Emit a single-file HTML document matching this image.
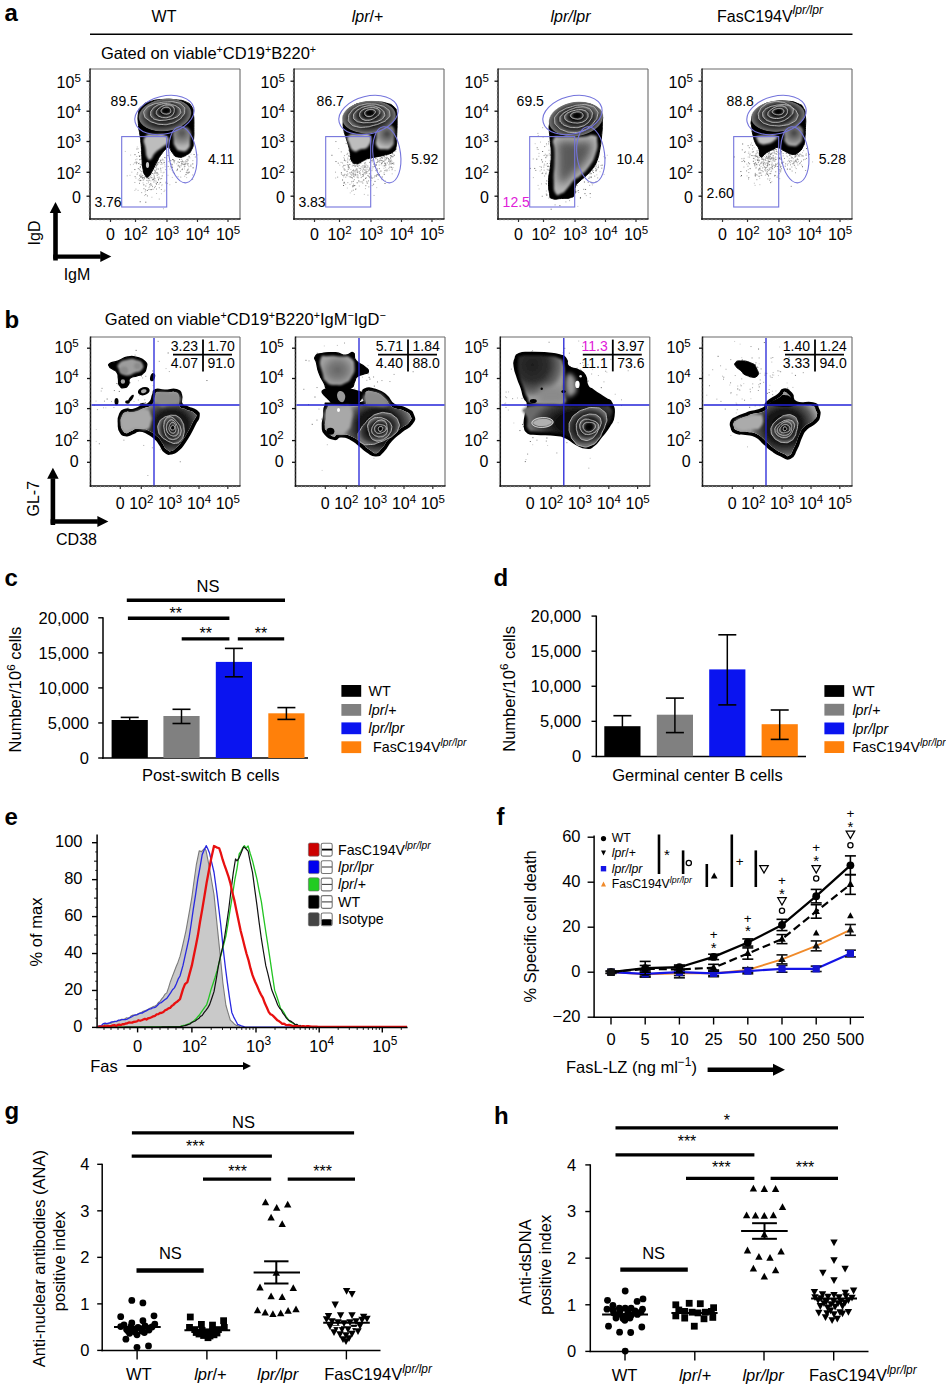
<!DOCTYPE html><html><head><meta charset="utf-8"><style>html,body{margin:0;padding:0;background:#fff;overflow:hidden}svg{display:block}</style></head><body><svg width="946" height="1385" viewBox="0 0 946 1385" font-family='"Liberation Sans", sans-serif'><defs><filter id="bl0" x="-30%" y="-30%" width="160%" height="160%"><feGaussianBlur stdDeviation="0.9"/></filter><radialGradient id="rg1" gradientUnits="userSpaceOnUse" cx="182" cy="133" r="14"><stop offset="0" stop-color="#505050"/><stop offset="0.6" stop-color="#8a8a8a"/><stop offset="1" stop-color="#b8b8b8"/></radialGradient><filter id="bl1" x="-30%" y="-30%" width="160%" height="160%"><feGaussianBlur stdDeviation="0.4"/></filter><radialGradient id="rg2" gradientUnits="userSpaceOnUse" cx="165" cy="115" r="10" gradientTransform="translate(165 115) rotate(-4) scale(2.7 1.65) translate(-165 -115)"><stop offset="0" stop-color="#000"/><stop offset="0.55" stop-color="#101010"/><stop offset="0.82" stop-color="#4a4a4a"/><stop offset="0.95" stop-color="#707070"/><stop offset="1" stop-color="#707070" stop-opacity="0"/></radialGradient><radialGradient id="rg3" gradientUnits="userSpaceOnUse" cx="164.7" cy="112.9" r="10" gradientTransform="translate(164.7 112.9) rotate(-6) scale(1.99 1.26) translate(-164.7 -112.9)"><stop offset="0" stop-color="#000"/><stop offset="0.5" stop-color="#0a0a0a"/><stop offset="0.8" stop-color="#363636"/><stop offset="1" stop-color="#6e6e6e"/></radialGradient><radialGradient id="rg4" gradientUnits="userSpaceOnUse" cx="165.2" cy="112.1" r="10" gradientTransform="translate(165.2 112.1) rotate(-6) scale(1.47 0.92) translate(-165.2 -112.1)"><stop offset="0" stop-color="#000"/><stop offset="0.5" stop-color="#0a0a0a"/><stop offset="0.8" stop-color="#363636"/><stop offset="1" stop-color="#6e6e6e"/></radialGradient><radialGradient id="rg5" gradientUnits="userSpaceOnUse" cx="165.65" cy="111.4" r="10" gradientTransform="translate(165.65 111.4) rotate(-6) scale(1 0.63) translate(-165.65 -111.4)"><stop offset="0" stop-color="#000"/><stop offset="0.5" stop-color="#0a0a0a"/><stop offset="0.8" stop-color="#363636"/><stop offset="1" stop-color="#6e6e6e"/></radialGradient><radialGradient id="rg6" gradientUnits="userSpaceOnUse" cx="166.08" cy="110.72" r="10" gradientTransform="translate(166.08 110.72) rotate(-6) scale(0.55 0.35) translate(-166.08 -110.72)"><stop offset="0" stop-color="#000"/><stop offset="0.5" stop-color="#0a0a0a"/><stop offset="0.8" stop-color="#363636"/><stop offset="1" stop-color="#6e6e6e"/></radialGradient><filter id="bl2" x="-30%" y="-30%" width="160%" height="160%"><feGaussianBlur stdDeviation="1"/></filter><radialGradient id="rg7" gradientUnits="userSpaceOnUse" cx="387" cy="134" r="14"><stop offset="0" stop-color="#404040"/><stop offset="0.6" stop-color="#888"/><stop offset="1" stop-color="#bdbdbd"/></radialGradient><radialGradient id="rg8" gradientUnits="userSpaceOnUse" cx="369" cy="117" r="10" gradientTransform="translate(369 117) rotate(-3) scale(2.75 1.65) translate(-369 -117)"><stop offset="0" stop-color="#000"/><stop offset="0.55" stop-color="#101010"/><stop offset="0.82" stop-color="#4a4a4a"/><stop offset="0.95" stop-color="#707070"/><stop offset="1" stop-color="#707070" stop-opacity="0"/></radialGradient><radialGradient id="rg9" gradientUnits="userSpaceOnUse" cx="368.5" cy="115.5" r="10" gradientTransform="translate(368.5 115.5) rotate(-6) scale(2.05 1.26) translate(-368.5 -115.5)"><stop offset="0" stop-color="#000"/><stop offset="0.5" stop-color="#0a0a0a"/><stop offset="0.8" stop-color="#363636"/><stop offset="1" stop-color="#6e6e6e"/></radialGradient><radialGradient id="rg10" gradientUnits="userSpaceOnUse" cx="369" cy="114.6" r="10" gradientTransform="translate(369 114.6) rotate(-6) scale(1.52 0.95) translate(-369 -114.6)"><stop offset="0" stop-color="#000"/><stop offset="0.5" stop-color="#0a0a0a"/><stop offset="0.8" stop-color="#363636"/><stop offset="1" stop-color="#6e6e6e"/></radialGradient><radialGradient id="rg11" gradientUnits="userSpaceOnUse" cx="369.45" cy="113.76" r="10" gradientTransform="translate(369.45 113.76) rotate(-6) scale(1.05 0.65) translate(-369.45 -113.76)"><stop offset="0" stop-color="#000"/><stop offset="0.5" stop-color="#0a0a0a"/><stop offset="0.8" stop-color="#363636"/><stop offset="1" stop-color="#6e6e6e"/></radialGradient><radialGradient id="rg12" gradientUnits="userSpaceOnUse" cx="369.9" cy="112.92" r="10" gradientTransform="translate(369.9 112.92) rotate(-6) scale(0.58 0.36) translate(-369.9 -112.92)"><stop offset="0" stop-color="#000"/><stop offset="0.5" stop-color="#0a0a0a"/><stop offset="0.8" stop-color="#363636"/><stop offset="1" stop-color="#6e6e6e"/></radialGradient><filter id="bl3" x="-30%" y="-30%" width="160%" height="160%"><feGaussianBlur stdDeviation="0.8"/></filter><filter id="bl4" x="-30%" y="-30%" width="160%" height="160%"><feGaussianBlur stdDeviation="4"/></filter><radialGradient id="rg13" gradientUnits="userSpaceOnUse" cx="576" cy="119" r="10" gradientTransform="translate(576 119) rotate(-5) scale(2.8 1.75) translate(-576 -119)"><stop offset="0" stop-color="#000"/><stop offset="0.55" stop-color="#101010"/><stop offset="0.82" stop-color="#4a4a4a"/><stop offset="0.95" stop-color="#707070"/><stop offset="1" stop-color="#707070" stop-opacity="0"/></radialGradient><radialGradient id="rg14" gradientUnits="userSpaceOnUse" cx="576.3" cy="118.4" r="10" gradientTransform="translate(576.3 118.4) rotate(-6) scale(2.21 1.42) translate(-576.3 -118.4)"><stop offset="0" stop-color="#000"/><stop offset="0.5" stop-color="#0a0a0a"/><stop offset="0.8" stop-color="#363636"/><stop offset="1" stop-color="#6e6e6e"/></radialGradient><radialGradient id="rg15" gradientUnits="userSpaceOnUse" cx="576.55" cy="117.35" r="10" gradientTransform="translate(576.55 117.35) rotate(-6) scale(1.68 1.05) translate(-576.55 -117.35)"><stop offset="0" stop-color="#000"/><stop offset="0.5" stop-color="#0a0a0a"/><stop offset="0.8" stop-color="#363636"/><stop offset="1" stop-color="#6e6e6e"/></radialGradient><radialGradient id="rg16" gradientUnits="userSpaceOnUse" cx="576.8" cy="116.45" r="10" gradientTransform="translate(576.8 116.45) rotate(-6) scale(1.16 0.74) translate(-576.8 -116.45)"><stop offset="0" stop-color="#000"/><stop offset="0.5" stop-color="#0a0a0a"/><stop offset="0.8" stop-color="#363636"/><stop offset="1" stop-color="#6e6e6e"/></radialGradient><radialGradient id="rg17" gradientUnits="userSpaceOnUse" cx="577.05" cy="115.49" r="10" gradientTransform="translate(577.05 115.49) rotate(-6) scale(0.63 0.4) translate(-577.05 -115.49)"><stop offset="0" stop-color="#000"/><stop offset="0.5" stop-color="#0a0a0a"/><stop offset="0.8" stop-color="#363636"/><stop offset="1" stop-color="#6e6e6e"/></radialGradient><radialGradient id="rg18" gradientUnits="userSpaceOnUse" cx="794" cy="133" r="14"><stop offset="0" stop-color="#404040"/><stop offset="0.6" stop-color="#888"/><stop offset="1" stop-color="#bdbdbd"/></radialGradient><radialGradient id="rg19" gradientUnits="userSpaceOnUse" cx="778" cy="116" r="10" gradientTransform="translate(778 116) rotate(-3) scale(2.75 1.6) translate(-778 -116)"><stop offset="0" stop-color="#000"/><stop offset="0.55" stop-color="#101010"/><stop offset="0.82" stop-color="#4a4a4a"/><stop offset="0.95" stop-color="#707070"/><stop offset="1" stop-color="#707070" stop-opacity="0"/></radialGradient><radialGradient id="rg20" gradientUnits="userSpaceOnUse" cx="777.6" cy="114.2" r="10" gradientTransform="translate(777.6 114.2) rotate(-6) scale(2.05 1.26) translate(-777.6 -114.2)"><stop offset="0" stop-color="#000"/><stop offset="0.5" stop-color="#0a0a0a"/><stop offset="0.8" stop-color="#363636"/><stop offset="1" stop-color="#6e6e6e"/></radialGradient><radialGradient id="rg21" gradientUnits="userSpaceOnUse" cx="777.85" cy="113.3" r="10" gradientTransform="translate(777.85 113.3) rotate(-6) scale(1.52 0.95) translate(-777.85 -113.3)"><stop offset="0" stop-color="#000"/><stop offset="0.5" stop-color="#0a0a0a"/><stop offset="0.8" stop-color="#363636"/><stop offset="1" stop-color="#6e6e6e"/></radialGradient><radialGradient id="rg22" gradientUnits="userSpaceOnUse" cx="778.08" cy="112.4" r="10" gradientTransform="translate(778.08 112.4) rotate(-6) scale(1.05 0.63) translate(-778.08 -112.4)"><stop offset="0" stop-color="#000"/><stop offset="0.5" stop-color="#0a0a0a"/><stop offset="0.8" stop-color="#363636"/><stop offset="1" stop-color="#6e6e6e"/></radialGradient><radialGradient id="rg23" gradientUnits="userSpaceOnUse" cx="778.3" cy="111.62" r="10" gradientTransform="translate(778.3 111.62) rotate(-6) scale(0.58 0.36) translate(-778.3 -111.62)"><stop offset="0" stop-color="#000"/><stop offset="0.5" stop-color="#0a0a0a"/><stop offset="0.8" stop-color="#363636"/><stop offset="1" stop-color="#6e6e6e"/></radialGradient><radialGradient id="rg24" gradientUnits="userSpaceOnUse" cx="171.5" cy="427" r="10" gradientTransform="translate(171.5 427) rotate(0) scale(3 2.8) translate(-171.5 -427)"><stop offset="0" stop-color="#000"/><stop offset="0.5" stop-color="#1a1a1a"/><stop offset="0.8" stop-color="#5a5a5a"/><stop offset="1" stop-color="#9a9a9a"/></radialGradient><filter id="er0" x="-10%" y="-10%" width="120%" height="120%"><feMorphology operator="erode" radius="1.6"/></filter><filter id="er1" x="-10%" y="-10%" width="120%" height="120%"><feMorphology operator="erode" radius="2.4"/></filter><filter id="bl5" x="-30%" y="-30%" width="160%" height="160%"><feGaussianBlur stdDeviation="1.3"/></filter><filter id="bl6" x="-30%" y="-30%" width="160%" height="160%"><feGaussianBlur stdDeviation="1.5"/></filter><radialGradient id="rg25" gradientUnits="userSpaceOnUse" cx="171.7" cy="429" r="10" gradientTransform="translate(171.7 429) rotate(-5) scale(1.26 1.57) translate(-171.7 -429)"><stop offset="0" stop-color="#000"/><stop offset="0.5" stop-color="#0a0a0a"/><stop offset="0.8" stop-color="#363636"/><stop offset="1" stop-color="#6e6e6e"/></radialGradient><radialGradient id="rg26" gradientUnits="userSpaceOnUse" cx="172.05" cy="428.6" r="10" gradientTransform="translate(172.05 428.6) rotate(-5) scale(0.89 1.16) translate(-172.05 -428.6)"><stop offset="0" stop-color="#000"/><stop offset="0.5" stop-color="#0a0a0a"/><stop offset="0.8" stop-color="#363636"/><stop offset="1" stop-color="#6e6e6e"/></radialGradient><radialGradient id="rg27" gradientUnits="userSpaceOnUse" cx="172.3" cy="428.28" r="10" gradientTransform="translate(172.3 428.28) rotate(-5) scale(0.63 0.82) translate(-172.3 -428.28)"><stop offset="0" stop-color="#000"/><stop offset="0.5" stop-color="#0a0a0a"/><stop offset="0.8" stop-color="#363636"/><stop offset="1" stop-color="#6e6e6e"/></radialGradient><radialGradient id="rg28" gradientUnits="userSpaceOnUse" cx="172.52" cy="428" r="10" gradientTransform="translate(172.52 428) rotate(-5) scale(0.4 0.53) translate(-172.52 -428)"><stop offset="0" stop-color="#000"/><stop offset="0.5" stop-color="#0a0a0a"/><stop offset="0.8" stop-color="#363636"/><stop offset="1" stop-color="#6e6e6e"/></radialGradient><radialGradient id="rg29" gradientUnits="userSpaceOnUse" cx="172.7" cy="427.76" r="10" gradientTransform="translate(172.7 427.76) rotate(-5) scale(0.21 0.27) translate(-172.7 -427.76)"><stop offset="0" stop-color="#000"/><stop offset="0.5" stop-color="#0a0a0a"/><stop offset="0.8" stop-color="#363636"/><stop offset="1" stop-color="#6e6e6e"/></radialGradient><radialGradient id="rg30" gradientUnits="userSpaceOnUse" cx="337.5" cy="370" r="10" gradientTransform="translate(337.5 370) rotate(0) scale(1.7 1.5) translate(-337.5 -370)"><stop offset="0" stop-color="#666"/><stop offset="0.5" stop-color="#7a7a7a"/><stop offset="1" stop-color="#a0a0a0"/></radialGradient><filter id="bl7" x="-30%" y="-30%" width="160%" height="160%"><feGaussianBlur stdDeviation="0.6"/></filter><radialGradient id="rg31" gradientUnits="userSpaceOnUse" cx="378.5" cy="427" r="10" gradientTransform="translate(378.5 427) rotate(0) scale(3.4 2.8) translate(-378.5 -427)"><stop offset="0" stop-color="#000"/><stop offset="0.55" stop-color="#1a1a1a"/><stop offset="0.82" stop-color="#5a5a5a"/><stop offset="1" stop-color="#9a9a9a"/></radialGradient><radialGradient id="rg32" gradientUnits="userSpaceOnUse" cx="378.7" cy="428.8" r="10" gradientTransform="translate(378.7 428.8) rotate(-20) scale(2.1 1.52) translate(-378.7 -428.8)"><stop offset="0" stop-color="#000"/><stop offset="0.5" stop-color="#0a0a0a"/><stop offset="0.8" stop-color="#363636"/><stop offset="1" stop-color="#6e6e6e"/></radialGradient><radialGradient id="rg33" gradientUnits="userSpaceOnUse" cx="379.4" cy="428.8" r="10" gradientTransform="translate(379.4 428.8) rotate(-20) scale(1.36 1.1) translate(-379.4 -428.8)"><stop offset="0" stop-color="#000"/><stop offset="0.5" stop-color="#0a0a0a"/><stop offset="0.8" stop-color="#363636"/><stop offset="1" stop-color="#6e6e6e"/></radialGradient><radialGradient id="rg34" gradientUnits="userSpaceOnUse" cx="379.82" cy="428.8" r="10" gradientTransform="translate(379.82 428.8) rotate(-20) scale(0.92 0.79) translate(-379.82 -428.8)"><stop offset="0" stop-color="#000"/><stop offset="0.5" stop-color="#0a0a0a"/><stop offset="0.8" stop-color="#363636"/><stop offset="1" stop-color="#6e6e6e"/></radialGradient><radialGradient id="rg35" gradientUnits="userSpaceOnUse" cx="380.15" cy="428.8" r="10" gradientTransform="translate(380.15 428.8) rotate(-20) scale(0.58 0.5) translate(-380.15 -428.8)"><stop offset="0" stop-color="#000"/><stop offset="0.5" stop-color="#0a0a0a"/><stop offset="0.8" stop-color="#363636"/><stop offset="1" stop-color="#6e6e6e"/></radialGradient><radialGradient id="rg36" gradientUnits="userSpaceOnUse" cx="380.45" cy="428.8" r="10" gradientTransform="translate(380.45 428.8) rotate(-20) scale(0.26 0.24) translate(-380.45 -428.8)"><stop offset="0" stop-color="#000"/><stop offset="0.5" stop-color="#0a0a0a"/><stop offset="0.8" stop-color="#363636"/><stop offset="1" stop-color="#6e6e6e"/></radialGradient><radialGradient id="rg37" gradientUnits="userSpaceOnUse" cx="532.3" cy="365" r="10" gradientTransform="translate(532.3 365) rotate(0) scale(3.2 3.2) translate(-532.3 -365)"><stop offset="0" stop-color="#1e1e1e"/><stop offset="0.5" stop-color="#2e2e2e"/><stop offset="0.85" stop-color="#6a6a6a"/><stop offset="1" stop-color="#9a9a9a"/></radialGradient><filter id="bl8" x="-30%" y="-30%" width="160%" height="160%"><feGaussianBlur stdDeviation="3"/></filter><filter id="bl9" x="-30%" y="-30%" width="160%" height="160%"><feGaussianBlur stdDeviation="2"/></filter><radialGradient id="rg38" gradientUnits="userSpaceOnUse" cx="580.3" cy="423" r="10" gradientTransform="translate(580.3 423) rotate(0) scale(5 2.5) translate(-580.3 -423)"><stop offset="0" stop-color="#000"/><stop offset="0.5" stop-color="#111"/><stop offset="0.8" stop-color="#3a3a3a"/><stop offset="1" stop-color="#6a6a6a"/></radialGradient><radialGradient id="rg39" gradientUnits="userSpaceOnUse" cx="587.6" cy="426.3" r="10" gradientTransform="translate(587.6 426.3) rotate(-25) scale(2.15 1.79) translate(-587.6 -426.3)"><stop offset="0" stop-color="#000"/><stop offset="0.5" stop-color="#0a0a0a"/><stop offset="0.8" stop-color="#363636"/><stop offset="1" stop-color="#6e6e6e"/></radialGradient><radialGradient id="rg40" gradientUnits="userSpaceOnUse" cx="588.3" cy="426.57" r="10" gradientTransform="translate(588.3 426.57) rotate(-25) scale(1.42 1.21) translate(-588.3 -426.57)"><stop offset="0" stop-color="#000"/><stop offset="0.5" stop-color="#0a0a0a"/><stop offset="0.8" stop-color="#363636"/><stop offset="1" stop-color="#6e6e6e"/></radialGradient><radialGradient id="rg41" gradientUnits="userSpaceOnUse" cx="588.77" cy="426.75" r="10" gradientTransform="translate(588.77 426.75) rotate(-25) scale(0.92 0.84) translate(-588.77 -426.75)"><stop offset="0" stop-color="#000"/><stop offset="0.5" stop-color="#0a0a0a"/><stop offset="0.8" stop-color="#363636"/><stop offset="1" stop-color="#6e6e6e"/></radialGradient><radialGradient id="rg42" gradientUnits="userSpaceOnUse" cx="589.07" cy="426.89" r="10" gradientTransform="translate(589.07 426.89) rotate(-25) scale(0.61 0.55) translate(-589.07 -426.89)"><stop offset="0" stop-color="#000"/><stop offset="0.5" stop-color="#0a0a0a"/><stop offset="0.8" stop-color="#363636"/><stop offset="1" stop-color="#6e6e6e"/></radialGradient><radialGradient id="rg43" gradientUnits="userSpaceOnUse" cx="542.5" cy="422.5" r="10" gradientTransform="translate(542.5 422.5) rotate(-3) scale(1.08 0.5) translate(-542.5 -422.5)"><stop offset="0" stop-color="#000"/><stop offset="0.5" stop-color="#0d0d0d"/><stop offset="0.8" stop-color="#3a3a3a"/><stop offset="1" stop-color="#b0b0b0"/></radialGradient><filter id="bl10" x="-30%" y="-30%" width="160%" height="160%"><feGaussianBlur stdDeviation="0.5"/></filter><radialGradient id="rg44" gradientUnits="userSpaceOnUse" cx="784.5" cy="427" r="10" gradientTransform="translate(784.5 427) rotate(0) scale(3.2 3) translate(-784.5 -427)"><stop offset="0" stop-color="#000"/><stop offset="0.5" stop-color="#1a1a1a"/><stop offset="0.8" stop-color="#5a5a5a"/><stop offset="1" stop-color="#9a9a9a"/></radialGradient><filter id="bl11" x="-30%" y="-30%" width="160%" height="160%"><feGaussianBlur stdDeviation="1.2"/></filter><radialGradient id="rg45" gradientUnits="userSpaceOnUse" cx="784.9" cy="428.8" r="10" gradientTransform="translate(784.9 428.8) rotate(-10) scale(1.47 1.33) translate(-784.9 -428.8)"><stop offset="0" stop-color="#000"/><stop offset="0.5" stop-color="#0a0a0a"/><stop offset="0.8" stop-color="#363636"/><stop offset="1" stop-color="#6e6e6e"/></radialGradient><radialGradient id="rg46" gradientUnits="userSpaceOnUse" cx="784.9" cy="428.8" r="10" gradientTransform="translate(784.9 428.8) rotate(-10) scale(1.05 0.86) translate(-784.9 -428.8)"><stop offset="0" stop-color="#000"/><stop offset="0.5" stop-color="#0a0a0a"/><stop offset="0.8" stop-color="#363636"/><stop offset="1" stop-color="#6e6e6e"/></radialGradient><radialGradient id="rg47" gradientUnits="userSpaceOnUse" cx="784.9" cy="428.8" r="10" gradientTransform="translate(784.9 428.8) rotate(-10) scale(0.8 0.66) translate(-784.9 -428.8)"><stop offset="0" stop-color="#000"/><stop offset="0.5" stop-color="#0a0a0a"/><stop offset="0.8" stop-color="#363636"/><stop offset="1" stop-color="#6e6e6e"/></radialGradient><radialGradient id="rg48" gradientUnits="userSpaceOnUse" cx="784.9" cy="428.8" r="10" gradientTransform="translate(784.9 428.8) rotate(-10) scale(0.5 0.46) translate(-784.9 -428.8)"><stop offset="0" stop-color="#000"/><stop offset="0.5" stop-color="#0a0a0a"/><stop offset="0.8" stop-color="#363636"/><stop offset="1" stop-color="#6e6e6e"/></radialGradient><radialGradient id="rg49" gradientUnits="userSpaceOnUse" cx="784.9" cy="428.8" r="10" gradientTransform="translate(784.9 428.8) rotate(-10) scale(0.21 0.19) translate(-784.9 -428.8)"><stop offset="0" stop-color="#000"/><stop offset="0.5" stop-color="#0a0a0a"/><stop offset="0.8" stop-color="#363636"/><stop offset="1" stop-color="#6e6e6e"/></radialGradient></defs><rect width="946" height="1385" fill="#fff"/><text x="4.5" y="20.5" font-size="24" font-weight="bold">a</text>
<text x="164" y="22" font-size="16" text-anchor="middle">WT</text>
<text x="367.5" y="22" font-size="16" text-anchor="middle"><tspan font-style="italic">lpr</tspan><tspan>/+</tspan></text>
<text x="570.5" y="22" font-size="16" text-anchor="middle"><tspan font-style="italic">lpr</tspan><tspan font-style="italic">/</tspan><tspan font-style="italic">lpr</tspan></text>
<text x="717" y="22" font-size="16"><tspan>FasC194V</tspan><tspan font-size="12.16" dy="-8.32" font-style="italic">lpr/lpr</tspan></text>
<line x1="90" y1="34.2" x2="852.5" y2="34.2" stroke="#000" stroke-width="1.4"/>
<text x="101" y="58.6" font-size="16.5"><tspan>Gated on viable</tspan><tspan font-size="10.72" dy="-5.94">+</tspan><tspan dy="5.94">CD19</tspan><tspan font-size="10.72" dy="-5.94">+</tspan><tspan dy="5.94">B220</tspan><tspan font-size="10.72" dy="-5.94">+</tspan></text>
<line x1="90" y1="69" x2="240" y2="69" stroke="#6a6a6a" stroke-width="1.1"/>
<line x1="240" y1="69" x2="240" y2="219" stroke="#6a6a6a" stroke-width="1.1"/>
<line x1="90" y1="68.5" x2="90" y2="219.8" stroke="#151515" stroke-width="1.5"/>
<line x1="89.2" y1="219" x2="240.5" y2="219" stroke="#151515" stroke-width="1.5"/>
<line x1="88.5" y1="71" x2="90" y2="71" stroke="#999" stroke-width="0.7"/>
<line x1="88.5" y1="75" x2="90" y2="75" stroke="#999" stroke-width="0.7"/>
<line x1="88.5" y1="79" x2="90" y2="79" stroke="#999" stroke-width="0.7"/>
<line x1="88.5" y1="83" x2="90" y2="83" stroke="#999" stroke-width="0.7"/>
<line x1="88.5" y1="87" x2="90" y2="87" stroke="#999" stroke-width="0.7"/>
<line x1="88.5" y1="91" x2="90" y2="91" stroke="#999" stroke-width="0.7"/>
<line x1="88.5" y1="95" x2="90" y2="95" stroke="#999" stroke-width="0.7"/>
<line x1="88.5" y1="99" x2="90" y2="99" stroke="#999" stroke-width="0.7"/>
<line x1="88.5" y1="103" x2="90" y2="103" stroke="#999" stroke-width="0.7"/>
<line x1="88.5" y1="107" x2="90" y2="107" stroke="#999" stroke-width="0.7"/>
<line x1="88.5" y1="111" x2="90" y2="111" stroke="#999" stroke-width="0.7"/>
<line x1="88.5" y1="115" x2="90" y2="115" stroke="#999" stroke-width="0.7"/>
<line x1="88.5" y1="119" x2="90" y2="119" stroke="#999" stroke-width="0.7"/>
<line x1="88.5" y1="123" x2="90" y2="123" stroke="#999" stroke-width="0.7"/>
<line x1="88.5" y1="127" x2="90" y2="127" stroke="#999" stroke-width="0.7"/>
<line x1="88.5" y1="131" x2="90" y2="131" stroke="#999" stroke-width="0.7"/>
<line x1="88.5" y1="135" x2="90" y2="135" stroke="#999" stroke-width="0.7"/>
<line x1="88.5" y1="139" x2="90" y2="139" stroke="#999" stroke-width="0.7"/>
<line x1="88.5" y1="143" x2="90" y2="143" stroke="#999" stroke-width="0.7"/>
<line x1="88.5" y1="147" x2="90" y2="147" stroke="#999" stroke-width="0.7"/>
<line x1="88.5" y1="151" x2="90" y2="151" stroke="#999" stroke-width="0.7"/>
<line x1="88.5" y1="155" x2="90" y2="155" stroke="#999" stroke-width="0.7"/>
<line x1="88.5" y1="159" x2="90" y2="159" stroke="#999" stroke-width="0.7"/>
<line x1="88.5" y1="163" x2="90" y2="163" stroke="#999" stroke-width="0.7"/>
<line x1="88.5" y1="167" x2="90" y2="167" stroke="#999" stroke-width="0.7"/>
<line x1="88.5" y1="171" x2="90" y2="171" stroke="#999" stroke-width="0.7"/>
<line x1="88.5" y1="175" x2="90" y2="175" stroke="#999" stroke-width="0.7"/>
<line x1="88.5" y1="179" x2="90" y2="179" stroke="#999" stroke-width="0.7"/>
<line x1="88.5" y1="183" x2="90" y2="183" stroke="#999" stroke-width="0.7"/>
<line x1="88.5" y1="187" x2="90" y2="187" stroke="#999" stroke-width="0.7"/>
<line x1="88.5" y1="191" x2="90" y2="191" stroke="#999" stroke-width="0.7"/>
<line x1="88.5" y1="195" x2="90" y2="195" stroke="#999" stroke-width="0.7"/>
<line x1="88.5" y1="199" x2="90" y2="199" stroke="#999" stroke-width="0.7"/>
<line x1="88.5" y1="203" x2="90" y2="203" stroke="#999" stroke-width="0.7"/>
<line x1="88.5" y1="207" x2="90" y2="207" stroke="#999" stroke-width="0.7"/>
<line x1="88.5" y1="211" x2="90" y2="211" stroke="#999" stroke-width="0.7"/>
<line x1="88.5" y1="215" x2="90" y2="215" stroke="#999" stroke-width="0.7"/>
<line x1="92" y1="219" x2="92" y2="220.5" stroke="#999" stroke-width="0.7"/>
<line x1="96" y1="219" x2="96" y2="220.5" stroke="#999" stroke-width="0.7"/>
<line x1="100" y1="219" x2="100" y2="220.5" stroke="#999" stroke-width="0.7"/>
<line x1="104" y1="219" x2="104" y2="220.5" stroke="#999" stroke-width="0.7"/>
<line x1="108" y1="219" x2="108" y2="220.5" stroke="#999" stroke-width="0.7"/>
<line x1="112" y1="219" x2="112" y2="220.5" stroke="#999" stroke-width="0.7"/>
<line x1="116" y1="219" x2="116" y2="220.5" stroke="#999" stroke-width="0.7"/>
<line x1="120" y1="219" x2="120" y2="220.5" stroke="#999" stroke-width="0.7"/>
<line x1="124" y1="219" x2="124" y2="220.5" stroke="#999" stroke-width="0.7"/>
<line x1="128" y1="219" x2="128" y2="220.5" stroke="#999" stroke-width="0.7"/>
<line x1="132" y1="219" x2="132" y2="220.5" stroke="#999" stroke-width="0.7"/>
<line x1="136" y1="219" x2="136" y2="220.5" stroke="#999" stroke-width="0.7"/>
<line x1="140" y1="219" x2="140" y2="220.5" stroke="#999" stroke-width="0.7"/>
<line x1="144" y1="219" x2="144" y2="220.5" stroke="#999" stroke-width="0.7"/>
<line x1="148" y1="219" x2="148" y2="220.5" stroke="#999" stroke-width="0.7"/>
<line x1="152" y1="219" x2="152" y2="220.5" stroke="#999" stroke-width="0.7"/>
<line x1="156" y1="219" x2="156" y2="220.5" stroke="#999" stroke-width="0.7"/>
<line x1="160" y1="219" x2="160" y2="220.5" stroke="#999" stroke-width="0.7"/>
<line x1="164" y1="219" x2="164" y2="220.5" stroke="#999" stroke-width="0.7"/>
<line x1="168" y1="219" x2="168" y2="220.5" stroke="#999" stroke-width="0.7"/>
<line x1="172" y1="219" x2="172" y2="220.5" stroke="#999" stroke-width="0.7"/>
<line x1="176" y1="219" x2="176" y2="220.5" stroke="#999" stroke-width="0.7"/>
<line x1="180" y1="219" x2="180" y2="220.5" stroke="#999" stroke-width="0.7"/>
<line x1="184" y1="219" x2="184" y2="220.5" stroke="#999" stroke-width="0.7"/>
<line x1="188" y1="219" x2="188" y2="220.5" stroke="#999" stroke-width="0.7"/>
<line x1="192" y1="219" x2="192" y2="220.5" stroke="#999" stroke-width="0.7"/>
<line x1="196" y1="219" x2="196" y2="220.5" stroke="#999" stroke-width="0.7"/>
<line x1="200" y1="219" x2="200" y2="220.5" stroke="#999" stroke-width="0.7"/>
<line x1="204" y1="219" x2="204" y2="220.5" stroke="#999" stroke-width="0.7"/>
<line x1="208" y1="219" x2="208" y2="220.5" stroke="#999" stroke-width="0.7"/>
<line x1="212" y1="219" x2="212" y2="220.5" stroke="#999" stroke-width="0.7"/>
<line x1="216" y1="219" x2="216" y2="220.5" stroke="#999" stroke-width="0.7"/>
<line x1="220" y1="219" x2="220" y2="220.5" stroke="#999" stroke-width="0.7"/>
<line x1="224" y1="219" x2="224" y2="220.5" stroke="#999" stroke-width="0.7"/>
<line x1="228" y1="219" x2="228" y2="220.5" stroke="#999" stroke-width="0.7"/>
<line x1="232" y1="219" x2="232" y2="220.5" stroke="#999" stroke-width="0.7"/>
<line x1="236" y1="219" x2="236" y2="220.5" stroke="#999" stroke-width="0.7"/>
<line x1="86.5" y1="81.2" x2="90" y2="81.2" stroke="#111" stroke-width="1.3"/>
<text x="80.8" y="87.92" font-size="16" text-anchor="end"><tspan>10</tspan><tspan font-size="11.52" dy="-6.4">5</tspan></text>
<line x1="86.5" y1="111.2" x2="90" y2="111.2" stroke="#111" stroke-width="1.3"/>
<text x="80.8" y="117.92" font-size="16" text-anchor="end"><tspan>10</tspan><tspan font-size="11.52" dy="-6.4">4</tspan></text>
<line x1="86.5" y1="141.5" x2="90" y2="141.5" stroke="#111" stroke-width="1.3"/>
<text x="80.8" y="148.22" font-size="16" text-anchor="end"><tspan>10</tspan><tspan font-size="11.52" dy="-6.4">3</tspan></text>
<line x1="86.5" y1="172.3" x2="90" y2="172.3" stroke="#111" stroke-width="1.3"/>
<text x="80.8" y="179.02" font-size="16" text-anchor="end"><tspan>10</tspan><tspan font-size="11.52" dy="-6.4">2</tspan></text>
<line x1="86.5" y1="196.2" x2="90" y2="196.2" stroke="#111" stroke-width="1.3"/>
<text x="80.8" y="202.92" font-size="16" text-anchor="end">0</text>
<line x1="110.5" y1="219" x2="110.5" y2="222" stroke="#333" stroke-width="1.2"/>
<text x="110.5" y="240.4" font-size="16" text-anchor="middle">0</text>
<line x1="135.5" y1="219" x2="135.5" y2="222" stroke="#333" stroke-width="1.2"/>
<text x="135.5" y="240.4" font-size="16" text-anchor="middle"><tspan>10</tspan><tspan font-size="11.52" dy="-6.4">2</tspan></text>
<line x1="167" y1="219" x2="167" y2="222" stroke="#333" stroke-width="1.2"/>
<text x="167" y="240.4" font-size="16" text-anchor="middle"><tspan>10</tspan><tspan font-size="11.52" dy="-6.4">3</tspan></text>
<line x1="197.5" y1="219" x2="197.5" y2="222" stroke="#333" stroke-width="1.2"/>
<text x="197.5" y="240.4" font-size="16" text-anchor="middle"><tspan>10</tspan><tspan font-size="11.52" dy="-6.4">4</tspan></text>
<line x1="228" y1="219" x2="228" y2="222" stroke="#333" stroke-width="1.2"/>
<text x="228" y="240.4" font-size="16" text-anchor="middle"><tspan>10</tspan><tspan font-size="11.52" dy="-6.4">5</tspan></text>
<line x1="294" y1="69" x2="444" y2="69" stroke="#6a6a6a" stroke-width="1.1"/>
<line x1="444" y1="69" x2="444" y2="219" stroke="#6a6a6a" stroke-width="1.1"/>
<line x1="294" y1="68.5" x2="294" y2="219.8" stroke="#151515" stroke-width="1.5"/>
<line x1="293.2" y1="219" x2="444.5" y2="219" stroke="#151515" stroke-width="1.5"/>
<line x1="292.5" y1="71" x2="294" y2="71" stroke="#999" stroke-width="0.7"/>
<line x1="292.5" y1="75" x2="294" y2="75" stroke="#999" stroke-width="0.7"/>
<line x1="292.5" y1="79" x2="294" y2="79" stroke="#999" stroke-width="0.7"/>
<line x1="292.5" y1="83" x2="294" y2="83" stroke="#999" stroke-width="0.7"/>
<line x1="292.5" y1="87" x2="294" y2="87" stroke="#999" stroke-width="0.7"/>
<line x1="292.5" y1="91" x2="294" y2="91" stroke="#999" stroke-width="0.7"/>
<line x1="292.5" y1="95" x2="294" y2="95" stroke="#999" stroke-width="0.7"/>
<line x1="292.5" y1="99" x2="294" y2="99" stroke="#999" stroke-width="0.7"/>
<line x1="292.5" y1="103" x2="294" y2="103" stroke="#999" stroke-width="0.7"/>
<line x1="292.5" y1="107" x2="294" y2="107" stroke="#999" stroke-width="0.7"/>
<line x1="292.5" y1="111" x2="294" y2="111" stroke="#999" stroke-width="0.7"/>
<line x1="292.5" y1="115" x2="294" y2="115" stroke="#999" stroke-width="0.7"/>
<line x1="292.5" y1="119" x2="294" y2="119" stroke="#999" stroke-width="0.7"/>
<line x1="292.5" y1="123" x2="294" y2="123" stroke="#999" stroke-width="0.7"/>
<line x1="292.5" y1="127" x2="294" y2="127" stroke="#999" stroke-width="0.7"/>
<line x1="292.5" y1="131" x2="294" y2="131" stroke="#999" stroke-width="0.7"/>
<line x1="292.5" y1="135" x2="294" y2="135" stroke="#999" stroke-width="0.7"/>
<line x1="292.5" y1="139" x2="294" y2="139" stroke="#999" stroke-width="0.7"/>
<line x1="292.5" y1="143" x2="294" y2="143" stroke="#999" stroke-width="0.7"/>
<line x1="292.5" y1="147" x2="294" y2="147" stroke="#999" stroke-width="0.7"/>
<line x1="292.5" y1="151" x2="294" y2="151" stroke="#999" stroke-width="0.7"/>
<line x1="292.5" y1="155" x2="294" y2="155" stroke="#999" stroke-width="0.7"/>
<line x1="292.5" y1="159" x2="294" y2="159" stroke="#999" stroke-width="0.7"/>
<line x1="292.5" y1="163" x2="294" y2="163" stroke="#999" stroke-width="0.7"/>
<line x1="292.5" y1="167" x2="294" y2="167" stroke="#999" stroke-width="0.7"/>
<line x1="292.5" y1="171" x2="294" y2="171" stroke="#999" stroke-width="0.7"/>
<line x1="292.5" y1="175" x2="294" y2="175" stroke="#999" stroke-width="0.7"/>
<line x1="292.5" y1="179" x2="294" y2="179" stroke="#999" stroke-width="0.7"/>
<line x1="292.5" y1="183" x2="294" y2="183" stroke="#999" stroke-width="0.7"/>
<line x1="292.5" y1="187" x2="294" y2="187" stroke="#999" stroke-width="0.7"/>
<line x1="292.5" y1="191" x2="294" y2="191" stroke="#999" stroke-width="0.7"/>
<line x1="292.5" y1="195" x2="294" y2="195" stroke="#999" stroke-width="0.7"/>
<line x1="292.5" y1="199" x2="294" y2="199" stroke="#999" stroke-width="0.7"/>
<line x1="292.5" y1="203" x2="294" y2="203" stroke="#999" stroke-width="0.7"/>
<line x1="292.5" y1="207" x2="294" y2="207" stroke="#999" stroke-width="0.7"/>
<line x1="292.5" y1="211" x2="294" y2="211" stroke="#999" stroke-width="0.7"/>
<line x1="292.5" y1="215" x2="294" y2="215" stroke="#999" stroke-width="0.7"/>
<line x1="296" y1="219" x2="296" y2="220.5" stroke="#999" stroke-width="0.7"/>
<line x1="300" y1="219" x2="300" y2="220.5" stroke="#999" stroke-width="0.7"/>
<line x1="304" y1="219" x2="304" y2="220.5" stroke="#999" stroke-width="0.7"/>
<line x1="308" y1="219" x2="308" y2="220.5" stroke="#999" stroke-width="0.7"/>
<line x1="312" y1="219" x2="312" y2="220.5" stroke="#999" stroke-width="0.7"/>
<line x1="316" y1="219" x2="316" y2="220.5" stroke="#999" stroke-width="0.7"/>
<line x1="320" y1="219" x2="320" y2="220.5" stroke="#999" stroke-width="0.7"/>
<line x1="324" y1="219" x2="324" y2="220.5" stroke="#999" stroke-width="0.7"/>
<line x1="328" y1="219" x2="328" y2="220.5" stroke="#999" stroke-width="0.7"/>
<line x1="332" y1="219" x2="332" y2="220.5" stroke="#999" stroke-width="0.7"/>
<line x1="336" y1="219" x2="336" y2="220.5" stroke="#999" stroke-width="0.7"/>
<line x1="340" y1="219" x2="340" y2="220.5" stroke="#999" stroke-width="0.7"/>
<line x1="344" y1="219" x2="344" y2="220.5" stroke="#999" stroke-width="0.7"/>
<line x1="348" y1="219" x2="348" y2="220.5" stroke="#999" stroke-width="0.7"/>
<line x1="352" y1="219" x2="352" y2="220.5" stroke="#999" stroke-width="0.7"/>
<line x1="356" y1="219" x2="356" y2="220.5" stroke="#999" stroke-width="0.7"/>
<line x1="360" y1="219" x2="360" y2="220.5" stroke="#999" stroke-width="0.7"/>
<line x1="364" y1="219" x2="364" y2="220.5" stroke="#999" stroke-width="0.7"/>
<line x1="368" y1="219" x2="368" y2="220.5" stroke="#999" stroke-width="0.7"/>
<line x1="372" y1="219" x2="372" y2="220.5" stroke="#999" stroke-width="0.7"/>
<line x1="376" y1="219" x2="376" y2="220.5" stroke="#999" stroke-width="0.7"/>
<line x1="380" y1="219" x2="380" y2="220.5" stroke="#999" stroke-width="0.7"/>
<line x1="384" y1="219" x2="384" y2="220.5" stroke="#999" stroke-width="0.7"/>
<line x1="388" y1="219" x2="388" y2="220.5" stroke="#999" stroke-width="0.7"/>
<line x1="392" y1="219" x2="392" y2="220.5" stroke="#999" stroke-width="0.7"/>
<line x1="396" y1="219" x2="396" y2="220.5" stroke="#999" stroke-width="0.7"/>
<line x1="400" y1="219" x2="400" y2="220.5" stroke="#999" stroke-width="0.7"/>
<line x1="404" y1="219" x2="404" y2="220.5" stroke="#999" stroke-width="0.7"/>
<line x1="408" y1="219" x2="408" y2="220.5" stroke="#999" stroke-width="0.7"/>
<line x1="412" y1="219" x2="412" y2="220.5" stroke="#999" stroke-width="0.7"/>
<line x1="416" y1="219" x2="416" y2="220.5" stroke="#999" stroke-width="0.7"/>
<line x1="420" y1="219" x2="420" y2="220.5" stroke="#999" stroke-width="0.7"/>
<line x1="424" y1="219" x2="424" y2="220.5" stroke="#999" stroke-width="0.7"/>
<line x1="428" y1="219" x2="428" y2="220.5" stroke="#999" stroke-width="0.7"/>
<line x1="432" y1="219" x2="432" y2="220.5" stroke="#999" stroke-width="0.7"/>
<line x1="436" y1="219" x2="436" y2="220.5" stroke="#999" stroke-width="0.7"/>
<line x1="440" y1="219" x2="440" y2="220.5" stroke="#999" stroke-width="0.7"/>
<line x1="290.5" y1="81.2" x2="294" y2="81.2" stroke="#111" stroke-width="1.3"/>
<text x="284.8" y="87.92" font-size="16" text-anchor="end"><tspan>10</tspan><tspan font-size="11.52" dy="-6.4">5</tspan></text>
<line x1="290.5" y1="111.2" x2="294" y2="111.2" stroke="#111" stroke-width="1.3"/>
<text x="284.8" y="117.92" font-size="16" text-anchor="end"><tspan>10</tspan><tspan font-size="11.52" dy="-6.4">4</tspan></text>
<line x1="290.5" y1="141.5" x2="294" y2="141.5" stroke="#111" stroke-width="1.3"/>
<text x="284.8" y="148.22" font-size="16" text-anchor="end"><tspan>10</tspan><tspan font-size="11.52" dy="-6.4">3</tspan></text>
<line x1="290.5" y1="172.3" x2="294" y2="172.3" stroke="#111" stroke-width="1.3"/>
<text x="284.8" y="179.02" font-size="16" text-anchor="end"><tspan>10</tspan><tspan font-size="11.52" dy="-6.4">2</tspan></text>
<line x1="290.5" y1="196.2" x2="294" y2="196.2" stroke="#111" stroke-width="1.3"/>
<text x="284.8" y="202.92" font-size="16" text-anchor="end">0</text>
<line x1="314.5" y1="219" x2="314.5" y2="222" stroke="#333" stroke-width="1.2"/>
<text x="314.5" y="240.4" font-size="16" text-anchor="middle">0</text>
<line x1="339.5" y1="219" x2="339.5" y2="222" stroke="#333" stroke-width="1.2"/>
<text x="339.5" y="240.4" font-size="16" text-anchor="middle"><tspan>10</tspan><tspan font-size="11.52" dy="-6.4">2</tspan></text>
<line x1="371" y1="219" x2="371" y2="222" stroke="#333" stroke-width="1.2"/>
<text x="371" y="240.4" font-size="16" text-anchor="middle"><tspan>10</tspan><tspan font-size="11.52" dy="-6.4">3</tspan></text>
<line x1="401.5" y1="219" x2="401.5" y2="222" stroke="#333" stroke-width="1.2"/>
<text x="401.5" y="240.4" font-size="16" text-anchor="middle"><tspan>10</tspan><tspan font-size="11.52" dy="-6.4">4</tspan></text>
<line x1="432" y1="219" x2="432" y2="222" stroke="#333" stroke-width="1.2"/>
<text x="432" y="240.4" font-size="16" text-anchor="middle"><tspan>10</tspan><tspan font-size="11.52" dy="-6.4">5</tspan></text>
<line x1="498" y1="69" x2="648" y2="69" stroke="#6a6a6a" stroke-width="1.1"/>
<line x1="648" y1="69" x2="648" y2="219" stroke="#6a6a6a" stroke-width="1.1"/>
<line x1="498" y1="68.5" x2="498" y2="219.8" stroke="#151515" stroke-width="1.5"/>
<line x1="497.2" y1="219" x2="648.5" y2="219" stroke="#151515" stroke-width="1.5"/>
<line x1="496.5" y1="71" x2="498" y2="71" stroke="#999" stroke-width="0.7"/>
<line x1="496.5" y1="75" x2="498" y2="75" stroke="#999" stroke-width="0.7"/>
<line x1="496.5" y1="79" x2="498" y2="79" stroke="#999" stroke-width="0.7"/>
<line x1="496.5" y1="83" x2="498" y2="83" stroke="#999" stroke-width="0.7"/>
<line x1="496.5" y1="87" x2="498" y2="87" stroke="#999" stroke-width="0.7"/>
<line x1="496.5" y1="91" x2="498" y2="91" stroke="#999" stroke-width="0.7"/>
<line x1="496.5" y1="95" x2="498" y2="95" stroke="#999" stroke-width="0.7"/>
<line x1="496.5" y1="99" x2="498" y2="99" stroke="#999" stroke-width="0.7"/>
<line x1="496.5" y1="103" x2="498" y2="103" stroke="#999" stroke-width="0.7"/>
<line x1="496.5" y1="107" x2="498" y2="107" stroke="#999" stroke-width="0.7"/>
<line x1="496.5" y1="111" x2="498" y2="111" stroke="#999" stroke-width="0.7"/>
<line x1="496.5" y1="115" x2="498" y2="115" stroke="#999" stroke-width="0.7"/>
<line x1="496.5" y1="119" x2="498" y2="119" stroke="#999" stroke-width="0.7"/>
<line x1="496.5" y1="123" x2="498" y2="123" stroke="#999" stroke-width="0.7"/>
<line x1="496.5" y1="127" x2="498" y2="127" stroke="#999" stroke-width="0.7"/>
<line x1="496.5" y1="131" x2="498" y2="131" stroke="#999" stroke-width="0.7"/>
<line x1="496.5" y1="135" x2="498" y2="135" stroke="#999" stroke-width="0.7"/>
<line x1="496.5" y1="139" x2="498" y2="139" stroke="#999" stroke-width="0.7"/>
<line x1="496.5" y1="143" x2="498" y2="143" stroke="#999" stroke-width="0.7"/>
<line x1="496.5" y1="147" x2="498" y2="147" stroke="#999" stroke-width="0.7"/>
<line x1="496.5" y1="151" x2="498" y2="151" stroke="#999" stroke-width="0.7"/>
<line x1="496.5" y1="155" x2="498" y2="155" stroke="#999" stroke-width="0.7"/>
<line x1="496.5" y1="159" x2="498" y2="159" stroke="#999" stroke-width="0.7"/>
<line x1="496.5" y1="163" x2="498" y2="163" stroke="#999" stroke-width="0.7"/>
<line x1="496.5" y1="167" x2="498" y2="167" stroke="#999" stroke-width="0.7"/>
<line x1="496.5" y1="171" x2="498" y2="171" stroke="#999" stroke-width="0.7"/>
<line x1="496.5" y1="175" x2="498" y2="175" stroke="#999" stroke-width="0.7"/>
<line x1="496.5" y1="179" x2="498" y2="179" stroke="#999" stroke-width="0.7"/>
<line x1="496.5" y1="183" x2="498" y2="183" stroke="#999" stroke-width="0.7"/>
<line x1="496.5" y1="187" x2="498" y2="187" stroke="#999" stroke-width="0.7"/>
<line x1="496.5" y1="191" x2="498" y2="191" stroke="#999" stroke-width="0.7"/>
<line x1="496.5" y1="195" x2="498" y2="195" stroke="#999" stroke-width="0.7"/>
<line x1="496.5" y1="199" x2="498" y2="199" stroke="#999" stroke-width="0.7"/>
<line x1="496.5" y1="203" x2="498" y2="203" stroke="#999" stroke-width="0.7"/>
<line x1="496.5" y1="207" x2="498" y2="207" stroke="#999" stroke-width="0.7"/>
<line x1="496.5" y1="211" x2="498" y2="211" stroke="#999" stroke-width="0.7"/>
<line x1="496.5" y1="215" x2="498" y2="215" stroke="#999" stroke-width="0.7"/>
<line x1="500" y1="219" x2="500" y2="220.5" stroke="#999" stroke-width="0.7"/>
<line x1="504" y1="219" x2="504" y2="220.5" stroke="#999" stroke-width="0.7"/>
<line x1="508" y1="219" x2="508" y2="220.5" stroke="#999" stroke-width="0.7"/>
<line x1="512" y1="219" x2="512" y2="220.5" stroke="#999" stroke-width="0.7"/>
<line x1="516" y1="219" x2="516" y2="220.5" stroke="#999" stroke-width="0.7"/>
<line x1="520" y1="219" x2="520" y2="220.5" stroke="#999" stroke-width="0.7"/>
<line x1="524" y1="219" x2="524" y2="220.5" stroke="#999" stroke-width="0.7"/>
<line x1="528" y1="219" x2="528" y2="220.5" stroke="#999" stroke-width="0.7"/>
<line x1="532" y1="219" x2="532" y2="220.5" stroke="#999" stroke-width="0.7"/>
<line x1="536" y1="219" x2="536" y2="220.5" stroke="#999" stroke-width="0.7"/>
<line x1="540" y1="219" x2="540" y2="220.5" stroke="#999" stroke-width="0.7"/>
<line x1="544" y1="219" x2="544" y2="220.5" stroke="#999" stroke-width="0.7"/>
<line x1="548" y1="219" x2="548" y2="220.5" stroke="#999" stroke-width="0.7"/>
<line x1="552" y1="219" x2="552" y2="220.5" stroke="#999" stroke-width="0.7"/>
<line x1="556" y1="219" x2="556" y2="220.5" stroke="#999" stroke-width="0.7"/>
<line x1="560" y1="219" x2="560" y2="220.5" stroke="#999" stroke-width="0.7"/>
<line x1="564" y1="219" x2="564" y2="220.5" stroke="#999" stroke-width="0.7"/>
<line x1="568" y1="219" x2="568" y2="220.5" stroke="#999" stroke-width="0.7"/>
<line x1="572" y1="219" x2="572" y2="220.5" stroke="#999" stroke-width="0.7"/>
<line x1="576" y1="219" x2="576" y2="220.5" stroke="#999" stroke-width="0.7"/>
<line x1="580" y1="219" x2="580" y2="220.5" stroke="#999" stroke-width="0.7"/>
<line x1="584" y1="219" x2="584" y2="220.5" stroke="#999" stroke-width="0.7"/>
<line x1="588" y1="219" x2="588" y2="220.5" stroke="#999" stroke-width="0.7"/>
<line x1="592" y1="219" x2="592" y2="220.5" stroke="#999" stroke-width="0.7"/>
<line x1="596" y1="219" x2="596" y2="220.5" stroke="#999" stroke-width="0.7"/>
<line x1="600" y1="219" x2="600" y2="220.5" stroke="#999" stroke-width="0.7"/>
<line x1="604" y1="219" x2="604" y2="220.5" stroke="#999" stroke-width="0.7"/>
<line x1="608" y1="219" x2="608" y2="220.5" stroke="#999" stroke-width="0.7"/>
<line x1="612" y1="219" x2="612" y2="220.5" stroke="#999" stroke-width="0.7"/>
<line x1="616" y1="219" x2="616" y2="220.5" stroke="#999" stroke-width="0.7"/>
<line x1="620" y1="219" x2="620" y2="220.5" stroke="#999" stroke-width="0.7"/>
<line x1="624" y1="219" x2="624" y2="220.5" stroke="#999" stroke-width="0.7"/>
<line x1="628" y1="219" x2="628" y2="220.5" stroke="#999" stroke-width="0.7"/>
<line x1="632" y1="219" x2="632" y2="220.5" stroke="#999" stroke-width="0.7"/>
<line x1="636" y1="219" x2="636" y2="220.5" stroke="#999" stroke-width="0.7"/>
<line x1="640" y1="219" x2="640" y2="220.5" stroke="#999" stroke-width="0.7"/>
<line x1="644" y1="219" x2="644" y2="220.5" stroke="#999" stroke-width="0.7"/>
<line x1="494.5" y1="81.2" x2="498" y2="81.2" stroke="#111" stroke-width="1.3"/>
<text x="488.8" y="87.92" font-size="16" text-anchor="end"><tspan>10</tspan><tspan font-size="11.52" dy="-6.4">5</tspan></text>
<line x1="494.5" y1="111.2" x2="498" y2="111.2" stroke="#111" stroke-width="1.3"/>
<text x="488.8" y="117.92" font-size="16" text-anchor="end"><tspan>10</tspan><tspan font-size="11.52" dy="-6.4">4</tspan></text>
<line x1="494.5" y1="141.5" x2="498" y2="141.5" stroke="#111" stroke-width="1.3"/>
<text x="488.8" y="148.22" font-size="16" text-anchor="end"><tspan>10</tspan><tspan font-size="11.52" dy="-6.4">3</tspan></text>
<line x1="494.5" y1="172.3" x2="498" y2="172.3" stroke="#111" stroke-width="1.3"/>
<text x="488.8" y="179.02" font-size="16" text-anchor="end"><tspan>10</tspan><tspan font-size="11.52" dy="-6.4">2</tspan></text>
<line x1="494.5" y1="196.2" x2="498" y2="196.2" stroke="#111" stroke-width="1.3"/>
<text x="488.8" y="202.92" font-size="16" text-anchor="end">0</text>
<line x1="518.5" y1="219" x2="518.5" y2="222" stroke="#333" stroke-width="1.2"/>
<text x="518.5" y="240.4" font-size="16" text-anchor="middle">0</text>
<line x1="543.5" y1="219" x2="543.5" y2="222" stroke="#333" stroke-width="1.2"/>
<text x="543.5" y="240.4" font-size="16" text-anchor="middle"><tspan>10</tspan><tspan font-size="11.52" dy="-6.4">2</tspan></text>
<line x1="575" y1="219" x2="575" y2="222" stroke="#333" stroke-width="1.2"/>
<text x="575" y="240.4" font-size="16" text-anchor="middle"><tspan>10</tspan><tspan font-size="11.52" dy="-6.4">3</tspan></text>
<line x1="605.5" y1="219" x2="605.5" y2="222" stroke="#333" stroke-width="1.2"/>
<text x="605.5" y="240.4" font-size="16" text-anchor="middle"><tspan>10</tspan><tspan font-size="11.52" dy="-6.4">4</tspan></text>
<line x1="636" y1="219" x2="636" y2="222" stroke="#333" stroke-width="1.2"/>
<text x="636" y="240.4" font-size="16" text-anchor="middle"><tspan>10</tspan><tspan font-size="11.52" dy="-6.4">5</tspan></text>
<line x1="702" y1="69" x2="852" y2="69" stroke="#6a6a6a" stroke-width="1.1"/>
<line x1="852" y1="69" x2="852" y2="219" stroke="#6a6a6a" stroke-width="1.1"/>
<line x1="702" y1="68.5" x2="702" y2="219.8" stroke="#151515" stroke-width="1.5"/>
<line x1="701.2" y1="219" x2="852.5" y2="219" stroke="#151515" stroke-width="1.5"/>
<line x1="700.5" y1="71" x2="702" y2="71" stroke="#999" stroke-width="0.7"/>
<line x1="700.5" y1="75" x2="702" y2="75" stroke="#999" stroke-width="0.7"/>
<line x1="700.5" y1="79" x2="702" y2="79" stroke="#999" stroke-width="0.7"/>
<line x1="700.5" y1="83" x2="702" y2="83" stroke="#999" stroke-width="0.7"/>
<line x1="700.5" y1="87" x2="702" y2="87" stroke="#999" stroke-width="0.7"/>
<line x1="700.5" y1="91" x2="702" y2="91" stroke="#999" stroke-width="0.7"/>
<line x1="700.5" y1="95" x2="702" y2="95" stroke="#999" stroke-width="0.7"/>
<line x1="700.5" y1="99" x2="702" y2="99" stroke="#999" stroke-width="0.7"/>
<line x1="700.5" y1="103" x2="702" y2="103" stroke="#999" stroke-width="0.7"/>
<line x1="700.5" y1="107" x2="702" y2="107" stroke="#999" stroke-width="0.7"/>
<line x1="700.5" y1="111" x2="702" y2="111" stroke="#999" stroke-width="0.7"/>
<line x1="700.5" y1="115" x2="702" y2="115" stroke="#999" stroke-width="0.7"/>
<line x1="700.5" y1="119" x2="702" y2="119" stroke="#999" stroke-width="0.7"/>
<line x1="700.5" y1="123" x2="702" y2="123" stroke="#999" stroke-width="0.7"/>
<line x1="700.5" y1="127" x2="702" y2="127" stroke="#999" stroke-width="0.7"/>
<line x1="700.5" y1="131" x2="702" y2="131" stroke="#999" stroke-width="0.7"/>
<line x1="700.5" y1="135" x2="702" y2="135" stroke="#999" stroke-width="0.7"/>
<line x1="700.5" y1="139" x2="702" y2="139" stroke="#999" stroke-width="0.7"/>
<line x1="700.5" y1="143" x2="702" y2="143" stroke="#999" stroke-width="0.7"/>
<line x1="700.5" y1="147" x2="702" y2="147" stroke="#999" stroke-width="0.7"/>
<line x1="700.5" y1="151" x2="702" y2="151" stroke="#999" stroke-width="0.7"/>
<line x1="700.5" y1="155" x2="702" y2="155" stroke="#999" stroke-width="0.7"/>
<line x1="700.5" y1="159" x2="702" y2="159" stroke="#999" stroke-width="0.7"/>
<line x1="700.5" y1="163" x2="702" y2="163" stroke="#999" stroke-width="0.7"/>
<line x1="700.5" y1="167" x2="702" y2="167" stroke="#999" stroke-width="0.7"/>
<line x1="700.5" y1="171" x2="702" y2="171" stroke="#999" stroke-width="0.7"/>
<line x1="700.5" y1="175" x2="702" y2="175" stroke="#999" stroke-width="0.7"/>
<line x1="700.5" y1="179" x2="702" y2="179" stroke="#999" stroke-width="0.7"/>
<line x1="700.5" y1="183" x2="702" y2="183" stroke="#999" stroke-width="0.7"/>
<line x1="700.5" y1="187" x2="702" y2="187" stroke="#999" stroke-width="0.7"/>
<line x1="700.5" y1="191" x2="702" y2="191" stroke="#999" stroke-width="0.7"/>
<line x1="700.5" y1="195" x2="702" y2="195" stroke="#999" stroke-width="0.7"/>
<line x1="700.5" y1="199" x2="702" y2="199" stroke="#999" stroke-width="0.7"/>
<line x1="700.5" y1="203" x2="702" y2="203" stroke="#999" stroke-width="0.7"/>
<line x1="700.5" y1="207" x2="702" y2="207" stroke="#999" stroke-width="0.7"/>
<line x1="700.5" y1="211" x2="702" y2="211" stroke="#999" stroke-width="0.7"/>
<line x1="700.5" y1="215" x2="702" y2="215" stroke="#999" stroke-width="0.7"/>
<line x1="704" y1="219" x2="704" y2="220.5" stroke="#999" stroke-width="0.7"/>
<line x1="708" y1="219" x2="708" y2="220.5" stroke="#999" stroke-width="0.7"/>
<line x1="712" y1="219" x2="712" y2="220.5" stroke="#999" stroke-width="0.7"/>
<line x1="716" y1="219" x2="716" y2="220.5" stroke="#999" stroke-width="0.7"/>
<line x1="720" y1="219" x2="720" y2="220.5" stroke="#999" stroke-width="0.7"/>
<line x1="724" y1="219" x2="724" y2="220.5" stroke="#999" stroke-width="0.7"/>
<line x1="728" y1="219" x2="728" y2="220.5" stroke="#999" stroke-width="0.7"/>
<line x1="732" y1="219" x2="732" y2="220.5" stroke="#999" stroke-width="0.7"/>
<line x1="736" y1="219" x2="736" y2="220.5" stroke="#999" stroke-width="0.7"/>
<line x1="740" y1="219" x2="740" y2="220.5" stroke="#999" stroke-width="0.7"/>
<line x1="744" y1="219" x2="744" y2="220.5" stroke="#999" stroke-width="0.7"/>
<line x1="748" y1="219" x2="748" y2="220.5" stroke="#999" stroke-width="0.7"/>
<line x1="752" y1="219" x2="752" y2="220.5" stroke="#999" stroke-width="0.7"/>
<line x1="756" y1="219" x2="756" y2="220.5" stroke="#999" stroke-width="0.7"/>
<line x1="760" y1="219" x2="760" y2="220.5" stroke="#999" stroke-width="0.7"/>
<line x1="764" y1="219" x2="764" y2="220.5" stroke="#999" stroke-width="0.7"/>
<line x1="768" y1="219" x2="768" y2="220.5" stroke="#999" stroke-width="0.7"/>
<line x1="772" y1="219" x2="772" y2="220.5" stroke="#999" stroke-width="0.7"/>
<line x1="776" y1="219" x2="776" y2="220.5" stroke="#999" stroke-width="0.7"/>
<line x1="780" y1="219" x2="780" y2="220.5" stroke="#999" stroke-width="0.7"/>
<line x1="784" y1="219" x2="784" y2="220.5" stroke="#999" stroke-width="0.7"/>
<line x1="788" y1="219" x2="788" y2="220.5" stroke="#999" stroke-width="0.7"/>
<line x1="792" y1="219" x2="792" y2="220.5" stroke="#999" stroke-width="0.7"/>
<line x1="796" y1="219" x2="796" y2="220.5" stroke="#999" stroke-width="0.7"/>
<line x1="800" y1="219" x2="800" y2="220.5" stroke="#999" stroke-width="0.7"/>
<line x1="804" y1="219" x2="804" y2="220.5" stroke="#999" stroke-width="0.7"/>
<line x1="808" y1="219" x2="808" y2="220.5" stroke="#999" stroke-width="0.7"/>
<line x1="812" y1="219" x2="812" y2="220.5" stroke="#999" stroke-width="0.7"/>
<line x1="816" y1="219" x2="816" y2="220.5" stroke="#999" stroke-width="0.7"/>
<line x1="820" y1="219" x2="820" y2="220.5" stroke="#999" stroke-width="0.7"/>
<line x1="824" y1="219" x2="824" y2="220.5" stroke="#999" stroke-width="0.7"/>
<line x1="828" y1="219" x2="828" y2="220.5" stroke="#999" stroke-width="0.7"/>
<line x1="832" y1="219" x2="832" y2="220.5" stroke="#999" stroke-width="0.7"/>
<line x1="836" y1="219" x2="836" y2="220.5" stroke="#999" stroke-width="0.7"/>
<line x1="840" y1="219" x2="840" y2="220.5" stroke="#999" stroke-width="0.7"/>
<line x1="844" y1="219" x2="844" y2="220.5" stroke="#999" stroke-width="0.7"/>
<line x1="848" y1="219" x2="848" y2="220.5" stroke="#999" stroke-width="0.7"/>
<line x1="698.5" y1="81.2" x2="702" y2="81.2" stroke="#111" stroke-width="1.3"/>
<text x="692.8" y="87.92" font-size="16" text-anchor="end"><tspan>10</tspan><tspan font-size="11.52" dy="-6.4">5</tspan></text>
<line x1="698.5" y1="111.2" x2="702" y2="111.2" stroke="#111" stroke-width="1.3"/>
<text x="692.8" y="117.92" font-size="16" text-anchor="end"><tspan>10</tspan><tspan font-size="11.52" dy="-6.4">4</tspan></text>
<line x1="698.5" y1="141.5" x2="702" y2="141.5" stroke="#111" stroke-width="1.3"/>
<text x="692.8" y="148.22" font-size="16" text-anchor="end"><tspan>10</tspan><tspan font-size="11.52" dy="-6.4">3</tspan></text>
<line x1="698.5" y1="172.3" x2="702" y2="172.3" stroke="#111" stroke-width="1.3"/>
<text x="692.8" y="179.02" font-size="16" text-anchor="end"><tspan>10</tspan><tspan font-size="11.52" dy="-6.4">2</tspan></text>
<line x1="698.5" y1="196.2" x2="702" y2="196.2" stroke="#111" stroke-width="1.3"/>
<text x="692.8" y="202.92" font-size="16" text-anchor="end">0</text>
<line x1="722.5" y1="219" x2="722.5" y2="222" stroke="#333" stroke-width="1.2"/>
<text x="722.5" y="240.4" font-size="16" text-anchor="middle">0</text>
<line x1="747.5" y1="219" x2="747.5" y2="222" stroke="#333" stroke-width="1.2"/>
<text x="747.5" y="240.4" font-size="16" text-anchor="middle"><tspan>10</tspan><tspan font-size="11.52" dy="-6.4">2</tspan></text>
<line x1="779" y1="219" x2="779" y2="222" stroke="#333" stroke-width="1.2"/>
<text x="779" y="240.4" font-size="16" text-anchor="middle"><tspan>10</tspan><tspan font-size="11.52" dy="-6.4">3</tspan></text>
<line x1="809.5" y1="219" x2="809.5" y2="222" stroke="#333" stroke-width="1.2"/>
<text x="809.5" y="240.4" font-size="16" text-anchor="middle"><tspan>10</tspan><tspan font-size="11.52" dy="-6.4">4</tspan></text>
<line x1="840" y1="219" x2="840" y2="222" stroke="#333" stroke-width="1.2"/>
<text x="840" y="240.4" font-size="16" text-anchor="middle"><tspan>10</tspan><tspan font-size="11.52" dy="-6.4">5</tspan></text>
<g><rect x="140.48" y="173.41" width="1" height="1" fill="#aaa"/><rect x="134.62" y="176.12" width="1" height="1" fill="#888"/><rect x="155.8" y="182.78" width="1" height="1" fill="#c4c4c4"/><rect x="147.14" y="163.02" width="1" height="1" fill="#aaa"/><rect x="150.21" y="173.85" width="1" height="1" fill="#c4c4c4"/><rect x="143.46" y="155.42" width="1" height="1" fill="#aaa"/><rect x="164.29" y="164.34" width="1" height="1" fill="#bbb"/><rect x="144.11" y="153.8" width="1" height="1" fill="#bbb"/><rect x="153.74" y="169.85" width="1" height="1" fill="#888"/><rect x="138.84" y="155.28" width="1" height="1" fill="#999"/><rect x="135.39" y="177.62" width="1" height="1" fill="#bbb"/><rect x="152.27" y="179.29" width="1" height="1" fill="#666"/><rect x="146.3" y="156.25" width="1" height="1" fill="#999"/><rect x="142.01" y="177.6" width="1" height="1" fill="#666"/><rect x="149.45" y="157.58" width="1" height="1" fill="#888"/><rect x="149.3" y="168.24" width="1" height="1" fill="#bbb"/><rect x="152.43" y="155.42" width="1" height="1" fill="#999"/><rect x="134.36" y="189.92" width="1" height="1" fill="#c4c4c4"/><rect x="157.67" y="168.53" width="1" height="1" fill="#666"/><rect x="126.71" y="175.33" width="1" height="1" fill="#aaa"/><rect x="141.31" y="176.61" width="1" height="1" fill="#888"/><rect x="152.77" y="158.36" width="1" height="1" fill="#666"/><rect x="150.91" y="170.61" width="1" height="1" fill="#aaa"/><rect x="151.73" y="161.99" width="1" height="1" fill="#888"/><rect x="151.14" y="166.64" width="1" height="1" fill="#aaa"/><rect x="153.14" y="160.72" width="1" height="1" fill="#bbb"/><rect x="155.55" y="182.86" width="1" height="1" fill="#c4c4c4"/><rect x="152.65" y="155.05" width="1" height="1" fill="#aaa"/><rect x="158.5" y="177.58" width="1" height="1" fill="#888"/><rect x="169.49" y="168.58" width="1" height="1" fill="#bbb"/><rect x="145.26" y="193.98" width="1" height="1" fill="#888"/><rect x="162.94" y="208.25" width="1" height="1" fill="#bbb"/><rect x="148.9" y="163.85" width="1" height="1" fill="#888"/><rect x="153.09" y="178.28" width="1" height="1" fill="#bbb"/><rect x="147.91" y="178.09" width="1" height="1" fill="#666"/><rect x="157" y="172.5" width="1" height="1" fill="#c4c4c4"/><rect x="152.04" y="186.11" width="1" height="1" fill="#999"/><rect x="148.12" y="163.79" width="1" height="1" fill="#bbb"/><rect x="139.79" y="170.24" width="1" height="1" fill="#aaa"/><rect x="153.63" y="175.36" width="1" height="1" fill="#888"/><rect x="154.32" y="159.53" width="1" height="1" fill="#888"/><rect x="158.39" y="183.86" width="1" height="1" fill="#bbb"/><rect x="158.76" y="198.56" width="1" height="1" fill="#aaa"/><rect x="144.01" y="160.26" width="1" height="1" fill="#666"/><rect x="159.85" y="178.36" width="1" height="1" fill="#999"/><rect x="152.52" y="188.75" width="1" height="1" fill="#999"/><rect x="134.35" y="181.96" width="1" height="1" fill="#aaa"/><rect x="149.99" y="176.28" width="1" height="1" fill="#c4c4c4"/><rect x="156.13" y="167.53" width="1" height="1" fill="#aaa"/><rect x="135.11" y="159.23" width="1" height="1" fill="#bbb"/><rect x="157.06" y="172.54" width="1" height="1" fill="#888"/><rect x="151.48" y="163.58" width="1" height="1" fill="#aaa"/><rect x="148.5" y="170.04" width="1" height="1" fill="#888"/><rect x="149.29" y="184.18" width="1" height="1" fill="#888"/><rect x="155.61" y="172.38" width="1" height="1" fill="#aaa"/><rect x="164.57" y="166.18" width="1" height="1" fill="#c4c4c4"/><rect x="129.9" y="164.17" width="1" height="1" fill="#bbb"/><rect x="153.17" y="169.04" width="1" height="1" fill="#999"/><rect x="144.5" y="136.72" width="1" height="1" fill="#666"/><rect x="148.61" y="165.53" width="1" height="1" fill="#666"/><rect x="150.54" y="157.19" width="1" height="1" fill="#666"/><rect x="161.57" y="175.94" width="1" height="1" fill="#c4c4c4"/><rect x="171.8" y="176.91" width="1" height="1" fill="#c4c4c4"/><rect x="146.92" y="146.39" width="1" height="1" fill="#999"/><rect x="143.33" y="184.35" width="1" height="1" fill="#666"/><rect x="157.95" y="158.72" width="1" height="1" fill="#666"/><rect x="159.18" y="155.67" width="1" height="1" fill="#bbb"/><rect x="146.9" y="157.69" width="1" height="1" fill="#666"/><rect x="148.65" y="165.14" width="1" height="1" fill="#c4c4c4"/><rect x="156.69" y="175.16" width="1" height="1" fill="#aaa"/><rect x="150.28" y="155.73" width="1" height="1" fill="#c4c4c4"/><rect x="148.08" y="154.99" width="1" height="1" fill="#aaa"/><rect x="153.48" y="163.88" width="1" height="1" fill="#bbb"/><rect x="163.49" y="171.78" width="1" height="1" fill="#aaa"/><rect x="173.89" y="173.06" width="1" height="1" fill="#666"/><rect x="139.08" y="168.81" width="1" height="1" fill="#aaa"/><rect x="151.45" y="170.46" width="1" height="1" fill="#999"/><rect x="159.2" y="182.51" width="1" height="1" fill="#bbb"/><rect x="160.97" y="193.22" width="1" height="1" fill="#c4c4c4"/><rect x="161.07" y="162.02" width="1" height="1" fill="#888"/><rect x="145.3" y="185.54" width="1" height="1" fill="#888"/><rect x="140.7" y="150.98" width="1" height="1" fill="#888"/><rect x="157.97" y="159.75" width="1" height="1" fill="#bbb"/><rect x="156.93" y="164.24" width="1" height="1" fill="#888"/><rect x="134.36" y="169.05" width="1" height="1" fill="#666"/><rect x="146.18" y="137.62" width="1" height="1" fill="#999"/><rect x="153.42" y="162.78" width="1" height="1" fill="#aaa"/><rect x="150.52" y="177.41" width="1" height="1" fill="#aaa"/><rect x="143.43" y="179.1" width="1" height="1" fill="#c4c4c4"/><rect x="144.63" y="191.28" width="1" height="1" fill="#bbb"/><rect x="148.11" y="170.01" width="1" height="1" fill="#666"/><rect x="149.34" y="186" width="1" height="1" fill="#c4c4c4"/><rect x="148.49" y="152.16" width="1" height="1" fill="#999"/><rect x="144.64" y="154.99" width="1" height="1" fill="#c4c4c4"/><rect x="158.01" y="179.29" width="1" height="1" fill="#666"/><rect x="152.35" y="158.34" width="1" height="1" fill="#888"/><rect x="159.01" y="132.72" width="1" height="1" fill="#666"/><rect x="139.52" y="174.55" width="1" height="1" fill="#c4c4c4"/><rect x="145.99" y="158.9" width="1" height="1" fill="#666"/><rect x="149.1" y="160.56" width="1" height="1" fill="#aaa"/><rect x="150.96" y="189.06" width="1" height="1" fill="#aaa"/><rect x="149.12" y="167.73" width="1" height="1" fill="#888"/><rect x="150.34" y="180.36" width="1" height="1" fill="#c4c4c4"/><rect x="161.52" y="163.48" width="1" height="1" fill="#888"/><rect x="138.99" y="182.79" width="1" height="1" fill="#888"/><rect x="169.34" y="184.23" width="1" height="1" fill="#c4c4c4"/><rect x="143.99" y="177.71" width="1" height="1" fill="#888"/><rect x="137.58" y="148.26" width="1" height="1" fill="#aaa"/><rect x="139.05" y="162.66" width="1" height="1" fill="#bbb"/><rect x="157.76" y="138.6" width="1" height="1" fill="#aaa"/><rect x="139.68" y="201.25" width="1" height="1" fill="#666"/><rect x="148.58" y="144.86" width="1" height="1" fill="#c4c4c4"/><rect x="155.61" y="165.44" width="1" height="1" fill="#888"/><rect x="171.93" y="147.06" width="1" height="1" fill="#999"/><rect x="136.01" y="163.21" width="1" height="1" fill="#999"/><rect x="150.43" y="189.13" width="1" height="1" fill="#666"/><rect x="149.33" y="172.9" width="1" height="1" fill="#aaa"/><rect x="146.35" y="179.89" width="1" height="1" fill="#999"/><rect x="149.35" y="168.75" width="1" height="1" fill="#666"/><rect x="149.33" y="170" width="1" height="1" fill="#bbb"/><rect x="143.43" y="188.21" width="1" height="1" fill="#888"/><rect x="160.32" y="159.31" width="1" height="1" fill="#c4c4c4"/><rect x="143.42" y="139.37" width="1" height="1" fill="#aaa"/><rect x="139.4" y="159.04" width="1" height="1" fill="#888"/><rect x="140.81" y="174.68" width="1" height="1" fill="#c4c4c4"/><rect x="146.5" y="165.56" width="1" height="1" fill="#bbb"/><rect x="157.9" y="154.64" width="1" height="1" fill="#999"/><rect x="140.87" y="140.02" width="1" height="1" fill="#bbb"/><rect x="156.05" y="192.99" width="1" height="1" fill="#bbb"/><rect x="139.89" y="165.93" width="1" height="1" fill="#888"/><rect x="147.74" y="171.89" width="1" height="1" fill="#666"/><rect x="149.81" y="166.61" width="1" height="1" fill="#666"/><rect x="142.44" y="167.18" width="1" height="1" fill="#bbb"/><rect x="154.37" y="172.49" width="1" height="1" fill="#888"/><rect x="161.75" y="175.01" width="1" height="1" fill="#aaa"/><rect x="165.7" y="157.36" width="1" height="1" fill="#aaa"/><rect x="150.27" y="183.11" width="1" height="1" fill="#888"/><rect x="141.16" y="192.13" width="1" height="1" fill="#aaa"/><rect x="147.24" y="167.53" width="1" height="1" fill="#aaa"/><rect x="136.37" y="148.52" width="1" height="1" fill="#888"/><rect x="144.16" y="134.34" width="1" height="1" fill="#666"/><rect x="153.72" y="177.27" width="1" height="1" fill="#c4c4c4"/><rect x="148.43" y="188.87" width="1" height="1" fill="#888"/><rect x="148.41" y="164.32" width="1" height="1" fill="#c4c4c4"/><rect x="136.21" y="155.95" width="1" height="1" fill="#bbb"/><rect x="151.48" y="177.13" width="1" height="1" fill="#bbb"/><rect x="152.91" y="166.55" width="1" height="1" fill="#c4c4c4"/><rect x="142.05" y="176.76" width="1" height="1" fill="#888"/><rect x="134.04" y="162.33" width="1" height="1" fill="#bbb"/><rect x="144.37" y="156.3" width="1" height="1" fill="#bbb"/><rect x="137.95" y="151.95" width="1" height="1" fill="#888"/><rect x="162.39" y="159.18" width="1" height="1" fill="#999"/><rect x="157.92" y="162" width="1" height="1" fill="#999"/><rect x="156.08" y="163.07" width="1" height="1" fill="#888"/><rect x="155.17" y="163.97" width="1" height="1" fill="#888"/><rect x="154.1" y="172.63" width="1" height="1" fill="#aaa"/><rect x="165.44" y="182.56" width="1" height="1" fill="#aaa"/><rect x="137.96" y="163.05" width="1" height="1" fill="#888"/><rect x="140.29" y="179.84" width="1" height="1" fill="#666"/><rect x="161.13" y="178.08" width="1" height="1" fill="#999"/><rect x="171.58" y="150.44" width="1" height="1" fill="#666"/><rect x="147.91" y="150.79" width="1" height="1" fill="#999"/><rect x="137.81" y="168.15" width="1" height="1" fill="#888"/><rect x="154.87" y="154.4" width="1" height="1" fill="#666"/><rect x="162.59" y="172.34" width="1" height="1" fill="#bbb"/><rect x="160.03" y="160.14" width="1" height="1" fill="#888"/><rect x="153.93" y="176.55" width="1" height="1" fill="#888"/><rect x="172.05" y="166.69" width="1" height="1" fill="#666"/><rect x="147.26" y="165.14" width="1" height="1" fill="#c4c4c4"/><rect x="136.62" y="173.72" width="1" height="1" fill="#999"/><rect x="144.15" y="177.18" width="1" height="1" fill="#999"/><rect x="140.46" y="175.99" width="1" height="1" fill="#666"/><rect x="149.77" y="165.7" width="1" height="1" fill="#888"/><rect x="155.64" y="181.49" width="1" height="1" fill="#c4c4c4"/><rect x="137.57" y="189.87" width="1" height="1" fill="#bbb"/><rect x="156.99" y="181.92" width="1" height="1" fill="#666"/><rect x="149.81" y="173.4" width="1" height="1" fill="#c4c4c4"/><rect x="165.48" y="148.46" width="1" height="1" fill="#aaa"/><rect x="146.19" y="164.91" width="1" height="1" fill="#bbb"/><rect x="167.67" y="165.95" width="1" height="1" fill="#999"/><rect x="150.67" y="174.85" width="1" height="1" fill="#c4c4c4"/><rect x="154.39" y="145" width="1" height="1" fill="#aaa"/><rect x="156.89" y="177.14" width="1" height="1" fill="#bbb"/><rect x="146.28" y="147.62" width="1" height="1" fill="#888"/><rect x="139.54" y="180.12" width="1" height="1" fill="#666"/><rect x="153.74" y="157.97" width="1" height="1" fill="#666"/><rect x="159.92" y="169.31" width="1" height="1" fill="#c4c4c4"/><rect x="153.85" y="166.12" width="1" height="1" fill="#999"/><rect x="164.03" y="161.94" width="1" height="1" fill="#999"/><rect x="153.45" y="181.47" width="1" height="1" fill="#888"/><rect x="142.75" y="165.83" width="1" height="1" fill="#aaa"/><rect x="142.74" y="152.75" width="1" height="1" fill="#aaa"/><rect x="153.42" y="168.15" width="1" height="1" fill="#bbb"/><rect x="156.65" y="174.5" width="1" height="1" fill="#aaa"/><rect x="149.14" y="170.93" width="1" height="1" fill="#888"/><rect x="150.71" y="166.97" width="1" height="1" fill="#999"/><rect x="151.39" y="196.75" width="1" height="1" fill="#bbb"/><rect x="142.47" y="165.11" width="1" height="1" fill="#bbb"/><rect x="124.78" y="150.93" width="1" height="1" fill="#c4c4c4"/><rect x="139.34" y="174.91" width="1" height="1" fill="#bbb"/><rect x="139.08" y="155.88" width="1" height="1" fill="#666"/><rect x="135.43" y="188.6" width="1" height="1" fill="#aaa"/><rect x="146.11" y="169.9" width="1" height="1" fill="#aaa"/><rect x="139.79" y="163.94" width="1" height="1" fill="#aaa"/><rect x="160.35" y="163.92" width="1" height="1" fill="#bbb"/><rect x="145.24" y="175.2" width="1" height="1" fill="#bbb"/><rect x="148.57" y="186.99" width="1" height="1" fill="#bbb"/><rect x="163.5" y="160.27" width="1" height="1" fill="#c4c4c4"/><rect x="151.07" y="170.59" width="1" height="1" fill="#888"/><rect x="140.56" y="159.05" width="1" height="1" fill="#aaa"/><rect x="151.76" y="155.58" width="1" height="1" fill="#999"/><rect x="151.47" y="164.33" width="1" height="1" fill="#c4c4c4"/><rect x="154.8" y="166.76" width="1" height="1" fill="#888"/><rect x="142.23" y="174.85" width="1" height="1" fill="#888"/><rect x="155.43" y="170.17" width="1" height="1" fill="#c4c4c4"/><rect x="155.73" y="164.59" width="1" height="1" fill="#888"/><rect x="147.96" y="164.6" width="1" height="1" fill="#bbb"/><rect x="147.59" y="171.74" width="1" height="1" fill="#666"/><rect x="148.26" y="174.41" width="1" height="1" fill="#999"/><rect x="138.99" y="175.28" width="1" height="1" fill="#aaa"/><rect x="141.15" y="157.48" width="1" height="1" fill="#c4c4c4"/><rect x="137.84" y="179.42" width="1" height="1" fill="#bbb"/><rect x="153.44" y="162.03" width="1" height="1" fill="#999"/><rect x="150.85" y="158.95" width="1" height="1" fill="#666"/><rect x="143.77" y="168.29" width="1" height="1" fill="#bbb"/><rect x="145.5" y="159.83" width="1" height="1" fill="#999"/><rect x="140.34" y="155.2" width="1" height="1" fill="#c4c4c4"/><rect x="140.81" y="158.47" width="1" height="1" fill="#888"/><rect x="154.01" y="177.64" width="1" height="1" fill="#c4c4c4"/><rect x="167.46" y="155.01" width="1" height="1" fill="#666"/><rect x="150.64" y="167.2" width="1" height="1" fill="#999"/><rect x="140.29" y="176.73" width="1" height="1" fill="#666"/><rect x="152.75" y="178.84" width="1" height="1" fill="#666"/><rect x="156.05" y="164.49" width="1" height="1" fill="#888"/><rect x="145.59" y="159.28" width="1" height="1" fill="#aaa"/><rect x="146.52" y="177.88" width="1" height="1" fill="#aaa"/><rect x="150.94" y="143.69" width="1" height="1" fill="#666"/><rect x="154.66" y="155.1" width="1" height="1" fill="#bbb"/><rect x="159.59" y="149.56" width="1" height="1" fill="#aaa"/><rect x="145.32" y="173.1" width="1" height="1" fill="#888"/><rect x="142.59" y="182.39" width="1" height="1" fill="#bbb"/><rect x="146.32" y="183.09" width="1" height="1" fill="#c4c4c4"/><rect x="154.14" y="161.14" width="1" height="1" fill="#c4c4c4"/><rect x="148.73" y="172.8" width="1" height="1" fill="#999"/><rect x="154.8" y="171.06" width="1" height="1" fill="#bbb"/><rect x="136.44" y="158.6" width="1" height="1" fill="#aaa"/><rect x="146.8" y="189.92" width="1" height="1" fill="#666"/><rect x="144.2" y="195.06" width="1" height="1" fill="#bbb"/><rect x="158.17" y="173.93" width="1" height="1" fill="#c4c4c4"/><rect x="152.21" y="156.96" width="1" height="1" fill="#888"/><rect x="154.07" y="187.16" width="1" height="1" fill="#999"/><rect x="148.5" y="173.34" width="1" height="1" fill="#c4c4c4"/><rect x="140.23" y="174.83" width="1" height="1" fill="#c4c4c4"/><rect x="159.77" y="161.27" width="1" height="1" fill="#999"/><rect x="145.35" y="170.88" width="1" height="1" fill="#c4c4c4"/><rect x="156.87" y="162.47" width="1" height="1" fill="#999"/><rect x="152.44" y="165.97" width="1" height="1" fill="#c4c4c4"/><rect x="144.44" y="176.35" width="1" height="1" fill="#888"/><rect x="150.9" y="156.07" width="1" height="1" fill="#aaa"/><rect x="134.93" y="162.26" width="1" height="1" fill="#bbb"/><rect x="153.22" y="173.56" width="1" height="1" fill="#aaa"/><rect x="156.86" y="161.31" width="1" height="1" fill="#666"/><rect x="152.06" y="172.91" width="1" height="1" fill="#888"/><rect x="130.13" y="154.57" width="1" height="1" fill="#c4c4c4"/><rect x="156.64" y="157.07" width="1" height="1" fill="#bbb"/><rect x="136.33" y="161.86" width="1" height="1" fill="#666"/><rect x="147.86" y="177.46" width="1" height="1" fill="#666"/><rect x="154.55" y="165.26" width="1" height="1" fill="#c4c4c4"/><rect x="149.18" y="163.66" width="1" height="1" fill="#c4c4c4"/><rect x="138.97" y="178.15" width="1" height="1" fill="#aaa"/><rect x="152.55" y="152.79" width="1" height="1" fill="#aaa"/><rect x="145.06" y="175.77" width="1" height="1" fill="#999"/><rect x="146.58" y="155.1" width="1" height="1" fill="#bbb"/><rect x="152.68" y="163.75" width="1" height="1" fill="#bbb"/><rect x="159.46" y="161.69" width="1" height="1" fill="#c4c4c4"/><rect x="151.04" y="169.43" width="1" height="1" fill="#aaa"/><rect x="160.98" y="144.95" width="1" height="1" fill="#bbb"/><rect x="144.53" y="156.28" width="1" height="1" fill="#c4c4c4"/><rect x="155.83" y="168.9" width="1" height="1" fill="#aaa"/><rect x="157.33" y="163.56" width="1" height="1" fill="#888"/><rect x="160.22" y="167.79" width="1" height="1" fill="#888"/><rect x="147.65" y="180.15" width="1" height="1" fill="#bbb"/><rect x="145.29" y="201.7" width="1" height="1" fill="#666"/><rect x="137.15" y="172.26" width="1" height="1" fill="#999"/><rect x="142.19" y="150.48" width="1" height="1" fill="#888"/><rect x="164.32" y="157.1" width="1" height="1" fill="#666"/><rect x="134.47" y="154.15" width="1" height="1" fill="#666"/><rect x="149.21" y="176.47" width="1" height="1" fill="#999"/><rect x="152.84" y="177.83" width="1" height="1" fill="#c4c4c4"/><rect x="140.94" y="171.22" width="1" height="1" fill="#aaa"/><rect x="154.4" y="178.19" width="1" height="1" fill="#888"/><rect x="169.43" y="152.21" width="1" height="1" fill="#c4c4c4"/><rect x="135.67" y="161.35" width="1" height="1" fill="#aaa"/><rect x="157.77" y="156.58" width="1" height="1" fill="#aaa"/><rect x="158.57" y="162.4" width="1" height="1" fill="#bbb"/><rect x="152.04" y="162.83" width="1" height="1" fill="#888"/><rect x="146.41" y="173.88" width="1" height="1" fill="#888"/><rect x="154.32" y="156.35" width="1" height="1" fill="#bbb"/><rect x="155.8" y="146.95" width="1" height="1" fill="#666"/><rect x="147.86" y="160.49" width="1" height="1" fill="#666"/><rect x="165.23" y="148.43" width="1" height="1" fill="#aaa"/><rect x="155.62" y="148.83" width="1" height="1" fill="#bbb"/><rect x="158.09" y="158.96" width="1" height="1" fill="#999"/><rect x="163.58" y="190.92" width="1" height="1" fill="#bbb"/><rect x="161.56" y="184.19" width="1" height="1" fill="#bbb"/><rect x="150.35" y="184.49" width="1" height="1" fill="#888"/><rect x="146.43" y="164.94" width="1" height="1" fill="#888"/><rect x="159.05" y="145.84" width="1" height="1" fill="#888"/><rect x="157.7" y="173.6" width="1" height="1" fill="#c4c4c4"/><rect x="132.89" y="163.73" width="1" height="1" fill="#c4c4c4"/><rect x="129.48" y="174.84" width="1" height="1" fill="#bbb"/><rect x="141.21" y="164.34" width="1" height="1" fill="#666"/><rect x="153.79" y="155.41" width="1" height="1" fill="#c4c4c4"/><rect x="165.66" y="181.66" width="1" height="1" fill="#888"/><rect x="160.54" y="171.61" width="1" height="1" fill="#aaa"/><rect x="160.83" y="189.03" width="1" height="1" fill="#999"/><rect x="147.8" y="180.63" width="1" height="1" fill="#bbb"/><rect x="148.04" y="182.2" width="1" height="1" fill="#c4c4c4"/><rect x="154.73" y="170.59" width="1" height="1" fill="#888"/><rect x="158.59" y="176.53" width="1" height="1" fill="#aaa"/><rect x="151.17" y="145.73" width="1" height="1" fill="#666"/><rect x="150.69" y="166.81" width="1" height="1" fill="#aaa"/><rect x="149.07" y="154.16" width="1" height="1" fill="#999"/><rect x="142.34" y="162.86" width="1" height="1" fill="#666"/><rect x="162.23" y="148.79" width="1" height="1" fill="#c4c4c4"/><rect x="154.84" y="185.83" width="1" height="1" fill="#999"/><rect x="136.78" y="146.48" width="1" height="1" fill="#c4c4c4"/><rect x="149.06" y="179.76" width="1" height="1" fill="#aaa"/><rect x="147.89" y="166.6" width="1" height="1" fill="#888"/><rect x="156.01" y="188.55" width="1" height="1" fill="#999"/><rect x="148.86" y="178.18" width="1" height="1" fill="#aaa"/><rect x="150.18" y="156.99" width="1" height="1" fill="#aaa"/><rect x="155.65" y="172.42" width="1" height="1" fill="#666"/><rect x="160.11" y="181.98" width="1" height="1" fill="#888"/><rect x="155.39" y="180.43" width="1" height="1" fill="#aaa"/><rect x="148.23" y="165.39" width="1" height="1" fill="#888"/><rect x="177.57" y="176.26" width="1" height="1" fill="#aaa"/><rect x="148.59" y="171.29" width="1" height="1" fill="#aaa"/><rect x="155.91" y="165.35" width="1" height="1" fill="#888"/><rect x="153.27" y="144.52" width="1" height="1" fill="#aaa"/><rect x="131.32" y="171.67" width="1" height="1" fill="#bbb"/><rect x="160.56" y="169.77" width="1" height="1" fill="#c4c4c4"/><rect x="144.95" y="189.38" width="1" height="1" fill="#888"/><rect x="144.91" y="153.45" width="1" height="1" fill="#666"/><rect x="151.11" y="176.89" width="1" height="1" fill="#999"/><rect x="149.01" y="163.5" width="1" height="1" fill="#aaa"/><rect x="153.76" y="179.73" width="1" height="1" fill="#999"/><rect x="157.13" y="152.58" width="1" height="1" fill="#888"/><rect x="151.23" y="184.67" width="1" height="1" fill="#999"/><rect x="143.49" y="164.88" width="1" height="1" fill="#bbb"/><rect x="139.78" y="167.07" width="1" height="1" fill="#888"/><rect x="162.31" y="167.2" width="1" height="1" fill="#c4c4c4"/><rect x="145.85" y="139.14" width="1" height="1" fill="#bbb"/><rect x="163.39" y="162.3" width="1" height="1" fill="#888"/><rect x="152.31" y="161.56" width="1" height="1" fill="#aaa"/><rect x="139.17" y="159.21" width="1" height="1" fill="#999"/><rect x="166.81" y="182.88" width="1" height="1" fill="#999"/><rect x="146.99" y="170.04" width="1" height="1" fill="#c4c4c4"/><rect x="164.33" y="189.68" width="1" height="1" fill="#bbb"/><rect x="148.37" y="167.15" width="1" height="1" fill="#999"/><rect x="158.8" y="187.26" width="1" height="1" fill="#999"/><rect x="147.8" y="164.54" width="1" height="1" fill="#666"/><rect x="146.89" y="195.41" width="1" height="1" fill="#888"/><rect x="151.95" y="156.17" width="1" height="1" fill="#888"/><rect x="155.97" y="183.56" width="1" height="1" fill="#666"/><rect x="142.73" y="172.24" width="1" height="1" fill="#c4c4c4"/><rect x="161.26" y="185.17" width="1" height="1" fill="#c4c4c4"/><rect x="161.85" y="158.54" width="1" height="1" fill="#c4c4c4"/><rect x="152.04" y="166.27" width="1" height="1" fill="#888"/><rect x="149.51" y="170.27" width="1" height="1" fill="#bbb"/><rect x="142.67" y="179.55" width="1" height="1" fill="#888"/><rect x="149.04" y="174.41" width="1" height="1" fill="#888"/><rect x="144.14" y="163.66" width="1" height="1" fill="#c4c4c4"/><rect x="154.55" y="148.18" width="1" height="1" fill="#888"/><rect x="142.84" y="177.22" width="1" height="1" fill="#666"/><rect x="142.4" y="171.02" width="1" height="1" fill="#bbb"/><rect x="161.42" y="159.79" width="1" height="1" fill="#aaa"/><rect x="151.61" y="153.51" width="1" height="1" fill="#aaa"/><rect x="160.81" y="146.78" width="1" height="1" fill="#aaa"/></g>
<g><rect x="187.18" y="172.03" width="1" height="1" fill="#c4c4c4"/><rect x="180.25" y="176.61" width="1" height="1" fill="#aaa"/><rect x="185.06" y="152.54" width="1" height="1" fill="#bbb"/><rect x="172.08" y="159.07" width="1" height="1" fill="#666"/><rect x="177.01" y="169.19" width="1" height="1" fill="#666"/><rect x="188.64" y="172.04" width="1" height="1" fill="#888"/><rect x="180.28" y="153.45" width="1" height="1" fill="#c4c4c4"/><rect x="183.3" y="153.39" width="1" height="1" fill="#aaa"/><rect x="187.74" y="163.02" width="1" height="1" fill="#aaa"/><rect x="179.5" y="150.64" width="1" height="1" fill="#999"/><rect x="192.26" y="163.41" width="1" height="1" fill="#666"/><rect x="192.24" y="174.46" width="1" height="1" fill="#aaa"/><rect x="187.63" y="172.45" width="1" height="1" fill="#aaa"/><rect x="178.66" y="161.99" width="1" height="1" fill="#666"/><rect x="171.58" y="164.28" width="1" height="1" fill="#666"/><rect x="183.28" y="156.13" width="1" height="1" fill="#c4c4c4"/><rect x="182.81" y="147.94" width="1" height="1" fill="#bbb"/><rect x="184.8" y="161.28" width="1" height="1" fill="#bbb"/><rect x="171.38" y="163.72" width="1" height="1" fill="#888"/><rect x="180.67" y="165.28" width="1" height="1" fill="#bbb"/><rect x="177.68" y="165.6" width="1" height="1" fill="#aaa"/><rect x="177.25" y="161.44" width="1" height="1" fill="#aaa"/><rect x="181.44" y="162.72" width="1" height="1" fill="#666"/><rect x="187.65" y="172.17" width="1" height="1" fill="#aaa"/><rect x="184.79" y="161.55" width="1" height="1" fill="#bbb"/><rect x="182.45" y="155.83" width="1" height="1" fill="#bbb"/><rect x="175.48" y="181.83" width="1" height="1" fill="#666"/><rect x="184.05" y="165.93" width="1" height="1" fill="#999"/><rect x="185.21" y="155.28" width="1" height="1" fill="#bbb"/><rect x="186.57" y="158.93" width="1" height="1" fill="#888"/><rect x="192.58" y="167.38" width="1" height="1" fill="#aaa"/><rect x="176.07" y="170.09" width="1" height="1" fill="#c4c4c4"/><rect x="173.78" y="160.06" width="1" height="1" fill="#888"/><rect x="167.45" y="174.77" width="1" height="1" fill="#c4c4c4"/><rect x="172.02" y="152.57" width="1" height="1" fill="#aaa"/><rect x="173.61" y="161.04" width="1" height="1" fill="#888"/><rect x="183.69" y="164.08" width="1" height="1" fill="#aaa"/><rect x="183.53" y="152.41" width="1" height="1" fill="#999"/><rect x="186.89" y="163.49" width="1" height="1" fill="#999"/><rect x="186.93" y="162.81" width="1" height="1" fill="#aaa"/><rect x="187.44" y="164.57" width="1" height="1" fill="#888"/><rect x="192.38" y="160.13" width="1" height="1" fill="#aaa"/><rect x="185.63" y="162.84" width="1" height="1" fill="#c4c4c4"/><rect x="172.94" y="159.43" width="1" height="1" fill="#666"/><rect x="194.8" y="156.49" width="1" height="1" fill="#999"/><rect x="185.97" y="145.64" width="1" height="1" fill="#bbb"/><rect x="183.48" y="152.39" width="1" height="1" fill="#aaa"/><rect x="179.86" y="170.74" width="1" height="1" fill="#999"/><rect x="188.64" y="171.31" width="1" height="1" fill="#aaa"/><rect x="176.61" y="143.27" width="1" height="1" fill="#666"/><rect x="182.02" y="168.58" width="1" height="1" fill="#888"/><rect x="187.24" y="152.99" width="1" height="1" fill="#999"/><rect x="178.42" y="149.31" width="1" height="1" fill="#888"/><rect x="184.29" y="164.16" width="1" height="1" fill="#666"/><rect x="185.83" y="172.07" width="1" height="1" fill="#888"/><rect x="185.22" y="163.26" width="1" height="1" fill="#999"/><rect x="187.73" y="168.6" width="1" height="1" fill="#999"/><rect x="172.52" y="171.65" width="1" height="1" fill="#bbb"/><rect x="184.43" y="165.91" width="1" height="1" fill="#aaa"/><rect x="185.47" y="174.1" width="1" height="1" fill="#666"/><rect x="176.85" y="155.74" width="1" height="1" fill="#c4c4c4"/><rect x="184.11" y="147.51" width="1" height="1" fill="#666"/><rect x="173.37" y="171.88" width="1" height="1" fill="#aaa"/><rect x="182.83" y="156.55" width="1" height="1" fill="#c4c4c4"/><rect x="184.12" y="182.01" width="1" height="1" fill="#bbb"/><rect x="181.82" y="163.66" width="1" height="1" fill="#aaa"/><rect x="187.87" y="172.2" width="1" height="1" fill="#999"/><rect x="186.96" y="148.36" width="1" height="1" fill="#aaa"/><rect x="185.09" y="160.34" width="1" height="1" fill="#bbb"/><rect x="190" y="165.46" width="1" height="1" fill="#999"/><rect x="187.56" y="160.09" width="1" height="1" fill="#c4c4c4"/><rect x="175.34" y="151.99" width="1" height="1" fill="#888"/><rect x="192.65" y="167.23" width="1" height="1" fill="#888"/><rect x="179.28" y="167.03" width="1" height="1" fill="#aaa"/><rect x="184.36" y="163.49" width="1" height="1" fill="#666"/><rect x="174.87" y="151.13" width="1" height="1" fill="#aaa"/><rect x="167.96" y="160.89" width="1" height="1" fill="#c4c4c4"/><rect x="178.51" y="154.68" width="1" height="1" fill="#bbb"/><rect x="170.29" y="160.17" width="1" height="1" fill="#666"/><rect x="182.79" y="164" width="1" height="1" fill="#aaa"/><rect x="187.15" y="163.18" width="1" height="1" fill="#bbb"/><rect x="186.45" y="149.8" width="1" height="1" fill="#aaa"/><rect x="184.28" y="153.79" width="1" height="1" fill="#999"/><rect x="174.05" y="162.44" width="1" height="1" fill="#c4c4c4"/><rect x="188.39" y="166.18" width="1" height="1" fill="#aaa"/><rect x="176.79" y="169.3" width="1" height="1" fill="#888"/><rect x="184.05" y="150.46" width="1" height="1" fill="#bbb"/><rect x="176.65" y="147.72" width="1" height="1" fill="#c4c4c4"/><rect x="184.5" y="155.86" width="1" height="1" fill="#aaa"/><rect x="187.63" y="157.55" width="1" height="1" fill="#bbb"/><rect x="177.11" y="168.09" width="1" height="1" fill="#c4c4c4"/><rect x="183.18" y="161.44" width="1" height="1" fill="#999"/><rect x="186.14" y="177.1" width="1" height="1" fill="#c4c4c4"/><rect x="187.15" y="169.54" width="1" height="1" fill="#666"/><rect x="174.24" y="159.94" width="1" height="1" fill="#aaa"/><rect x="182.18" y="152.6" width="1" height="1" fill="#666"/><rect x="186.11" y="161.22" width="1" height="1" fill="#aaa"/><rect x="183.99" y="168.45" width="1" height="1" fill="#c4c4c4"/><rect x="179.12" y="158.96" width="1" height="1" fill="#666"/><rect x="187.54" y="159.37" width="1" height="1" fill="#999"/><rect x="197.26" y="154.41" width="1" height="1" fill="#c4c4c4"/><rect x="178.08" y="161.24" width="1" height="1" fill="#c4c4c4"/><rect x="181.5" y="169.19" width="1" height="1" fill="#aaa"/><rect x="176.21" y="163.27" width="1" height="1" fill="#bbb"/><rect x="177.99" y="151.22" width="1" height="1" fill="#c4c4c4"/><rect x="178.92" y="165.73" width="1" height="1" fill="#888"/><rect x="186.63" y="160.63" width="1" height="1" fill="#999"/><rect x="187.7" y="144.14" width="1" height="1" fill="#c4c4c4"/><rect x="180.9" y="163.83" width="1" height="1" fill="#bbb"/><rect x="190.46" y="164.17" width="1" height="1" fill="#c4c4c4"/><rect x="165.04" y="169.12" width="1" height="1" fill="#bbb"/><rect x="192.14" y="178.71" width="1" height="1" fill="#888"/><rect x="170.3" y="166.32" width="1" height="1" fill="#999"/><rect x="186.42" y="170.5" width="1" height="1" fill="#aaa"/><rect x="180.63" y="161.03" width="1" height="1" fill="#888"/><rect x="171.73" y="169.74" width="1" height="1" fill="#888"/><rect x="184.18" y="175.73" width="1" height="1" fill="#bbb"/><rect x="193.59" y="153.98" width="1" height="1" fill="#666"/><rect x="181.23" y="158.88" width="1" height="1" fill="#aaa"/><rect x="190.54" y="153.68" width="1" height="1" fill="#c4c4c4"/><rect x="183.3" y="164.1" width="1" height="1" fill="#bbb"/><rect x="175.95" y="154.59" width="1" height="1" fill="#aaa"/><rect x="178.62" y="150.66" width="1" height="1" fill="#888"/><rect x="181.81" y="168.91" width="1" height="1" fill="#999"/><rect x="181.98" y="160.66" width="1" height="1" fill="#666"/><rect x="180.61" y="157.03" width="1" height="1" fill="#666"/><rect x="180.8" y="156.83" width="1" height="1" fill="#999"/><rect x="180.36" y="165.31" width="1" height="1" fill="#bbb"/><rect x="173.44" y="161.88" width="1" height="1" fill="#c4c4c4"/><rect x="181.26" y="162.71" width="1" height="1" fill="#888"/><rect x="189.27" y="157.31" width="1" height="1" fill="#aaa"/><rect x="183.74" y="166.48" width="1" height="1" fill="#bbb"/><rect x="177.79" y="164.78" width="1" height="1" fill="#888"/><rect x="182.89" y="163.74" width="1" height="1" fill="#999"/><rect x="175.84" y="154.46" width="1" height="1" fill="#c4c4c4"/><rect x="186.83" y="172.68" width="1" height="1" fill="#aaa"/><rect x="170.62" y="163.65" width="1" height="1" fill="#aaa"/><rect x="187.06" y="145.18" width="1" height="1" fill="#c4c4c4"/><rect x="191.02" y="165.64" width="1" height="1" fill="#c4c4c4"/><rect x="188.57" y="155.83" width="1" height="1" fill="#666"/></g>
<g><rect x="343.6" y="169.29" width="1" height="1" fill="#c4c4c4"/><rect x="353.17" y="176.03" width="1" height="1" fill="#999"/><rect x="343.8" y="168.39" width="1" height="1" fill="#aaa"/><rect x="354.06" y="151.34" width="1" height="1" fill="#bbb"/><rect x="374.89" y="166.68" width="1" height="1" fill="#aaa"/><rect x="352.75" y="174.58" width="1" height="1" fill="#888"/><rect x="378.46" y="174.51" width="1" height="1" fill="#666"/><rect x="339.23" y="164.62" width="1" height="1" fill="#c4c4c4"/><rect x="342.04" y="179.51" width="1" height="1" fill="#666"/><rect x="377.27" y="155.67" width="1" height="1" fill="#c4c4c4"/><rect x="354.7" y="166.21" width="1" height="1" fill="#aaa"/><rect x="364.58" y="164.57" width="1" height="1" fill="#aaa"/><rect x="372.98" y="163.82" width="1" height="1" fill="#bbb"/><rect x="331.42" y="154.78" width="1" height="1" fill="#666"/><rect x="347.19" y="161.65" width="1" height="1" fill="#666"/><rect x="350.21" y="173.82" width="1" height="1" fill="#bbb"/><rect x="344.69" y="169.62" width="1" height="1" fill="#bbb"/><rect x="376.88" y="170.18" width="1" height="1" fill="#888"/><rect x="375.56" y="163.87" width="1" height="1" fill="#999"/><rect x="380.07" y="157.79" width="1" height="1" fill="#aaa"/><rect x="357.01" y="161.26" width="1" height="1" fill="#888"/><rect x="354.09" y="176.44" width="1" height="1" fill="#bbb"/><rect x="364.28" y="153.37" width="1" height="1" fill="#666"/><rect x="343.54" y="182.66" width="1" height="1" fill="#666"/><rect x="351.76" y="165.49" width="1" height="1" fill="#aaa"/><rect x="366.66" y="168.69" width="1" height="1" fill="#bbb"/><rect x="370.61" y="175.61" width="1" height="1" fill="#888"/><rect x="367.26" y="171.02" width="1" height="1" fill="#aaa"/><rect x="357.82" y="177.37" width="1" height="1" fill="#c4c4c4"/><rect x="357.5" y="152.25" width="1" height="1" fill="#999"/><rect x="361.79" y="175.94" width="1" height="1" fill="#aaa"/><rect x="352.42" y="144.19" width="1" height="1" fill="#888"/><rect x="365.91" y="164.51" width="1" height="1" fill="#bbb"/><rect x="354.82" y="172.36" width="1" height="1" fill="#c4c4c4"/><rect x="362.33" y="182.61" width="1" height="1" fill="#999"/><rect x="376.55" y="155.57" width="1" height="1" fill="#888"/><rect x="359.58" y="168.08" width="1" height="1" fill="#666"/><rect x="359.58" y="172.46" width="1" height="1" fill="#999"/><rect x="372.52" y="166.37" width="1" height="1" fill="#666"/><rect x="379.92" y="155.59" width="1" height="1" fill="#c4c4c4"/><rect x="367.24" y="151.58" width="1" height="1" fill="#888"/><rect x="362.27" y="152.65" width="1" height="1" fill="#aaa"/><rect x="353.5" y="159.79" width="1" height="1" fill="#aaa"/><rect x="364.65" y="162.1" width="1" height="1" fill="#999"/><rect x="356.99" y="164.03" width="1" height="1" fill="#999"/><rect x="371.92" y="161.52" width="1" height="1" fill="#c4c4c4"/><rect x="341.15" y="173.69" width="1" height="1" fill="#c4c4c4"/><rect x="357.66" y="175.48" width="1" height="1" fill="#c4c4c4"/><rect x="362.09" y="166.57" width="1" height="1" fill="#bbb"/><rect x="368.19" y="158.3" width="1" height="1" fill="#888"/><rect x="363.32" y="179.4" width="1" height="1" fill="#666"/><rect x="345.18" y="160.32" width="1" height="1" fill="#999"/><rect x="360.25" y="154.05" width="1" height="1" fill="#bbb"/><rect x="368.85" y="173.23" width="1" height="1" fill="#888"/><rect x="350.6" y="161.15" width="1" height="1" fill="#999"/><rect x="352.48" y="157.47" width="1" height="1" fill="#888"/><rect x="376.71" y="168.53" width="1" height="1" fill="#666"/><rect x="366.44" y="142.03" width="1" height="1" fill="#aaa"/><rect x="340.56" y="161.89" width="1" height="1" fill="#aaa"/><rect x="364.06" y="148.28" width="1" height="1" fill="#888"/><rect x="349.74" y="192.38" width="1" height="1" fill="#c4c4c4"/><rect x="354.53" y="153.63" width="1" height="1" fill="#bbb"/><rect x="369.13" y="176.97" width="1" height="1" fill="#c4c4c4"/><rect x="353.25" y="152.22" width="1" height="1" fill="#666"/><rect x="351.39" y="172.36" width="1" height="1" fill="#c4c4c4"/><rect x="351.2" y="182.38" width="1" height="1" fill="#c4c4c4"/><rect x="353.01" y="183.6" width="1" height="1" fill="#c4c4c4"/><rect x="345.65" y="142.89" width="1" height="1" fill="#999"/><rect x="362.89" y="173.84" width="1" height="1" fill="#bbb"/><rect x="353.01" y="169.11" width="1" height="1" fill="#c4c4c4"/><rect x="349.41" y="159.1" width="1" height="1" fill="#999"/><rect x="365.93" y="171.39" width="1" height="1" fill="#999"/><rect x="345.21" y="183.85" width="1" height="1" fill="#c4c4c4"/><rect x="352.43" y="169.99" width="1" height="1" fill="#888"/><rect x="342.48" y="166.38" width="1" height="1" fill="#888"/><rect x="348.58" y="166.45" width="1" height="1" fill="#bbb"/><rect x="364.1" y="158.91" width="1" height="1" fill="#aaa"/><rect x="360.27" y="162.78" width="1" height="1" fill="#888"/><rect x="345.25" y="176.7" width="1" height="1" fill="#aaa"/><rect x="347.76" y="164.77" width="1" height="1" fill="#666"/><rect x="373.27" y="163.87" width="1" height="1" fill="#c4c4c4"/><rect x="352.42" y="185.31" width="1" height="1" fill="#666"/><rect x="353.82" y="179.2" width="1" height="1" fill="#999"/><rect x="354.98" y="161.07" width="1" height="1" fill="#aaa"/><rect x="361.6" y="181.37" width="1" height="1" fill="#999"/><rect x="347.86" y="166.93" width="1" height="1" fill="#999"/><rect x="353.77" y="193.95" width="1" height="1" fill="#bbb"/><rect x="355.38" y="188.01" width="1" height="1" fill="#bbb"/><rect x="357.04" y="172.12" width="1" height="1" fill="#c4c4c4"/><rect x="375.28" y="170.07" width="1" height="1" fill="#aaa"/><rect x="346.5" y="175.2" width="1" height="1" fill="#999"/><rect x="349.43" y="183.85" width="1" height="1" fill="#aaa"/><rect x="351.18" y="174.54" width="1" height="1" fill="#888"/><rect x="363.1" y="173.62" width="1" height="1" fill="#999"/><rect x="366.21" y="172.52" width="1" height="1" fill="#666"/><rect x="370.34" y="153.65" width="1" height="1" fill="#c4c4c4"/><rect x="363.98" y="156.3" width="1" height="1" fill="#c4c4c4"/><rect x="375.75" y="156.02" width="1" height="1" fill="#999"/><rect x="363.28" y="159.33" width="1" height="1" fill="#666"/><rect x="356.45" y="165.29" width="1" height="1" fill="#888"/><rect x="361.95" y="173.98" width="1" height="1" fill="#999"/><rect x="387.37" y="151.48" width="1" height="1" fill="#999"/><rect x="357.29" y="165.78" width="1" height="1" fill="#666"/><rect x="350.98" y="177.09" width="1" height="1" fill="#888"/><rect x="346.73" y="171.18" width="1" height="1" fill="#c4c4c4"/><rect x="367.19" y="175.06" width="1" height="1" fill="#aaa"/><rect x="351.37" y="156.37" width="1" height="1" fill="#c4c4c4"/><rect x="371.08" y="146.69" width="1" height="1" fill="#bbb"/><rect x="380.41" y="170.58" width="1" height="1" fill="#666"/><rect x="370.89" y="160.15" width="1" height="1" fill="#999"/><rect x="349.43" y="138.55" width="1" height="1" fill="#c4c4c4"/><rect x="363.47" y="151.99" width="1" height="1" fill="#bbb"/><rect x="356.5" y="169.78" width="1" height="1" fill="#888"/><rect x="354.87" y="173.6" width="1" height="1" fill="#aaa"/><rect x="362.74" y="168.57" width="1" height="1" fill="#666"/><rect x="362.02" y="165.27" width="1" height="1" fill="#c4c4c4"/><rect x="353.48" y="151.26" width="1" height="1" fill="#c4c4c4"/><rect x="377.17" y="161.62" width="1" height="1" fill="#666"/><rect x="347.31" y="157.68" width="1" height="1" fill="#aaa"/><rect x="351.09" y="156.82" width="1" height="1" fill="#999"/><rect x="347.29" y="173.44" width="1" height="1" fill="#999"/><rect x="362.89" y="155.14" width="1" height="1" fill="#c4c4c4"/><rect x="338.22" y="148.06" width="1" height="1" fill="#c4c4c4"/><rect x="369.03" y="161.88" width="1" height="1" fill="#999"/><rect x="368.61" y="176.13" width="1" height="1" fill="#888"/><rect x="358.65" y="164.83" width="1" height="1" fill="#888"/><rect x="367.92" y="175.48" width="1" height="1" fill="#999"/><rect x="367.99" y="148.55" width="1" height="1" fill="#999"/><rect x="343.95" y="155.12" width="1" height="1" fill="#aaa"/><rect x="346.82" y="187.54" width="1" height="1" fill="#c4c4c4"/><rect x="349.34" y="163.96" width="1" height="1" fill="#888"/><rect x="354.8" y="174.43" width="1" height="1" fill="#bbb"/><rect x="369.09" y="177.21" width="1" height="1" fill="#aaa"/><rect x="359.23" y="157.36" width="1" height="1" fill="#aaa"/><rect x="365.03" y="166.15" width="1" height="1" fill="#bbb"/><rect x="354.92" y="161.05" width="1" height="1" fill="#bbb"/><rect x="368.03" y="180.39" width="1" height="1" fill="#999"/><rect x="352.66" y="173.65" width="1" height="1" fill="#999"/><rect x="379.91" y="151.73" width="1" height="1" fill="#bbb"/><rect x="356.05" y="163.83" width="1" height="1" fill="#bbb"/><rect x="353.48" y="171.29" width="1" height="1" fill="#999"/><rect x="348.44" y="155.09" width="1" height="1" fill="#888"/><rect x="356.63" y="176.82" width="1" height="1" fill="#c4c4c4"/><rect x="357.46" y="163.73" width="1" height="1" fill="#999"/><rect x="356.92" y="162.75" width="1" height="1" fill="#c4c4c4"/><rect x="337.75" y="162.67" width="1" height="1" fill="#888"/><rect x="371.69" y="132.78" width="1" height="1" fill="#c4c4c4"/><rect x="352.21" y="186.26" width="1" height="1" fill="#888"/><rect x="355.2" y="189.04" width="1" height="1" fill="#888"/><rect x="362.86" y="175.38" width="1" height="1" fill="#666"/><rect x="349.94" y="154.34" width="1" height="1" fill="#aaa"/><rect x="359.11" y="156.17" width="1" height="1" fill="#888"/><rect x="369.62" y="161.89" width="1" height="1" fill="#aaa"/><rect x="352.78" y="172.67" width="1" height="1" fill="#888"/><rect x="360.41" y="181.13" width="1" height="1" fill="#c4c4c4"/><rect x="343.43" y="168.16" width="1" height="1" fill="#c4c4c4"/><rect x="346.52" y="153.83" width="1" height="1" fill="#999"/><rect x="354.7" y="170.36" width="1" height="1" fill="#666"/><rect x="374.5" y="153.02" width="1" height="1" fill="#aaa"/><rect x="355.21" y="157.74" width="1" height="1" fill="#aaa"/><rect x="371.65" y="185.11" width="1" height="1" fill="#aaa"/><rect x="353.38" y="162.98" width="1" height="1" fill="#aaa"/><rect x="356.43" y="168.52" width="1" height="1" fill="#666"/><rect x="346.55" y="170.8" width="1" height="1" fill="#888"/><rect x="362.55" y="171.63" width="1" height="1" fill="#bbb"/><rect x="350.21" y="176.06" width="1" height="1" fill="#bbb"/><rect x="365.5" y="170.84" width="1" height="1" fill="#888"/><rect x="349.67" y="176.58" width="1" height="1" fill="#999"/><rect x="371.77" y="160.39" width="1" height="1" fill="#999"/><rect x="360.76" y="160.43" width="1" height="1" fill="#888"/><rect x="360.84" y="151.37" width="1" height="1" fill="#888"/><rect x="358.59" y="181.29" width="1" height="1" fill="#aaa"/><rect x="371.33" y="176.99" width="1" height="1" fill="#888"/><rect x="373.4" y="163.04" width="1" height="1" fill="#c4c4c4"/><rect x="368.21" y="170.11" width="1" height="1" fill="#aaa"/><rect x="343.74" y="181.83" width="1" height="1" fill="#666"/><rect x="381.35" y="179.16" width="1" height="1" fill="#bbb"/><rect x="340.88" y="172.4" width="1" height="1" fill="#bbb"/><rect x="358.37" y="167.4" width="1" height="1" fill="#bbb"/><rect x="343.05" y="185" width="1" height="1" fill="#666"/><rect x="357.31" y="170.51" width="1" height="1" fill="#c4c4c4"/><rect x="335.4" y="141.06" width="1" height="1" fill="#888"/><rect x="356.77" y="175.76" width="1" height="1" fill="#bbb"/><rect x="359.22" y="151.88" width="1" height="1" fill="#c4c4c4"/><rect x="349.71" y="144.78" width="1" height="1" fill="#c4c4c4"/><rect x="375.91" y="162.14" width="1" height="1" fill="#999"/><rect x="364.41" y="169.54" width="1" height="1" fill="#666"/><rect x="374.5" y="180.89" width="1" height="1" fill="#666"/><rect x="354.79" y="162.62" width="1" height="1" fill="#bbb"/><rect x="352.78" y="164.97" width="1" height="1" fill="#999"/><rect x="367.25" y="165.32" width="1" height="1" fill="#aaa"/><rect x="365.6" y="167.32" width="1" height="1" fill="#aaa"/><rect x="344" y="158.63" width="1" height="1" fill="#888"/><rect x="367.72" y="148.61" width="1" height="1" fill="#999"/><rect x="342.47" y="174.9" width="1" height="1" fill="#888"/><rect x="360.59" y="168.65" width="1" height="1" fill="#bbb"/><rect x="353.89" y="174.39" width="1" height="1" fill="#bbb"/><rect x="348.13" y="167.28" width="1" height="1" fill="#999"/><rect x="368.54" y="169.04" width="1" height="1" fill="#bbb"/><rect x="349.42" y="155.91" width="1" height="1" fill="#666"/><rect x="352.78" y="189.7" width="1" height="1" fill="#999"/><rect x="372.97" y="184.1" width="1" height="1" fill="#999"/><rect x="360.43" y="181.53" width="1" height="1" fill="#c4c4c4"/><rect x="377.41" y="151.02" width="1" height="1" fill="#666"/><rect x="363.43" y="165.39" width="1" height="1" fill="#888"/><rect x="357.96" y="128.37" width="1" height="1" fill="#c4c4c4"/><rect x="354.83" y="174.48" width="1" height="1" fill="#666"/><rect x="337.14" y="176.65" width="1" height="1" fill="#999"/><rect x="351.4" y="180.97" width="1" height="1" fill="#999"/><rect x="352.78" y="154.9" width="1" height="1" fill="#888"/><rect x="369.29" y="153.64" width="1" height="1" fill="#666"/><rect x="353.23" y="154.29" width="1" height="1" fill="#888"/><rect x="343.11" y="164.88" width="1" height="1" fill="#aaa"/><rect x="348.81" y="163.98" width="1" height="1" fill="#999"/><rect x="380.67" y="164.3" width="1" height="1" fill="#c4c4c4"/><rect x="370.54" y="180.12" width="1" height="1" fill="#bbb"/><rect x="347.71" y="168.82" width="1" height="1" fill="#888"/><rect x="371.48" y="177.97" width="1" height="1" fill="#888"/><rect x="366.42" y="181.5" width="1" height="1" fill="#999"/><rect x="335.02" y="171.65" width="1" height="1" fill="#aaa"/><rect x="347.83" y="165.17" width="1" height="1" fill="#aaa"/><rect x="365.11" y="162.52" width="1" height="1" fill="#bbb"/><rect x="350.14" y="152.43" width="1" height="1" fill="#888"/><rect x="374.27" y="175.91" width="1" height="1" fill="#c4c4c4"/><rect x="352.91" y="180.75" width="1" height="1" fill="#888"/><rect x="371.47" y="170.15" width="1" height="1" fill="#aaa"/><rect x="359.18" y="159.92" width="1" height="1" fill="#666"/><rect x="367.14" y="156.1" width="1" height="1" fill="#c4c4c4"/><rect x="352.15" y="163.21" width="1" height="1" fill="#aaa"/><rect x="367.35" y="135.77" width="1" height="1" fill="#999"/><rect x="344.8" y="164.82" width="1" height="1" fill="#bbb"/><rect x="364.94" y="159.3" width="1" height="1" fill="#666"/><rect x="348.66" y="175.93" width="1" height="1" fill="#bbb"/><rect x="371.32" y="154.14" width="1" height="1" fill="#aaa"/><rect x="349.77" y="158.76" width="1" height="1" fill="#bbb"/><rect x="364.67" y="172.2" width="1" height="1" fill="#aaa"/><rect x="361.11" y="151.29" width="1" height="1" fill="#c4c4c4"/><rect x="381.67" y="176.51" width="1" height="1" fill="#666"/><rect x="369.26" y="176.79" width="1" height="1" fill="#aaa"/><rect x="357.23" y="174.3" width="1" height="1" fill="#aaa"/><rect x="349.44" y="151.17" width="1" height="1" fill="#bbb"/><rect x="364.79" y="153.36" width="1" height="1" fill="#999"/><rect x="365.46" y="169.51" width="1" height="1" fill="#aaa"/><rect x="369.3" y="168.23" width="1" height="1" fill="#666"/><rect x="362.12" y="170.48" width="1" height="1" fill="#999"/><rect x="360.15" y="154.97" width="1" height="1" fill="#999"/><rect x="358.5" y="160.56" width="1" height="1" fill="#c4c4c4"/><rect x="349.32" y="159.95" width="1" height="1" fill="#c4c4c4"/><rect x="373.54" y="177.14" width="1" height="1" fill="#aaa"/><rect x="353.33" y="173.52" width="1" height="1" fill="#999"/><rect x="364.7" y="166.45" width="1" height="1" fill="#999"/><rect x="360.71" y="177.07" width="1" height="1" fill="#999"/><rect x="361.67" y="153" width="1" height="1" fill="#999"/><rect x="364.14" y="166.63" width="1" height="1" fill="#666"/><rect x="365.94" y="177.3" width="1" height="1" fill="#aaa"/><rect x="350.08" y="144.88" width="1" height="1" fill="#aaa"/><rect x="373.57" y="153.01" width="1" height="1" fill="#aaa"/><rect x="357.77" y="161.56" width="1" height="1" fill="#888"/><rect x="354.3" y="161.94" width="1" height="1" fill="#c4c4c4"/><rect x="366.28" y="155.68" width="1" height="1" fill="#bbb"/><rect x="354.23" y="184.98" width="1" height="1" fill="#666"/><rect x="366.77" y="166.62" width="1" height="1" fill="#aaa"/><rect x="352.06" y="173" width="1" height="1" fill="#c4c4c4"/><rect x="384.09" y="162.72" width="1" height="1" fill="#666"/><rect x="355.68" y="169.01" width="1" height="1" fill="#999"/><rect x="360.69" y="166.41" width="1" height="1" fill="#aaa"/><rect x="358.79" y="171.2" width="1" height="1" fill="#999"/><rect x="356.58" y="171.27" width="1" height="1" fill="#aaa"/><rect x="360.13" y="174.37" width="1" height="1" fill="#aaa"/><rect x="376.2" y="187.13" width="1" height="1" fill="#c4c4c4"/><rect x="374.66" y="164.66" width="1" height="1" fill="#666"/><rect x="358.93" y="157.92" width="1" height="1" fill="#666"/><rect x="378.09" y="173.28" width="1" height="1" fill="#c4c4c4"/><rect x="358.46" y="159.92" width="1" height="1" fill="#999"/><rect x="354.9" y="165.37" width="1" height="1" fill="#888"/><rect x="365.01" y="177.81" width="1" height="1" fill="#666"/><rect x="363.3" y="169.16" width="1" height="1" fill="#bbb"/><rect x="351.99" y="177.46" width="1" height="1" fill="#888"/><rect x="347.25" y="152.79" width="1" height="1" fill="#999"/><rect x="353.17" y="169.89" width="1" height="1" fill="#888"/><rect x="353.25" y="185.44" width="1" height="1" fill="#666"/><rect x="363.22" y="167.23" width="1" height="1" fill="#bbb"/><rect x="357.64" y="146.09" width="1" height="1" fill="#c4c4c4"/><rect x="368.97" y="167.34" width="1" height="1" fill="#bbb"/><rect x="349.46" y="172.36" width="1" height="1" fill="#666"/><rect x="356.82" y="171.95" width="1" height="1" fill="#aaa"/><rect x="375.91" y="164.59" width="1" height="1" fill="#666"/><rect x="344" y="169.51" width="1" height="1" fill="#aaa"/><rect x="362.05" y="150.94" width="1" height="1" fill="#c4c4c4"/><rect x="346.8" y="163.97" width="1" height="1" fill="#aaa"/><rect x="347.29" y="159.36" width="1" height="1" fill="#aaa"/><rect x="364.41" y="172.36" width="1" height="1" fill="#666"/><rect x="377.12" y="158.92" width="1" height="1" fill="#999"/><rect x="373.55" y="194.95" width="1" height="1" fill="#aaa"/><rect x="356.66" y="182.32" width="1" height="1" fill="#666"/><rect x="364.95" y="188.1" width="1" height="1" fill="#bbb"/><rect x="372.2" y="168.43" width="1" height="1" fill="#c4c4c4"/><rect x="352.47" y="170.26" width="1" height="1" fill="#bbb"/><rect x="354.17" y="149.78" width="1" height="1" fill="#888"/><rect x="366.76" y="182.86" width="1" height="1" fill="#999"/><rect x="370.99" y="157.96" width="1" height="1" fill="#999"/><rect x="349.17" y="141.66" width="1" height="1" fill="#888"/><rect x="384.49" y="170.17" width="1" height="1" fill="#666"/><rect x="365.35" y="160.1" width="1" height="1" fill="#bbb"/><rect x="358.79" y="185.51" width="1" height="1" fill="#bbb"/><rect x="357.39" y="177.11" width="1" height="1" fill="#aaa"/><rect x="355.78" y="168.3" width="1" height="1" fill="#bbb"/><rect x="375.2" y="167.1" width="1" height="1" fill="#c4c4c4"/><rect x="354.05" y="165.64" width="1" height="1" fill="#bbb"/><rect x="353.55" y="164.77" width="1" height="1" fill="#888"/><rect x="335.48" y="161.04" width="1" height="1" fill="#666"/><rect x="364.09" y="162.9" width="1" height="1" fill="#aaa"/><rect x="335.13" y="177.5" width="1" height="1" fill="#bbb"/><rect x="340.9" y="173.52" width="1" height="1" fill="#aaa"/><rect x="369.33" y="169.48" width="1" height="1" fill="#888"/><rect x="364.4" y="164.7" width="1" height="1" fill="#c4c4c4"/><rect x="371.95" y="159.72" width="1" height="1" fill="#aaa"/><rect x="343.85" y="160.01" width="1" height="1" fill="#888"/><rect x="357.25" y="171.71" width="1" height="1" fill="#888"/><rect x="362.84" y="179.91" width="1" height="1" fill="#aaa"/><rect x="380.51" y="143.61" width="1" height="1" fill="#888"/><rect x="360.83" y="149.73" width="1" height="1" fill="#bbb"/><rect x="377.18" y="174.04" width="1" height="1" fill="#888"/><rect x="342.64" y="174.73" width="1" height="1" fill="#aaa"/><rect x="350.52" y="176.82" width="1" height="1" fill="#bbb"/><rect x="365.79" y="154.23" width="1" height="1" fill="#c4c4c4"/><rect x="344.35" y="173.85" width="1" height="1" fill="#888"/><rect x="358.23" y="180.24" width="1" height="1" fill="#666"/><rect x="350.93" y="146.84" width="1" height="1" fill="#999"/><rect x="367.65" y="166.55" width="1" height="1" fill="#bbb"/><rect x="346.19" y="174.47" width="1" height="1" fill="#888"/><rect x="384.5" y="183" width="1" height="1" fill="#666"/><rect x="343.69" y="164.92" width="1" height="1" fill="#999"/><rect x="359.9" y="170.06" width="1" height="1" fill="#bbb"/><rect x="381.94" y="160.42" width="1" height="1" fill="#aaa"/><rect x="360.13" y="150.03" width="1" height="1" fill="#666"/><rect x="357.6" y="161.41" width="1" height="1" fill="#666"/><rect x="366.17" y="180.81" width="1" height="1" fill="#bbb"/><rect x="384.85" y="149.58" width="1" height="1" fill="#aaa"/><rect x="368.31" y="186.36" width="1" height="1" fill="#999"/><rect x="374.26" y="165.93" width="1" height="1" fill="#666"/><rect x="364.61" y="165.7" width="1" height="1" fill="#aaa"/><rect x="347.32" y="182.13" width="1" height="1" fill="#aaa"/><rect x="363.82" y="193.89" width="1" height="1" fill="#bbb"/><rect x="343.18" y="176.4" width="1" height="1" fill="#c4c4c4"/><rect x="356.44" y="174.31" width="1" height="1" fill="#aaa"/><rect x="373.18" y="183.58" width="1" height="1" fill="#aaa"/><rect x="366.46" y="151.43" width="1" height="1" fill="#888"/><rect x="376.36" y="174.45" width="1" height="1" fill="#666"/><rect x="364.16" y="147.29" width="1" height="1" fill="#bbb"/><rect x="351.2" y="171.56" width="1" height="1" fill="#666"/><rect x="352.49" y="145.15" width="1" height="1" fill="#666"/><rect x="358.05" y="180.14" width="1" height="1" fill="#c4c4c4"/><rect x="364.71" y="173.49" width="1" height="1" fill="#aaa"/><rect x="367.43" y="194.64" width="1" height="1" fill="#aaa"/><rect x="367.15" y="182.57" width="1" height="1" fill="#bbb"/><rect x="340.76" y="151.34" width="1" height="1" fill="#999"/><rect x="351.21" y="190.61" width="1" height="1" fill="#aaa"/><rect x="359.26" y="172.74" width="1" height="1" fill="#888"/><rect x="374.88" y="149.33" width="1" height="1" fill="#bbb"/><rect x="365.3" y="185.2" width="1" height="1" fill="#888"/><rect x="351.86" y="159.91" width="1" height="1" fill="#666"/><rect x="343.26" y="157.22" width="1" height="1" fill="#bbb"/><rect x="365.72" y="148.92" width="1" height="1" fill="#aaa"/><rect x="340.93" y="172.01" width="1" height="1" fill="#999"/><rect x="344.54" y="169.25" width="1" height="1" fill="#c4c4c4"/><rect x="365.92" y="148.12" width="1" height="1" fill="#999"/><rect x="353.72" y="164.76" width="1" height="1" fill="#bbb"/><rect x="343.78" y="174.95" width="1" height="1" fill="#aaa"/><rect x="348.99" y="167.4" width="1" height="1" fill="#999"/><rect x="350.33" y="168.95" width="1" height="1" fill="#c4c4c4"/><rect x="348" y="155.7" width="1" height="1" fill="#bbb"/><rect x="385.59" y="168.82" width="1" height="1" fill="#bbb"/><rect x="352.28" y="156.1" width="1" height="1" fill="#999"/><rect x="342.09" y="162.47" width="1" height="1" fill="#aaa"/><rect x="348.04" y="149.66" width="1" height="1" fill="#999"/><rect x="361.49" y="160.17" width="1" height="1" fill="#c4c4c4"/><rect x="352.47" y="159.32" width="1" height="1" fill="#666"/><rect x="347.82" y="165.88" width="1" height="1" fill="#888"/><rect x="373.54" y="155.16" width="1" height="1" fill="#999"/></g>
<g><rect x="388.69" y="159.36" width="1" height="1" fill="#666"/><rect x="380.55" y="154.82" width="1" height="1" fill="#c4c4c4"/><rect x="391.83" y="168.48" width="1" height="1" fill="#999"/><rect x="386.15" y="157.36" width="1" height="1" fill="#999"/><rect x="390.59" y="158.73" width="1" height="1" fill="#bbb"/><rect x="388.77" y="169.65" width="1" height="1" fill="#c4c4c4"/><rect x="393.86" y="154.72" width="1" height="1" fill="#666"/><rect x="384.4" y="159.73" width="1" height="1" fill="#999"/><rect x="384.05" y="165.32" width="1" height="1" fill="#666"/><rect x="373.22" y="151.12" width="1" height="1" fill="#bbb"/><rect x="390.44" y="163.17" width="1" height="1" fill="#999"/><rect x="384.71" y="180.52" width="1" height="1" fill="#999"/><rect x="395.35" y="151.05" width="1" height="1" fill="#c4c4c4"/><rect x="380.66" y="159.88" width="1" height="1" fill="#999"/><rect x="383.6" y="156.05" width="1" height="1" fill="#666"/><rect x="378.42" y="174.89" width="1" height="1" fill="#aaa"/><rect x="391.85" y="156.19" width="1" height="1" fill="#bbb"/><rect x="389.96" y="155.07" width="1" height="1" fill="#888"/><rect x="383.45" y="167.74" width="1" height="1" fill="#bbb"/><rect x="393.26" y="162.15" width="1" height="1" fill="#bbb"/><rect x="379.34" y="158.22" width="1" height="1" fill="#c4c4c4"/><rect x="390.61" y="155.5" width="1" height="1" fill="#666"/><rect x="391.12" y="160.33" width="1" height="1" fill="#aaa"/><rect x="385.9" y="157.79" width="1" height="1" fill="#888"/><rect x="379.45" y="159.89" width="1" height="1" fill="#666"/><rect x="381.7" y="161.84" width="1" height="1" fill="#666"/><rect x="380.18" y="158.36" width="1" height="1" fill="#999"/><rect x="392.63" y="154.45" width="1" height="1" fill="#aaa"/><rect x="392.73" y="162.78" width="1" height="1" fill="#c4c4c4"/><rect x="384.9" y="148.85" width="1" height="1" fill="#666"/><rect x="391.34" y="163.15" width="1" height="1" fill="#888"/><rect x="391.36" y="156.27" width="1" height="1" fill="#666"/><rect x="378.19" y="160.59" width="1" height="1" fill="#bbb"/><rect x="383.56" y="172.36" width="1" height="1" fill="#aaa"/><rect x="383.31" y="160.94" width="1" height="1" fill="#c4c4c4"/><rect x="379.12" y="171.64" width="1" height="1" fill="#bbb"/><rect x="385.33" y="164.53" width="1" height="1" fill="#888"/><rect x="376.99" y="160.5" width="1" height="1" fill="#999"/><rect x="392.42" y="166.96" width="1" height="1" fill="#bbb"/><rect x="381.15" y="163.04" width="1" height="1" fill="#666"/><rect x="388.96" y="162.9" width="1" height="1" fill="#c4c4c4"/><rect x="388.59" y="164.27" width="1" height="1" fill="#999"/><rect x="383.26" y="160.75" width="1" height="1" fill="#666"/><rect x="385.05" y="164.07" width="1" height="1" fill="#aaa"/><rect x="381.02" y="155" width="1" height="1" fill="#666"/><rect x="384.21" y="142.37" width="1" height="1" fill="#888"/><rect x="391.18" y="162.36" width="1" height="1" fill="#bbb"/><rect x="389.46" y="161.61" width="1" height="1" fill="#aaa"/><rect x="384.24" y="158.59" width="1" height="1" fill="#c4c4c4"/><rect x="384.17" y="151.74" width="1" height="1" fill="#888"/><rect x="387.75" y="157.99" width="1" height="1" fill="#666"/><rect x="392.53" y="156.15" width="1" height="1" fill="#888"/><rect x="392.14" y="153.12" width="1" height="1" fill="#666"/><rect x="388.96" y="161.38" width="1" height="1" fill="#999"/><rect x="392.19" y="162.92" width="1" height="1" fill="#666"/><rect x="383.76" y="173.99" width="1" height="1" fill="#888"/><rect x="373.7" y="143.33" width="1" height="1" fill="#c4c4c4"/><rect x="386.28" y="170.34" width="1" height="1" fill="#888"/><rect x="382.65" y="165.39" width="1" height="1" fill="#c4c4c4"/><rect x="391.36" y="160.95" width="1" height="1" fill="#c4c4c4"/><rect x="394.57" y="170.15" width="1" height="1" fill="#bbb"/><rect x="380.11" y="158.09" width="1" height="1" fill="#bbb"/><rect x="385.12" y="166.68" width="1" height="1" fill="#bbb"/><rect x="391.69" y="173.36" width="1" height="1" fill="#bbb"/><rect x="378.44" y="160.75" width="1" height="1" fill="#888"/><rect x="389.35" y="159.65" width="1" height="1" fill="#aaa"/><rect x="378.73" y="174.1" width="1" height="1" fill="#666"/><rect x="378.86" y="168.13" width="1" height="1" fill="#888"/><rect x="384.82" y="157.24" width="1" height="1" fill="#aaa"/><rect x="384.44" y="162.77" width="1" height="1" fill="#bbb"/><rect x="388.89" y="159.62" width="1" height="1" fill="#bbb"/><rect x="375.91" y="175.57" width="1" height="1" fill="#666"/><rect x="375.4" y="158.18" width="1" height="1" fill="#666"/><rect x="390.9" y="166.72" width="1" height="1" fill="#666"/><rect x="389.4" y="146.49" width="1" height="1" fill="#666"/><rect x="373.27" y="152.77" width="1" height="1" fill="#999"/><rect x="371.34" y="159.93" width="1" height="1" fill="#aaa"/><rect x="378.97" y="156.06" width="1" height="1" fill="#bbb"/><rect x="377.62" y="178.95" width="1" height="1" fill="#c4c4c4"/><rect x="389.65" y="162.38" width="1" height="1" fill="#bbb"/><rect x="382.45" y="154.74" width="1" height="1" fill="#999"/><rect x="389.97" y="160.63" width="1" height="1" fill="#666"/><rect x="390.01" y="157.48" width="1" height="1" fill="#666"/><rect x="388.21" y="158.99" width="1" height="1" fill="#aaa"/><rect x="391.57" y="144.51" width="1" height="1" fill="#888"/><rect x="379.35" y="161.71" width="1" height="1" fill="#999"/><rect x="389.39" y="166.76" width="1" height="1" fill="#888"/><rect x="373.6" y="156.3" width="1" height="1" fill="#999"/><rect x="391.01" y="155.41" width="1" height="1" fill="#999"/><rect x="381.31" y="160" width="1" height="1" fill="#888"/><rect x="389.91" y="148.51" width="1" height="1" fill="#bbb"/><rect x="386.72" y="162.44" width="1" height="1" fill="#888"/><rect x="386.76" y="156.95" width="1" height="1" fill="#aaa"/><rect x="383.83" y="164.78" width="1" height="1" fill="#aaa"/><rect x="390.46" y="163.57" width="1" height="1" fill="#aaa"/><rect x="391.5" y="169.26" width="1" height="1" fill="#aaa"/><rect x="378.67" y="164.51" width="1" height="1" fill="#aaa"/><rect x="381.25" y="147.12" width="1" height="1" fill="#c4c4c4"/><rect x="381.68" y="162.51" width="1" height="1" fill="#c4c4c4"/><rect x="387.98" y="160.71" width="1" height="1" fill="#888"/><rect x="391.06" y="149.34" width="1" height="1" fill="#666"/><rect x="386.89" y="169.35" width="1" height="1" fill="#c4c4c4"/><rect x="385.16" y="164.61" width="1" height="1" fill="#888"/><rect x="381.11" y="157.03" width="1" height="1" fill="#888"/><rect x="382.08" y="157.75" width="1" height="1" fill="#999"/><rect x="385.02" y="151.79" width="1" height="1" fill="#c4c4c4"/><rect x="388.28" y="167.77" width="1" height="1" fill="#aaa"/><rect x="375.03" y="155.34" width="1" height="1" fill="#999"/><rect x="386.21" y="155.12" width="1" height="1" fill="#888"/><rect x="386.63" y="170.21" width="1" height="1" fill="#c4c4c4"/><rect x="385.03" y="162.88" width="1" height="1" fill="#888"/><rect x="382.08" y="156.68" width="1" height="1" fill="#aaa"/><rect x="387.22" y="153.12" width="1" height="1" fill="#666"/><rect x="381.73" y="157.71" width="1" height="1" fill="#aaa"/><rect x="374.55" y="175.24" width="1" height="1" fill="#888"/><rect x="393.34" y="163.6" width="1" height="1" fill="#999"/><rect x="383.83" y="157.38" width="1" height="1" fill="#c4c4c4"/><rect x="372.1" y="159.5" width="1" height="1" fill="#aaa"/><rect x="389.46" y="166.14" width="1" height="1" fill="#c4c4c4"/><rect x="385.45" y="159.23" width="1" height="1" fill="#888"/></g>
<g><rect x="558.47" y="190.83" width="1" height="1" fill="#c4c4c4"/><rect x="567.59" y="127.68" width="1" height="1" fill="#c4c4c4"/><rect x="560.33" y="173.58" width="1" height="1" fill="#888"/><rect x="554.61" y="154.52" width="1" height="1" fill="#666"/><rect x="551.34" y="161.06" width="1" height="1" fill="#999"/><rect x="565.63" y="165.25" width="1" height="1" fill="#c4c4c4"/><rect x="557.91" y="161.57" width="1" height="1" fill="#999"/><rect x="562.06" y="156.96" width="1" height="1" fill="#999"/><rect x="568.65" y="137.11" width="1" height="1" fill="#888"/><rect x="562.01" y="150.16" width="1" height="1" fill="#888"/><rect x="539.44" y="166" width="1" height="1" fill="#bbb"/><rect x="577.26" y="160.38" width="1" height="1" fill="#aaa"/><rect x="548.22" y="143.4" width="1" height="1" fill="#999"/><rect x="568.6" y="134.33" width="1" height="1" fill="#999"/><rect x="553.97" y="142.18" width="1" height="1" fill="#c4c4c4"/><rect x="572.39" y="161.94" width="1" height="1" fill="#c4c4c4"/><rect x="552.49" y="167.41" width="1" height="1" fill="#888"/><rect x="564.33" y="178.76" width="1" height="1" fill="#999"/><rect x="543.66" y="169.69" width="1" height="1" fill="#aaa"/><rect x="571.59" y="148.36" width="1" height="1" fill="#bbb"/><rect x="560.3" y="176.64" width="1" height="1" fill="#888"/><rect x="557.59" y="154.4" width="1" height="1" fill="#aaa"/><rect x="542.2" y="127.2" width="1" height="1" fill="#aaa"/><rect x="572.11" y="163.76" width="1" height="1" fill="#666"/><rect x="561.71" y="184.37" width="1" height="1" fill="#c4c4c4"/><rect x="568.51" y="141.64" width="1" height="1" fill="#888"/><rect x="557.43" y="134.28" width="1" height="1" fill="#999"/><rect x="575.84" y="142.22" width="1" height="1" fill="#888"/><rect x="554.82" y="139.09" width="1" height="1" fill="#bbb"/><rect x="558.14" y="153.94" width="1" height="1" fill="#c4c4c4"/><rect x="544.2" y="146.05" width="1" height="1" fill="#888"/><rect x="561.78" y="159.44" width="1" height="1" fill="#c4c4c4"/><rect x="549.99" y="154.29" width="1" height="1" fill="#c4c4c4"/><rect x="552.61" y="158.65" width="1" height="1" fill="#888"/><rect x="568.82" y="186.97" width="1" height="1" fill="#666"/><rect x="565.39" y="157.13" width="1" height="1" fill="#aaa"/><rect x="550.01" y="145.5" width="1" height="1" fill="#bbb"/><rect x="567.38" y="140.44" width="1" height="1" fill="#bbb"/><rect x="601.65" y="164.68" width="1" height="1" fill="#666"/><rect x="537.6" y="184.91" width="1" height="1" fill="#bbb"/><rect x="555.55" y="159.35" width="1" height="1" fill="#aaa"/><rect x="536.28" y="158.65" width="1" height="1" fill="#666"/><rect x="570.33" y="164.08" width="1" height="1" fill="#aaa"/><rect x="545.73" y="155.36" width="1" height="1" fill="#aaa"/><rect x="560.88" y="175.59" width="1" height="1" fill="#666"/><rect x="545.97" y="183.5" width="1" height="1" fill="#888"/><rect x="558.82" y="149.62" width="1" height="1" fill="#c4c4c4"/><rect x="563.25" y="152.31" width="1" height="1" fill="#aaa"/><rect x="549.93" y="154.64" width="1" height="1" fill="#888"/><rect x="548.88" y="153.1" width="1" height="1" fill="#c4c4c4"/><rect x="557.52" y="167.54" width="1" height="1" fill="#aaa"/><rect x="555.11" y="165.16" width="1" height="1" fill="#666"/><rect x="558.62" y="162.54" width="1" height="1" fill="#999"/><rect x="564.52" y="182.68" width="1" height="1" fill="#bbb"/><rect x="556.22" y="167.59" width="1" height="1" fill="#bbb"/><rect x="553.52" y="167.38" width="1" height="1" fill="#666"/><rect x="576.55" y="185.18" width="1" height="1" fill="#888"/><rect x="553.69" y="186.37" width="1" height="1" fill="#999"/><rect x="565.65" y="165.46" width="1" height="1" fill="#999"/><rect x="543.61" y="164.86" width="1" height="1" fill="#bbb"/><rect x="563.07" y="163.16" width="1" height="1" fill="#bbb"/><rect x="550.64" y="208.73" width="1" height="1" fill="#666"/><rect x="548.31" y="197.65" width="1" height="1" fill="#bbb"/><rect x="557.82" y="124.76" width="1" height="1" fill="#888"/><rect x="574.97" y="149.25" width="1" height="1" fill="#666"/><rect x="548.03" y="165.79" width="1" height="1" fill="#999"/><rect x="557.53" y="196.79" width="1" height="1" fill="#666"/><rect x="555.99" y="137.35" width="1" height="1" fill="#888"/><rect x="532.71" y="158.45" width="1" height="1" fill="#aaa"/><rect x="563.56" y="180.43" width="1" height="1" fill="#666"/><rect x="573.18" y="131.01" width="1" height="1" fill="#666"/><rect x="537.78" y="135.39" width="1" height="1" fill="#999"/><rect x="549.6" y="160.32" width="1" height="1" fill="#bbb"/><rect x="557.98" y="170.83" width="1" height="1" fill="#666"/><rect x="566.1" y="158.97" width="1" height="1" fill="#666"/><rect x="574.39" y="181.31" width="1" height="1" fill="#666"/><rect x="581.34" y="163.42" width="1" height="1" fill="#aaa"/><rect x="577.3" y="205.89" width="1" height="1" fill="#c4c4c4"/><rect x="557.39" y="148.93" width="1" height="1" fill="#666"/><rect x="567.47" y="173.31" width="1" height="1" fill="#aaa"/><rect x="550.18" y="166.06" width="1" height="1" fill="#888"/><rect x="558.52" y="163.98" width="1" height="1" fill="#666"/><rect x="550.05" y="160.59" width="1" height="1" fill="#888"/><rect x="567.85" y="158.29" width="1" height="1" fill="#999"/><rect x="560.53" y="142.85" width="1" height="1" fill="#999"/><rect x="568.36" y="183.07" width="1" height="1" fill="#bbb"/><rect x="539.59" y="170.54" width="1" height="1" fill="#c4c4c4"/><rect x="551.78" y="165.25" width="1" height="1" fill="#bbb"/><rect x="570.92" y="151.97" width="1" height="1" fill="#bbb"/><rect x="561.92" y="171.06" width="1" height="1" fill="#bbb"/><rect x="562.8" y="168.97" width="1" height="1" fill="#aaa"/><rect x="542.12" y="151" width="1" height="1" fill="#666"/><rect x="563.91" y="192.53" width="1" height="1" fill="#c4c4c4"/><rect x="558.49" y="159.57" width="1" height="1" fill="#bbb"/><rect x="583.17" y="168.45" width="1" height="1" fill="#888"/><rect x="554.53" y="187.38" width="1" height="1" fill="#c4c4c4"/><rect x="572.85" y="170.51" width="1" height="1" fill="#999"/><rect x="559.88" y="167.21" width="1" height="1" fill="#666"/><rect x="560.09" y="185.61" width="1" height="1" fill="#666"/><rect x="536.68" y="147.05" width="1" height="1" fill="#999"/><rect x="550.09" y="143.3" width="1" height="1" fill="#bbb"/><rect x="555.63" y="145.41" width="1" height="1" fill="#bbb"/><rect x="559.17" y="155.23" width="1" height="1" fill="#888"/><rect x="579.62" y="149.73" width="1" height="1" fill="#888"/><rect x="551.49" y="137.38" width="1" height="1" fill="#c4c4c4"/><rect x="558.39" y="171.27" width="1" height="1" fill="#c4c4c4"/><rect x="572.41" y="185.05" width="1" height="1" fill="#bbb"/><rect x="571.46" y="177.32" width="1" height="1" fill="#888"/><rect x="548.43" y="149.76" width="1" height="1" fill="#aaa"/><rect x="567.88" y="151.14" width="1" height="1" fill="#bbb"/><rect x="543.87" y="163.61" width="1" height="1" fill="#aaa"/><rect x="581.16" y="178.14" width="1" height="1" fill="#bbb"/><rect x="569.92" y="158.68" width="1" height="1" fill="#c4c4c4"/><rect x="565.27" y="172.11" width="1" height="1" fill="#999"/><rect x="556.08" y="168.61" width="1" height="1" fill="#aaa"/><rect x="568.72" y="157.17" width="1" height="1" fill="#666"/><rect x="572.53" y="161.8" width="1" height="1" fill="#aaa"/><rect x="534.23" y="167.94" width="1" height="1" fill="#666"/><rect x="566.83" y="169.54" width="1" height="1" fill="#888"/><rect x="567.42" y="144.81" width="1" height="1" fill="#aaa"/><rect x="568.66" y="157.4" width="1" height="1" fill="#888"/><rect x="542.59" y="136.84" width="1" height="1" fill="#c4c4c4"/><rect x="564.28" y="169.65" width="1" height="1" fill="#666"/><rect x="543.61" y="154.99" width="1" height="1" fill="#999"/><rect x="560.65" y="166.19" width="1" height="1" fill="#c4c4c4"/><rect x="561.11" y="169.09" width="1" height="1" fill="#aaa"/><rect x="536.69" y="148.58" width="1" height="1" fill="#c4c4c4"/><rect x="561.03" y="145.17" width="1" height="1" fill="#666"/><rect x="566.36" y="129.78" width="1" height="1" fill="#888"/><rect x="568" y="174.23" width="1" height="1" fill="#666"/><rect x="545.04" y="160.92" width="1" height="1" fill="#c4c4c4"/><rect x="568.11" y="188.54" width="1" height="1" fill="#aaa"/><rect x="556.09" y="177.74" width="1" height="1" fill="#999"/><rect x="556.39" y="186.71" width="1" height="1" fill="#bbb"/><rect x="550.99" y="170.76" width="1" height="1" fill="#c4c4c4"/><rect x="558.34" y="155.56" width="1" height="1" fill="#c4c4c4"/><rect x="562.71" y="166.33" width="1" height="1" fill="#666"/><rect x="568.48" y="160.51" width="1" height="1" fill="#888"/><rect x="555.59" y="157.67" width="1" height="1" fill="#aaa"/><rect x="554.24" y="166.54" width="1" height="1" fill="#c4c4c4"/><rect x="571.42" y="149.68" width="1" height="1" fill="#888"/><rect x="557.32" y="150.79" width="1" height="1" fill="#999"/><rect x="562.86" y="155.69" width="1" height="1" fill="#c4c4c4"/><rect x="563.41" y="158.45" width="1" height="1" fill="#666"/><rect x="562.37" y="128.35" width="1" height="1" fill="#999"/><rect x="547.62" y="169.6" width="1" height="1" fill="#888"/><rect x="554.89" y="139" width="1" height="1" fill="#888"/><rect x="559.77" y="173.79" width="1" height="1" fill="#aaa"/><rect x="570.8" y="165.56" width="1" height="1" fill="#999"/><rect x="559.38" y="154.94" width="1" height="1" fill="#c4c4c4"/><rect x="563.42" y="172.76" width="1" height="1" fill="#aaa"/><rect x="579.64" y="152.27" width="1" height="1" fill="#bbb"/><rect x="553.9" y="167.31" width="1" height="1" fill="#aaa"/><rect x="538.52" y="152.91" width="1" height="1" fill="#bbb"/><rect x="579.96" y="153.49" width="1" height="1" fill="#aaa"/><rect x="562.2" y="147.59" width="1" height="1" fill="#aaa"/><rect x="555.52" y="167.82" width="1" height="1" fill="#888"/><rect x="541.02" y="183.39" width="1" height="1" fill="#bbb"/><rect x="559.53" y="157.78" width="1" height="1" fill="#aaa"/><rect x="545.65" y="171.66" width="1" height="1" fill="#bbb"/><rect x="556.1" y="134.24" width="1" height="1" fill="#bbb"/><rect x="578.01" y="171.26" width="1" height="1" fill="#666"/><rect x="560.21" y="182.69" width="1" height="1" fill="#aaa"/><rect x="557.69" y="182.23" width="1" height="1" fill="#999"/><rect x="569.05" y="200.14" width="1" height="1" fill="#aaa"/><rect x="563.6" y="154.84" width="1" height="1" fill="#888"/><rect x="545.39" y="173.26" width="1" height="1" fill="#666"/><rect x="552.93" y="171.58" width="1" height="1" fill="#c4c4c4"/><rect x="558.06" y="140.41" width="1" height="1" fill="#aaa"/><rect x="560.43" y="168.25" width="1" height="1" fill="#666"/><rect x="541.33" y="173.05" width="1" height="1" fill="#bbb"/><rect x="538.59" y="188.43" width="1" height="1" fill="#bbb"/><rect x="579.97" y="197.09" width="1" height="1" fill="#666"/><rect x="545.6" y="164.51" width="1" height="1" fill="#c4c4c4"/><rect x="532.88" y="177.1" width="1" height="1" fill="#bbb"/><rect x="558.77" y="160.76" width="1" height="1" fill="#c4c4c4"/><rect x="564.55" y="138.94" width="1" height="1" fill="#888"/><rect x="559.03" y="159.32" width="1" height="1" fill="#c4c4c4"/><rect x="581.78" y="149.08" width="1" height="1" fill="#aaa"/><rect x="547.18" y="165.81" width="1" height="1" fill="#666"/><rect x="565.26" y="191.36" width="1" height="1" fill="#aaa"/><rect x="552.79" y="161.84" width="1" height="1" fill="#888"/><rect x="564.69" y="135.84" width="1" height="1" fill="#666"/><rect x="561.46" y="169.51" width="1" height="1" fill="#888"/><rect x="552.45" y="145.34" width="1" height="1" fill="#bbb"/><rect x="558.58" y="156.89" width="1" height="1" fill="#666"/><rect x="574.33" y="173.06" width="1" height="1" fill="#aaa"/><rect x="552.06" y="161.59" width="1" height="1" fill="#bbb"/><rect x="576.25" y="148.59" width="1" height="1" fill="#aaa"/><rect x="545.96" y="143.22" width="1" height="1" fill="#aaa"/><rect x="570.05" y="183.3" width="1" height="1" fill="#c4c4c4"/><rect x="562.2" y="126.46" width="1" height="1" fill="#888"/><rect x="534.67" y="143.2" width="1" height="1" fill="#c4c4c4"/><rect x="555.71" y="140.75" width="1" height="1" fill="#666"/><rect x="546.79" y="163.04" width="1" height="1" fill="#888"/><rect x="549.49" y="174.47" width="1" height="1" fill="#999"/><rect x="554.79" y="193.61" width="1" height="1" fill="#666"/><rect x="569.66" y="175.6" width="1" height="1" fill="#888"/><rect x="554.5" y="131.77" width="1" height="1" fill="#888"/><rect x="557.8" y="192.1" width="1" height="1" fill="#aaa"/><rect x="574.37" y="157.59" width="1" height="1" fill="#bbb"/><rect x="538.36" y="155.79" width="1" height="1" fill="#bbb"/><rect x="573.68" y="147.66" width="1" height="1" fill="#bbb"/><rect x="566.96" y="175.09" width="1" height="1" fill="#aaa"/><rect x="571.55" y="165.55" width="1" height="1" fill="#666"/><rect x="575.4" y="191.75" width="1" height="1" fill="#aaa"/><rect x="582.32" y="169.66" width="1" height="1" fill="#666"/><rect x="568.34" y="174.39" width="1" height="1" fill="#bbb"/><rect x="561.44" y="132.75" width="1" height="1" fill="#888"/><rect x="559.18" y="142.74" width="1" height="1" fill="#bbb"/><rect x="540.89" y="169.29" width="1" height="1" fill="#aaa"/><rect x="557.21" y="163.25" width="1" height="1" fill="#bbb"/><rect x="549.01" y="188.36" width="1" height="1" fill="#999"/><rect x="570.26" y="172.3" width="1" height="1" fill="#aaa"/><rect x="574.8" y="134.96" width="1" height="1" fill="#bbb"/><rect x="562.27" y="179.41" width="1" height="1" fill="#666"/><rect x="555.28" y="160.33" width="1" height="1" fill="#bbb"/><rect x="555.81" y="183.83" width="1" height="1" fill="#c4c4c4"/><rect x="564.24" y="146.19" width="1" height="1" fill="#888"/><rect x="553.89" y="163.67" width="1" height="1" fill="#bbb"/><rect x="556.72" y="167.21" width="1" height="1" fill="#999"/><rect x="551.91" y="167.1" width="1" height="1" fill="#666"/><rect x="554.34" y="146.17" width="1" height="1" fill="#666"/><rect x="549.39" y="166.06" width="1" height="1" fill="#c4c4c4"/><rect x="571.47" y="180.82" width="1" height="1" fill="#c4c4c4"/><rect x="555" y="177.16" width="1" height="1" fill="#aaa"/><rect x="566.67" y="164.91" width="1" height="1" fill="#999"/><rect x="569.19" y="167.04" width="1" height="1" fill="#c4c4c4"/><rect x="559.68" y="162.79" width="1" height="1" fill="#aaa"/><rect x="579.91" y="197.6" width="1" height="1" fill="#666"/><rect x="554.55" y="171.43" width="1" height="1" fill="#999"/><rect x="561.72" y="136.79" width="1" height="1" fill="#888"/><rect x="553.64" y="190.97" width="1" height="1" fill="#aaa"/><rect x="560.97" y="171.3" width="1" height="1" fill="#888"/><rect x="567.44" y="167.86" width="1" height="1" fill="#999"/><rect x="563.85" y="140.24" width="1" height="1" fill="#aaa"/><rect x="568.73" y="142.19" width="1" height="1" fill="#666"/><rect x="586.11" y="167.11" width="1" height="1" fill="#999"/><rect x="563.86" y="162.27" width="1" height="1" fill="#c4c4c4"/><rect x="558.75" y="153.74" width="1" height="1" fill="#aaa"/><rect x="568.66" y="149.73" width="1" height="1" fill="#999"/><rect x="555.86" y="176.21" width="1" height="1" fill="#c4c4c4"/><rect x="544.08" y="175.51" width="1" height="1" fill="#aaa"/><rect x="577.74" y="190.03" width="1" height="1" fill="#666"/><rect x="564.97" y="167.15" width="1" height="1" fill="#888"/><rect x="562.06" y="170.37" width="1" height="1" fill="#c4c4c4"/><rect x="554.35" y="174.68" width="1" height="1" fill="#bbb"/><rect x="553.35" y="162.65" width="1" height="1" fill="#c4c4c4"/><rect x="553.71" y="179.89" width="1" height="1" fill="#c4c4c4"/><rect x="548.83" y="172.08" width="1" height="1" fill="#999"/><rect x="546.48" y="154.68" width="1" height="1" fill="#999"/><rect x="554.24" y="189.92" width="1" height="1" fill="#aaa"/><rect x="545.34" y="157.16" width="1" height="1" fill="#666"/><rect x="545.87" y="190.52" width="1" height="1" fill="#bbb"/><rect x="570.25" y="164.82" width="1" height="1" fill="#aaa"/><rect x="548.6" y="154.55" width="1" height="1" fill="#bbb"/><rect x="554.17" y="170.36" width="1" height="1" fill="#c4c4c4"/><rect x="565.38" y="201.4" width="1" height="1" fill="#aaa"/><rect x="568.65" y="130.52" width="1" height="1" fill="#666"/><rect x="553.11" y="155.89" width="1" height="1" fill="#c4c4c4"/><rect x="566.46" y="148.74" width="1" height="1" fill="#aaa"/><rect x="548.26" y="131.54" width="1" height="1" fill="#aaa"/><rect x="537.65" y="148.98" width="1" height="1" fill="#aaa"/><rect x="559.02" y="161.46" width="1" height="1" fill="#888"/><rect x="565.81" y="144.61" width="1" height="1" fill="#999"/><rect x="570.85" y="159.69" width="1" height="1" fill="#999"/><rect x="555.37" y="127.78" width="1" height="1" fill="#999"/><rect x="561.08" y="158.66" width="1" height="1" fill="#666"/><rect x="560.24" y="127.47" width="1" height="1" fill="#999"/><rect x="579.5" y="143.87" width="1" height="1" fill="#999"/><rect x="564.59" y="164.95" width="1" height="1" fill="#bbb"/><rect x="550.33" y="176.44" width="1" height="1" fill="#aaa"/><rect x="583.27" y="188.83" width="1" height="1" fill="#888"/><rect x="580.57" y="158.82" width="1" height="1" fill="#666"/><rect x="571.85" y="165.4" width="1" height="1" fill="#888"/><rect x="572.69" y="162.96" width="1" height="1" fill="#c4c4c4"/><rect x="589.71" y="152.2" width="1" height="1" fill="#999"/><rect x="576.13" y="183.33" width="1" height="1" fill="#bbb"/><rect x="570.52" y="172.6" width="1" height="1" fill="#bbb"/><rect x="577.63" y="143.17" width="1" height="1" fill="#666"/><rect x="550.05" y="168.47" width="1" height="1" fill="#c4c4c4"/><rect x="551.17" y="157.6" width="1" height="1" fill="#666"/><rect x="543.32" y="166.6" width="1" height="1" fill="#aaa"/><rect x="569.26" y="166.95" width="1" height="1" fill="#c4c4c4"/><rect x="548.8" y="169.58" width="1" height="1" fill="#888"/><rect x="539.99" y="141.58" width="1" height="1" fill="#bbb"/><rect x="576.35" y="148.88" width="1" height="1" fill="#999"/><rect x="552.01" y="174.73" width="1" height="1" fill="#c4c4c4"/><rect x="554.76" y="161.06" width="1" height="1" fill="#888"/><rect x="569.36" y="133.73" width="1" height="1" fill="#bbb"/><rect x="572.02" y="139.61" width="1" height="1" fill="#999"/><rect x="550.18" y="184.05" width="1" height="1" fill="#888"/><rect x="546.28" y="180.41" width="1" height="1" fill="#666"/><rect x="560.39" y="145.15" width="1" height="1" fill="#bbb"/><rect x="578.94" y="156.15" width="1" height="1" fill="#999"/><rect x="554.58" y="204.39" width="1" height="1" fill="#999"/><rect x="570.7" y="172.22" width="1" height="1" fill="#bbb"/><rect x="578" y="173.12" width="1" height="1" fill="#c4c4c4"/><rect x="561.29" y="151.45" width="1" height="1" fill="#bbb"/><rect x="553.66" y="166.98" width="1" height="1" fill="#aaa"/><rect x="560.51" y="163.15" width="1" height="1" fill="#666"/><rect x="566.91" y="160.8" width="1" height="1" fill="#666"/><rect x="549.47" y="162.94" width="1" height="1" fill="#999"/><rect x="580.68" y="171.14" width="1" height="1" fill="#c4c4c4"/><rect x="542.14" y="172.61" width="1" height="1" fill="#666"/><rect x="556.99" y="176.05" width="1" height="1" fill="#666"/><rect x="571.29" y="152.62" width="1" height="1" fill="#c4c4c4"/><rect x="570.4" y="149" width="1" height="1" fill="#888"/><rect x="560.7" y="167.61" width="1" height="1" fill="#999"/><rect x="556.8" y="162.31" width="1" height="1" fill="#999"/><rect x="568.66" y="158.8" width="1" height="1" fill="#c4c4c4"/><rect x="551.76" y="150.12" width="1" height="1" fill="#888"/><rect x="563.4" y="185.87" width="1" height="1" fill="#999"/><rect x="554.21" y="179.28" width="1" height="1" fill="#666"/><rect x="569.45" y="179.94" width="1" height="1" fill="#c4c4c4"/><rect x="537.43" y="132.89" width="1" height="1" fill="#aaa"/><rect x="557.82" y="158.65" width="1" height="1" fill="#666"/><rect x="546.12" y="144.34" width="1" height="1" fill="#c4c4c4"/><rect x="558.05" y="183.77" width="1" height="1" fill="#aaa"/><rect x="548.06" y="141.28" width="1" height="1" fill="#999"/><rect x="559.4" y="205.14" width="1" height="1" fill="#666"/><rect x="560.63" y="154.27" width="1" height="1" fill="#bbb"/><rect x="557.01" y="177.91" width="1" height="1" fill="#999"/><rect x="551.71" y="179.84" width="1" height="1" fill="#aaa"/><rect x="561.61" y="169.19" width="1" height="1" fill="#aaa"/><rect x="560.36" y="185.19" width="1" height="1" fill="#aaa"/><rect x="569.52" y="184.13" width="1" height="1" fill="#888"/><rect x="565.86" y="166.31" width="1" height="1" fill="#c4c4c4"/><rect x="556.54" y="170.59" width="1" height="1" fill="#bbb"/><rect x="574.19" y="145.66" width="1" height="1" fill="#aaa"/><rect x="573.11" y="156.5" width="1" height="1" fill="#999"/><rect x="561.13" y="163.52" width="1" height="1" fill="#bbb"/><rect x="558.98" y="142.22" width="1" height="1" fill="#aaa"/><rect x="567.69" y="181.34" width="1" height="1" fill="#666"/><rect x="575.4" y="162.25" width="1" height="1" fill="#c4c4c4"/><rect x="562.9" y="197.74" width="1" height="1" fill="#666"/><rect x="575.08" y="172.2" width="1" height="1" fill="#aaa"/><rect x="552.94" y="138.45" width="1" height="1" fill="#aaa"/><rect x="568.13" y="183.28" width="1" height="1" fill="#c4c4c4"/><rect x="568.47" y="139.45" width="1" height="1" fill="#bbb"/><rect x="542.03" y="161.42" width="1" height="1" fill="#666"/><rect x="567.6" y="167.1" width="1" height="1" fill="#aaa"/><rect x="578.78" y="163.44" width="1" height="1" fill="#aaa"/><rect x="556.82" y="185.18" width="1" height="1" fill="#888"/><rect x="557.45" y="157.94" width="1" height="1" fill="#aaa"/><rect x="578.16" y="157.85" width="1" height="1" fill="#999"/><rect x="541.8" y="161.64" width="1" height="1" fill="#c4c4c4"/><rect x="553.79" y="181.24" width="1" height="1" fill="#888"/><rect x="556.94" y="172.09" width="1" height="1" fill="#c4c4c4"/><rect x="562.25" y="137.7" width="1" height="1" fill="#888"/><rect x="556.55" y="173.82" width="1" height="1" fill="#bbb"/><rect x="546.17" y="194.48" width="1" height="1" fill="#666"/><rect x="567.88" y="150.66" width="1" height="1" fill="#999"/><rect x="580.7" y="148.09" width="1" height="1" fill="#aaa"/><rect x="544.76" y="153.74" width="1" height="1" fill="#aaa"/><rect x="590.62" y="177.03" width="1" height="1" fill="#666"/><rect x="541.11" y="159.34" width="1" height="1" fill="#666"/><rect x="559.87" y="168.89" width="1" height="1" fill="#c4c4c4"/><rect x="546.7" y="168.83" width="1" height="1" fill="#aaa"/><rect x="553.61" y="161.09" width="1" height="1" fill="#bbb"/><rect x="570.47" y="163.07" width="1" height="1" fill="#c4c4c4"/><rect x="593.84" y="162.1" width="1" height="1" fill="#999"/><rect x="563.02" y="150.21" width="1" height="1" fill="#bbb"/><rect x="578.19" y="192.01" width="1" height="1" fill="#bbb"/><rect x="564.3" y="146.75" width="1" height="1" fill="#888"/><rect x="566.51" y="184.67" width="1" height="1" fill="#c4c4c4"/><rect x="566.69" y="154.97" width="1" height="1" fill="#bbb"/><rect x="546.44" y="155.47" width="1" height="1" fill="#999"/><rect x="558.34" y="188.41" width="1" height="1" fill="#999"/><rect x="562.91" y="167.14" width="1" height="1" fill="#999"/><rect x="559.56" y="190.47" width="1" height="1" fill="#666"/><rect x="555.05" y="173.92" width="1" height="1" fill="#bbb"/><rect x="564.55" y="142.67" width="1" height="1" fill="#666"/><rect x="558.2" y="172.27" width="1" height="1" fill="#888"/><rect x="582.6" y="173.35" width="1" height="1" fill="#888"/><rect x="557.25" y="169.24" width="1" height="1" fill="#bbb"/><rect x="552.39" y="149.18" width="1" height="1" fill="#bbb"/><rect x="562.66" y="185.89" width="1" height="1" fill="#aaa"/><rect x="561.49" y="168.32" width="1" height="1" fill="#999"/><rect x="595.26" y="149.74" width="1" height="1" fill="#c4c4c4"/><rect x="575.3" y="163.66" width="1" height="1" fill="#888"/><rect x="563.81" y="157.8" width="1" height="1" fill="#666"/><rect x="566.84" y="169.12" width="1" height="1" fill="#c4c4c4"/><rect x="529.86" y="167.91" width="1" height="1" fill="#888"/><rect x="546.38" y="194.55" width="1" height="1" fill="#888"/><rect x="561.12" y="137.02" width="1" height="1" fill="#c4c4c4"/><rect x="545.76" y="193.48" width="1" height="1" fill="#aaa"/><rect x="565.26" y="162.95" width="1" height="1" fill="#aaa"/><rect x="552.21" y="150.43" width="1" height="1" fill="#666"/><rect x="585.68" y="139.33" width="1" height="1" fill="#aaa"/><rect x="557.26" y="186.86" width="1" height="1" fill="#666"/><rect x="559.62" y="169.34" width="1" height="1" fill="#c4c4c4"/><rect x="540.84" y="166.67" width="1" height="1" fill="#888"/><rect x="562.59" y="142.46" width="1" height="1" fill="#666"/><rect x="558.07" y="173.55" width="1" height="1" fill="#bbb"/><rect x="566.74" y="156.54" width="1" height="1" fill="#666"/><rect x="541.74" y="195.77" width="1" height="1" fill="#888"/><rect x="551.36" y="138.29" width="1" height="1" fill="#666"/><rect x="571.16" y="180.63" width="1" height="1" fill="#bbb"/><rect x="574.03" y="157.68" width="1" height="1" fill="#999"/><rect x="550.98" y="155.31" width="1" height="1" fill="#aaa"/><rect x="545.63" y="182.92" width="1" height="1" fill="#999"/><rect x="562.7" y="154.9" width="1" height="1" fill="#999"/><rect x="561.22" y="164.83" width="1" height="1" fill="#bbb"/><rect x="575.8" y="162.48" width="1" height="1" fill="#666"/><rect x="535.28" y="169.92" width="1" height="1" fill="#888"/><rect x="550.68" y="174.47" width="1" height="1" fill="#c4c4c4"/><rect x="570.43" y="135.01" width="1" height="1" fill="#666"/><rect x="547.8" y="165.95" width="1" height="1" fill="#999"/></g>
<g><rect x="604.69" y="157.42" width="1" height="1" fill="#666"/><rect x="595.46" y="169.42" width="1" height="1" fill="#aaa"/><rect x="585.87" y="167.51" width="1" height="1" fill="#888"/><rect x="589.37" y="170.17" width="1" height="1" fill="#bbb"/><rect x="587.99" y="169.12" width="1" height="1" fill="#666"/><rect x="597.66" y="167.12" width="1" height="1" fill="#666"/><rect x="578.14" y="167.21" width="1" height="1" fill="#999"/><rect x="590.12" y="161.77" width="1" height="1" fill="#666"/><rect x="580.81" y="160.72" width="1" height="1" fill="#bbb"/><rect x="591.92" y="184.43" width="1" height="1" fill="#bbb"/><rect x="589.91" y="158.93" width="1" height="1" fill="#bbb"/><rect x="585.8" y="195.09" width="1" height="1" fill="#bbb"/><rect x="596.31" y="174.32" width="1" height="1" fill="#c4c4c4"/><rect x="577.17" y="170.38" width="1" height="1" fill="#c4c4c4"/><rect x="586.72" y="163.56" width="1" height="1" fill="#888"/><rect x="579.26" y="165.37" width="1" height="1" fill="#bbb"/><rect x="590.66" y="173.14" width="1" height="1" fill="#666"/><rect x="581.39" y="174.3" width="1" height="1" fill="#bbb"/><rect x="587.72" y="181.61" width="1" height="1" fill="#666"/><rect x="585.56" y="174.53" width="1" height="1" fill="#999"/><rect x="595.58" y="161.72" width="1" height="1" fill="#888"/><rect x="589.32" y="173.25" width="1" height="1" fill="#666"/><rect x="586" y="150.4" width="1" height="1" fill="#888"/><rect x="587.67" y="173.39" width="1" height="1" fill="#c4c4c4"/><rect x="575.4" y="155.23" width="1" height="1" fill="#888"/><rect x="587.76" y="169.32" width="1" height="1" fill="#c4c4c4"/><rect x="588.18" y="169.59" width="1" height="1" fill="#888"/><rect x="582.24" y="143.59" width="1" height="1" fill="#c4c4c4"/><rect x="597.76" y="164.57" width="1" height="1" fill="#aaa"/><rect x="589.46" y="159.28" width="1" height="1" fill="#aaa"/><rect x="587.58" y="168.66" width="1" height="1" fill="#999"/><rect x="584.97" y="169.9" width="1" height="1" fill="#aaa"/><rect x="594.15" y="166.36" width="1" height="1" fill="#666"/><rect x="579.99" y="163.48" width="1" height="1" fill="#c4c4c4"/><rect x="577.16" y="163.54" width="1" height="1" fill="#999"/><rect x="592.9" y="172.03" width="1" height="1" fill="#666"/><rect x="583.47" y="171.62" width="1" height="1" fill="#aaa"/><rect x="595.3" y="148.94" width="1" height="1" fill="#c4c4c4"/><rect x="590.49" y="164.97" width="1" height="1" fill="#c4c4c4"/><rect x="589.26" y="155.94" width="1" height="1" fill="#aaa"/><rect x="579.36" y="177.74" width="1" height="1" fill="#bbb"/><rect x="587.74" y="166.43" width="1" height="1" fill="#999"/><rect x="597.18" y="177.4" width="1" height="1" fill="#999"/><rect x="600.53" y="164.97" width="1" height="1" fill="#aaa"/><rect x="589.68" y="193.1" width="1" height="1" fill="#666"/><rect x="583.89" y="181.5" width="1" height="1" fill="#666"/><rect x="590.34" y="181.27" width="1" height="1" fill="#aaa"/><rect x="595.89" y="140.1" width="1" height="1" fill="#999"/><rect x="596.31" y="168.74" width="1" height="1" fill="#888"/><rect x="589.46" y="158.36" width="1" height="1" fill="#c4c4c4"/><rect x="599.52" y="171.25" width="1" height="1" fill="#c4c4c4"/><rect x="586.94" y="170.43" width="1" height="1" fill="#c4c4c4"/><rect x="587.89" y="181.79" width="1" height="1" fill="#bbb"/><rect x="588.69" y="162.35" width="1" height="1" fill="#bbb"/><rect x="585.07" y="188.94" width="1" height="1" fill="#666"/><rect x="589.87" y="172.05" width="1" height="1" fill="#aaa"/><rect x="588.55" y="169.82" width="1" height="1" fill="#aaa"/><rect x="584.91" y="163.41" width="1" height="1" fill="#999"/><rect x="578.93" y="178.44" width="1" height="1" fill="#999"/><rect x="595.69" y="166.21" width="1" height="1" fill="#aaa"/><rect x="603.59" y="174.05" width="1" height="1" fill="#c4c4c4"/><rect x="580.69" y="170.27" width="1" height="1" fill="#999"/><rect x="579.09" y="164.8" width="1" height="1" fill="#aaa"/><rect x="590.62" y="176.16" width="1" height="1" fill="#888"/><rect x="586.11" y="168.42" width="1" height="1" fill="#aaa"/><rect x="595.13" y="167.98" width="1" height="1" fill="#aaa"/><rect x="591.42" y="168.63" width="1" height="1" fill="#666"/><rect x="589.8" y="196.96" width="1" height="1" fill="#c4c4c4"/><rect x="582.48" y="170.45" width="1" height="1" fill="#666"/><rect x="588.43" y="177.86" width="1" height="1" fill="#888"/><rect x="580.73" y="156.43" width="1" height="1" fill="#888"/><rect x="588.98" y="158.49" width="1" height="1" fill="#c4c4c4"/><rect x="576.34" y="190.89" width="1" height="1" fill="#bbb"/><rect x="598.29" y="161.09" width="1" height="1" fill="#888"/><rect x="592.93" y="169.79" width="1" height="1" fill="#c4c4c4"/><rect x="590.06" y="170.29" width="1" height="1" fill="#bbb"/><rect x="582.86" y="147.33" width="1" height="1" fill="#999"/><rect x="578.71" y="171.55" width="1" height="1" fill="#bbb"/><rect x="590.11" y="165.5" width="1" height="1" fill="#666"/><rect x="582.02" y="160.44" width="1" height="1" fill="#999"/><rect x="595.89" y="170.2" width="1" height="1" fill="#888"/><rect x="592.46" y="163.18" width="1" height="1" fill="#aaa"/><rect x="601.27" y="167.66" width="1" height="1" fill="#888"/><rect x="575.95" y="164.38" width="1" height="1" fill="#aaa"/><rect x="585.04" y="157.96" width="1" height="1" fill="#888"/><rect x="588.98" y="145.72" width="1" height="1" fill="#999"/><rect x="579.6" y="172.46" width="1" height="1" fill="#c4c4c4"/><rect x="594.21" y="175.6" width="1" height="1" fill="#999"/><rect x="590.47" y="166.02" width="1" height="1" fill="#aaa"/><rect x="586.67" y="174.05" width="1" height="1" fill="#c4c4c4"/><rect x="584.8" y="167" width="1" height="1" fill="#aaa"/><rect x="587.72" y="169.85" width="1" height="1" fill="#c4c4c4"/><rect x="577.81" y="176.7" width="1" height="1" fill="#bbb"/><rect x="595.57" y="164.49" width="1" height="1" fill="#999"/><rect x="595.23" y="170.33" width="1" height="1" fill="#888"/><rect x="584.11" y="174.18" width="1" height="1" fill="#aaa"/><rect x="598" y="165.99" width="1" height="1" fill="#bbb"/><rect x="580.79" y="155.03" width="1" height="1" fill="#888"/><rect x="606.73" y="154.73" width="1" height="1" fill="#c4c4c4"/><rect x="592.37" y="140.62" width="1" height="1" fill="#aaa"/><rect x="593.25" y="160.09" width="1" height="1" fill="#aaa"/><rect x="589.17" y="184.84" width="1" height="1" fill="#aaa"/><rect x="574.83" y="185.72" width="1" height="1" fill="#c4c4c4"/><rect x="580.22" y="143.78" width="1" height="1" fill="#999"/><rect x="588.75" y="163.04" width="1" height="1" fill="#666"/><rect x="589.6" y="150.23" width="1" height="1" fill="#aaa"/><rect x="586.07" y="167.16" width="1" height="1" fill="#666"/><rect x="580.05" y="175.54" width="1" height="1" fill="#c4c4c4"/><rect x="590.55" y="163.73" width="1" height="1" fill="#666"/><rect x="589.51" y="154.84" width="1" height="1" fill="#bbb"/><rect x="581.15" y="153.02" width="1" height="1" fill="#999"/><rect x="588.83" y="176.62" width="1" height="1" fill="#aaa"/><rect x="603.54" y="156.16" width="1" height="1" fill="#bbb"/><rect x="584.46" y="193.13" width="1" height="1" fill="#666"/><rect x="591.44" y="183.11" width="1" height="1" fill="#bbb"/><rect x="595.62" y="181.04" width="1" height="1" fill="#888"/><rect x="587.8" y="164.27" width="1" height="1" fill="#999"/><rect x="592.83" y="167.58" width="1" height="1" fill="#bbb"/><rect x="592.03" y="170.47" width="1" height="1" fill="#666"/><rect x="586.2" y="143.84" width="1" height="1" fill="#c4c4c4"/></g>
<g><rect x="777.69" y="168.19" width="1" height="1" fill="#c4c4c4"/><rect x="758.08" y="157.22" width="1" height="1" fill="#c4c4c4"/><rect x="764.91" y="174.76" width="1" height="1" fill="#c4c4c4"/><rect x="754.84" y="161.98" width="1" height="1" fill="#aaa"/><rect x="748.3" y="172.05" width="1" height="1" fill="#999"/><rect x="769.1" y="179.73" width="1" height="1" fill="#999"/><rect x="768.86" y="149.66" width="1" height="1" fill="#c4c4c4"/><rect x="761.65" y="154.31" width="1" height="1" fill="#bbb"/><rect x="761.43" y="151.58" width="1" height="1" fill="#666"/><rect x="762.53" y="154.32" width="1" height="1" fill="#999"/><rect x="773.38" y="159.89" width="1" height="1" fill="#aaa"/><rect x="740.42" y="175.85" width="1" height="1" fill="#aaa"/><rect x="769.04" y="155.8" width="1" height="1" fill="#c4c4c4"/><rect x="763.62" y="154.01" width="1" height="1" fill="#bbb"/><rect x="759.31" y="151.27" width="1" height="1" fill="#666"/><rect x="765.28" y="146.95" width="1" height="1" fill="#c4c4c4"/><rect x="769.29" y="168.8" width="1" height="1" fill="#888"/><rect x="757.41" y="159.28" width="1" height="1" fill="#999"/><rect x="780.27" y="169.58" width="1" height="1" fill="#666"/><rect x="764.6" y="163.44" width="1" height="1" fill="#888"/><rect x="765.2" y="153.59" width="1" height="1" fill="#bbb"/><rect x="756.47" y="153.09" width="1" height="1" fill="#c4c4c4"/><rect x="770.35" y="167.12" width="1" height="1" fill="#999"/><rect x="754.83" y="159.52" width="1" height="1" fill="#bbb"/><rect x="769.07" y="151.68" width="1" height="1" fill="#aaa"/><rect x="767.23" y="178.45" width="1" height="1" fill="#aaa"/><rect x="770.58" y="160.76" width="1" height="1" fill="#c4c4c4"/><rect x="764.36" y="169.23" width="1" height="1" fill="#c4c4c4"/><rect x="741" y="175" width="1" height="1" fill="#666"/><rect x="758.04" y="169.12" width="1" height="1" fill="#aaa"/><rect x="764.78" y="166.95" width="1" height="1" fill="#888"/><rect x="777.85" y="161.9" width="1" height="1" fill="#999"/><rect x="769.25" y="161.06" width="1" height="1" fill="#888"/><rect x="754.59" y="184.86" width="1" height="1" fill="#bbb"/><rect x="753.37" y="157.99" width="1" height="1" fill="#999"/><rect x="770.41" y="158.19" width="1" height="1" fill="#888"/><rect x="765.59" y="157.91" width="1" height="1" fill="#999"/><rect x="770.97" y="152.89" width="1" height="1" fill="#888"/><rect x="769.45" y="173.07" width="1" height="1" fill="#999"/><rect x="761.15" y="174.86" width="1" height="1" fill="#999"/><rect x="787.63" y="162.94" width="1" height="1" fill="#c4c4c4"/><rect x="781.23" y="152.53" width="1" height="1" fill="#bbb"/><rect x="761.42" y="153.27" width="1" height="1" fill="#aaa"/><rect x="746.56" y="175.38" width="1" height="1" fill="#bbb"/><rect x="744.79" y="151.24" width="1" height="1" fill="#aaa"/><rect x="777.37" y="151.51" width="1" height="1" fill="#888"/><rect x="758.91" y="150.21" width="1" height="1" fill="#999"/><rect x="780.84" y="168.18" width="1" height="1" fill="#888"/><rect x="770.19" y="173.12" width="1" height="1" fill="#888"/><rect x="768.26" y="169.72" width="1" height="1" fill="#888"/><rect x="756.1" y="155.79" width="1" height="1" fill="#666"/><rect x="765.09" y="168.08" width="1" height="1" fill="#aaa"/><rect x="756.04" y="163.8" width="1" height="1" fill="#666"/><rect x="775.24" y="171.3" width="1" height="1" fill="#888"/><rect x="787.23" y="160.85" width="1" height="1" fill="#c4c4c4"/><rect x="777.31" y="144.24" width="1" height="1" fill="#bbb"/><rect x="758.44" y="147.86" width="1" height="1" fill="#666"/><rect x="755.58" y="153.22" width="1" height="1" fill="#aaa"/><rect x="763.74" y="162.09" width="1" height="1" fill="#999"/><rect x="779.47" y="164.23" width="1" height="1" fill="#c4c4c4"/><rect x="761.15" y="157.31" width="1" height="1" fill="#666"/><rect x="740.38" y="171.03" width="1" height="1" fill="#666"/><rect x="776.5" y="138.15" width="1" height="1" fill="#666"/><rect x="780.53" y="158.5" width="1" height="1" fill="#666"/><rect x="771.95" y="165.83" width="1" height="1" fill="#bbb"/><rect x="777.71" y="175.27" width="1" height="1" fill="#aaa"/><rect x="768" y="147.08" width="1" height="1" fill="#bbb"/><rect x="769.58" y="159.01" width="1" height="1" fill="#999"/><rect x="765.67" y="173.62" width="1" height="1" fill="#c4c4c4"/><rect x="752.91" y="157.86" width="1" height="1" fill="#888"/><rect x="765.3" y="157.27" width="1" height="1" fill="#999"/><rect x="781.48" y="147.04" width="1" height="1" fill="#aaa"/><rect x="759.34" y="164.11" width="1" height="1" fill="#c4c4c4"/><rect x="767.74" y="157.55" width="1" height="1" fill="#888"/><rect x="762.92" y="171.17" width="1" height="1" fill="#c4c4c4"/><rect x="762.89" y="164.98" width="1" height="1" fill="#bbb"/><rect x="771.02" y="149.2" width="1" height="1" fill="#c4c4c4"/><rect x="775.23" y="163.05" width="1" height="1" fill="#bbb"/><rect x="755.35" y="167.5" width="1" height="1" fill="#999"/><rect x="754.43" y="134.74" width="1" height="1" fill="#aaa"/><rect x="782.68" y="155.39" width="1" height="1" fill="#aaa"/><rect x="772.85" y="149.82" width="1" height="1" fill="#aaa"/><rect x="776.08" y="133.63" width="1" height="1" fill="#888"/><rect x="768.59" y="152.68" width="1" height="1" fill="#666"/><rect x="765.59" y="162.85" width="1" height="1" fill="#c4c4c4"/><rect x="763.27" y="157.65" width="1" height="1" fill="#c4c4c4"/><rect x="770.67" y="145.91" width="1" height="1" fill="#999"/><rect x="767.12" y="148.12" width="1" height="1" fill="#888"/><rect x="768.53" y="156.28" width="1" height="1" fill="#666"/><rect x="763.68" y="152.4" width="1" height="1" fill="#999"/><rect x="758.97" y="160.14" width="1" height="1" fill="#666"/><rect x="756.45" y="151.71" width="1" height="1" fill="#c4c4c4"/><rect x="758.7" y="168.07" width="1" height="1" fill="#999"/><rect x="778.55" y="162.72" width="1" height="1" fill="#aaa"/><rect x="778.72" y="173.14" width="1" height="1" fill="#999"/><rect x="757.07" y="159.81" width="1" height="1" fill="#666"/><rect x="772.37" y="168.5" width="1" height="1" fill="#c4c4c4"/><rect x="762.17" y="167.43" width="1" height="1" fill="#999"/><rect x="748.3" y="177.05" width="1" height="1" fill="#888"/><rect x="790.72" y="185.84" width="1" height="1" fill="#888"/><rect x="761.79" y="158.33" width="1" height="1" fill="#888"/><rect x="770.62" y="153.44" width="1" height="1" fill="#999"/><rect x="773.28" y="147.63" width="1" height="1" fill="#bbb"/><rect x="767.88" y="152.72" width="1" height="1" fill="#888"/><rect x="773.21" y="148.36" width="1" height="1" fill="#999"/><rect x="759.29" y="168.94" width="1" height="1" fill="#aaa"/><rect x="767.7" y="160.33" width="1" height="1" fill="#999"/><rect x="768.64" y="164.37" width="1" height="1" fill="#888"/><rect x="780.15" y="171.31" width="1" height="1" fill="#888"/><rect x="772.91" y="155.15" width="1" height="1" fill="#aaa"/><rect x="778.66" y="169.69" width="1" height="1" fill="#aaa"/><rect x="779.07" y="157.55" width="1" height="1" fill="#666"/><rect x="761.98" y="146.45" width="1" height="1" fill="#888"/><rect x="777.16" y="163.05" width="1" height="1" fill="#bbb"/><rect x="749.29" y="154.5" width="1" height="1" fill="#aaa"/><rect x="766.89" y="162.36" width="1" height="1" fill="#999"/><rect x="774.66" y="147.87" width="1" height="1" fill="#666"/><rect x="779.96" y="166.53" width="1" height="1" fill="#666"/><rect x="774.66" y="148.99" width="1" height="1" fill="#888"/><rect x="769.36" y="155.75" width="1" height="1" fill="#aaa"/><rect x="757.29" y="155.53" width="1" height="1" fill="#bbb"/><rect x="779.11" y="164.34" width="1" height="1" fill="#999"/><rect x="774.05" y="166.73" width="1" height="1" fill="#999"/><rect x="771.34" y="168.41" width="1" height="1" fill="#c4c4c4"/><rect x="768.1" y="144.59" width="1" height="1" fill="#666"/><rect x="756.97" y="156.55" width="1" height="1" fill="#666"/><rect x="758.93" y="157.03" width="1" height="1" fill="#bbb"/><rect x="775.01" y="165.78" width="1" height="1" fill="#888"/><rect x="774.61" y="153.2" width="1" height="1" fill="#888"/><rect x="765.55" y="154.79" width="1" height="1" fill="#c4c4c4"/><rect x="755.21" y="174.05" width="1" height="1" fill="#bbb"/><rect x="780.53" y="144.31" width="1" height="1" fill="#aaa"/><rect x="779.19" y="178.16" width="1" height="1" fill="#bbb"/><rect x="765.84" y="148.04" width="1" height="1" fill="#c4c4c4"/><rect x="765.81" y="166.88" width="1" height="1" fill="#888"/><rect x="760.68" y="144.76" width="1" height="1" fill="#999"/><rect x="766.15" y="172.65" width="1" height="1" fill="#888"/><rect x="771.7" y="166.33" width="1" height="1" fill="#666"/><rect x="765.64" y="159.93" width="1" height="1" fill="#c4c4c4"/><rect x="757.51" y="143.25" width="1" height="1" fill="#666"/><rect x="775.82" y="150.92" width="1" height="1" fill="#888"/><rect x="762.81" y="163.16" width="1" height="1" fill="#666"/><rect x="772.23" y="141.36" width="1" height="1" fill="#666"/><rect x="747.89" y="152.85" width="1" height="1" fill="#c4c4c4"/><rect x="741.35" y="158.16" width="1" height="1" fill="#aaa"/><rect x="767.27" y="142.03" width="1" height="1" fill="#aaa"/><rect x="773.79" y="151.24" width="1" height="1" fill="#c4c4c4"/><rect x="764.56" y="150.79" width="1" height="1" fill="#888"/><rect x="743.55" y="157.88" width="1" height="1" fill="#999"/><rect x="775.8" y="153.02" width="1" height="1" fill="#aaa"/><rect x="791.86" y="163.27" width="1" height="1" fill="#999"/><rect x="774.24" y="157.83" width="1" height="1" fill="#bbb"/><rect x="760.01" y="169.64" width="1" height="1" fill="#c4c4c4"/><rect x="774.63" y="159.33" width="1" height="1" fill="#888"/><rect x="768.93" y="163.99" width="1" height="1" fill="#999"/><rect x="743.4" y="166.57" width="1" height="1" fill="#aaa"/><rect x="765.56" y="157.67" width="1" height="1" fill="#bbb"/><rect x="766.8" y="174.05" width="1" height="1" fill="#999"/><rect x="776.8" y="166.03" width="1" height="1" fill="#888"/><rect x="767.22" y="142.18" width="1" height="1" fill="#aaa"/><rect x="782.69" y="153.04" width="1" height="1" fill="#aaa"/><rect x="763.04" y="147.77" width="1" height="1" fill="#999"/><rect x="755.93" y="167.21" width="1" height="1" fill="#c4c4c4"/><rect x="765.38" y="148.6" width="1" height="1" fill="#999"/><rect x="767.56" y="163.28" width="1" height="1" fill="#999"/><rect x="778.75" y="171.24" width="1" height="1" fill="#c4c4c4"/><rect x="779.38" y="153.48" width="1" height="1" fill="#888"/><rect x="763.4" y="158.89" width="1" height="1" fill="#888"/><rect x="746.09" y="170.39" width="1" height="1" fill="#888"/><rect x="748.82" y="147.22" width="1" height="1" fill="#888"/><rect x="760.35" y="163.05" width="1" height="1" fill="#888"/><rect x="768.08" y="157.29" width="1" height="1" fill="#999"/><rect x="789.5" y="168.72" width="1" height="1" fill="#666"/><rect x="768.81" y="161.13" width="1" height="1" fill="#666"/><rect x="766.12" y="145.68" width="1" height="1" fill="#888"/><rect x="772.1" y="152.32" width="1" height="1" fill="#bbb"/><rect x="757.35" y="152" width="1" height="1" fill="#aaa"/><rect x="766.38" y="156.91" width="1" height="1" fill="#bbb"/><rect x="744.13" y="161.18" width="1" height="1" fill="#666"/><rect x="769.9" y="159.21" width="1" height="1" fill="#aaa"/><rect x="770.28" y="171.1" width="1" height="1" fill="#c4c4c4"/><rect x="771.46" y="164.5" width="1" height="1" fill="#666"/><rect x="781.06" y="162.7" width="1" height="1" fill="#aaa"/><rect x="766.6" y="149.75" width="1" height="1" fill="#888"/><rect x="763.83" y="166.31" width="1" height="1" fill="#aaa"/><rect x="747.79" y="168.98" width="1" height="1" fill="#c4c4c4"/><rect x="765.4" y="151.53" width="1" height="1" fill="#888"/><rect x="768" y="147.02" width="1" height="1" fill="#999"/><rect x="771.39" y="157.97" width="1" height="1" fill="#666"/><rect x="761.33" y="150.49" width="1" height="1" fill="#888"/><rect x="771.05" y="170.58" width="1" height="1" fill="#aaa"/><rect x="756.35" y="179.21" width="1" height="1" fill="#999"/><rect x="754.29" y="164.21" width="1" height="1" fill="#666"/><rect x="768.18" y="159.38" width="1" height="1" fill="#bbb"/><rect x="733.68" y="156.44" width="1" height="1" fill="#666"/><rect x="744.22" y="151.94" width="1" height="1" fill="#999"/><rect x="780.43" y="166.14" width="1" height="1" fill="#888"/><rect x="766.47" y="144.9" width="1" height="1" fill="#aaa"/><rect x="764.29" y="145.51" width="1" height="1" fill="#999"/><rect x="761.44" y="161.57" width="1" height="1" fill="#bbb"/><rect x="773.53" y="152.37" width="1" height="1" fill="#888"/><rect x="759.22" y="177.79" width="1" height="1" fill="#c4c4c4"/><rect x="763.21" y="161.43" width="1" height="1" fill="#999"/><rect x="751.01" y="142.5" width="1" height="1" fill="#c4c4c4"/><rect x="741.78" y="149.33" width="1" height="1" fill="#888"/><rect x="781.36" y="162.88" width="1" height="1" fill="#bbb"/><rect x="762.34" y="154.84" width="1" height="1" fill="#666"/><rect x="758.99" y="164.71" width="1" height="1" fill="#999"/><rect x="777.76" y="166.03" width="1" height="1" fill="#888"/><rect x="758.57" y="175.79" width="1" height="1" fill="#666"/><rect x="758.73" y="172.57" width="1" height="1" fill="#666"/><rect x="763.9" y="166.65" width="1" height="1" fill="#999"/><rect x="786.72" y="151.14" width="1" height="1" fill="#999"/><rect x="748.32" y="151.56" width="1" height="1" fill="#c4c4c4"/><rect x="760.26" y="172.51" width="1" height="1" fill="#666"/><rect x="774.88" y="164.8" width="1" height="1" fill="#999"/><rect x="779.93" y="158.57" width="1" height="1" fill="#aaa"/><rect x="763.88" y="167.11" width="1" height="1" fill="#c4c4c4"/><rect x="768.16" y="161.79" width="1" height="1" fill="#bbb"/><rect x="756.56" y="150.37" width="1" height="1" fill="#888"/><rect x="780.67" y="151.49" width="1" height="1" fill="#bbb"/><rect x="770" y="153.55" width="1" height="1" fill="#c4c4c4"/><rect x="769.26" y="149.1" width="1" height="1" fill="#aaa"/><rect x="749.62" y="168.12" width="1" height="1" fill="#666"/><rect x="776.33" y="153.86" width="1" height="1" fill="#999"/><rect x="773.46" y="165.11" width="1" height="1" fill="#888"/><rect x="774.15" y="151.88" width="1" height="1" fill="#bbb"/><rect x="763.9" y="142.57" width="1" height="1" fill="#c4c4c4"/><rect x="772.45" y="155.38" width="1" height="1" fill="#999"/><rect x="758.81" y="153.02" width="1" height="1" fill="#aaa"/><rect x="765.06" y="148.4" width="1" height="1" fill="#999"/><rect x="748" y="162.3" width="1" height="1" fill="#888"/><rect x="760.66" y="174.92" width="1" height="1" fill="#aaa"/><rect x="757.3" y="163.81" width="1" height="1" fill="#c4c4c4"/><rect x="755.28" y="154.7" width="1" height="1" fill="#888"/><rect x="768.12" y="157.33" width="1" height="1" fill="#aaa"/><rect x="759.37" y="184.19" width="1" height="1" fill="#bbb"/><rect x="770.16" y="182.12" width="1" height="1" fill="#666"/><rect x="771.47" y="157.06" width="1" height="1" fill="#666"/><rect x="742.16" y="143.49" width="1" height="1" fill="#666"/><rect x="754.53" y="155" width="1" height="1" fill="#888"/><rect x="751.88" y="151.55" width="1" height="1" fill="#888"/><rect x="785.19" y="163.35" width="1" height="1" fill="#888"/><rect x="778.1" y="155.46" width="1" height="1" fill="#c4c4c4"/><rect x="754.35" y="165.34" width="1" height="1" fill="#888"/><rect x="771.37" y="162.57" width="1" height="1" fill="#c4c4c4"/><rect x="758.47" y="153.41" width="1" height="1" fill="#999"/><rect x="776.66" y="176.62" width="1" height="1" fill="#999"/><rect x="743.21" y="159.82" width="1" height="1" fill="#888"/><rect x="757.87" y="161.84" width="1" height="1" fill="#888"/><rect x="765.24" y="170.58" width="1" height="1" fill="#c4c4c4"/><rect x="769.37" y="157.77" width="1" height="1" fill="#888"/><rect x="747.44" y="165.69" width="1" height="1" fill="#999"/><rect x="767.4" y="159.35" width="1" height="1" fill="#bbb"/><rect x="780.19" y="157.14" width="1" height="1" fill="#c4c4c4"/><rect x="769.39" y="147.57" width="1" height="1" fill="#c4c4c4"/><rect x="741.54" y="161.01" width="1" height="1" fill="#888"/><rect x="768.68" y="167.61" width="1" height="1" fill="#bbb"/><rect x="766.95" y="157.89" width="1" height="1" fill="#999"/><rect x="763.38" y="150.46" width="1" height="1" fill="#999"/><rect x="770.5" y="142.01" width="1" height="1" fill="#666"/><rect x="775.44" y="158.87" width="1" height="1" fill="#666"/><rect x="763.02" y="159.44" width="1" height="1" fill="#888"/><rect x="778.53" y="157.15" width="1" height="1" fill="#999"/><rect x="757.9" y="160.15" width="1" height="1" fill="#888"/><rect x="759.51" y="147.32" width="1" height="1" fill="#999"/><rect x="772.07" y="136.79" width="1" height="1" fill="#666"/><rect x="771.1" y="167.22" width="1" height="1" fill="#aaa"/><rect x="754.94" y="155.46" width="1" height="1" fill="#999"/><rect x="749.12" y="156.58" width="1" height="1" fill="#aaa"/><rect x="758.43" y="147.48" width="1" height="1" fill="#bbb"/><rect x="768.59" y="150.93" width="1" height="1" fill="#c4c4c4"/><rect x="782.84" y="161.75" width="1" height="1" fill="#999"/><rect x="762.27" y="145.37" width="1" height="1" fill="#aaa"/><rect x="778.33" y="168.95" width="1" height="1" fill="#666"/><rect x="752.65" y="155.21" width="1" height="1" fill="#aaa"/><rect x="789.37" y="168.68" width="1" height="1" fill="#bbb"/><rect x="763.8" y="155.95" width="1" height="1" fill="#c4c4c4"/><rect x="766.81" y="171.29" width="1" height="1" fill="#888"/><rect x="778.36" y="152.69" width="1" height="1" fill="#888"/><rect x="766.68" y="165.14" width="1" height="1" fill="#888"/><rect x="758.3" y="169.75" width="1" height="1" fill="#aaa"/><rect x="767.11" y="164.66" width="1" height="1" fill="#666"/><rect x="775.26" y="156.72" width="1" height="1" fill="#aaa"/><rect x="775.54" y="136.98" width="1" height="1" fill="#999"/><rect x="764.87" y="153.5" width="1" height="1" fill="#aaa"/><rect x="756.79" y="159.17" width="1" height="1" fill="#999"/><rect x="772.87" y="158.46" width="1" height="1" fill="#666"/><rect x="764.87" y="153.13" width="1" height="1" fill="#999"/><rect x="772.26" y="159.61" width="1" height="1" fill="#aaa"/><rect x="789.57" y="162.2" width="1" height="1" fill="#999"/><rect x="767.84" y="161.06" width="1" height="1" fill="#888"/><rect x="769.99" y="157.73" width="1" height="1" fill="#bbb"/><rect x="768.04" y="175.35" width="1" height="1" fill="#666"/><rect x="764.54" y="169.43" width="1" height="1" fill="#999"/><rect x="753.55" y="147.18" width="1" height="1" fill="#c4c4c4"/><rect x="756.83" y="138.11" width="1" height="1" fill="#aaa"/><rect x="775.48" y="164.11" width="1" height="1" fill="#666"/><rect x="786.87" y="168.61" width="1" height="1" fill="#666"/><rect x="778.26" y="158.51" width="1" height="1" fill="#666"/><rect x="766.99" y="156.68" width="1" height="1" fill="#aaa"/><rect x="760.97" y="162.88" width="1" height="1" fill="#c4c4c4"/><rect x="778.99" y="158.04" width="1" height="1" fill="#666"/><rect x="771.61" y="143.49" width="1" height="1" fill="#aaa"/><rect x="771.09" y="153.98" width="1" height="1" fill="#c4c4c4"/><rect x="774.86" y="175.09" width="1" height="1" fill="#999"/><rect x="758.05" y="156.71" width="1" height="1" fill="#c4c4c4"/><rect x="769.92" y="156.09" width="1" height="1" fill="#aaa"/><rect x="767.32" y="154.35" width="1" height="1" fill="#bbb"/><rect x="753.83" y="182.71" width="1" height="1" fill="#bbb"/><rect x="771.55" y="149.66" width="1" height="1" fill="#bbb"/><rect x="760.51" y="165.89" width="1" height="1" fill="#bbb"/><rect x="769.61" y="178.08" width="1" height="1" fill="#bbb"/><rect x="759.42" y="167.7" width="1" height="1" fill="#666"/><rect x="762.27" y="171.2" width="1" height="1" fill="#bbb"/><rect x="772.99" y="164.53" width="1" height="1" fill="#c4c4c4"/><rect x="761.17" y="157.03" width="1" height="1" fill="#888"/><rect x="770.66" y="144" width="1" height="1" fill="#666"/><rect x="753.82" y="158.23" width="1" height="1" fill="#c4c4c4"/><rect x="771.8" y="162.58" width="1" height="1" fill="#c4c4c4"/><rect x="762.85" y="164.27" width="1" height="1" fill="#999"/><rect x="773.56" y="150.17" width="1" height="1" fill="#888"/><rect x="746.32" y="163.66" width="1" height="1" fill="#bbb"/><rect x="766.61" y="145.22" width="1" height="1" fill="#888"/><rect x="775.36" y="147.07" width="1" height="1" fill="#999"/><rect x="752.04" y="148.58" width="1" height="1" fill="#aaa"/><rect x="765.59" y="162.19" width="1" height="1" fill="#c4c4c4"/><rect x="763.38" y="147.18" width="1" height="1" fill="#c4c4c4"/><rect x="770.08" y="142.86" width="1" height="1" fill="#aaa"/><rect x="765.36" y="170.15" width="1" height="1" fill="#bbb"/><rect x="771.98" y="168.09" width="1" height="1" fill="#999"/><rect x="752.96" y="151.25" width="1" height="1" fill="#888"/><rect x="761.25" y="155.86" width="1" height="1" fill="#888"/><rect x="763.16" y="140.08" width="1" height="1" fill="#c4c4c4"/><rect x="749.57" y="153.43" width="1" height="1" fill="#aaa"/><rect x="774.01" y="175.36" width="1" height="1" fill="#888"/><rect x="770.77" y="158.32" width="1" height="1" fill="#999"/><rect x="764.44" y="144.77" width="1" height="1" fill="#888"/><rect x="777.78" y="146.87" width="1" height="1" fill="#c4c4c4"/><rect x="763.87" y="148.34" width="1" height="1" fill="#666"/><rect x="763.93" y="143.04" width="1" height="1" fill="#888"/><rect x="749.08" y="163.26" width="1" height="1" fill="#888"/><rect x="774.74" y="153.23" width="1" height="1" fill="#c4c4c4"/><rect x="747.64" y="156.55" width="1" height="1" fill="#c4c4c4"/><rect x="761.89" y="149.59" width="1" height="1" fill="#aaa"/><rect x="774.42" y="174.87" width="1" height="1" fill="#999"/><rect x="768.22" y="154.37" width="1" height="1" fill="#aaa"/><rect x="770.74" y="164.21" width="1" height="1" fill="#bbb"/><rect x="760.75" y="161.98" width="1" height="1" fill="#aaa"/><rect x="754.71" y="156.27" width="1" height="1" fill="#999"/><rect x="759.4" y="140.55" width="1" height="1" fill="#666"/><rect x="768.52" y="151.38" width="1" height="1" fill="#bbb"/><rect x="764.96" y="159.36" width="1" height="1" fill="#999"/><rect x="775.23" y="164.26" width="1" height="1" fill="#aaa"/><rect x="752.86" y="160.78" width="1" height="1" fill="#666"/><rect x="755.26" y="135.39" width="1" height="1" fill="#888"/><rect x="747.61" y="145.17" width="1" height="1" fill="#888"/><rect x="754.86" y="175.41" width="1" height="1" fill="#666"/><rect x="767.98" y="155.69" width="1" height="1" fill="#999"/><rect x="758.73" y="159.9" width="1" height="1" fill="#c4c4c4"/><rect x="761.43" y="170.05" width="1" height="1" fill="#888"/><rect x="769.85" y="153.84" width="1" height="1" fill="#666"/><rect x="766.08" y="146.1" width="1" height="1" fill="#999"/><rect x="765.16" y="146.69" width="1" height="1" fill="#c4c4c4"/><rect x="768.34" y="150.36" width="1" height="1" fill="#999"/><rect x="767.08" y="166.24" width="1" height="1" fill="#aaa"/><rect x="767.22" y="173.61" width="1" height="1" fill="#666"/><rect x="754.8" y="172.89" width="1" height="1" fill="#999"/><rect x="760.05" y="137.69" width="1" height="1" fill="#c4c4c4"/><rect x="757.59" y="158.31" width="1" height="1" fill="#bbb"/><rect x="773.05" y="147.01" width="1" height="1" fill="#c4c4c4"/><rect x="764.85" y="164.21" width="1" height="1" fill="#c4c4c4"/><rect x="766.81" y="169.23" width="1" height="1" fill="#888"/><rect x="774.28" y="160.8" width="1" height="1" fill="#999"/><rect x="761.55" y="161.5" width="1" height="1" fill="#999"/><rect x="777.48" y="157.52" width="1" height="1" fill="#bbb"/><rect x="767.95" y="162.72" width="1" height="1" fill="#bbb"/><rect x="748.06" y="178.49" width="1" height="1" fill="#999"/><rect x="751.57" y="131.11" width="1" height="1" fill="#666"/><rect x="760.47" y="144.63" width="1" height="1" fill="#666"/><rect x="764.68" y="159.61" width="1" height="1" fill="#999"/><rect x="771.8" y="143.11" width="1" height="1" fill="#999"/><rect x="772.45" y="145.9" width="1" height="1" fill="#aaa"/><rect x="764.54" y="145.85" width="1" height="1" fill="#999"/><rect x="766.93" y="146.95" width="1" height="1" fill="#999"/><rect x="755.18" y="162.67" width="1" height="1" fill="#888"/><rect x="774.96" y="141.82" width="1" height="1" fill="#c4c4c4"/><rect x="752.13" y="144.99" width="1" height="1" fill="#999"/><rect x="760.89" y="148.61" width="1" height="1" fill="#c4c4c4"/><rect x="773.4" y="145.45" width="1" height="1" fill="#bbb"/><rect x="767.26" y="140.46" width="1" height="1" fill="#666"/><rect x="750.28" y="144.4" width="1" height="1" fill="#999"/><rect x="780.04" y="165.6" width="1" height="1" fill="#999"/><rect x="762.02" y="143.36" width="1" height="1" fill="#aaa"/><rect x="756.51" y="165.37" width="1" height="1" fill="#c4c4c4"/><rect x="771.33" y="181.1" width="1" height="1" fill="#c4c4c4"/><rect x="776.38" y="163.73" width="1" height="1" fill="#bbb"/><rect x="765.21" y="148.01" width="1" height="1" fill="#666"/><rect x="771.76" y="152.66" width="1" height="1" fill="#bbb"/><rect x="768.57" y="148.57" width="1" height="1" fill="#666"/><rect x="758.4" y="158.96" width="1" height="1" fill="#c4c4c4"/><rect x="773.14" y="157.43" width="1" height="1" fill="#888"/><rect x="751.4" y="155.03" width="1" height="1" fill="#666"/><rect x="756.58" y="174.87" width="1" height="1" fill="#bbb"/><rect x="754.7" y="174.46" width="1" height="1" fill="#666"/><rect x="785.62" y="142.83" width="1" height="1" fill="#999"/><rect x="756.26" y="173.98" width="1" height="1" fill="#bbb"/><rect x="753.67" y="162.99" width="1" height="1" fill="#666"/><rect x="769.44" y="155.3" width="1" height="1" fill="#aaa"/><rect x="766.99" y="163.42" width="1" height="1" fill="#888"/><rect x="766" y="156.09" width="1" height="1" fill="#888"/><rect x="761.55" y="158.88" width="1" height="1" fill="#666"/><rect x="775.99" y="149.21" width="1" height="1" fill="#888"/><rect x="774.34" y="147.53" width="1" height="1" fill="#bbb"/><rect x="768.68" y="157.37" width="1" height="1" fill="#888"/><rect x="774.84" y="140.1" width="1" height="1" fill="#c4c4c4"/><rect x="769.06" y="167.89" width="1" height="1" fill="#c4c4c4"/><rect x="781.38" y="162.21" width="1" height="1" fill="#666"/><rect x="772.64" y="160.66" width="1" height="1" fill="#c4c4c4"/><rect x="770.95" y="157.86" width="1" height="1" fill="#999"/></g>
<g><rect x="791.81" y="143.48" width="1" height="1" fill="#888"/><rect x="795.22" y="160.65" width="1" height="1" fill="#888"/><rect x="793.24" y="153.8" width="1" height="1" fill="#888"/><rect x="796.2" y="151.14" width="1" height="1" fill="#666"/><rect x="783.28" y="161.55" width="1" height="1" fill="#c4c4c4"/><rect x="799.91" y="162.11" width="1" height="1" fill="#aaa"/><rect x="794.06" y="148.93" width="1" height="1" fill="#999"/><rect x="774.92" y="156.53" width="1" height="1" fill="#c4c4c4"/><rect x="795.27" y="143.05" width="1" height="1" fill="#888"/><rect x="788.12" y="140.36" width="1" height="1" fill="#666"/><rect x="788.96" y="154.75" width="1" height="1" fill="#666"/><rect x="799.16" y="153.72" width="1" height="1" fill="#c4c4c4"/><rect x="796.95" y="157.84" width="1" height="1" fill="#c4c4c4"/><rect x="791.66" y="154.2" width="1" height="1" fill="#aaa"/><rect x="797.5" y="152.25" width="1" height="1" fill="#c4c4c4"/><rect x="793.9" y="161.1" width="1" height="1" fill="#bbb"/><rect x="791.03" y="156.64" width="1" height="1" fill="#888"/><rect x="792.71" y="160.65" width="1" height="1" fill="#bbb"/><rect x="797.64" y="155.89" width="1" height="1" fill="#bbb"/><rect x="794.08" y="164.83" width="1" height="1" fill="#888"/><rect x="790.12" y="155.45" width="1" height="1" fill="#c4c4c4"/><rect x="797.9" y="161.09" width="1" height="1" fill="#bbb"/><rect x="790.95" y="150.89" width="1" height="1" fill="#999"/><rect x="788.95" y="160.99" width="1" height="1" fill="#999"/><rect x="794.49" y="160.98" width="1" height="1" fill="#bbb"/><rect x="797.01" y="150.81" width="1" height="1" fill="#888"/><rect x="795.8" y="155.47" width="1" height="1" fill="#aaa"/><rect x="792.62" y="149.3" width="1" height="1" fill="#666"/><rect x="812.07" y="161.42" width="1" height="1" fill="#c4c4c4"/><rect x="789.59" y="160.17" width="1" height="1" fill="#aaa"/><rect x="789.04" y="153.18" width="1" height="1" fill="#aaa"/><rect x="797.07" y="151.66" width="1" height="1" fill="#999"/><rect x="793.02" y="162.6" width="1" height="1" fill="#666"/><rect x="797.07" y="146.94" width="1" height="1" fill="#666"/><rect x="806.06" y="148.04" width="1" height="1" fill="#666"/><rect x="792.27" y="149.68" width="1" height="1" fill="#c4c4c4"/><rect x="790.61" y="160.12" width="1" height="1" fill="#aaa"/><rect x="787.02" y="164.49" width="1" height="1" fill="#999"/><rect x="795.04" y="155.84" width="1" height="1" fill="#666"/><rect x="783.93" y="157.95" width="1" height="1" fill="#888"/><rect x="797.01" y="143.3" width="1" height="1" fill="#bbb"/><rect x="789.92" y="148.84" width="1" height="1" fill="#aaa"/><rect x="801.98" y="166.24" width="1" height="1" fill="#666"/><rect x="795.39" y="154.45" width="1" height="1" fill="#666"/><rect x="785.77" y="152.7" width="1" height="1" fill="#666"/><rect x="796.7" y="162.25" width="1" height="1" fill="#999"/><rect x="797.53" y="159.2" width="1" height="1" fill="#888"/><rect x="796.36" y="144.79" width="1" height="1" fill="#bbb"/><rect x="796.61" y="148.68" width="1" height="1" fill="#c4c4c4"/><rect x="791.35" y="166.5" width="1" height="1" fill="#aaa"/><rect x="788.83" y="158.18" width="1" height="1" fill="#c4c4c4"/><rect x="800.95" y="145.61" width="1" height="1" fill="#999"/><rect x="800.95" y="160.69" width="1" height="1" fill="#888"/><rect x="805.13" y="169.98" width="1" height="1" fill="#999"/><rect x="805.77" y="152.94" width="1" height="1" fill="#c4c4c4"/><rect x="791.18" y="152.88" width="1" height="1" fill="#999"/><rect x="803" y="155.52" width="1" height="1" fill="#bbb"/><rect x="798.67" y="154.78" width="1" height="1" fill="#999"/><rect x="790.74" y="157.58" width="1" height="1" fill="#aaa"/><rect x="802.17" y="155.41" width="1" height="1" fill="#aaa"/><rect x="778.53" y="145.25" width="1" height="1" fill="#aaa"/><rect x="793.2" y="152.72" width="1" height="1" fill="#666"/><rect x="797.82" y="154.74" width="1" height="1" fill="#888"/><rect x="794.04" y="151.51" width="1" height="1" fill="#888"/><rect x="793.39" y="164.35" width="1" height="1" fill="#bbb"/><rect x="794.45" y="151.34" width="1" height="1" fill="#999"/><rect x="794.06" y="162.3" width="1" height="1" fill="#aaa"/><rect x="781.02" y="151.2" width="1" height="1" fill="#888"/><rect x="789.98" y="164.32" width="1" height="1" fill="#999"/><rect x="799.7" y="153.74" width="1" height="1" fill="#888"/><rect x="798.37" y="140.96" width="1" height="1" fill="#bbb"/><rect x="792.65" y="158.22" width="1" height="1" fill="#999"/><rect x="781.67" y="161.97" width="1" height="1" fill="#999"/><rect x="801.07" y="154.58" width="1" height="1" fill="#aaa"/><rect x="794.72" y="159.84" width="1" height="1" fill="#bbb"/><rect x="804.63" y="158.79" width="1" height="1" fill="#999"/><rect x="789.5" y="150" width="1" height="1" fill="#666"/><rect x="789.59" y="153.2" width="1" height="1" fill="#888"/><rect x="803.1" y="150.17" width="1" height="1" fill="#bbb"/><rect x="795.25" y="160.26" width="1" height="1" fill="#666"/><rect x="790.06" y="149.79" width="1" height="1" fill="#888"/><rect x="786.3" y="155.48" width="1" height="1" fill="#c4c4c4"/><rect x="791.17" y="160.61" width="1" height="1" fill="#aaa"/><rect x="791.61" y="170.51" width="1" height="1" fill="#999"/><rect x="796.4" y="153.32" width="1" height="1" fill="#bbb"/><rect x="806.03" y="157.87" width="1" height="1" fill="#888"/><rect x="793.94" y="156.57" width="1" height="1" fill="#bbb"/><rect x="796.53" y="139.32" width="1" height="1" fill="#aaa"/><rect x="799.27" y="163.17" width="1" height="1" fill="#888"/><rect x="797.54" y="151.05" width="1" height="1" fill="#666"/><rect x="787.64" y="150.27" width="1" height="1" fill="#999"/><rect x="791.85" y="153.36" width="1" height="1" fill="#bbb"/><rect x="798.8" y="155.98" width="1" height="1" fill="#bbb"/><rect x="795.62" y="160.64" width="1" height="1" fill="#aaa"/><rect x="795.72" y="168.1" width="1" height="1" fill="#aaa"/><rect x="802.11" y="155.32" width="1" height="1" fill="#aaa"/><rect x="789.52" y="155.03" width="1" height="1" fill="#aaa"/><rect x="800.27" y="146.1" width="1" height="1" fill="#c4c4c4"/><rect x="794.78" y="166.6" width="1" height="1" fill="#bbb"/><rect x="799.73" y="144.28" width="1" height="1" fill="#999"/><rect x="796.84" y="153.83" width="1" height="1" fill="#666"/><rect x="787.14" y="156.26" width="1" height="1" fill="#bbb"/><rect x="795" y="172.27" width="1" height="1" fill="#aaa"/><rect x="796.82" y="141.5" width="1" height="1" fill="#bbb"/><rect x="794.51" y="156.54" width="1" height="1" fill="#bbb"/><rect x="801.17" y="147.32" width="1" height="1" fill="#bbb"/><rect x="803.05" y="159.31" width="1" height="1" fill="#999"/><rect x="791" y="150.41" width="1" height="1" fill="#888"/><rect x="792.59" y="153.66" width="1" height="1" fill="#aaa"/><rect x="801.99" y="152.15" width="1" height="1" fill="#c4c4c4"/><rect x="795.81" y="161.3" width="1" height="1" fill="#999"/><rect x="788" y="159.83" width="1" height="1" fill="#c4c4c4"/><rect x="795.4" y="151.52" width="1" height="1" fill="#bbb"/><rect x="796.68" y="158.77" width="1" height="1" fill="#666"/><rect x="801.25" y="164.51" width="1" height="1" fill="#aaa"/><rect x="794.76" y="156.88" width="1" height="1" fill="#c4c4c4"/><rect x="797.38" y="164.46" width="1" height="1" fill="#999"/><rect x="789.43" y="144.95" width="1" height="1" fill="#666"/><rect x="795.23" y="159.6" width="1" height="1" fill="#aaa"/><rect x="795.21" y="152.64" width="1" height="1" fill="#999"/><rect x="792.41" y="142.31" width="1" height="1" fill="#888"/><rect x="808.94" y="153.86" width="1" height="1" fill="#888"/><rect x="789.16" y="151.14" width="1" height="1" fill="#666"/><rect x="794.49" y="153.37" width="1" height="1" fill="#999"/><rect x="800.69" y="155.63" width="1" height="1" fill="#bbb"/><rect x="791.8" y="157.09" width="1" height="1" fill="#999"/><rect x="793.67" y="147.07" width="1" height="1" fill="#aaa"/><rect x="784.72" y="165.7" width="1" height="1" fill="#888"/><rect x="805.56" y="154.55" width="1" height="1" fill="#666"/><rect x="794.83" y="155.66" width="1" height="1" fill="#888"/></g>
<path d="M138.5 112.9 C139.52 107.05 138.33 109.52 141.9 106.1 C145.47 102.68 144.04 103.51 150.4 101.5 C156.76 99.49 155.51 99.91 163.1 99.4 C170.69 98.89 168.86 99.05 175.7 99.8 C182.54 100.55 181.07 99.74 185.9 101.9 C190.73 104.06 189.52 103.19 191.8 107 C194.08 110.81 192.87 108.51 193.5 114.6 C194.13 120.69 193.9 119.68 193.9 127.3 C193.9 134.92 194.13 133.4 193.5 140 C192.87 146.6 194.08 144.74 191.8 149.3 C189.52 153.86 190.22 152.92 185.9 155.2 C181.58 157.48 181.45 157.65 177.4 156.9 C173.35 156.15 174.92 155.49 172.4 152.7 C169.88 149.91 171.04 148.62 169 147.6 C166.96 146.58 167.88 147.29 165.6 149.3 C163.32 151.31 163.95 150.76 161.4 154.3 C158.85 157.84 159.65 156.51 157.1 161.1 C154.55 165.69 155.42 165.04 152.9 169.6 C150.38 174.16 150.98 174.53 148.7 176.3 C146.42 178.07 147.07 178.02 145.3 175.5 C143.53 172.98 143.82 173.48 142.8 167.9 C141.78 162.32 142.41 164.01 141.9 156.9 C141.39 149.79 141.73 151.07 141.1 144.2 C140.47 137.33 140.58 139.58 139.8 134 C139.02 128.42 138.89 131.93 138.5 125.6 C138.11 119.27 137.48 118.75 138.5 112.9 Z" fill="#000" stroke="#000" stroke-width="1" stroke-linejoin="round"/>
<path d="M145 137 C148.15 132.65 149.7 134.8 156 134.5 C162.3 134.2 162.4 133.75 166 136 C169.6 138.25 169.2 138.55 168 142 C166.8 145.45 165.9 144.2 162 147.5 C158.1 150.8 158.3 149.55 155 153 C151.7 156.45 153.25 157.5 151 159 C148.75 160.5 149.15 161 147.5 158 C145.85 155 146.25 155.3 145.5 149 C144.75 142.7 141.85 141.35 145 137 Z" fill="#bdbdbd" filter="url(#bl0)"/>
<path d="M174.5 130 C177.05 126.55 177.5 127.5 182 127.5 C186.5 127.5 187.1 125.95 189.5 130 C191.9 134.05 190.45 135.3 190 141 C189.55 146.7 190.7 146 188 149 C185.3 152 184.75 151.6 181 151 C177.25 150.4 177.75 150.6 175.5 147 C173.25 143.4 173.8 144.1 173.5 139 C173.2 133.9 171.95 133.45 174.5 130 Z" fill="url(#rg1)" filter="url(#bl0)"/>
<ellipse cx="147.5" cy="165" rx="1.6" ry="3" fill="#c8c8c8" filter="url(#bl1)"/>
<ellipse cx="165" cy="115" rx="27" ry="16.5" fill="url(#rg2)" transform="rotate(-4 165 115)"/>
<path d="M184.7 110.8 C184.68 114.43 184.86 112.96 182.37 116.31 C179.88 119.66 181.36 118.34 177.24 120.85 C173.12 123.36 175.14 122.64 170.01 123.85 C164.88 125.06 167.03 124.78 161.84 124.48 C156.64 124.19 158.98 124.49 154.42 122.96 C149.87 121.42 151.56 122.52 148.18 119.88 C144.79 117.25 145.14 118.61 144.27 115.05 C143.39 111.49 142.99 112.61 145.56 109.21 C148.13 105.8 147.23 106.96 151.98 104.83 C156.73 102.7 154.67 103.79 159.81 102.82 C164.96 101.84 162.16 102.09 167.41 101.91 C172.67 101.72 170.57 101.09 175.58 102.26 C180.58 103.42 179.4 102.55 182.44 105.4 C185.48 108.25 184.72 107.16 184.7 110.8 Z" fill="url(#rg3)" stroke="#c0c0c0" stroke-width="0.9"/>
<path d="M180.45 110.5 C181.04 113.12 181.27 112.32 179.26 114.79 C177.26 117.27 177.93 116.37 174.43 117.92 C170.94 119.48 172.54 118.68 168.79 119.47 C165.03 120.26 167.06 120.12 163.17 120.29 C159.27 120.46 160.75 120.89 157.11 119.98 C153.48 119.07 154.41 119.67 152.26 117.55 C150.11 115.44 150.7 116.28 150.66 113.63 C150.62 110.98 150.41 112.08 152.13 109.6 C153.84 107.11 152.76 108.03 155.81 106.18 C158.86 104.33 157.45 104.86 161.28 104.04 C165.1 103.23 163.47 103.48 167.28 103.73 C171.09 103.98 169.29 103.74 172.69 104.8 C176.1 105.87 174.9 105.03 177.49 106.92 C180.07 108.82 179.85 107.87 180.45 110.5 Z" fill="url(#rg4)" stroke="#c0c0c0" stroke-width="0.9"/>
<path d="M174.24 110.5 C174.18 112.18 174.46 111.31 173.72 112.96 C172.98 114.6 173.76 114 172.02 115.44 C170.28 116.88 171.14 116.53 168.5 117.28 C165.86 118.03 166.89 117.85 164.1 117.69 C161.31 117.53 162.41 117.71 160.14 116.8 C157.86 115.88 158.57 116.41 157.28 114.94 C155.99 113.47 156.23 114.1 156.27 112.39 C156.3 110.67 156.22 111.38 157.38 109.8 C158.54 108.23 157.89 108.98 159.75 107.66 C161.61 106.33 160.44 106.78 162.95 105.84 C165.46 104.89 164.4 104.9 167.28 104.82 C170.15 104.74 169.37 104.56 171.58 105.59 C173.79 106.63 173.02 106.28 173.9 107.91 C174.79 109.54 174.3 108.81 174.24 110.5 Z" fill="url(#rg5)" stroke="#c0c0c0" stroke-width="0.9"/>
<path d="M170.71 110.24 C170.9 111.13 171.09 110.68 170.8 111.64 C170.51 112.6 170.88 112.32 169.84 113.12 C168.8 113.92 169.21 113.72 167.68 114.04 C166.16 114.37 166.74 114.26 165.25 114.09 C163.76 113.93 164.39 114.05 163.21 113.54 C162.03 113.04 162.42 113.34 161.71 112.58 C160.99 111.82 161.15 112.17 161.06 111.25 C160.98 110.33 160.93 110.74 161.45 109.83 C161.97 108.91 161.6 109.3 162.62 108.52 C163.64 107.73 163.05 107.93 164.5 107.46 C165.95 106.99 165.44 107.01 166.97 107.1 C168.5 107.2 168.02 107.13 169.1 107.75 C170.19 108.38 169.68 108.14 170.22 108.97 C170.75 109.8 170.51 109.35 170.71 110.24 Z" fill="url(#rg6)" stroke="#c0c0c0" stroke-width="0.9"/>
<path d="M343.4 120.5 C344.03 115.43 343.11 117.22 345.9 112.9 C348.69 108.58 347.63 109.13 352.7 106.1 C357.77 103.07 355.96 104.06 362.8 102.8 C369.64 101.54 368.39 101.78 375.5 101.9 C382.61 102.02 380.92 101.67 386.5 103.2 C392.08 104.73 391.04 104.09 394.1 107 C397.16 109.91 395.8 108.07 396.7 112.9 C397.6 117.73 397.1 116.26 397.1 123.1 C397.1 129.94 396.97 128.86 396.7 135.7 C396.43 142.54 397.22 141.07 396.2 145.9 C395.18 150.73 396.96 149.01 393.3 151.8 C389.64 154.59 389.07 153.67 384 155.2 C378.93 156.73 381.23 155.88 376.4 156.9 C371.57 157.92 371.98 157.34 367.9 158.6 C363.82 159.86 366.1 159.6 362.8 161.1 C359.5 162.6 360.2 163.6 356.9 163.6 C353.6 163.6 353.84 164.37 351.8 161.1 C349.76 157.83 351.09 157.26 350.1 152.7 C349.11 148.14 349.76 150.49 348.5 145.9 C347.24 141.31 347.31 142.23 345.9 137.4 C344.49 132.57 344.55 134.87 343.8 129.8 C343.05 124.73 342.77 125.57 343.4 120.5 Z" fill="#000" stroke="#000" stroke-width="1" stroke-linejoin="round"/>
<path d="M348.5 136 C351.41 133.15 352.67 134.8 359 134.5 C365.33 134.2 366.75 131.55 369.6 135 C372.45 138.45 371.38 141.65 368.5 146 C365.62 150.35 364.35 148 360 149.5 C355.65 151 357.21 152.65 354 151 C350.79 149.35 350.95 148.5 349.3 144 C347.65 139.5 345.59 138.85 348.5 136 Z" fill="#bdbdbd" filter="url(#bl2)"/>
<path d="M378 129 C380.88 125.85 381.41 126.95 386 126.5 C390.59 126.05 390.87 123.75 393.3 127.5 C395.73 131.25 394.64 133.15 394.1 139 C393.56 144.85 394.53 143.91 391.5 147 C388.47 150.09 388.35 149.45 384 149.3 C379.65 149.15 379.28 150.19 377 146.5 C374.72 142.81 376.1 142.25 376.4 137 C376.7 131.75 375.12 132.15 378 129 Z" fill="url(#rg7)" filter="url(#bl0)"/>
<ellipse cx="369" cy="117" rx="27.5" ry="16.5" fill="url(#rg8)" transform="rotate(-3 369 117)"/>
<path d="M389.77 113.26 C390.14 116.88 390.36 115.74 387.35 119 C384.33 122.25 385.37 120.89 380.73 123.04 C376.09 125.19 378.49 124.09 373.43 125.45 C368.36 126.8 371.09 126.67 365.53 127.1 C359.97 127.52 361.85 128.06 356.75 126.72 C351.64 125.37 352.95 126.11 350.22 123.07 C347.49 120.03 348.36 121.22 348.55 117.6 C348.74 113.98 348.39 115.53 350.79 112.21 C353.18 108.89 351.63 110.16 355.75 107.64 C359.86 105.11 357.89 105.88 363.13 104.65 C368.36 103.42 366.05 103.78 371.45 103.95 C376.86 104.13 374.41 103.76 379.33 105.16 C384.26 106.56 382.75 105.45 386.23 108.15 C389.7 110.86 389.4 109.65 389.77 113.26 Z" fill="url(#rg9)" stroke="#c0c0c0" stroke-width="0.9"/>
<path d="M384.28 112.99 C384.97 115.65 385.37 114.75 383.59 117.34 C381.81 119.94 382.54 119.13 378.93 120.78 C375.33 122.43 376.78 121.64 372.78 122.29 C368.79 122.93 370.92 122.67 366.95 122.71 C362.98 122.75 364.72 123.23 360.88 122.41 C357.05 121.59 357.93 122.31 355.44 120.25 C352.96 118.2 353.45 118.97 353.44 116.24 C353.43 113.5 353.37 114.55 355.42 112.05 C357.47 109.55 356.39 110.6 359.59 108.74 C362.78 106.89 361.13 107.46 365.01 106.48 C368.89 105.5 367.24 105.65 371.23 105.8 C375.21 105.95 373.55 105.73 376.97 106.93 C380.4 108.12 379.06 107.36 381.5 109.39 C383.93 111.41 383.58 110.34 384.28 112.99 Z" fill="url(#rg10)" stroke="#c0c0c0" stroke-width="0.9"/>
<path d="M379.86 112.67 C379.56 114.53 379.57 113.78 378.09 115.38 C376.61 116.98 377.39 116.16 375.42 117.47 C373.45 118.78 374.73 118.35 372.18 119.31 C369.63 120.27 370.73 120.24 367.78 120.36 C364.82 120.47 365.73 120.61 363.32 119.65 C360.9 118.69 361.75 119.1 360.53 117.48 C359.3 115.86 359.68 116.6 359.64 114.79 C359.6 112.99 359.3 113.75 360.4 112.06 C361.51 110.37 360.83 110.98 362.95 109.72 C365.06 108.45 364.06 108.94 366.74 108.26 C369.42 107.58 368.1 107.76 370.99 107.68 C373.88 107.6 372.75 107.32 375.42 108.02 C378.09 108.72 377.51 108.24 378.99 109.79 C380.46 111.33 380.15 110.8 379.86 112.67 Z" fill="url(#rg11)" stroke="#c0c0c0" stroke-width="0.9"/>
<path d="M375.3 112.35 C375.12 113.35 375.15 112.89 374.47 113.77 C373.79 114.66 374.26 114.21 373.27 115 C372.27 115.8 372.93 115.59 371.49 116.15 C370.05 116.7 370.59 116.68 368.95 116.67 C367.3 116.67 367.81 116.72 366.55 116.13 C365.3 115.53 365.8 115.77 365.18 114.88 C364.56 114 364.75 114.43 364.7 113.47 C364.64 112.51 364.46 112.93 365 112 C365.53 111.08 365.17 111.42 366.29 110.69 C367.42 109.95 366.87 110.22 368.37 109.81 C369.86 109.4 369.16 109.48 370.78 109.45 C372.41 109.42 371.84 109.26 373.25 109.71 C374.66 110.16 374.33 109.91 375.02 110.79 C375.7 111.67 375.49 111.36 375.3 112.35 Z" fill="url(#rg12)" stroke="#c0c0c0" stroke-width="0.9"/>
<path d="M549.5 124 C550.52 118.78 549.27 120.25 552.9 115.3 C556.53 110.35 555.87 110.86 561.6 107.5 C567.33 104.14 564.98 105.27 572 104.1 C579.02 102.93 577.98 102.82 585 103.6 C592.02 104.38 590.45 103.7 595.4 106.7 C600.35 109.7 599.43 108.41 601.5 113.6 C603.57 118.79 602.3 116.98 602.3 124 C602.3 131.02 602.28 129.2 601.5 137 C600.72 144.8 601.02 142.98 599.7 150 C598.38 157.02 599.17 154.94 597.1 160.4 C595.03 165.86 595.92 163.79 592.8 168.2 C589.68 172.61 590.6 171.2 586.7 175.1 C582.8 179 583.16 177.81 579.8 181.2 C576.44 184.59 577.06 182.5 575.5 186.4 C573.94 190.3 576.16 190.81 574.6 194.2 C573.04 197.59 574.2 196.41 570.3 197.7 C566.4 198.99 567.06 198.26 561.6 198.5 C556.14 198.74 555.73 200.06 552.1 198.5 C548.47 196.94 550.55 198.76 549.5 193.3 C548.45 187.84 548.36 188.1 548.6 180.3 C548.84 172.5 549.52 175.1 550.3 167.3 C551.08 159.5 551.2 162.1 551.2 154.3 C551.2 146.5 550.81 147.78 550.3 141.3 C549.79 134.82 549.74 137.89 549.5 132.7 C549.26 127.51 548.48 129.22 549.5 124 Z" fill="#000" stroke="#000" stroke-width="1" stroke-linejoin="round"/>
<path d="M553.8 138.7 C556.38 134.8 554.99 137.51 563.3 137 C571.61 136.49 572.38 137.51 581.5 137 C590.62 136.49 589.02 134.01 593.7 135.3 C598.38 136.59 596.59 135.6 597.1 141.3 C597.61 147 597.98 146.5 595.4 154.3 C592.82 162.1 593.18 160.79 588.5 167.3 C583.82 173.81 584.24 172.1 579.8 176 C575.36 179.9 577.6 176.4 573.7 180.3 C569.8 184.2 570.43 185.1 566.8 189 C563.17 192.9 564.99 192.01 561.6 193.3 C558.21 194.59 557.84 197.2 555.5 193.3 C553.16 189.4 554.04 189.39 553.8 180.3 C553.56 171.21 554.43 172.09 554.7 163 C554.97 153.91 554.97 157.29 554.7 150 C554.43 142.71 551.22 142.6 553.8 138.7 Z" fill="#b5b5b5" filter="url(#bl3)"/>
<path d="M558 143 C561 138.8 561.4 141.3 568 141 C574.6 140.7 573.4 142 580 142 C586.6 142 586.7 138.3 590 141 C593.3 143.7 592.8 144.1 591 151 C589.2 157.9 589.1 157.4 584 164 C578.9 170.6 579.4 167.9 574 173 C568.6 178.1 570.2 178 566 181 C561.8 184 562.4 186.6 560 183 C557.6 179.4 558.6 177.4 558 169 C557.4 160.6 558 162.8 558 155 C558 147.2 555 147.2 558 143 Z" fill="#5a5a5a" filter="url(#bl4)"/>
<ellipse cx="576" cy="119" rx="28" ry="17.5" fill="url(#rg13)" transform="rotate(-5 576 119)"/>
<path d="M597.3 116.19 C596.58 120.23 596.79 118.38 594.16 121.94 C591.52 125.49 593.35 123.87 589.39 126.86 C585.43 129.85 587.77 129.06 582.28 130.91 C576.79 132.75 579.01 132.5 572.93 132.4 C566.84 132.31 569.16 132.61 564.03 130.62 C558.9 128.63 560.66 129.76 557.54 126.44 C554.42 123.13 554.9 124.64 554.66 120.67 C554.42 116.71 554.01 118.14 556.83 114.54 C559.65 110.95 558.46 112.43 563.12 109.88 C567.78 107.33 565.33 108.54 570.81 106.91 C576.28 105.27 573.37 105.45 579.54 104.97 C585.7 104.48 583.71 103.83 589.31 105.45 C594.9 107.07 593.66 106.24 596.32 109.82 C598.99 113.4 598.02 112.15 597.3 116.19 Z" fill="url(#rg14)" stroke="#c0c0c0" stroke-width="0.9"/>
<path d="M592.08 115.72 C591.65 118.67 591.97 117.26 590.2 119.94 C588.42 122.62 589.8 121.51 586.77 123.76 C583.74 126 585.37 125.4 581.11 126.67 C576.85 127.95 578.61 127.68 573.99 127.58 C569.36 127.48 571.22 127.75 567.23 126.37 C563.25 124.99 564.47 125.87 562.02 123.44 C559.58 121.02 559.91 122.05 559.9 119.1 C559.89 116.15 559.71 117.21 562.01 114.59 C564.3 111.97 563.34 113.17 566.79 111.23 C570.24 109.29 568.24 110.17 572.36 108.77 C576.47 107.38 574.38 107.44 579.13 107.04 C583.89 106.65 582.51 106.25 586.62 107.59 C590.74 108.94 589.67 108.38 591.49 111.09 C593.31 113.8 592.51 112.77 592.08 115.72 Z" fill="url(#rg15)" stroke="#c0c0c0" stroke-width="0.9"/>
<path d="M588.08 115.26 C588.17 117.36 588.41 116.48 587.13 118.47 C585.86 120.45 586.68 119.77 584.25 121.21 C581.83 122.66 582.88 122.21 579.86 122.8 C576.84 123.39 578.19 123.16 575.2 122.98 C572.21 122.81 573.66 123.05 570.89 122.28 C568.12 121.51 568.96 122.18 566.89 120.66 C564.82 119.15 564.98 119.83 564.67 117.72 C564.36 115.61 564.27 116.26 565.96 114.34 C567.65 112.41 567.08 113.2 569.75 111.95 C572.42 110.69 571.08 111.31 573.97 110.58 C576.87 109.86 575.35 109.92 578.43 109.76 C581.52 109.6 580.43 109.3 583.24 110.1 C586.05 110.91 585.24 110.45 586.86 112.17 C588.47 113.89 587.99 113.17 588.08 115.26 Z" fill="url(#rg16)" stroke="#c0c0c0" stroke-width="0.9"/>
<path d="M583.04 114.86 C583.26 115.96 583.42 115.49 582.87 116.62 C582.32 117.75 582.74 117.42 581.38 118.24 C580.02 119.07 580.53 118.85 578.8 119.1 C577.07 119.36 577.78 119.22 576.18 119.01 C574.58 118.81 575.41 118.94 574 118.49 C572.58 118.03 573.08 118.43 571.94 117.65 C570.81 116.88 570.9 117.28 570.58 116.17 C570.27 115.06 570.2 115.41 571 114.32 C571.79 113.23 571.49 113.62 572.97 112.89 C574.44 112.16 573.76 112.47 575.42 112.12 C577.08 111.77 576.29 111.82 577.95 111.85 C579.6 111.88 578.97 111.73 580.39 112.22 C581.8 112.7 581.3 112.43 582.19 113.31 C583.07 114.19 582.81 113.76 583.04 114.86 Z" fill="url(#rg17)" stroke="#c0c0c0" stroke-width="0.9"/>
<path d="M751.4 120.5 C752.3 115.94 751.5 116.66 754.8 112.1 C758.1 107.54 756.82 108.36 762.4 105.3 C767.98 102.24 766.32 103.16 773.4 101.9 C780.48 100.64 778.65 100.59 786 101.1 C793.35 101.61 792.56 101.32 797.9 103.6 C803.24 105.88 801.52 104.65 803.8 108.7 C806.08 112.75 804.99 111.52 805.5 117.1 C806.01 122.68 805.74 120.43 805.5 127.3 C805.26 134.17 805.45 134.18 804.7 140 C803.95 145.82 805.04 142.89 803 146.7 C800.96 150.51 801.2 150.42 797.9 152.7 C794.6 154.98 796.05 154.81 792 154.3 C787.95 153.79 788.72 153.01 784.4 151 C780.08 148.99 780.9 148.11 777.6 147.6 C774.3 147.09 776.7 147.77 773.4 149.3 C770.1 150.83 770.41 150.42 766.6 152.7 C762.79 154.98 762.98 157.92 760.7 156.9 C758.42 155.88 760.53 153.35 759 149.3 C757.47 145.25 757.37 147.48 755.6 143.4 C753.83 139.32 754.24 140.53 753.1 135.7 C751.96 130.87 752.31 131.86 751.8 127.3 C751.29 122.74 750.5 125.06 751.4 120.5 Z" fill="#000" stroke="#000" stroke-width="1" stroke-linejoin="round"/>
<path d="M757 136.5 C759.55 135.15 760.3 135.65 766 135.5 C771.7 135.35 773.45 134.5 776 136 C778.55 137.5 777.32 138.1 774.5 140.5 C771.68 142.9 770.95 143.1 766.6 144 C762.25 144.9 762.73 144.7 760 143.5 C757.27 142.3 758.4 142.1 757.5 140 C756.6 137.9 754.45 137.85 757 136.5 Z" fill="#c0c0c0" filter="url(#bl0)"/>
<path d="M785.2 130.7 C788.05 128 789.17 128.02 794 127 C798.83 125.98 798.75 124.3 801.3 127.3 C803.85 130.3 803.19 131.99 802.5 137 C801.81 142.01 801.91 141.3 799 144 C796.09 146.7 796.7 146.3 792.8 146 C788.9 145.7 788.49 146 786 143 C783.51 140 784.74 139.69 784.5 136 C784.26 132.31 782.35 133.4 785.2 130.7 Z" fill="url(#rg18)" filter="url(#bl0)"/>
<ellipse cx="778" cy="116" rx="27.5" ry="16" fill="url(#rg19)" transform="rotate(-3 778 116)"/>
<path d="M796.75 112.19 C798.21 115.49 798.81 114.24 797.15 117.83 C795.5 121.41 796.44 120.4 791.79 122.95 C787.13 125.5 788.9 124.55 783.19 125.48 C777.47 126.41 780.06 126.1 774.65 125.73 C769.24 125.35 771.49 125.91 766.96 124.35 C762.43 122.8 763.86 123.77 761.06 121.05 C758.26 118.34 759.07 119.6 758.56 116.2 C758.06 112.8 757.79 114.35 759.54 110.85 C761.29 107.35 759.79 108.6 763.81 105.7 C767.84 102.8 765.99 103.4 771.63 102.14 C777.27 100.89 775.36 101.15 780.74 101.93 C786.12 102.71 783.76 102.5 787.78 104.49 C791.79 106.48 789.79 105.34 792.78 107.91 C795.78 110.47 795.3 108.88 796.75 112.19 Z" fill="url(#rg20)" stroke="#c0c0c0" stroke-width="0.9"/>
<path d="M793.12 111.7 C792.74 114.44 792.8 113.32 790.7 115.71 C788.59 118.11 789.77 116.99 786.81 118.88 C783.85 120.76 785.57 120.18 781.82 121.37 C778.06 122.55 779.67 122.42 775.54 122.43 C771.42 122.44 772.98 122.64 769.44 121.39 C765.9 120.14 767.16 120.86 764.93 118.69 C762.69 116.52 763.06 117.56 762.73 114.89 C762.4 112.22 762.04 113.17 763.95 110.69 C765.85 108.21 765.05 109.1 768.45 107.45 C771.84 105.79 770.28 106.6 774.12 105.73 C777.97 104.85 775.88 105.06 779.99 104.82 C784.11 104.58 782.54 104.11 786.48 105 C790.42 105.88 789.61 105.24 791.82 107.47 C794.04 109.7 793.49 108.95 793.12 111.7 Z" fill="url(#rg21)" stroke="#c0c0c0" stroke-width="0.9"/>
<path d="M787.53 111.41 C787.47 113.13 787.78 112.32 786.8 113.96 C785.83 115.59 786.58 114.99 784.61 116.32 C782.63 117.65 783.59 117.22 780.88 117.94 C778.16 118.65 779.38 118.47 776.47 118.47 C773.55 118.46 774.7 118.69 772.13 117.93 C769.57 117.17 770.2 117.67 768.77 116.18 C767.33 114.7 767.61 115.25 767.83 113.48 C768.06 111.7 768.02 112.41 769.45 110.86 C770.87 109.31 770.13 110.1 772.1 108.82 C774.07 107.53 772.78 107.98 775.35 107.01 C777.91 106.04 776.8 106.05 779.8 105.9 C782.8 105.75 781.95 105.6 784.35 106.56 C786.75 107.52 785.92 107.16 786.98 108.78 C788.04 110.4 787.59 109.68 787.53 111.41 Z" fill="url(#rg22)" stroke="#c0c0c0" stroke-width="0.9"/>
<path d="M783.92 111.03 C784.03 112.04 784.15 111.61 783.55 112.6 C782.95 113.59 783.36 113.27 782.12 113.99 C780.89 114.71 781.4 114.51 779.86 114.77 C778.31 115.04 778.97 114.92 777.49 114.79 C776.02 114.65 776.76 114.76 775.43 114.37 C774.1 113.98 774.56 114.32 773.51 113.61 C772.46 112.91 772.54 113.26 772.29 112.25 C772.03 111.24 771.96 111.55 772.75 110.58 C773.53 109.62 773.27 109.97 774.64 109.35 C776.01 108.73 775.38 109.03 776.87 108.72 C778.36 108.41 777.59 108.45 779.11 108.42 C780.63 108.39 780.06 108.24 781.43 108.62 C782.8 109.01 782.39 108.77 783.22 109.57 C784.05 110.38 783.81 110.02 783.92 111.03 Z" fill="url(#rg23)" stroke="#c0c0c0" stroke-width="0.9"/>
<rect x="121.7" y="136.6" width="45" height="70.4" fill="none" stroke="#7474dc" stroke-width="1.1"/>
<ellipse cx="164.5" cy="115" rx="30.2" ry="18.8" fill="none" stroke="#7474dc" stroke-width="1.1" transform="rotate(-14 164.5 115)"/>
<ellipse cx="182.8" cy="154.8" rx="13.8" ry="28.2" fill="none" stroke="#7474dc" stroke-width="1.1" transform="rotate(-7 182.8 154.8)"/>
<rect x="325.7" y="136.6" width="45" height="70.4" fill="none" stroke="#7474dc" stroke-width="1.1"/>
<ellipse cx="368.5" cy="115" rx="30.2" ry="18.8" fill="none" stroke="#7474dc" stroke-width="1.1" transform="rotate(-14 368.5 115)"/>
<ellipse cx="386.8" cy="154.8" rx="13.8" ry="28.2" fill="none" stroke="#7474dc" stroke-width="1.1" transform="rotate(-7 386.8 154.8)"/>
<rect x="529.7" y="136.6" width="45" height="70.4" fill="none" stroke="#7474dc" stroke-width="1.1"/>
<ellipse cx="572.5" cy="115" rx="30.2" ry="18.8" fill="none" stroke="#7474dc" stroke-width="1.1" transform="rotate(-14 572.5 115)"/>
<ellipse cx="590.8" cy="154.8" rx="13.8" ry="28.2" fill="none" stroke="#7474dc" stroke-width="1.1" transform="rotate(-7 590.8 154.8)"/>
<rect x="733.7" y="136.6" width="45" height="70.4" fill="none" stroke="#7474dc" stroke-width="1.1"/>
<ellipse cx="776.5" cy="115" rx="30.2" ry="18.8" fill="none" stroke="#7474dc" stroke-width="1.1" transform="rotate(-14 776.5 115)"/>
<ellipse cx="794.8" cy="154.8" rx="13.8" ry="28.2" fill="none" stroke="#7474dc" stroke-width="1.1" transform="rotate(-7 794.8 154.8)"/>
<text x="110.6" y="106.2" font-size="14">89.5</text>
<text x="208" y="164" font-size="14">4.11</text>
<text x="94.4" y="207.2" font-size="14">3.76</text>
<text x="316.6" y="106.2" font-size="14">86.7</text>
<text x="411" y="164" font-size="14">5.92</text>
<text x="298.4" y="207.2" font-size="14">3.83</text>
<text x="516.6" y="106.2" font-size="14">69.5</text>
<text x="616.5" y="164" font-size="14">10.4</text>
<text x="502.6" y="207.2" font-size="14" fill="#e020d8">12.5</text>
<text x="726.6" y="106.2" font-size="14">88.8</text>
<text x="818.7" y="164" font-size="14">5.28</text>
<text x="706.6" y="197.5" font-size="14">2.60</text>
<line x1="55.5" y1="260.5" x2="55.5" y2="212.5" stroke="#000" stroke-width="4.6"/>
<path d="M55.5 202 L61.25 213 L49.75 213 Z" fill="#000"/>
<line x1="53.2" y1="256.6" x2="100.8" y2="256.6" stroke="#000" stroke-width="4.4"/>
<path d="M111.3 256.6 L100.3 262.1 L100.3 251.1 Z" fill="#000"/>
<text x="40" y="233" font-size="16" text-anchor="middle" transform="rotate(-90 40 233)">IgD</text>
<text x="77" y="279.5" font-size="16" text-anchor="middle">IgM</text>
<text x="4.5" y="327.5" font-size="24" font-weight="bold">b</text>
<text x="104.8" y="324.9" font-size="16.5"><tspan>Gated on viable</tspan><tspan font-size="10.72" dy="-5.94">+</tspan><tspan dy="5.94">CD19</tspan><tspan font-size="10.72" dy="-5.94">+</tspan><tspan dy="5.94">B220</tspan><tspan font-size="10.72" dy="-5.94">+</tspan><tspan dy="5.94">IgM</tspan><tspan font-size="10.72" dy="-5.94">−</tspan><tspan dy="5.94">IgD</tspan><tspan font-size="10.72" dy="-5.94">−</tspan></text>
<line x1="90.5" y1="337" x2="240" y2="337" stroke="#6a6a6a" stroke-width="1.1"/>
<line x1="240" y1="337" x2="240" y2="486" stroke="#6a6a6a" stroke-width="1.1"/>
<line x1="90.5" y1="336.5" x2="90.5" y2="486.8" stroke="#151515" stroke-width="1.5"/>
<line x1="89.7" y1="486" x2="240.5" y2="486" stroke="#151515" stroke-width="1.5"/>
<line x1="89" y1="339" x2="90.5" y2="339" stroke="#999" stroke-width="0.7"/>
<line x1="89" y1="343" x2="90.5" y2="343" stroke="#999" stroke-width="0.7"/>
<line x1="89" y1="347" x2="90.5" y2="347" stroke="#999" stroke-width="0.7"/>
<line x1="89" y1="351" x2="90.5" y2="351" stroke="#999" stroke-width="0.7"/>
<line x1="89" y1="355" x2="90.5" y2="355" stroke="#999" stroke-width="0.7"/>
<line x1="89" y1="359" x2="90.5" y2="359" stroke="#999" stroke-width="0.7"/>
<line x1="89" y1="363" x2="90.5" y2="363" stroke="#999" stroke-width="0.7"/>
<line x1="89" y1="367" x2="90.5" y2="367" stroke="#999" stroke-width="0.7"/>
<line x1="89" y1="371" x2="90.5" y2="371" stroke="#999" stroke-width="0.7"/>
<line x1="89" y1="375" x2="90.5" y2="375" stroke="#999" stroke-width="0.7"/>
<line x1="89" y1="379" x2="90.5" y2="379" stroke="#999" stroke-width="0.7"/>
<line x1="89" y1="383" x2="90.5" y2="383" stroke="#999" stroke-width="0.7"/>
<line x1="89" y1="387" x2="90.5" y2="387" stroke="#999" stroke-width="0.7"/>
<line x1="89" y1="391" x2="90.5" y2="391" stroke="#999" stroke-width="0.7"/>
<line x1="89" y1="395" x2="90.5" y2="395" stroke="#999" stroke-width="0.7"/>
<line x1="89" y1="399" x2="90.5" y2="399" stroke="#999" stroke-width="0.7"/>
<line x1="89" y1="403" x2="90.5" y2="403" stroke="#999" stroke-width="0.7"/>
<line x1="89" y1="407" x2="90.5" y2="407" stroke="#999" stroke-width="0.7"/>
<line x1="89" y1="411" x2="90.5" y2="411" stroke="#999" stroke-width="0.7"/>
<line x1="89" y1="415" x2="90.5" y2="415" stroke="#999" stroke-width="0.7"/>
<line x1="89" y1="419" x2="90.5" y2="419" stroke="#999" stroke-width="0.7"/>
<line x1="89" y1="423" x2="90.5" y2="423" stroke="#999" stroke-width="0.7"/>
<line x1="89" y1="427" x2="90.5" y2="427" stroke="#999" stroke-width="0.7"/>
<line x1="89" y1="431" x2="90.5" y2="431" stroke="#999" stroke-width="0.7"/>
<line x1="89" y1="435" x2="90.5" y2="435" stroke="#999" stroke-width="0.7"/>
<line x1="89" y1="439" x2="90.5" y2="439" stroke="#999" stroke-width="0.7"/>
<line x1="89" y1="443" x2="90.5" y2="443" stroke="#999" stroke-width="0.7"/>
<line x1="89" y1="447" x2="90.5" y2="447" stroke="#999" stroke-width="0.7"/>
<line x1="89" y1="451" x2="90.5" y2="451" stroke="#999" stroke-width="0.7"/>
<line x1="89" y1="455" x2="90.5" y2="455" stroke="#999" stroke-width="0.7"/>
<line x1="89" y1="459" x2="90.5" y2="459" stroke="#999" stroke-width="0.7"/>
<line x1="89" y1="463" x2="90.5" y2="463" stroke="#999" stroke-width="0.7"/>
<line x1="89" y1="467" x2="90.5" y2="467" stroke="#999" stroke-width="0.7"/>
<line x1="89" y1="471" x2="90.5" y2="471" stroke="#999" stroke-width="0.7"/>
<line x1="89" y1="475" x2="90.5" y2="475" stroke="#999" stroke-width="0.7"/>
<line x1="89" y1="479" x2="90.5" y2="479" stroke="#999" stroke-width="0.7"/>
<line x1="89" y1="483" x2="90.5" y2="483" stroke="#999" stroke-width="0.7"/>
<line x1="92.5" y1="486" x2="92.5" y2="487.5" stroke="#999" stroke-width="0.7"/>
<line x1="96.5" y1="486" x2="96.5" y2="487.5" stroke="#999" stroke-width="0.7"/>
<line x1="100.5" y1="486" x2="100.5" y2="487.5" stroke="#999" stroke-width="0.7"/>
<line x1="104.5" y1="486" x2="104.5" y2="487.5" stroke="#999" stroke-width="0.7"/>
<line x1="108.5" y1="486" x2="108.5" y2="487.5" stroke="#999" stroke-width="0.7"/>
<line x1="112.5" y1="486" x2="112.5" y2="487.5" stroke="#999" stroke-width="0.7"/>
<line x1="116.5" y1="486" x2="116.5" y2="487.5" stroke="#999" stroke-width="0.7"/>
<line x1="120.5" y1="486" x2="120.5" y2="487.5" stroke="#999" stroke-width="0.7"/>
<line x1="124.5" y1="486" x2="124.5" y2="487.5" stroke="#999" stroke-width="0.7"/>
<line x1="128.5" y1="486" x2="128.5" y2="487.5" stroke="#999" stroke-width="0.7"/>
<line x1="132.5" y1="486" x2="132.5" y2="487.5" stroke="#999" stroke-width="0.7"/>
<line x1="136.5" y1="486" x2="136.5" y2="487.5" stroke="#999" stroke-width="0.7"/>
<line x1="140.5" y1="486" x2="140.5" y2="487.5" stroke="#999" stroke-width="0.7"/>
<line x1="144.5" y1="486" x2="144.5" y2="487.5" stroke="#999" stroke-width="0.7"/>
<line x1="148.5" y1="486" x2="148.5" y2="487.5" stroke="#999" stroke-width="0.7"/>
<line x1="152.5" y1="486" x2="152.5" y2="487.5" stroke="#999" stroke-width="0.7"/>
<line x1="156.5" y1="486" x2="156.5" y2="487.5" stroke="#999" stroke-width="0.7"/>
<line x1="160.5" y1="486" x2="160.5" y2="487.5" stroke="#999" stroke-width="0.7"/>
<line x1="164.5" y1="486" x2="164.5" y2="487.5" stroke="#999" stroke-width="0.7"/>
<line x1="168.5" y1="486" x2="168.5" y2="487.5" stroke="#999" stroke-width="0.7"/>
<line x1="172.5" y1="486" x2="172.5" y2="487.5" stroke="#999" stroke-width="0.7"/>
<line x1="176.5" y1="486" x2="176.5" y2="487.5" stroke="#999" stroke-width="0.7"/>
<line x1="180.5" y1="486" x2="180.5" y2="487.5" stroke="#999" stroke-width="0.7"/>
<line x1="184.5" y1="486" x2="184.5" y2="487.5" stroke="#999" stroke-width="0.7"/>
<line x1="188.5" y1="486" x2="188.5" y2="487.5" stroke="#999" stroke-width="0.7"/>
<line x1="192.5" y1="486" x2="192.5" y2="487.5" stroke="#999" stroke-width="0.7"/>
<line x1="196.5" y1="486" x2="196.5" y2="487.5" stroke="#999" stroke-width="0.7"/>
<line x1="200.5" y1="486" x2="200.5" y2="487.5" stroke="#999" stroke-width="0.7"/>
<line x1="204.5" y1="486" x2="204.5" y2="487.5" stroke="#999" stroke-width="0.7"/>
<line x1="208.5" y1="486" x2="208.5" y2="487.5" stroke="#999" stroke-width="0.7"/>
<line x1="212.5" y1="486" x2="212.5" y2="487.5" stroke="#999" stroke-width="0.7"/>
<line x1="216.5" y1="486" x2="216.5" y2="487.5" stroke="#999" stroke-width="0.7"/>
<line x1="220.5" y1="486" x2="220.5" y2="487.5" stroke="#999" stroke-width="0.7"/>
<line x1="224.5" y1="486" x2="224.5" y2="487.5" stroke="#999" stroke-width="0.7"/>
<line x1="228.5" y1="486" x2="228.5" y2="487.5" stroke="#999" stroke-width="0.7"/>
<line x1="232.5" y1="486" x2="232.5" y2="487.5" stroke="#999" stroke-width="0.7"/>
<line x1="236.5" y1="486" x2="236.5" y2="487.5" stroke="#999" stroke-width="0.7"/>
<line x1="87" y1="348.2" x2="90.5" y2="348.2" stroke="#111" stroke-width="1.3"/>
<text x="78.7" y="353.16" font-size="16" text-anchor="end"><tspan>10</tspan><tspan font-size="11.52" dy="-6.4">5</tspan></text>
<line x1="87" y1="378.5" x2="90.5" y2="378.5" stroke="#111" stroke-width="1.3"/>
<text x="78.7" y="383.46" font-size="16" text-anchor="end"><tspan>10</tspan><tspan font-size="11.52" dy="-6.4">4</tspan></text>
<line x1="87" y1="408.6" x2="90.5" y2="408.6" stroke="#111" stroke-width="1.3"/>
<text x="78.7" y="413.56" font-size="16" text-anchor="end"><tspan>10</tspan><tspan font-size="11.52" dy="-6.4">3</tspan></text>
<line x1="87" y1="440.6" x2="90.5" y2="440.6" stroke="#111" stroke-width="1.3"/>
<text x="78.7" y="445.56" font-size="16" text-anchor="end"><tspan>10</tspan><tspan font-size="11.52" dy="-6.4">2</tspan></text>
<line x1="87" y1="462.3" x2="90.5" y2="462.3" stroke="#111" stroke-width="1.3"/>
<text x="78.7" y="467.26" font-size="16" text-anchor="end">0</text>
<line x1="120.3" y1="486" x2="120.3" y2="489" stroke="#333" stroke-width="1.2"/>
<text x="120.3" y="509" font-size="16" text-anchor="middle">0</text>
<line x1="141.3" y1="486" x2="141.3" y2="489" stroke="#333" stroke-width="1.2"/>
<text x="141.3" y="509" font-size="16" text-anchor="middle"><tspan>10</tspan><tspan font-size="11.52" dy="-6.4">2</tspan></text>
<line x1="170" y1="486" x2="170" y2="489" stroke="#333" stroke-width="1.2"/>
<text x="170" y="509" font-size="16" text-anchor="middle"><tspan>10</tspan><tspan font-size="11.52" dy="-6.4">3</tspan></text>
<line x1="199" y1="486" x2="199" y2="489" stroke="#333" stroke-width="1.2"/>
<text x="199" y="509" font-size="16" text-anchor="middle"><tspan>10</tspan><tspan font-size="11.52" dy="-6.4">4</tspan></text>
<line x1="227.8" y1="486" x2="227.8" y2="489" stroke="#333" stroke-width="1.2"/>
<text x="227.8" y="509" font-size="16" text-anchor="middle"><tspan>10</tspan><tspan font-size="11.52" dy="-6.4">5</tspan></text>
<line x1="295.5" y1="337" x2="445" y2="337" stroke="#6a6a6a" stroke-width="1.1"/>
<line x1="445" y1="337" x2="445" y2="486" stroke="#6a6a6a" stroke-width="1.1"/>
<line x1="295.5" y1="336.5" x2="295.5" y2="486.8" stroke="#151515" stroke-width="1.5"/>
<line x1="294.7" y1="486" x2="445.5" y2="486" stroke="#151515" stroke-width="1.5"/>
<line x1="294" y1="339" x2="295.5" y2="339" stroke="#999" stroke-width="0.7"/>
<line x1="294" y1="343" x2="295.5" y2="343" stroke="#999" stroke-width="0.7"/>
<line x1="294" y1="347" x2="295.5" y2="347" stroke="#999" stroke-width="0.7"/>
<line x1="294" y1="351" x2="295.5" y2="351" stroke="#999" stroke-width="0.7"/>
<line x1="294" y1="355" x2="295.5" y2="355" stroke="#999" stroke-width="0.7"/>
<line x1="294" y1="359" x2="295.5" y2="359" stroke="#999" stroke-width="0.7"/>
<line x1="294" y1="363" x2="295.5" y2="363" stroke="#999" stroke-width="0.7"/>
<line x1="294" y1="367" x2="295.5" y2="367" stroke="#999" stroke-width="0.7"/>
<line x1="294" y1="371" x2="295.5" y2="371" stroke="#999" stroke-width="0.7"/>
<line x1="294" y1="375" x2="295.5" y2="375" stroke="#999" stroke-width="0.7"/>
<line x1="294" y1="379" x2="295.5" y2="379" stroke="#999" stroke-width="0.7"/>
<line x1="294" y1="383" x2="295.5" y2="383" stroke="#999" stroke-width="0.7"/>
<line x1="294" y1="387" x2="295.5" y2="387" stroke="#999" stroke-width="0.7"/>
<line x1="294" y1="391" x2="295.5" y2="391" stroke="#999" stroke-width="0.7"/>
<line x1="294" y1="395" x2="295.5" y2="395" stroke="#999" stroke-width="0.7"/>
<line x1="294" y1="399" x2="295.5" y2="399" stroke="#999" stroke-width="0.7"/>
<line x1="294" y1="403" x2="295.5" y2="403" stroke="#999" stroke-width="0.7"/>
<line x1="294" y1="407" x2="295.5" y2="407" stroke="#999" stroke-width="0.7"/>
<line x1="294" y1="411" x2="295.5" y2="411" stroke="#999" stroke-width="0.7"/>
<line x1="294" y1="415" x2="295.5" y2="415" stroke="#999" stroke-width="0.7"/>
<line x1="294" y1="419" x2="295.5" y2="419" stroke="#999" stroke-width="0.7"/>
<line x1="294" y1="423" x2="295.5" y2="423" stroke="#999" stroke-width="0.7"/>
<line x1="294" y1="427" x2="295.5" y2="427" stroke="#999" stroke-width="0.7"/>
<line x1="294" y1="431" x2="295.5" y2="431" stroke="#999" stroke-width="0.7"/>
<line x1="294" y1="435" x2="295.5" y2="435" stroke="#999" stroke-width="0.7"/>
<line x1="294" y1="439" x2="295.5" y2="439" stroke="#999" stroke-width="0.7"/>
<line x1="294" y1="443" x2="295.5" y2="443" stroke="#999" stroke-width="0.7"/>
<line x1="294" y1="447" x2="295.5" y2="447" stroke="#999" stroke-width="0.7"/>
<line x1="294" y1="451" x2="295.5" y2="451" stroke="#999" stroke-width="0.7"/>
<line x1="294" y1="455" x2="295.5" y2="455" stroke="#999" stroke-width="0.7"/>
<line x1="294" y1="459" x2="295.5" y2="459" stroke="#999" stroke-width="0.7"/>
<line x1="294" y1="463" x2="295.5" y2="463" stroke="#999" stroke-width="0.7"/>
<line x1="294" y1="467" x2="295.5" y2="467" stroke="#999" stroke-width="0.7"/>
<line x1="294" y1="471" x2="295.5" y2="471" stroke="#999" stroke-width="0.7"/>
<line x1="294" y1="475" x2="295.5" y2="475" stroke="#999" stroke-width="0.7"/>
<line x1="294" y1="479" x2="295.5" y2="479" stroke="#999" stroke-width="0.7"/>
<line x1="294" y1="483" x2="295.5" y2="483" stroke="#999" stroke-width="0.7"/>
<line x1="297.5" y1="486" x2="297.5" y2="487.5" stroke="#999" stroke-width="0.7"/>
<line x1="301.5" y1="486" x2="301.5" y2="487.5" stroke="#999" stroke-width="0.7"/>
<line x1="305.5" y1="486" x2="305.5" y2="487.5" stroke="#999" stroke-width="0.7"/>
<line x1="309.5" y1="486" x2="309.5" y2="487.5" stroke="#999" stroke-width="0.7"/>
<line x1="313.5" y1="486" x2="313.5" y2="487.5" stroke="#999" stroke-width="0.7"/>
<line x1="317.5" y1="486" x2="317.5" y2="487.5" stroke="#999" stroke-width="0.7"/>
<line x1="321.5" y1="486" x2="321.5" y2="487.5" stroke="#999" stroke-width="0.7"/>
<line x1="325.5" y1="486" x2="325.5" y2="487.5" stroke="#999" stroke-width="0.7"/>
<line x1="329.5" y1="486" x2="329.5" y2="487.5" stroke="#999" stroke-width="0.7"/>
<line x1="333.5" y1="486" x2="333.5" y2="487.5" stroke="#999" stroke-width="0.7"/>
<line x1="337.5" y1="486" x2="337.5" y2="487.5" stroke="#999" stroke-width="0.7"/>
<line x1="341.5" y1="486" x2="341.5" y2="487.5" stroke="#999" stroke-width="0.7"/>
<line x1="345.5" y1="486" x2="345.5" y2="487.5" stroke="#999" stroke-width="0.7"/>
<line x1="349.5" y1="486" x2="349.5" y2="487.5" stroke="#999" stroke-width="0.7"/>
<line x1="353.5" y1="486" x2="353.5" y2="487.5" stroke="#999" stroke-width="0.7"/>
<line x1="357.5" y1="486" x2="357.5" y2="487.5" stroke="#999" stroke-width="0.7"/>
<line x1="361.5" y1="486" x2="361.5" y2="487.5" stroke="#999" stroke-width="0.7"/>
<line x1="365.5" y1="486" x2="365.5" y2="487.5" stroke="#999" stroke-width="0.7"/>
<line x1="369.5" y1="486" x2="369.5" y2="487.5" stroke="#999" stroke-width="0.7"/>
<line x1="373.5" y1="486" x2="373.5" y2="487.5" stroke="#999" stroke-width="0.7"/>
<line x1="377.5" y1="486" x2="377.5" y2="487.5" stroke="#999" stroke-width="0.7"/>
<line x1="381.5" y1="486" x2="381.5" y2="487.5" stroke="#999" stroke-width="0.7"/>
<line x1="385.5" y1="486" x2="385.5" y2="487.5" stroke="#999" stroke-width="0.7"/>
<line x1="389.5" y1="486" x2="389.5" y2="487.5" stroke="#999" stroke-width="0.7"/>
<line x1="393.5" y1="486" x2="393.5" y2="487.5" stroke="#999" stroke-width="0.7"/>
<line x1="397.5" y1="486" x2="397.5" y2="487.5" stroke="#999" stroke-width="0.7"/>
<line x1="401.5" y1="486" x2="401.5" y2="487.5" stroke="#999" stroke-width="0.7"/>
<line x1="405.5" y1="486" x2="405.5" y2="487.5" stroke="#999" stroke-width="0.7"/>
<line x1="409.5" y1="486" x2="409.5" y2="487.5" stroke="#999" stroke-width="0.7"/>
<line x1="413.5" y1="486" x2="413.5" y2="487.5" stroke="#999" stroke-width="0.7"/>
<line x1="417.5" y1="486" x2="417.5" y2="487.5" stroke="#999" stroke-width="0.7"/>
<line x1="421.5" y1="486" x2="421.5" y2="487.5" stroke="#999" stroke-width="0.7"/>
<line x1="425.5" y1="486" x2="425.5" y2="487.5" stroke="#999" stroke-width="0.7"/>
<line x1="429.5" y1="486" x2="429.5" y2="487.5" stroke="#999" stroke-width="0.7"/>
<line x1="433.5" y1="486" x2="433.5" y2="487.5" stroke="#999" stroke-width="0.7"/>
<line x1="437.5" y1="486" x2="437.5" y2="487.5" stroke="#999" stroke-width="0.7"/>
<line x1="441.5" y1="486" x2="441.5" y2="487.5" stroke="#999" stroke-width="0.7"/>
<line x1="292" y1="348.2" x2="295.5" y2="348.2" stroke="#111" stroke-width="1.3"/>
<text x="283.7" y="353.16" font-size="16" text-anchor="end"><tspan>10</tspan><tspan font-size="11.52" dy="-6.4">5</tspan></text>
<line x1="292" y1="378.5" x2="295.5" y2="378.5" stroke="#111" stroke-width="1.3"/>
<text x="283.7" y="383.46" font-size="16" text-anchor="end"><tspan>10</tspan><tspan font-size="11.52" dy="-6.4">4</tspan></text>
<line x1="292" y1="408.6" x2="295.5" y2="408.6" stroke="#111" stroke-width="1.3"/>
<text x="283.7" y="413.56" font-size="16" text-anchor="end"><tspan>10</tspan><tspan font-size="11.52" dy="-6.4">3</tspan></text>
<line x1="292" y1="440.6" x2="295.5" y2="440.6" stroke="#111" stroke-width="1.3"/>
<text x="283.7" y="445.56" font-size="16" text-anchor="end"><tspan>10</tspan><tspan font-size="11.52" dy="-6.4">2</tspan></text>
<line x1="292" y1="462.3" x2="295.5" y2="462.3" stroke="#111" stroke-width="1.3"/>
<text x="283.7" y="467.26" font-size="16" text-anchor="end">0</text>
<line x1="325.3" y1="486" x2="325.3" y2="489" stroke="#333" stroke-width="1.2"/>
<text x="325.3" y="509" font-size="16" text-anchor="middle">0</text>
<line x1="346.3" y1="486" x2="346.3" y2="489" stroke="#333" stroke-width="1.2"/>
<text x="346.3" y="509" font-size="16" text-anchor="middle"><tspan>10</tspan><tspan font-size="11.52" dy="-6.4">2</tspan></text>
<line x1="375" y1="486" x2="375" y2="489" stroke="#333" stroke-width="1.2"/>
<text x="375" y="509" font-size="16" text-anchor="middle"><tspan>10</tspan><tspan font-size="11.52" dy="-6.4">3</tspan></text>
<line x1="404" y1="486" x2="404" y2="489" stroke="#333" stroke-width="1.2"/>
<text x="404" y="509" font-size="16" text-anchor="middle"><tspan>10</tspan><tspan font-size="11.52" dy="-6.4">4</tspan></text>
<line x1="432.8" y1="486" x2="432.8" y2="489" stroke="#333" stroke-width="1.2"/>
<text x="432.8" y="509" font-size="16" text-anchor="middle"><tspan>10</tspan><tspan font-size="11.52" dy="-6.4">5</tspan></text>
<line x1="500.3" y1="337" x2="649.8" y2="337" stroke="#6a6a6a" stroke-width="1.1"/>
<line x1="649.8" y1="337" x2="649.8" y2="486" stroke="#6a6a6a" stroke-width="1.1"/>
<line x1="500.3" y1="336.5" x2="500.3" y2="486.8" stroke="#151515" stroke-width="1.5"/>
<line x1="499.5" y1="486" x2="650.3" y2="486" stroke="#151515" stroke-width="1.5"/>
<line x1="498.8" y1="339" x2="500.3" y2="339" stroke="#999" stroke-width="0.7"/>
<line x1="498.8" y1="343" x2="500.3" y2="343" stroke="#999" stroke-width="0.7"/>
<line x1="498.8" y1="347" x2="500.3" y2="347" stroke="#999" stroke-width="0.7"/>
<line x1="498.8" y1="351" x2="500.3" y2="351" stroke="#999" stroke-width="0.7"/>
<line x1="498.8" y1="355" x2="500.3" y2="355" stroke="#999" stroke-width="0.7"/>
<line x1="498.8" y1="359" x2="500.3" y2="359" stroke="#999" stroke-width="0.7"/>
<line x1="498.8" y1="363" x2="500.3" y2="363" stroke="#999" stroke-width="0.7"/>
<line x1="498.8" y1="367" x2="500.3" y2="367" stroke="#999" stroke-width="0.7"/>
<line x1="498.8" y1="371" x2="500.3" y2="371" stroke="#999" stroke-width="0.7"/>
<line x1="498.8" y1="375" x2="500.3" y2="375" stroke="#999" stroke-width="0.7"/>
<line x1="498.8" y1="379" x2="500.3" y2="379" stroke="#999" stroke-width="0.7"/>
<line x1="498.8" y1="383" x2="500.3" y2="383" stroke="#999" stroke-width="0.7"/>
<line x1="498.8" y1="387" x2="500.3" y2="387" stroke="#999" stroke-width="0.7"/>
<line x1="498.8" y1="391" x2="500.3" y2="391" stroke="#999" stroke-width="0.7"/>
<line x1="498.8" y1="395" x2="500.3" y2="395" stroke="#999" stroke-width="0.7"/>
<line x1="498.8" y1="399" x2="500.3" y2="399" stroke="#999" stroke-width="0.7"/>
<line x1="498.8" y1="403" x2="500.3" y2="403" stroke="#999" stroke-width="0.7"/>
<line x1="498.8" y1="407" x2="500.3" y2="407" stroke="#999" stroke-width="0.7"/>
<line x1="498.8" y1="411" x2="500.3" y2="411" stroke="#999" stroke-width="0.7"/>
<line x1="498.8" y1="415" x2="500.3" y2="415" stroke="#999" stroke-width="0.7"/>
<line x1="498.8" y1="419" x2="500.3" y2="419" stroke="#999" stroke-width="0.7"/>
<line x1="498.8" y1="423" x2="500.3" y2="423" stroke="#999" stroke-width="0.7"/>
<line x1="498.8" y1="427" x2="500.3" y2="427" stroke="#999" stroke-width="0.7"/>
<line x1="498.8" y1="431" x2="500.3" y2="431" stroke="#999" stroke-width="0.7"/>
<line x1="498.8" y1="435" x2="500.3" y2="435" stroke="#999" stroke-width="0.7"/>
<line x1="498.8" y1="439" x2="500.3" y2="439" stroke="#999" stroke-width="0.7"/>
<line x1="498.8" y1="443" x2="500.3" y2="443" stroke="#999" stroke-width="0.7"/>
<line x1="498.8" y1="447" x2="500.3" y2="447" stroke="#999" stroke-width="0.7"/>
<line x1="498.8" y1="451" x2="500.3" y2="451" stroke="#999" stroke-width="0.7"/>
<line x1="498.8" y1="455" x2="500.3" y2="455" stroke="#999" stroke-width="0.7"/>
<line x1="498.8" y1="459" x2="500.3" y2="459" stroke="#999" stroke-width="0.7"/>
<line x1="498.8" y1="463" x2="500.3" y2="463" stroke="#999" stroke-width="0.7"/>
<line x1="498.8" y1="467" x2="500.3" y2="467" stroke="#999" stroke-width="0.7"/>
<line x1="498.8" y1="471" x2="500.3" y2="471" stroke="#999" stroke-width="0.7"/>
<line x1="498.8" y1="475" x2="500.3" y2="475" stroke="#999" stroke-width="0.7"/>
<line x1="498.8" y1="479" x2="500.3" y2="479" stroke="#999" stroke-width="0.7"/>
<line x1="498.8" y1="483" x2="500.3" y2="483" stroke="#999" stroke-width="0.7"/>
<line x1="502.3" y1="486" x2="502.3" y2="487.5" stroke="#999" stroke-width="0.7"/>
<line x1="506.3" y1="486" x2="506.3" y2="487.5" stroke="#999" stroke-width="0.7"/>
<line x1="510.3" y1="486" x2="510.3" y2="487.5" stroke="#999" stroke-width="0.7"/>
<line x1="514.3" y1="486" x2="514.3" y2="487.5" stroke="#999" stroke-width="0.7"/>
<line x1="518.3" y1="486" x2="518.3" y2="487.5" stroke="#999" stroke-width="0.7"/>
<line x1="522.3" y1="486" x2="522.3" y2="487.5" stroke="#999" stroke-width="0.7"/>
<line x1="526.3" y1="486" x2="526.3" y2="487.5" stroke="#999" stroke-width="0.7"/>
<line x1="530.3" y1="486" x2="530.3" y2="487.5" stroke="#999" stroke-width="0.7"/>
<line x1="534.3" y1="486" x2="534.3" y2="487.5" stroke="#999" stroke-width="0.7"/>
<line x1="538.3" y1="486" x2="538.3" y2="487.5" stroke="#999" stroke-width="0.7"/>
<line x1="542.3" y1="486" x2="542.3" y2="487.5" stroke="#999" stroke-width="0.7"/>
<line x1="546.3" y1="486" x2="546.3" y2="487.5" stroke="#999" stroke-width="0.7"/>
<line x1="550.3" y1="486" x2="550.3" y2="487.5" stroke="#999" stroke-width="0.7"/>
<line x1="554.3" y1="486" x2="554.3" y2="487.5" stroke="#999" stroke-width="0.7"/>
<line x1="558.3" y1="486" x2="558.3" y2="487.5" stroke="#999" stroke-width="0.7"/>
<line x1="562.3" y1="486" x2="562.3" y2="487.5" stroke="#999" stroke-width="0.7"/>
<line x1="566.3" y1="486" x2="566.3" y2="487.5" stroke="#999" stroke-width="0.7"/>
<line x1="570.3" y1="486" x2="570.3" y2="487.5" stroke="#999" stroke-width="0.7"/>
<line x1="574.3" y1="486" x2="574.3" y2="487.5" stroke="#999" stroke-width="0.7"/>
<line x1="578.3" y1="486" x2="578.3" y2="487.5" stroke="#999" stroke-width="0.7"/>
<line x1="582.3" y1="486" x2="582.3" y2="487.5" stroke="#999" stroke-width="0.7"/>
<line x1="586.3" y1="486" x2="586.3" y2="487.5" stroke="#999" stroke-width="0.7"/>
<line x1="590.3" y1="486" x2="590.3" y2="487.5" stroke="#999" stroke-width="0.7"/>
<line x1="594.3" y1="486" x2="594.3" y2="487.5" stroke="#999" stroke-width="0.7"/>
<line x1="598.3" y1="486" x2="598.3" y2="487.5" stroke="#999" stroke-width="0.7"/>
<line x1="602.3" y1="486" x2="602.3" y2="487.5" stroke="#999" stroke-width="0.7"/>
<line x1="606.3" y1="486" x2="606.3" y2="487.5" stroke="#999" stroke-width="0.7"/>
<line x1="610.3" y1="486" x2="610.3" y2="487.5" stroke="#999" stroke-width="0.7"/>
<line x1="614.3" y1="486" x2="614.3" y2="487.5" stroke="#999" stroke-width="0.7"/>
<line x1="618.3" y1="486" x2="618.3" y2="487.5" stroke="#999" stroke-width="0.7"/>
<line x1="622.3" y1="486" x2="622.3" y2="487.5" stroke="#999" stroke-width="0.7"/>
<line x1="626.3" y1="486" x2="626.3" y2="487.5" stroke="#999" stroke-width="0.7"/>
<line x1="630.3" y1="486" x2="630.3" y2="487.5" stroke="#999" stroke-width="0.7"/>
<line x1="634.3" y1="486" x2="634.3" y2="487.5" stroke="#999" stroke-width="0.7"/>
<line x1="638.3" y1="486" x2="638.3" y2="487.5" stroke="#999" stroke-width="0.7"/>
<line x1="642.3" y1="486" x2="642.3" y2="487.5" stroke="#999" stroke-width="0.7"/>
<line x1="646.3" y1="486" x2="646.3" y2="487.5" stroke="#999" stroke-width="0.7"/>
<line x1="496.8" y1="348.2" x2="500.3" y2="348.2" stroke="#111" stroke-width="1.3"/>
<text x="488.5" y="353.16" font-size="16" text-anchor="end"><tspan>10</tspan><tspan font-size="11.52" dy="-6.4">5</tspan></text>
<line x1="496.8" y1="378.5" x2="500.3" y2="378.5" stroke="#111" stroke-width="1.3"/>
<text x="488.5" y="383.46" font-size="16" text-anchor="end"><tspan>10</tspan><tspan font-size="11.52" dy="-6.4">4</tspan></text>
<line x1="496.8" y1="408.6" x2="500.3" y2="408.6" stroke="#111" stroke-width="1.3"/>
<text x="488.5" y="413.56" font-size="16" text-anchor="end"><tspan>10</tspan><tspan font-size="11.52" dy="-6.4">3</tspan></text>
<line x1="496.8" y1="440.6" x2="500.3" y2="440.6" stroke="#111" stroke-width="1.3"/>
<text x="488.5" y="445.56" font-size="16" text-anchor="end"><tspan>10</tspan><tspan font-size="11.52" dy="-6.4">2</tspan></text>
<line x1="496.8" y1="462.3" x2="500.3" y2="462.3" stroke="#111" stroke-width="1.3"/>
<text x="488.5" y="467.26" font-size="16" text-anchor="end">0</text>
<line x1="530.1" y1="486" x2="530.1" y2="489" stroke="#333" stroke-width="1.2"/>
<text x="530.1" y="509" font-size="16" text-anchor="middle">0</text>
<line x1="551.1" y1="486" x2="551.1" y2="489" stroke="#333" stroke-width="1.2"/>
<text x="551.1" y="509" font-size="16" text-anchor="middle"><tspan>10</tspan><tspan font-size="11.52" dy="-6.4">2</tspan></text>
<line x1="579.8" y1="486" x2="579.8" y2="489" stroke="#333" stroke-width="1.2"/>
<text x="579.8" y="509" font-size="16" text-anchor="middle"><tspan>10</tspan><tspan font-size="11.52" dy="-6.4">3</tspan></text>
<line x1="608.8" y1="486" x2="608.8" y2="489" stroke="#333" stroke-width="1.2"/>
<text x="608.8" y="509" font-size="16" text-anchor="middle"><tspan>10</tspan><tspan font-size="11.52" dy="-6.4">4</tspan></text>
<line x1="637.6" y1="486" x2="637.6" y2="489" stroke="#333" stroke-width="1.2"/>
<text x="637.6" y="509" font-size="16" text-anchor="middle"><tspan>10</tspan><tspan font-size="11.52" dy="-6.4">5</tspan></text>
<line x1="702.5" y1="337" x2="852" y2="337" stroke="#6a6a6a" stroke-width="1.1"/>
<line x1="852" y1="337" x2="852" y2="486" stroke="#6a6a6a" stroke-width="1.1"/>
<line x1="702.5" y1="336.5" x2="702.5" y2="486.8" stroke="#151515" stroke-width="1.5"/>
<line x1="701.7" y1="486" x2="852.5" y2="486" stroke="#151515" stroke-width="1.5"/>
<line x1="701" y1="339" x2="702.5" y2="339" stroke="#999" stroke-width="0.7"/>
<line x1="701" y1="343" x2="702.5" y2="343" stroke="#999" stroke-width="0.7"/>
<line x1="701" y1="347" x2="702.5" y2="347" stroke="#999" stroke-width="0.7"/>
<line x1="701" y1="351" x2="702.5" y2="351" stroke="#999" stroke-width="0.7"/>
<line x1="701" y1="355" x2="702.5" y2="355" stroke="#999" stroke-width="0.7"/>
<line x1="701" y1="359" x2="702.5" y2="359" stroke="#999" stroke-width="0.7"/>
<line x1="701" y1="363" x2="702.5" y2="363" stroke="#999" stroke-width="0.7"/>
<line x1="701" y1="367" x2="702.5" y2="367" stroke="#999" stroke-width="0.7"/>
<line x1="701" y1="371" x2="702.5" y2="371" stroke="#999" stroke-width="0.7"/>
<line x1="701" y1="375" x2="702.5" y2="375" stroke="#999" stroke-width="0.7"/>
<line x1="701" y1="379" x2="702.5" y2="379" stroke="#999" stroke-width="0.7"/>
<line x1="701" y1="383" x2="702.5" y2="383" stroke="#999" stroke-width="0.7"/>
<line x1="701" y1="387" x2="702.5" y2="387" stroke="#999" stroke-width="0.7"/>
<line x1="701" y1="391" x2="702.5" y2="391" stroke="#999" stroke-width="0.7"/>
<line x1="701" y1="395" x2="702.5" y2="395" stroke="#999" stroke-width="0.7"/>
<line x1="701" y1="399" x2="702.5" y2="399" stroke="#999" stroke-width="0.7"/>
<line x1="701" y1="403" x2="702.5" y2="403" stroke="#999" stroke-width="0.7"/>
<line x1="701" y1="407" x2="702.5" y2="407" stroke="#999" stroke-width="0.7"/>
<line x1="701" y1="411" x2="702.5" y2="411" stroke="#999" stroke-width="0.7"/>
<line x1="701" y1="415" x2="702.5" y2="415" stroke="#999" stroke-width="0.7"/>
<line x1="701" y1="419" x2="702.5" y2="419" stroke="#999" stroke-width="0.7"/>
<line x1="701" y1="423" x2="702.5" y2="423" stroke="#999" stroke-width="0.7"/>
<line x1="701" y1="427" x2="702.5" y2="427" stroke="#999" stroke-width="0.7"/>
<line x1="701" y1="431" x2="702.5" y2="431" stroke="#999" stroke-width="0.7"/>
<line x1="701" y1="435" x2="702.5" y2="435" stroke="#999" stroke-width="0.7"/>
<line x1="701" y1="439" x2="702.5" y2="439" stroke="#999" stroke-width="0.7"/>
<line x1="701" y1="443" x2="702.5" y2="443" stroke="#999" stroke-width="0.7"/>
<line x1="701" y1="447" x2="702.5" y2="447" stroke="#999" stroke-width="0.7"/>
<line x1="701" y1="451" x2="702.5" y2="451" stroke="#999" stroke-width="0.7"/>
<line x1="701" y1="455" x2="702.5" y2="455" stroke="#999" stroke-width="0.7"/>
<line x1="701" y1="459" x2="702.5" y2="459" stroke="#999" stroke-width="0.7"/>
<line x1="701" y1="463" x2="702.5" y2="463" stroke="#999" stroke-width="0.7"/>
<line x1="701" y1="467" x2="702.5" y2="467" stroke="#999" stroke-width="0.7"/>
<line x1="701" y1="471" x2="702.5" y2="471" stroke="#999" stroke-width="0.7"/>
<line x1="701" y1="475" x2="702.5" y2="475" stroke="#999" stroke-width="0.7"/>
<line x1="701" y1="479" x2="702.5" y2="479" stroke="#999" stroke-width="0.7"/>
<line x1="701" y1="483" x2="702.5" y2="483" stroke="#999" stroke-width="0.7"/>
<line x1="704.5" y1="486" x2="704.5" y2="487.5" stroke="#999" stroke-width="0.7"/>
<line x1="708.5" y1="486" x2="708.5" y2="487.5" stroke="#999" stroke-width="0.7"/>
<line x1="712.5" y1="486" x2="712.5" y2="487.5" stroke="#999" stroke-width="0.7"/>
<line x1="716.5" y1="486" x2="716.5" y2="487.5" stroke="#999" stroke-width="0.7"/>
<line x1="720.5" y1="486" x2="720.5" y2="487.5" stroke="#999" stroke-width="0.7"/>
<line x1="724.5" y1="486" x2="724.5" y2="487.5" stroke="#999" stroke-width="0.7"/>
<line x1="728.5" y1="486" x2="728.5" y2="487.5" stroke="#999" stroke-width="0.7"/>
<line x1="732.5" y1="486" x2="732.5" y2="487.5" stroke="#999" stroke-width="0.7"/>
<line x1="736.5" y1="486" x2="736.5" y2="487.5" stroke="#999" stroke-width="0.7"/>
<line x1="740.5" y1="486" x2="740.5" y2="487.5" stroke="#999" stroke-width="0.7"/>
<line x1="744.5" y1="486" x2="744.5" y2="487.5" stroke="#999" stroke-width="0.7"/>
<line x1="748.5" y1="486" x2="748.5" y2="487.5" stroke="#999" stroke-width="0.7"/>
<line x1="752.5" y1="486" x2="752.5" y2="487.5" stroke="#999" stroke-width="0.7"/>
<line x1="756.5" y1="486" x2="756.5" y2="487.5" stroke="#999" stroke-width="0.7"/>
<line x1="760.5" y1="486" x2="760.5" y2="487.5" stroke="#999" stroke-width="0.7"/>
<line x1="764.5" y1="486" x2="764.5" y2="487.5" stroke="#999" stroke-width="0.7"/>
<line x1="768.5" y1="486" x2="768.5" y2="487.5" stroke="#999" stroke-width="0.7"/>
<line x1="772.5" y1="486" x2="772.5" y2="487.5" stroke="#999" stroke-width="0.7"/>
<line x1="776.5" y1="486" x2="776.5" y2="487.5" stroke="#999" stroke-width="0.7"/>
<line x1="780.5" y1="486" x2="780.5" y2="487.5" stroke="#999" stroke-width="0.7"/>
<line x1="784.5" y1="486" x2="784.5" y2="487.5" stroke="#999" stroke-width="0.7"/>
<line x1="788.5" y1="486" x2="788.5" y2="487.5" stroke="#999" stroke-width="0.7"/>
<line x1="792.5" y1="486" x2="792.5" y2="487.5" stroke="#999" stroke-width="0.7"/>
<line x1="796.5" y1="486" x2="796.5" y2="487.5" stroke="#999" stroke-width="0.7"/>
<line x1="800.5" y1="486" x2="800.5" y2="487.5" stroke="#999" stroke-width="0.7"/>
<line x1="804.5" y1="486" x2="804.5" y2="487.5" stroke="#999" stroke-width="0.7"/>
<line x1="808.5" y1="486" x2="808.5" y2="487.5" stroke="#999" stroke-width="0.7"/>
<line x1="812.5" y1="486" x2="812.5" y2="487.5" stroke="#999" stroke-width="0.7"/>
<line x1="816.5" y1="486" x2="816.5" y2="487.5" stroke="#999" stroke-width="0.7"/>
<line x1="820.5" y1="486" x2="820.5" y2="487.5" stroke="#999" stroke-width="0.7"/>
<line x1="824.5" y1="486" x2="824.5" y2="487.5" stroke="#999" stroke-width="0.7"/>
<line x1="828.5" y1="486" x2="828.5" y2="487.5" stroke="#999" stroke-width="0.7"/>
<line x1="832.5" y1="486" x2="832.5" y2="487.5" stroke="#999" stroke-width="0.7"/>
<line x1="836.5" y1="486" x2="836.5" y2="487.5" stroke="#999" stroke-width="0.7"/>
<line x1="840.5" y1="486" x2="840.5" y2="487.5" stroke="#999" stroke-width="0.7"/>
<line x1="844.5" y1="486" x2="844.5" y2="487.5" stroke="#999" stroke-width="0.7"/>
<line x1="848.5" y1="486" x2="848.5" y2="487.5" stroke="#999" stroke-width="0.7"/>
<line x1="699" y1="348.2" x2="702.5" y2="348.2" stroke="#111" stroke-width="1.3"/>
<text x="690.7" y="353.16" font-size="16" text-anchor="end"><tspan>10</tspan><tspan font-size="11.52" dy="-6.4">5</tspan></text>
<line x1="699" y1="378.5" x2="702.5" y2="378.5" stroke="#111" stroke-width="1.3"/>
<text x="690.7" y="383.46" font-size="16" text-anchor="end"><tspan>10</tspan><tspan font-size="11.52" dy="-6.4">4</tspan></text>
<line x1="699" y1="408.6" x2="702.5" y2="408.6" stroke="#111" stroke-width="1.3"/>
<text x="690.7" y="413.56" font-size="16" text-anchor="end"><tspan>10</tspan><tspan font-size="11.52" dy="-6.4">3</tspan></text>
<line x1="699" y1="440.6" x2="702.5" y2="440.6" stroke="#111" stroke-width="1.3"/>
<text x="690.7" y="445.56" font-size="16" text-anchor="end"><tspan>10</tspan><tspan font-size="11.52" dy="-6.4">2</tspan></text>
<line x1="699" y1="462.3" x2="702.5" y2="462.3" stroke="#111" stroke-width="1.3"/>
<text x="690.7" y="467.26" font-size="16" text-anchor="end">0</text>
<line x1="732.3" y1="486" x2="732.3" y2="489" stroke="#333" stroke-width="1.2"/>
<text x="732.3" y="509" font-size="16" text-anchor="middle">0</text>
<line x1="753.3" y1="486" x2="753.3" y2="489" stroke="#333" stroke-width="1.2"/>
<text x="753.3" y="509" font-size="16" text-anchor="middle"><tspan>10</tspan><tspan font-size="11.52" dy="-6.4">2</tspan></text>
<line x1="782" y1="486" x2="782" y2="489" stroke="#333" stroke-width="1.2"/>
<text x="782" y="509" font-size="16" text-anchor="middle"><tspan>10</tspan><tspan font-size="11.52" dy="-6.4">3</tspan></text>
<line x1="811" y1="486" x2="811" y2="489" stroke="#333" stroke-width="1.2"/>
<text x="811" y="509" font-size="16" text-anchor="middle"><tspan>10</tspan><tspan font-size="11.52" dy="-6.4">4</tspan></text>
<line x1="839.8" y1="486" x2="839.8" y2="489" stroke="#333" stroke-width="1.2"/>
<text x="839.8" y="509" font-size="16" text-anchor="middle"><tspan>10</tspan><tspan font-size="11.52" dy="-6.4">5</tspan></text>
<g><rect x="152.17" y="397.44" width="1" height="1" fill="#aaa"/><rect x="144.71" y="402.25" width="1" height="1" fill="#666"/><rect x="101.54" y="387.85" width="1" height="1" fill="#888"/><rect x="164.68" y="429.33" width="1" height="1" fill="#ccc"/><rect x="156.83" y="403.24" width="1" height="1" fill="#ccc"/><rect x="115.59" y="404.81" width="1" height="1" fill="#bbb"/><rect x="144.23" y="399.3" width="1" height="1" fill="#aaa"/><rect x="130.77" y="410.75" width="1" height="1" fill="#aaa"/><rect x="98.84" y="443.25" width="1" height="1" fill="#888"/><rect x="135.78" y="370.9" width="1" height="1" fill="#ccc"/><rect x="152.39" y="376.61" width="1" height="1" fill="#888"/><rect x="166.74" y="432.17" width="1" height="1" fill="#aaa"/><rect x="180.01" y="404.23" width="1" height="1" fill="#aaa"/><rect x="129.79" y="382.23" width="1" height="1" fill="#aaa"/><rect x="137.92" y="380.22" width="1" height="1" fill="#ccc"/><rect x="152.02" y="370.46" width="1" height="1" fill="#999"/><rect x="128.4" y="415.84" width="1" height="1" fill="#aaa"/><rect x="103.97" y="400.63" width="1" height="1" fill="#999"/><rect x="206.43" y="380.03" width="1" height="1" fill="#666"/><rect x="145.3" y="375.79" width="1" height="1" fill="#888"/><rect x="151.01" y="378.73" width="1" height="1" fill="#888"/><rect x="159.82" y="449.23" width="1" height="1" fill="#bbb"/><rect x="95.72" y="440.92" width="1" height="1" fill="#ccc"/><rect x="95.77" y="428.98" width="1" height="1" fill="#ccc"/><rect x="167.64" y="352.48" width="1" height="1" fill="#666"/><rect x="96.91" y="409.08" width="1" height="1" fill="#aaa"/><rect x="133.54" y="401.02" width="1" height="1" fill="#ccc"/><rect x="148.41" y="404.21" width="1" height="1" fill="#ccc"/><rect x="152.02" y="407.69" width="1" height="1" fill="#999"/><rect x="179.77" y="461.25" width="1" height="1" fill="#888"/><rect x="110.99" y="400.97" width="1" height="1" fill="#bbb"/><rect x="135.78" y="420.26" width="1" height="1" fill="#bbb"/><rect x="106.65" y="398.54" width="1" height="1" fill="#666"/><rect x="95.52" y="400.59" width="1" height="1" fill="#bbb"/><rect x="142.11" y="377.44" width="1" height="1" fill="#aaa"/><rect x="137.82" y="399.55" width="1" height="1" fill="#aaa"/><rect x="116.42" y="383.01" width="1" height="1" fill="#666"/><rect x="161.83" y="420.38" width="1" height="1" fill="#bbb"/><rect x="172.81" y="407.16" width="1" height="1" fill="#888"/><rect x="165.55" y="368.07" width="1" height="1" fill="#bbb"/><rect x="103.02" y="407.28" width="1" height="1" fill="#bbb"/><rect x="132.58" y="367.87" width="1" height="1" fill="#888"/><rect x="100.72" y="390.52" width="1" height="1" fill="#aaa"/><rect x="123.39" y="439.66" width="1" height="1" fill="#999"/><rect x="148.57" y="406.05" width="1" height="1" fill="#999"/><rect x="127.91" y="365.88" width="1" height="1" fill="#888"/><rect x="175.84" y="406.19" width="1" height="1" fill="#ccc"/><rect x="127.74" y="402.76" width="1" height="1" fill="#aaa"/><rect x="152.52" y="385.11" width="1" height="1" fill="#ccc"/><rect x="128.35" y="427.65" width="1" height="1" fill="#999"/><rect x="135.62" y="349.86" width="1" height="1" fill="#666"/><rect x="93.81" y="404.63" width="1" height="1" fill="#999"/><rect x="139.07" y="413.28" width="1" height="1" fill="#ccc"/><rect x="123.39" y="415.61" width="1" height="1" fill="#aaa"/><rect x="127.59" y="407.56" width="1" height="1" fill="#888"/><rect x="130.82" y="415.38" width="1" height="1" fill="#999"/><rect x="153.28" y="407.81" width="1" height="1" fill="#888"/><rect x="168.81" y="371.04" width="1" height="1" fill="#aaa"/><rect x="105.31" y="407.31" width="1" height="1" fill="#ccc"/><rect x="142.73" y="402.45" width="1" height="1" fill="#aaa"/><rect x="165.77" y="433.92" width="1" height="1" fill="#666"/><rect x="160.01" y="394.13" width="1" height="1" fill="#999"/><rect x="141.01" y="375.39" width="1" height="1" fill="#888"/><rect x="117.69" y="384.34" width="1" height="1" fill="#888"/><rect x="140.95" y="410.33" width="1" height="1" fill="#ccc"/><rect x="118.78" y="390.92" width="1" height="1" fill="#666"/><rect x="121.18" y="362.09" width="1" height="1" fill="#666"/><rect x="118.15" y="418.85" width="1" height="1" fill="#999"/><rect x="125.99" y="369.68" width="1" height="1" fill="#999"/><rect x="131.09" y="419.6" width="1" height="1" fill="#ccc"/><rect x="151.86" y="447.29" width="1" height="1" fill="#aaa"/><rect x="171.02" y="406.21" width="1" height="1" fill="#ccc"/><rect x="143.23" y="444.93" width="1" height="1" fill="#aaa"/><rect x="131.1" y="376.26" width="1" height="1" fill="#666"/><rect x="142.57" y="387.96" width="1" height="1" fill="#888"/><rect x="134.56" y="354.6" width="1" height="1" fill="#aaa"/><rect x="144.95" y="402.54" width="1" height="1" fill="#999"/><rect x="157.62" y="340.85" width="1" height="1" fill="#888"/><rect x="113.84" y="390.05" width="1" height="1" fill="#888"/><rect x="165.84" y="410.01" width="1" height="1" fill="#aaa"/><rect x="113.41" y="407.02" width="1" height="1" fill="#aaa"/><rect x="138.98" y="394.71" width="1" height="1" fill="#ccc"/><rect x="158.77" y="360.84" width="1" height="1" fill="#999"/><rect x="147.35" y="475.01" width="1" height="1" fill="#aaa"/><rect x="145.41" y="389.87" width="1" height="1" fill="#bbb"/></g>
<g><rect x="360.32" y="399.6" width="1" height="1" fill="#999"/><rect x="339.13" y="374.04" width="1" height="1" fill="#666"/><rect x="342.86" y="380.21" width="1" height="1" fill="#bbb"/><rect x="340.86" y="399" width="1" height="1" fill="#ccc"/><rect x="393.58" y="373.91" width="1" height="1" fill="#999"/><rect x="319.85" y="372.93" width="1" height="1" fill="#888"/><rect x="316.52" y="387.05" width="1" height="1" fill="#888"/><rect x="348.08" y="401.34" width="1" height="1" fill="#666"/><rect x="374.78" y="398.19" width="1" height="1" fill="#ccc"/><rect x="347.71" y="395.75" width="1" height="1" fill="#666"/><rect x="373.07" y="376.48" width="1" height="1" fill="#888"/><rect x="356.16" y="409.91" width="1" height="1" fill="#aaa"/><rect x="367.74" y="431.35" width="1" height="1" fill="#ccc"/><rect x="335.02" y="422.69" width="1" height="1" fill="#666"/><rect x="349.2" y="358.51" width="1" height="1" fill="#888"/><rect x="342.58" y="401.33" width="1" height="1" fill="#ccc"/><rect x="336.49" y="395.72" width="1" height="1" fill="#aaa"/><rect x="360.73" y="392.4" width="1" height="1" fill="#888"/><rect x="341.78" y="381.07" width="1" height="1" fill="#666"/><rect x="358.07" y="405.83" width="1" height="1" fill="#bbb"/><rect x="337.09" y="414.83" width="1" height="1" fill="#888"/><rect x="320.46" y="376.05" width="1" height="1" fill="#bbb"/><rect x="381.44" y="380.07" width="1" height="1" fill="#999"/><rect x="367.53" y="365.13" width="1" height="1" fill="#bbb"/><rect x="328.57" y="383.63" width="1" height="1" fill="#aaa"/><rect x="316.46" y="419.61" width="1" height="1" fill="#888"/><rect x="371.23" y="418.95" width="1" height="1" fill="#999"/><rect x="336.74" y="380.68" width="1" height="1" fill="#888"/><rect x="373.8" y="385.59" width="1" height="1" fill="#666"/><rect x="376.98" y="381.44" width="1" height="1" fill="#888"/><rect x="349.16" y="370.12" width="1" height="1" fill="#aaa"/><rect x="369.4" y="378.59" width="1" height="1" fill="#666"/><rect x="371.42" y="387.85" width="1" height="1" fill="#999"/><rect x="326.8" y="444.22" width="1" height="1" fill="#bbb"/><rect x="362.06" y="389.3" width="1" height="1" fill="#ccc"/><rect x="320.24" y="376.98" width="1" height="1" fill="#999"/><rect x="311.73" y="423.81" width="1" height="1" fill="#666"/><rect x="305.48" y="359.81" width="1" height="1" fill="#666"/><rect x="377.21" y="401.58" width="1" height="1" fill="#888"/><rect x="325.61" y="353.56" width="1" height="1" fill="#aaa"/><rect x="349.64" y="416.35" width="1" height="1" fill="#888"/><rect x="412.63" y="371.23" width="1" height="1" fill="#888"/><rect x="338.69" y="385.6" width="1" height="1" fill="#ccc"/><rect x="347.17" y="390.01" width="1" height="1" fill="#999"/><rect x="354.36" y="392.45" width="1" height="1" fill="#999"/><rect x="389.74" y="417.61" width="1" height="1" fill="#bbb"/><rect x="351.51" y="428.56" width="1" height="1" fill="#999"/><rect x="345.15" y="381.65" width="1" height="1" fill="#bbb"/><rect x="352.57" y="408.01" width="1" height="1" fill="#666"/><rect x="395.23" y="428.35" width="1" height="1" fill="#666"/><rect x="363.63" y="388.77" width="1" height="1" fill="#999"/><rect x="321.22" y="418.57" width="1" height="1" fill="#999"/><rect x="373.44" y="457.81" width="1" height="1" fill="#bbb"/><rect x="343.62" y="387.96" width="1" height="1" fill="#bbb"/><rect x="303.34" y="388.78" width="1" height="1" fill="#888"/><rect x="374.49" y="415.18" width="1" height="1" fill="#ccc"/><rect x="366.34" y="379.84" width="1" height="1" fill="#aaa"/><rect x="378.89" y="403.26" width="1" height="1" fill="#888"/><rect x="308.1" y="404.19" width="1" height="1" fill="#888"/><rect x="332.74" y="425.98" width="1" height="1" fill="#888"/><rect x="348.78" y="385.55" width="1" height="1" fill="#aaa"/><rect x="389.42" y="381.04" width="1" height="1" fill="#999"/><rect x="316.73" y="352.7" width="1" height="1" fill="#888"/><rect x="314.47" y="396.53" width="1" height="1" fill="#666"/><rect x="368.69" y="395.59" width="1" height="1" fill="#aaa"/><rect x="386.94" y="441.04" width="1" height="1" fill="#999"/><rect x="321.64" y="469.92" width="1" height="1" fill="#ccc"/><rect x="348" y="430" width="1" height="1" fill="#888"/><rect x="371" y="426.9" width="1" height="1" fill="#aaa"/><rect x="346.37" y="425.76" width="1" height="1" fill="#666"/><rect x="355.42" y="358.92" width="1" height="1" fill="#bbb"/><rect x="347.18" y="371.29" width="1" height="1" fill="#888"/><rect x="335.27" y="420.36" width="1" height="1" fill="#aaa"/><rect x="323.78" y="415.95" width="1" height="1" fill="#bbb"/><rect x="367.8" y="373.39" width="1" height="1" fill="#aaa"/><rect x="343.55" y="430.89" width="1" height="1" fill="#ccc"/><rect x="358.77" y="410" width="1" height="1" fill="#bbb"/><rect x="363.28" y="405.64" width="1" height="1" fill="#bbb"/><rect x="357.26" y="427.45" width="1" height="1" fill="#666"/><rect x="321.75" y="366.85" width="1" height="1" fill="#ccc"/><rect x="323.34" y="416.31" width="1" height="1" fill="#bbb"/><rect x="327.05" y="382.11" width="1" height="1" fill="#888"/><rect x="308.52" y="360.4" width="1" height="1" fill="#999"/><rect x="340.93" y="393.78" width="1" height="1" fill="#666"/><rect x="323.82" y="345.45" width="1" height="1" fill="#ccc"/><rect x="374.29" y="403.54" width="1" height="1" fill="#666"/><rect x="329.95" y="412.65" width="1" height="1" fill="#ccc"/><rect x="340.18" y="379.71" width="1" height="1" fill="#ccc"/><rect x="354.23" y="387.73" width="1" height="1" fill="#bbb"/><rect x="338.36" y="366.94" width="1" height="1" fill="#666"/><rect x="336.84" y="344.91" width="1" height="1" fill="#bbb"/><rect x="334.09" y="381" width="1" height="1" fill="#888"/><rect x="318.45" y="408.58" width="1" height="1" fill="#aaa"/><rect x="361.01" y="390.47" width="1" height="1" fill="#ccc"/><rect x="364.54" y="418.84" width="1" height="1" fill="#666"/><rect x="379.95" y="423.63" width="1" height="1" fill="#ccc"/><rect x="361.94" y="376.63" width="1" height="1" fill="#bbb"/><rect x="344.02" y="342.53" width="1" height="1" fill="#999"/><rect x="335.08" y="396.24" width="1" height="1" fill="#aaa"/><rect x="341.17" y="374.23" width="1" height="1" fill="#aaa"/><rect x="352.27" y="432.97" width="1" height="1" fill="#666"/><rect x="326.03" y="383.93" width="1" height="1" fill="#888"/><rect x="334.5" y="407.37" width="1" height="1" fill="#666"/><rect x="348.25" y="423.44" width="1" height="1" fill="#666"/><rect x="368.66" y="376.82" width="1" height="1" fill="#666"/></g>
<g><rect x="519" y="379.56" width="1" height="1" fill="#999"/><rect x="521.24" y="389.51" width="1" height="1" fill="#ccc"/><rect x="610.37" y="358.84" width="1" height="1" fill="#999"/><rect x="588.35" y="389.26" width="1" height="1" fill="#aaa"/><rect x="546.39" y="437.51" width="1" height="1" fill="#666"/><rect x="547.17" y="419.35" width="1" height="1" fill="#aaa"/><rect x="591.95" y="369.1" width="1" height="1" fill="#ccc"/><rect x="532.08" y="350.33" width="1" height="1" fill="#999"/><rect x="586.87" y="380.91" width="1" height="1" fill="#ccc"/><rect x="556.34" y="452.47" width="1" height="1" fill="#999"/><rect x="577.53" y="393.63" width="1" height="1" fill="#888"/><rect x="565.15" y="395.88" width="1" height="1" fill="#999"/><rect x="572.44" y="413.74" width="1" height="1" fill="#888"/><rect x="530.28" y="394.52" width="1" height="1" fill="#999"/><rect x="531.23" y="392.82" width="1" height="1" fill="#aaa"/><rect x="522.06" y="423.92" width="1" height="1" fill="#666"/><rect x="528.86" y="426.08" width="1" height="1" fill="#ccc"/><rect x="541.4" y="391.23" width="1" height="1" fill="#888"/><rect x="597.19" y="424.64" width="1" height="1" fill="#666"/><rect x="575.82" y="404.46" width="1" height="1" fill="#888"/><rect x="583.04" y="365.3" width="1" height="1" fill="#aaa"/><rect x="524.19" y="404.81" width="1" height="1" fill="#999"/><rect x="528.74" y="380.05" width="1" height="1" fill="#999"/><rect x="550.91" y="396.84" width="1" height="1" fill="#aaa"/><rect x="519.43" y="430.07" width="1" height="1" fill="#666"/><rect x="544.44" y="378.31" width="1" height="1" fill="#bbb"/><rect x="525.06" y="362.9" width="1" height="1" fill="#ccc"/><rect x="594.91" y="349.98" width="1" height="1" fill="#ccc"/><rect x="549.23" y="391.76" width="1" height="1" fill="#666"/><rect x="603.42" y="353.94" width="1" height="1" fill="#999"/><rect x="526.28" y="403.31" width="1" height="1" fill="#bbb"/><rect x="528.45" y="414.07" width="1" height="1" fill="#bbb"/><rect x="585.99" y="388.86" width="1" height="1" fill="#666"/><rect x="556.19" y="372.06" width="1" height="1" fill="#999"/><rect x="589.68" y="457.79" width="1" height="1" fill="#ccc"/><rect x="525.5" y="459.07" width="1" height="1" fill="#bbb"/><rect x="575.83" y="436.21" width="1" height="1" fill="#999"/><rect x="569.4" y="370.44" width="1" height="1" fill="#999"/><rect x="605.16" y="371" width="1" height="1" fill="#bbb"/><rect x="550.68" y="390.28" width="1" height="1" fill="#ccc"/><rect x="523.17" y="364.84" width="1" height="1" fill="#888"/><rect x="505.17" y="402.57" width="1" height="1" fill="#bbb"/><rect x="567.14" y="403.1" width="1" height="1" fill="#888"/><rect x="566.87" y="432.92" width="1" height="1" fill="#666"/><rect x="597.89" y="375.02" width="1" height="1" fill="#bbb"/><rect x="523.33" y="410.17" width="1" height="1" fill="#999"/><rect x="620.98" y="399.32" width="1" height="1" fill="#aaa"/><rect x="566.77" y="398.26" width="1" height="1" fill="#888"/><rect x="507.81" y="409.52" width="1" height="1" fill="#bbb"/><rect x="564.28" y="347.84" width="1" height="1" fill="#888"/><rect x="543.44" y="373.93" width="1" height="1" fill="#666"/><rect x="568.84" y="352.68" width="1" height="1" fill="#999"/><rect x="600.8" y="387.14" width="1" height="1" fill="#666"/><rect x="565.98" y="365.61" width="1" height="1" fill="#999"/><rect x="536.5" y="379.6" width="1" height="1" fill="#888"/><rect x="552.34" y="384.03" width="1" height="1" fill="#aaa"/><rect x="524.2" y="397.32" width="1" height="1" fill="#888"/><rect x="577.91" y="371.15" width="1" height="1" fill="#888"/><rect x="553.89" y="413.76" width="1" height="1" fill="#bbb"/><rect x="589.16" y="433.15" width="1" height="1" fill="#bbb"/><rect x="530.67" y="402.08" width="1" height="1" fill="#ccc"/><rect x="555.38" y="402.57" width="1" height="1" fill="#666"/><rect x="565.44" y="410.98" width="1" height="1" fill="#ccc"/><rect x="554.41" y="420.45" width="1" height="1" fill="#666"/><rect x="516.95" y="397.5" width="1" height="1" fill="#bbb"/><rect x="545.8" y="440.57" width="1" height="1" fill="#888"/><rect x="556.57" y="373.59" width="1" height="1" fill="#aaa"/><rect x="580.35" y="393" width="1" height="1" fill="#666"/><rect x="562.61" y="380.22" width="1" height="1" fill="#aaa"/><rect x="529.83" y="441" width="1" height="1" fill="#666"/><rect x="579.84" y="362.98" width="1" height="1" fill="#888"/><rect x="505.63" y="391.55" width="1" height="1" fill="#aaa"/><rect x="520" y="365.28" width="1" height="1" fill="#bbb"/><rect x="506.12" y="397.15" width="1" height="1" fill="#aaa"/><rect x="582.3" y="362.21" width="1" height="1" fill="#999"/><rect x="540.49" y="381.85" width="1" height="1" fill="#ccc"/><rect x="547.48" y="370.19" width="1" height="1" fill="#aaa"/><rect x="528.26" y="406.25" width="1" height="1" fill="#666"/><rect x="534.28" y="418.65" width="1" height="1" fill="#999"/><rect x="556.23" y="403.62" width="1" height="1" fill="#888"/><rect x="564.5" y="419.58" width="1" height="1" fill="#888"/><rect x="562.32" y="383.67" width="1" height="1" fill="#888"/><rect x="567.19" y="405.14" width="1" height="1" fill="#bbb"/><rect x="541.25" y="404.6" width="1" height="1" fill="#bbb"/><rect x="504.98" y="396.3" width="1" height="1" fill="#aaa"/><rect x="614.73" y="393.75" width="1" height="1" fill="#bbb"/><rect x="552.6" y="397.33" width="1" height="1" fill="#666"/><rect x="521.54" y="397.84" width="1" height="1" fill="#999"/><rect x="588.31" y="467.65" width="1" height="1" fill="#aaa"/><rect x="548.4" y="426.83" width="1" height="1" fill="#ccc"/><rect x="556.69" y="417.84" width="1" height="1" fill="#999"/><rect x="570.48" y="424.61" width="1" height="1" fill="#666"/><rect x="606.37" y="371.79" width="1" height="1" fill="#ccc"/><rect x="565.23" y="425.31" width="1" height="1" fill="#888"/><rect x="554.43" y="426.38" width="1" height="1" fill="#bbb"/><rect x="578.58" y="385.95" width="1" height="1" fill="#666"/><rect x="564.48" y="424.64" width="1" height="1" fill="#888"/><rect x="533.07" y="389.87" width="1" height="1" fill="#ccc"/><rect x="510.86" y="368.61" width="1" height="1" fill="#999"/><rect x="541.1" y="415.15" width="1" height="1" fill="#666"/><rect x="568.54" y="427.25" width="1" height="1" fill="#888"/><rect x="598.41" y="405.15" width="1" height="1" fill="#666"/><rect x="569.99" y="366.28" width="1" height="1" fill="#999"/><rect x="579.24" y="379.4" width="1" height="1" fill="#bbb"/><rect x="529.14" y="353.18" width="1" height="1" fill="#999"/><rect x="555.22" y="406.53" width="1" height="1" fill="#666"/><rect x="523.92" y="390.26" width="1" height="1" fill="#ccc"/><rect x="580.65" y="412.8" width="1" height="1" fill="#999"/><rect x="580.99" y="410.64" width="1" height="1" fill="#999"/><rect x="549.86" y="369.21" width="1" height="1" fill="#888"/><rect x="551.57" y="381.99" width="1" height="1" fill="#888"/><rect x="505.49" y="406.92" width="1" height="1" fill="#999"/><rect x="547.33" y="418.77" width="1" height="1" fill="#999"/><rect x="554.13" y="395.35" width="1" height="1" fill="#888"/><rect x="546.31" y="390.97" width="1" height="1" fill="#bbb"/><rect x="548.58" y="341.74" width="1" height="1" fill="#888"/><rect x="598.07" y="348.98" width="1" height="1" fill="#ccc"/><rect x="569.37" y="411.22" width="1" height="1" fill="#ccc"/><rect x="580.13" y="368.82" width="1" height="1" fill="#aaa"/><rect x="536.47" y="392.72" width="1" height="1" fill="#ccc"/><rect x="540.45" y="397.41" width="1" height="1" fill="#bbb"/><rect x="542.52" y="382.99" width="1" height="1" fill="#999"/><rect x="533.29" y="389.62" width="1" height="1" fill="#bbb"/><rect x="536.44" y="439.69" width="1" height="1" fill="#999"/><rect x="565.4" y="416.31" width="1" height="1" fill="#ccc"/><rect x="548.87" y="386.48" width="1" height="1" fill="#bbb"/><rect x="560.91" y="399.31" width="1" height="1" fill="#888"/><rect x="558.21" y="361.3" width="1" height="1" fill="#aaa"/><rect x="540.84" y="392.91" width="1" height="1" fill="#aaa"/><rect x="520.87" y="368" width="1" height="1" fill="#ccc"/><rect x="578.22" y="340.54" width="1" height="1" fill="#bbb"/><rect x="587.55" y="364.22" width="1" height="1" fill="#aaa"/><rect x="589.35" y="403.34" width="1" height="1" fill="#666"/><rect x="582.1" y="345.83" width="1" height="1" fill="#888"/><rect x="591.13" y="373.5" width="1" height="1" fill="#aaa"/><rect x="532.19" y="444.22" width="1" height="1" fill="#ccc"/><rect x="566.38" y="442.16" width="1" height="1" fill="#888"/><rect x="558.98" y="411.24" width="1" height="1" fill="#666"/><rect x="527.13" y="453.58" width="1" height="1" fill="#888"/><rect x="569.51" y="393.79" width="1" height="1" fill="#666"/><rect x="563.73" y="430.57" width="1" height="1" fill="#aaa"/><rect x="512.11" y="398.17" width="1" height="1" fill="#999"/><rect x="553.07" y="421.87" width="1" height="1" fill="#bbb"/><rect x="573.53" y="396.74" width="1" height="1" fill="#999"/><rect x="567.64" y="414.85" width="1" height="1" fill="#888"/><rect x="565.75" y="405.31" width="1" height="1" fill="#999"/><rect x="513.33" y="422.5" width="1" height="1" fill="#ccc"/><rect x="617.6" y="422.19" width="1" height="1" fill="#ccc"/><rect x="545.29" y="388.17" width="1" height="1" fill="#aaa"/><rect x="530.44" y="388.89" width="1" height="1" fill="#999"/><rect x="536.23" y="414.3" width="1" height="1" fill="#bbb"/><rect x="573.9" y="413.07" width="1" height="1" fill="#888"/><rect x="589.93" y="422.25" width="1" height="1" fill="#999"/><rect x="548.59" y="394.58" width="1" height="1" fill="#bbb"/><rect x="576.67" y="367.54" width="1" height="1" fill="#aaa"/><rect x="627.68" y="370.25" width="1" height="1" fill="#aaa"/><rect x="547.1" y="445.01" width="1" height="1" fill="#ccc"/><rect x="579.59" y="410.19" width="1" height="1" fill="#bbb"/><rect x="562.6" y="352.31" width="1" height="1" fill="#aaa"/><rect x="522.94" y="426.27" width="1" height="1" fill="#666"/><rect x="605.14" y="370.59" width="1" height="1" fill="#bbb"/><rect x="540.14" y="419.51" width="1" height="1" fill="#bbb"/><rect x="547" y="419.32" width="1" height="1" fill="#999"/><rect x="541.71" y="410.28" width="1" height="1" fill="#888"/><rect x="531.3" y="381.07" width="1" height="1" fill="#bbb"/><rect x="573.6" y="389.87" width="1" height="1" fill="#ccc"/><rect x="508.03" y="391.43" width="1" height="1" fill="#bbb"/><rect x="575.36" y="430.95" width="1" height="1" fill="#bbb"/><rect x="532.21" y="395.35" width="1" height="1" fill="#999"/><rect x="580.95" y="370.25" width="1" height="1" fill="#888"/><rect x="621.08" y="405.04" width="1" height="1" fill="#aaa"/><rect x="603.45" y="381.35" width="1" height="1" fill="#aaa"/><rect x="525.57" y="370.76" width="1" height="1" fill="#999"/><rect x="558.17" y="396.63" width="1" height="1" fill="#aaa"/><rect x="587.8" y="380.52" width="1" height="1" fill="#888"/><rect x="560.27" y="387.44" width="1" height="1" fill="#888"/><rect x="545.52" y="381.78" width="1" height="1" fill="#bbb"/><rect x="524.81" y="461.1" width="1" height="1" fill="#666"/><rect x="544.19" y="415.19" width="1" height="1" fill="#888"/><rect x="549.8" y="432.06" width="1" height="1" fill="#ccc"/><rect x="574.79" y="418.46" width="1" height="1" fill="#ccc"/><rect x="580.52" y="437.34" width="1" height="1" fill="#ccc"/><rect x="598.15" y="402.3" width="1" height="1" fill="#888"/><rect x="561.83" y="371.47" width="1" height="1" fill="#666"/><rect x="548.04" y="397.38" width="1" height="1" fill="#bbb"/><rect x="567.1" y="407.77" width="1" height="1" fill="#666"/><rect x="504.34" y="402.99" width="1" height="1" fill="#ccc"/><rect x="532.42" y="437.15" width="1" height="1" fill="#666"/><rect x="525.03" y="405.3" width="1" height="1" fill="#ccc"/><rect x="556.23" y="395.86" width="1" height="1" fill="#bbb"/><rect x="530.96" y="351.22" width="1" height="1" fill="#ccc"/></g>
<g><rect x="723.27" y="376.7" width="1" height="1" fill="#888"/><rect x="788.58" y="356.9" width="1" height="1" fill="#999"/><rect x="759.71" y="379.44" width="1" height="1" fill="#999"/><rect x="736.21" y="403.77" width="1" height="1" fill="#888"/><rect x="768.69" y="392.02" width="1" height="1" fill="#666"/><rect x="758.07" y="348.53" width="1" height="1" fill="#666"/><rect x="758.68" y="363.29" width="1" height="1" fill="#ccc"/><rect x="712.19" y="369.24" width="1" height="1" fill="#aaa"/><rect x="778.82" y="370.72" width="1" height="1" fill="#ccc"/><rect x="744.06" y="399.73" width="1" height="1" fill="#888"/><rect x="759.43" y="405.32" width="1" height="1" fill="#bbb"/><rect x="775.79" y="404.86" width="1" height="1" fill="#bbb"/><rect x="737.24" y="388.46" width="1" height="1" fill="#666"/><rect x="720.08" y="365.3" width="1" height="1" fill="#aaa"/><rect x="749.89" y="391.29" width="1" height="1" fill="#999"/><rect x="764.5" y="374.63" width="1" height="1" fill="#888"/><rect x="720.44" y="400.88" width="1" height="1" fill="#999"/><rect x="706.25" y="394.69" width="1" height="1" fill="#bbb"/><rect x="730.53" y="392.22" width="1" height="1" fill="#888"/><rect x="740.65" y="385.29" width="1" height="1" fill="#888"/><rect x="749.63" y="388.72" width="1" height="1" fill="#999"/><rect x="723" y="378.66" width="1" height="1" fill="#999"/><rect x="738.85" y="389.47" width="1" height="1" fill="#999"/><rect x="748.64" y="363.05" width="1" height="1" fill="#ccc"/><rect x="717.6" y="355.82" width="1" height="1" fill="#666"/><rect x="758.28" y="384.26" width="1" height="1" fill="#aaa"/><rect x="735.77" y="412.43" width="1" height="1" fill="#ccc"/><rect x="730.22" y="393.08" width="1" height="1" fill="#ccc"/><rect x="742.83" y="427.38" width="1" height="1" fill="#bbb"/><rect x="734.8" y="363.34" width="1" height="1" fill="#666"/><rect x="757.84" y="390" width="1" height="1" fill="#999"/><rect x="794.84" y="374.75" width="1" height="1" fill="#bbb"/><rect x="740.16" y="384.35" width="1" height="1" fill="#ccc"/><rect x="780.99" y="419.76" width="1" height="1" fill="#ccc"/><rect x="724.75" y="408.55" width="1" height="1" fill="#888"/><rect x="766.98" y="392.9" width="1" height="1" fill="#888"/><rect x="756.71" y="366.36" width="1" height="1" fill="#aaa"/><rect x="739.61" y="343.63" width="1" height="1" fill="#ccc"/><rect x="792.41" y="386.9" width="1" height="1" fill="#bbb"/><rect x="730.07" y="382.33" width="1" height="1" fill="#888"/><rect x="771.83" y="390.7" width="1" height="1" fill="#bbb"/><rect x="730.37" y="434.99" width="1" height="1" fill="#bbb"/><rect x="737.23" y="385.54" width="1" height="1" fill="#bbb"/><rect x="770.23" y="376.69" width="1" height="1" fill="#ccc"/><rect x="749.15" y="406.8" width="1" height="1" fill="#666"/><rect x="745.9" y="371.51" width="1" height="1" fill="#bbb"/><rect x="730.27" y="359.12" width="1" height="1" fill="#999"/><rect x="763.1" y="381.82" width="1" height="1" fill="#aaa"/><rect x="708.97" y="385.21" width="1" height="1" fill="#999"/><rect x="753.26" y="426.64" width="1" height="1" fill="#999"/><rect x="802.76" y="372.17" width="1" height="1" fill="#999"/><rect x="770.59" y="357.64" width="1" height="1" fill="#999"/><rect x="749.55" y="376.63" width="1" height="1" fill="#999"/><rect x="772.15" y="374.42" width="1" height="1" fill="#aaa"/><rect x="759.71" y="383.15" width="1" height="1" fill="#666"/><rect x="725.52" y="368.76" width="1" height="1" fill="#aaa"/><rect x="787.23" y="345.86" width="1" height="1" fill="#bbb"/><rect x="747" y="446.37" width="1" height="1" fill="#bbb"/><rect x="788.38" y="389.11" width="1" height="1" fill="#aaa"/><rect x="772.15" y="394.16" width="1" height="1" fill="#999"/><rect x="752" y="375.46" width="1" height="1" fill="#bbb"/><rect x="772.3" y="357.05" width="1" height="1" fill="#999"/><rect x="755" y="364.34" width="1" height="1" fill="#666"/><rect x="755.46" y="362.34" width="1" height="1" fill="#888"/><rect x="749.88" y="373.98" width="1" height="1" fill="#bbb"/><rect x="745.48" y="368.66" width="1" height="1" fill="#ccc"/><rect x="766.31" y="372.87" width="1" height="1" fill="#999"/><rect x="754.62" y="405.32" width="1" height="1" fill="#999"/><rect x="795.01" y="375" width="1" height="1" fill="#888"/><rect x="734.72" y="375.03" width="1" height="1" fill="#aaa"/><rect x="748.48" y="412.95" width="1" height="1" fill="#bbb"/><rect x="750.5" y="346.03" width="1" height="1" fill="#999"/><rect x="743.26" y="383.12" width="1" height="1" fill="#ccc"/><rect x="764.74" y="372.68" width="1" height="1" fill="#999"/><rect x="729.26" y="384.53" width="1" height="1" fill="#ccc"/><rect x="777.45" y="370.36" width="1" height="1" fill="#888"/><rect x="757.29" y="367.06" width="1" height="1" fill="#888"/><rect x="775.43" y="390.48" width="1" height="1" fill="#ccc"/><rect x="771.29" y="361.56" width="1" height="1" fill="#bbb"/><rect x="759.53" y="372.85" width="1" height="1" fill="#999"/><rect x="736.39" y="394.35" width="1" height="1" fill="#aaa"/><rect x="741.77" y="359.37" width="1" height="1" fill="#666"/><rect x="739.61" y="389.69" width="1" height="1" fill="#ccc"/><rect x="755.47" y="372.26" width="1" height="1" fill="#888"/><rect x="741.24" y="357.16" width="1" height="1" fill="#ccc"/><rect x="778.99" y="393.68" width="1" height="1" fill="#999"/><rect x="786.6" y="382.47" width="1" height="1" fill="#ccc"/><rect x="787.17" y="387.51" width="1" height="1" fill="#999"/><rect x="760.58" y="368.42" width="1" height="1" fill="#888"/><rect x="722.02" y="375.69" width="1" height="1" fill="#bbb"/><rect x="753.26" y="370.54" width="1" height="1" fill="#ccc"/><rect x="750.4" y="398.22" width="1" height="1" fill="#ccc"/><rect x="736.74" y="409.2" width="1" height="1" fill="#999"/><rect x="779.08" y="346.49" width="1" height="1" fill="#ccc"/><rect x="763.84" y="342.03" width="1" height="1" fill="#666"/><rect x="768.63" y="389.03" width="1" height="1" fill="#aaa"/><rect x="708.53" y="374.48" width="1" height="1" fill="#bbb"/><rect x="769.37" y="384.81" width="1" height="1" fill="#ccc"/><rect x="784.44" y="399.73" width="1" height="1" fill="#888"/><rect x="751.8" y="371.71" width="1" height="1" fill="#666"/><rect x="716.36" y="398.64" width="1" height="1" fill="#aaa"/><rect x="773.22" y="374.62" width="1" height="1" fill="#ccc"/><rect x="758.73" y="386.97" width="1" height="1" fill="#ccc"/><rect x="734.13" y="340.95" width="1" height="1" fill="#ccc"/><rect x="752.24" y="383.38" width="1" height="1" fill="#aaa"/><rect x="772.69" y="372.06" width="1" height="1" fill="#bbb"/><rect x="762.55" y="404.14" width="1" height="1" fill="#888"/><rect x="780.12" y="371.23" width="1" height="1" fill="#888"/><rect x="757.74" y="414.06" width="1" height="1" fill="#ccc"/><rect x="741.22" y="378.36" width="1" height="1" fill="#aaa"/><rect x="777.9" y="375.08" width="1" height="1" fill="#ccc"/><rect x="760.71" y="411.58" width="1" height="1" fill="#aaa"/><rect x="748.09" y="371.93" width="1" height="1" fill="#666"/><rect x="758.74" y="386.1" width="1" height="1" fill="#aaa"/><rect x="741.64" y="398.51" width="1" height="1" fill="#bbb"/><rect x="752.03" y="387.17" width="1" height="1" fill="#aaa"/><rect x="758.63" y="357.46" width="1" height="1" fill="#999"/><rect x="786.23" y="405.1" width="1" height="1" fill="#aaa"/><rect x="751.57" y="357.45" width="1" height="1" fill="#888"/><rect x="771.6" y="376.89" width="1" height="1" fill="#999"/><rect x="769.72" y="375.48" width="1" height="1" fill="#aaa"/><rect x="791.58" y="372.68" width="1" height="1" fill="#bbb"/><rect x="735.6" y="402.45" width="1" height="1" fill="#ccc"/></g>
<path d="M110.1 363.3 C112.74 361.56 113.05 362.82 118.3 360.9 C123.55 358.98 122.02 357.95 127.6 356.9 C133.18 355.85 131.68 356.02 136.9 357.4 C142.12 358.78 142.21 358.35 145 361.5 C147.79 364.65 146.89 364.24 146.2 367.9 C145.51 371.56 145.49 371.27 142.7 373.7 C139.91 376.13 140.74 374.59 136.9 376 C133.06 377.41 132.36 375.94 129.9 378.4 C127.44 380.86 130.44 381.41 128.7 384.2 C126.96 386.99 126.89 387.37 124.1 387.7 C121.31 388.03 121.14 388.09 119.4 385.3 C117.66 382.51 118.99 382.21 118.3 378.4 C117.61 374.59 118.84 375.39 117.1 372.6 C115.36 369.81 114.78 370.87 112.5 369.1 C110.22 367.33 110.22 368.44 109.5 366.7 C108.78 364.96 107.46 365.04 110.1 363.3 Z" fill="#000" stroke="#000" stroke-width="1.2" stroke-linejoin="round"/>
<path d="M118.5 364 C120.9 360.85 122.1 360.7 127.5 359.5 C132.9 358.3 132 358.65 136.5 360 C141 361.35 141 361 142.5 364 C144 367 143.9 367.3 141.5 370 C139.1 372.7 138.4 371.35 134.5 373 C130.6 374.65 131.8 375.2 128.5 375.5 C125.2 375.8 126.2 375.65 123.5 374 C120.8 372.35 121 373 119.5 370 C118 367 116.1 367.15 118.5 364 Z" fill="#9d9d9d" filter="url(#bl3)"/>
<ellipse cx="123.9" cy="370.6" rx="4.2" ry="4" fill="#8a8a8a" filter="url(#bl3)"/>
<ellipse cx="137.5" cy="366" rx="3.5" ry="3.3" fill="#8a8a8a" filter="url(#bl3)"/>
<ellipse cx="122.9" cy="381.5" rx="3.2" ry="3.2" fill="#a5a5a5" stroke="#000" stroke-width="2"/>
<ellipse cx="152.6" cy="377.2" rx="2.4" ry="4.2" fill="#000" transform="rotate(15 152.6 377.2)"/>
<ellipse cx="143.8" cy="391.2" rx="6" ry="4" fill="#000" transform="rotate(-15 143.8 391.2)"/>
<ellipse cx="143.8" cy="391.2" rx="2.8" ry="1.9" fill="#aaa" transform="rotate(-15 143.8 391.2)"/>
<ellipse cx="131" cy="398.3" rx="1.6" ry="4.2" fill="#000" transform="rotate(35 131 398.3)"/>
<ellipse cx="127.5" cy="402" rx="2.4" ry="1.8" fill="#000"/>
<ellipse cx="116.5" cy="401.6" rx="2" ry="3.5" fill="#000"/>
<ellipse cx="142.5" cy="404.5" rx="3" ry="1.6" fill="#000"/>
<path d="M120 414.4 C121.92 410.23 121.18 411.18 125.2 409.8 C129.22 408.42 128.51 410.85 133.4 409.8 C138.29 408.75 136.61 408.4 141.5 406.3 C146.39 404.2 146.22 406.28 149.7 402.8 C153.18 399.32 151.36 398.54 153.1 394.7 C154.84 390.86 151.99 391.23 155.5 390 C159.01 388.77 158.53 390.6 164.8 390.6 C171.07 390.6 171.54 388.77 176.4 390 C181.26 391.23 179.44 390.5 181 394.7 C182.56 398.9 179.5 400.19 181.6 404 C183.7 407.81 183.62 405.33 188 407.4 C192.38 409.47 193.05 408.11 196.2 410.9 C199.35 413.69 198.86 412.86 198.5 416.7 C198.14 420.54 197.46 418.81 195 423.7 C192.54 428.59 193.45 427.42 190.3 433 C187.15 438.58 187.98 437.41 184.5 442.3 C181.02 447.19 182.54 445.97 178.7 449.3 C174.86 452.63 175.87 452.71 171.7 453.4 C167.53 454.09 168.28 454.21 164.8 451.6 C161.32 448.99 162.89 448.54 160.1 444.7 C157.31 440.86 159.34 442.31 155.5 438.8 C151.66 435.29 152.19 435.43 147.3 433 C142.41 430.57 143.37 430.7 139.2 430.7 C135.03 430.7 137.24 431.62 133.4 433 C129.56 434.38 130.24 435.63 126.4 435.3 C122.56 434.97 122.88 435.38 120.6 431.9 C118.32 428.42 118.98 428.95 118.8 423.7 C118.62 418.45 118.08 418.57 120 414.4 Z" fill="#000" stroke="#000" stroke-width="2.2" stroke-linejoin="round"/>
<path d="M120 414.4 C121.92 410.23 121.18 411.18 125.2 409.8 C129.22 408.42 128.51 410.85 133.4 409.8 C138.29 408.75 136.61 408.4 141.5 406.3 C146.39 404.2 146.22 406.28 149.7 402.8 C153.18 399.32 151.36 398.54 153.1 394.7 C154.84 390.86 151.99 391.23 155.5 390 C159.01 388.77 158.53 390.6 164.8 390.6 C171.07 390.6 171.54 388.77 176.4 390 C181.26 391.23 179.44 390.5 181 394.7 C182.56 398.9 179.5 400.19 181.6 404 C183.7 407.81 183.62 405.33 188 407.4 C192.38 409.47 193.05 408.11 196.2 410.9 C199.35 413.69 198.86 412.86 198.5 416.7 C198.14 420.54 197.46 418.81 195 423.7 C192.54 428.59 193.45 427.42 190.3 433 C187.15 438.58 187.98 437.41 184.5 442.3 C181.02 447.19 182.54 445.97 178.7 449.3 C174.86 452.63 175.87 452.71 171.7 453.4 C167.53 454.09 168.28 454.21 164.8 451.6 C161.32 448.99 162.89 448.54 160.1 444.7 C157.31 440.86 159.34 442.31 155.5 438.8 C151.66 435.29 152.19 435.43 147.3 433 C142.41 430.57 143.37 430.7 139.2 430.7 C135.03 430.7 137.24 431.62 133.4 433 C129.56 434.38 130.24 435.63 126.4 435.3 C122.56 434.97 122.88 435.38 120.6 431.9 C118.32 428.42 118.98 428.95 118.8 423.7 C118.62 418.45 118.08 418.57 120 414.4 Z" fill="#e6e6e6" filter="url(#er0)"/>
<path d="M120 414.4 C121.92 410.23 121.18 411.18 125.2 409.8 C129.22 408.42 128.51 410.85 133.4 409.8 C138.29 408.75 136.61 408.4 141.5 406.3 C146.39 404.2 146.22 406.28 149.7 402.8 C153.18 399.32 151.36 398.54 153.1 394.7 C154.84 390.86 151.99 391.23 155.5 390 C159.01 388.77 158.53 390.6 164.8 390.6 C171.07 390.6 171.54 388.77 176.4 390 C181.26 391.23 179.44 390.5 181 394.7 C182.56 398.9 179.5 400.19 181.6 404 C183.7 407.81 183.62 405.33 188 407.4 C192.38 409.47 193.05 408.11 196.2 410.9 C199.35 413.69 198.86 412.86 198.5 416.7 C198.14 420.54 197.46 418.81 195 423.7 C192.54 428.59 193.45 427.42 190.3 433 C187.15 438.58 187.98 437.41 184.5 442.3 C181.02 447.19 182.54 445.97 178.7 449.3 C174.86 452.63 175.87 452.71 171.7 453.4 C167.53 454.09 168.28 454.21 164.8 451.6 C161.32 448.99 162.89 448.54 160.1 444.7 C157.31 440.86 159.34 442.31 155.5 438.8 C151.66 435.29 152.19 435.43 147.3 433 C142.41 430.57 143.37 430.7 139.2 430.7 C135.03 430.7 137.24 431.62 133.4 433 C129.56 434.38 130.24 435.63 126.4 435.3 C122.56 434.97 122.88 435.38 120.6 431.9 C118.32 428.42 118.98 428.95 118.8 423.7 C118.62 418.45 118.08 418.57 120 414.4 Z" fill="url(#rg24)" filter="url(#er1)"/>
<path d="M122.9 415 C126.32 410.5 126.62 413.65 133.4 412 C140.18 410.35 140.28 408.6 145.5 409.5 C150.72 410.4 149.21 410.95 150.8 415 C152.39 419.05 152.18 418.65 150.8 423 C149.42 427.35 150.79 428 146.2 429.5 C141.61 431 141.41 427.55 135.5 428 C129.59 428.45 130.55 431.3 126.5 431 C122.45 430.7 123.08 431.8 122 427 C120.92 422.2 119.48 419.5 122.9 415 Z" fill="#a8a8a8" filter="url(#bl5)"/>
<path d="M156.5 393.5 C160.1 389.9 163.9 392.7 170.5 393 C177.1 393.3 175.8 391.5 178.5 394.5 C181.2 397.5 181.9 399.7 179.5 403 C177.1 406.3 176.8 404.9 170.5 405.5 C164.2 406.1 162.7 408.6 158.5 405 C154.3 401.4 152.9 397.1 156.5 393.5 Z" fill="#8c8c8c" filter="url(#bl6)"/>
<path d="M183.98 427.93 C184.49 432.4 184.73 430.57 183.64 434.84 C182.56 439.11 183.39 437.92 180.72 440.74 C178.04 443.56 179.04 442.79 175.62 443.29 C172.2 443.8 173.66 443.37 170.46 442.24 C167.26 441.11 169.02 441.84 166.01 439.91 C163.01 437.98 164.05 439.7 161.46 436.46 C158.86 433.21 159.02 434.72 158.22 430.18 C157.42 425.63 157.37 426.86 159.06 422.82 C160.75 418.79 160.27 420.32 163.3 418.07 C166.33 415.81 164.92 416.98 168.15 416.05 C171.37 415.13 169.67 415.06 172.98 415.3 C176.29 415.53 175.04 414.72 178.08 416.76 C181.12 418.81 180.15 417.7 182.12 421.42 C184.08 425.14 183.47 423.45 183.98 427.93 Z" fill="url(#rg25)" stroke="#c0c0c0" stroke-width="0.9"/>
<path d="M180.67 427.85 C181.46 430.95 181.6 429.94 180.87 433.08 C180.14 436.21 180.48 435.22 178.48 437.25 C176.49 439.29 177.34 438.51 174.89 439.18 C172.43 439.85 173.53 439.86 171.12 439.26 C168.7 438.66 169.6 439.24 167.64 437.39 C165.69 435.53 166.43 436.4 165.26 433.71 C164.09 431.01 164.58 432.37 164.14 429.29 C163.69 426.21 163.52 427.71 163.92 424.47 C164.32 421.23 163.68 422.1 165.34 419.58 C167.01 417.06 166.37 417.46 168.92 416.91 C171.46 416.35 170.63 416.63 172.98 417.92 C175.34 419.21 174.15 418.82 175.98 420.76 C177.82 422.71 176.93 421.4 178.49 423.76 C180.06 426.12 179.88 424.74 180.67 427.85 Z" fill="url(#rg26)" stroke="#c0c0c0" stroke-width="0.9"/>
<path d="M177.93 427.79 C178.52 429.93 178.73 429.1 178.45 431.42 C178.17 433.74 178.45 433.2 177.09 434.75 C175.73 436.29 176.19 435.77 174.38 436.06 C172.57 436.34 173.36 436.19 171.67 435.6 C169.97 435.01 170.73 435.49 169.3 434.28 C167.88 433.08 168.33 433.82 167.39 431.99 C166.44 430.16 166.7 430.99 166.47 428.79 C166.23 426.6 166.22 427.59 166.67 425.41 C167.13 423.22 166.69 424.03 167.83 422.25 C168.98 420.47 168.38 420.76 170.11 420.07 C171.83 419.38 171.29 419.41 173 420.18 C174.72 420.94 174.03 420.76 175.25 422.36 C176.48 423.96 175.78 423.17 176.67 424.98 C177.56 426.79 177.33 425.64 177.93 427.79 Z" fill="url(#rg27)" stroke="#c0c0c0" stroke-width="0.9"/>
<path d="M175.8 427.71 C175.95 429.06 176.07 428.37 175.93 429.76 C175.78 431.15 176.04 430.75 175.36 431.88 C174.68 433.01 174.97 432.73 173.88 433.14 C172.79 433.55 173.22 433.44 172.09 433.11 C170.95 432.78 171.41 433.03 170.48 432.15 C169.55 431.26 169.83 431.74 169.3 430.46 C168.77 429.18 168.91 429.7 168.89 428.32 C168.87 426.93 168.88 427.57 169.24 426.3 C169.6 425.04 169.32 425.64 169.97 424.51 C170.61 423.39 170.16 423.62 171.17 422.91 C172.18 422.2 171.83 422.15 173 422.38 C174.16 422.62 173.85 422.5 174.68 423.62 C175.51 424.73 175.12 424.36 175.5 425.73 C175.87 427.09 175.66 426.37 175.8 427.71 Z" fill="url(#rg28)" stroke="#c0c0c0" stroke-width="0.9"/>
<path d="M174.77 427.58 C174.83 428.35 174.88 428.08 174.65 428.76 C174.42 429.43 174.52 429.2 174.07 429.61 C173.62 430.02 173.82 429.81 173.29 429.98 C172.77 430.15 173.07 430.11 172.5 430.11 C171.93 430.12 172.16 430.29 171.58 430 C171.01 429.7 171.11 429.9 170.76 429.22 C170.41 428.54 170.49 428.74 170.53 427.95 C170.58 427.16 170.6 427.47 170.91 426.84 C171.21 426.22 171.06 426.54 171.45 426.07 C171.84 425.6 171.58 425.74 172.08 425.43 C172.57 425.11 172.35 425.1 172.93 425.13 C173.51 425.17 173.31 425.09 173.82 425.52 C174.33 425.95 174.14 425.75 174.46 426.43 C174.78 427.12 174.71 426.8 174.77 427.58 Z" fill="url(#rg29)" stroke="#c0c0c0" stroke-width="0.9"/>
<path d="M315.2 356.5 C317.09 353.65 316.71 354.44 322.8 353.3 C328.89 352.16 328.63 352.13 335.5 352.7 C342.37 353.27 340.36 355.2 345.7 355.2 C351.04 355.2 350.27 351.17 353.3 352.7 C356.33 354.23 352.38 356.13 355.8 360.3 C359.22 364.47 360.89 363.18 364.7 366.6 C368.51 370.02 368.89 369.39 368.5 371.7 C368.11 374.01 366.82 372.77 363.4 374.3 C359.98 375.83 359.77 374.52 357.1 376.8 C354.43 379.08 356.42 378.48 354.5 381.9 C352.58 385.32 355.62 385.92 350.7 388.2 C345.78 390.48 344.94 389.11 338.1 389.5 C331.26 389.89 332.1 391.42 327.9 389.5 C323.7 387.58 326.77 388.05 324.1 383.1 C321.43 378.15 321.28 379.09 319 373 C316.72 366.91 317.64 367.75 316.5 362.8 C315.36 357.85 313.31 359.35 315.2 356.5 Z" fill="#000" stroke="#000" stroke-width="1.2" stroke-linejoin="round"/>
<path d="M320.5 359 C322.3 353.9 322.5 356.75 328.5 356 C334.5 355.25 333.9 355.9 340.5 356.5 C347.1 357.1 346.3 354.85 350.5 358 C354.7 361.15 354.2 361.3 354.5 367 C354.8 372.7 354.2 372.2 351.5 377 C348.8 381.8 350.3 380.6 345.5 383 C340.7 385.4 341.2 385.3 335.5 385 C329.8 384.7 330.4 385.6 326.5 382 C322.6 378.4 324.3 379.9 322.5 373 C320.7 366.1 318.7 364.1 320.5 359 Z" fill="url(#rg30)" filter="url(#bl3)"/>
<path d="M325.4 388.5 C334.52 385.5 348.77 387.67 359.6 391 C370.43 394.33 364.17 395.4 361.5 399.6 C358.83 403.8 357.72 403.38 350.7 405 C343.68 406.62 344.55 406.2 338.1 405 C331.65 403.8 333.01 405.95 329.2 401 C325.39 396.05 316.28 391.5 325.4 388.5 Z" fill="#000"/>
<path d="M337.5 393 C338.7 390.45 341.4 390.4 343.5 392.5 C345.6 394.6 345.7 397.45 344.5 400 C343.3 402.55 341.6 403.1 339.5 401 C337.4 398.9 336.3 395.55 337.5 393 Z" fill="#9a9a9a" filter="url(#bl7)"/>
<path d="M325.4 406 C327.68 402.19 321.44 404.18 331.7 403.4 C341.96 402.62 350.09 405.68 359.6 403.4 C369.11 401.12 361.87 399.97 363.4 395.8 C364.93 391.63 360.89 391.21 364.7 389.5 C368.51 387.79 369.62 388.21 376.1 390.1 C382.58 391.99 380.96 391.42 386.3 395.8 C391.64 400.18 388.2 400.89 393.9 404.7 C399.6 408.51 399.6 405.47 405.3 408.5 C411 411.53 411.01 410.24 412.9 414.8 C414.79 419.36 415.02 418.75 411.6 423.7 C408.18 428.65 407.59 426.35 401.5 431.3 C395.41 436.25 396.64 434.47 391.3 440.2 C385.96 445.93 388.26 445.84 383.7 450.4 C379.14 454.96 381.05 455.04 376.1 455.4 C371.15 455.76 372.15 454.63 367.2 451.6 C362.25 448.57 364.55 449.11 359.6 445.3 C354.65 441.49 356.4 441.57 350.7 438.9 C345 436.23 345.52 436.37 340.6 436.4 C335.68 436.43 338.86 439.75 334.3 439 C329.74 438.25 328.85 437.71 325.4 433.9 C321.95 430.09 323.19 431.64 322.8 426.3 C322.41 420.96 323.32 422.19 324.1 416.1 C324.88 410.01 323.12 409.81 325.4 406 Z" fill="#000" stroke="#000" stroke-width="2.2" stroke-linejoin="round"/>
<path d="M325.4 406 C327.68 402.19 321.44 404.18 331.7 403.4 C341.96 402.62 350.09 405.68 359.6 403.4 C369.11 401.12 361.87 399.97 363.4 395.8 C364.93 391.63 360.89 391.21 364.7 389.5 C368.51 387.79 369.62 388.21 376.1 390.1 C382.58 391.99 380.96 391.42 386.3 395.8 C391.64 400.18 388.2 400.89 393.9 404.7 C399.6 408.51 399.6 405.47 405.3 408.5 C411 411.53 411.01 410.24 412.9 414.8 C414.79 419.36 415.02 418.75 411.6 423.7 C408.18 428.65 407.59 426.35 401.5 431.3 C395.41 436.25 396.64 434.47 391.3 440.2 C385.96 445.93 388.26 445.84 383.7 450.4 C379.14 454.96 381.05 455.04 376.1 455.4 C371.15 455.76 372.15 454.63 367.2 451.6 C362.25 448.57 364.55 449.11 359.6 445.3 C354.65 441.49 356.4 441.57 350.7 438.9 C345 436.23 345.52 436.37 340.6 436.4 C335.68 436.43 338.86 439.75 334.3 439 C329.74 438.25 328.85 437.71 325.4 433.9 C321.95 430.09 323.19 431.64 322.8 426.3 C322.41 420.96 323.32 422.19 324.1 416.1 C324.88 410.01 323.12 409.81 325.4 406 Z" fill="#e6e6e6" filter="url(#er0)"/>
<path d="M325.4 406 C327.68 402.19 321.44 404.18 331.7 403.4 C341.96 402.62 350.09 405.68 359.6 403.4 C369.11 401.12 361.87 399.97 363.4 395.8 C364.93 391.63 360.89 391.21 364.7 389.5 C368.51 387.79 369.62 388.21 376.1 390.1 C382.58 391.99 380.96 391.42 386.3 395.8 C391.64 400.18 388.2 400.89 393.9 404.7 C399.6 408.51 399.6 405.47 405.3 408.5 C411 411.53 411.01 410.24 412.9 414.8 C414.79 419.36 415.02 418.75 411.6 423.7 C408.18 428.65 407.59 426.35 401.5 431.3 C395.41 436.25 396.64 434.47 391.3 440.2 C385.96 445.93 388.26 445.84 383.7 450.4 C379.14 454.96 381.05 455.04 376.1 455.4 C371.15 455.76 372.15 454.63 367.2 451.6 C362.25 448.57 364.55 449.11 359.6 445.3 C354.65 441.49 356.4 441.57 350.7 438.9 C345 436.23 345.52 436.37 340.6 436.4 C335.68 436.43 338.86 439.75 334.3 439 C329.74 438.25 328.85 437.71 325.4 433.9 C321.95 430.09 323.19 431.64 322.8 426.3 C322.41 420.96 323.32 422.19 324.1 416.1 C324.88 410.01 323.12 409.81 325.4 406 Z" fill="url(#rg31)" filter="url(#er1)"/>
<path d="M326.5 409 C330.4 402.4 333.3 407.3 340.5 407 C347.7 406.7 347.2 403.5 350.5 408 C353.8 412.5 353 414.8 351.5 422 C350 429.2 350.3 428.7 345.5 432 C340.7 435.3 340.9 433.9 335.5 433 C330.1 432.1 330.2 436.2 327.5 429 C324.8 421.8 322.6 415.6 326.5 409 Z" fill="#a8a8a8" filter="url(#bl6)"/>
<path d="M365.5 394 C369.1 391 371.5 391.5 377.5 393 C383.5 394.5 382.2 395.4 385.5 399 C388.8 402.6 392.1 402.9 388.5 405 C384.9 407.1 380.4 406.6 373.5 406 C366.6 405.4 367.9 406.6 365.5 403 C363.1 399.4 361.9 397 365.5 394 Z" fill="#8a8a8a" filter="url(#bl6)"/>
<ellipse cx="330.4" cy="431.3" rx="4" ry="3.5" fill="#000"/>
<ellipse cx="338.5" cy="410" rx="1.5" ry="2" fill="#fff"/>
<path d="M398.3 421.66 C399.75 425.77 399.97 424.11 398.43 428.54 C396.9 432.97 397.64 431.41 393.71 434.95 C389.77 438.49 391.45 436.72 386.64 439.16 C381.84 441.6 384.69 440.48 379.29 442.26 C373.89 444.05 376.34 444.34 370.44 444.51 C364.54 444.68 365.7 445.52 361.59 442.78 C357.47 440.04 358.37 440.88 358.09 436.3 C357.8 431.72 358.37 433.38 360.74 429.04 C363.1 424.69 361.99 426.99 365.17 423.26 C368.36 419.53 366.02 421.07 370.3 417.85 C374.59 414.63 372.47 415.19 378.03 413.6 C383.59 412 381.62 412.19 386.97 413.06 C392.32 413.94 390.31 413.36 394.09 416.23 C397.87 419.1 396.86 417.56 398.3 421.66 Z" fill="url(#rg32)" stroke="#c0c0c0" stroke-width="0.9"/>
<path d="M391.1 424.54 C392.2 427.21 392.04 426.04 391.54 429.07 C391.03 432.09 391.47 430.72 389.58 433.62 C387.69 436.53 388.97 435.45 385.87 437.77 C382.76 440.1 384.16 439.81 380.27 440.61 C376.38 441.4 377.45 441.49 374.19 440.16 C370.93 438.83 372.18 439.16 370.49 436.62 C368.79 434.08 369.93 435.24 369.11 432.55 C368.28 429.86 368.28 431.55 368.01 428.55 C367.75 425.55 366.87 426.73 368.3 423.54 C369.74 420.35 368.9 421 372.32 418.97 C375.74 416.95 374.66 417.56 378.56 417.46 C382.47 417.36 380.82 417.48 384.04 418.68 C387.26 419.88 385.88 419.1 388.23 421.05 C390.58 423.01 389.99 421.87 391.1 424.54 Z" fill="url(#rg33)" stroke="#c0c0c0" stroke-width="0.9"/>
<path d="M386.95 426.2 C387.33 428.23 387.28 427.02 387.29 429.1 C387.31 431.18 387.91 430.28 387 432.45 C386.1 434.61 386.74 434.11 384.58 435.6 C382.42 437.09 383.19 436.68 380.53 436.92 C377.88 437.16 378.95 437.11 376.62 436.31 C374.29 435.51 375.16 436.04 373.54 434.52 C371.91 433 372.31 433.76 371.74 431.74 C371.17 429.73 371.32 430.57 371.82 428.48 C372.33 426.39 372.04 427.42 373.26 425.47 C374.48 423.52 373.55 424.33 375.49 422.62 C377.43 420.92 376.45 421.09 379.08 420.36 C381.71 419.62 381.03 419.52 383.4 420.41 C385.76 421.3 384.98 421.09 386.17 423.02 C387.35 424.95 386.58 424.18 386.95 426.2 Z" fill="url(#rg34)" stroke="#c0c0c0" stroke-width="0.9"/>
<path d="M385.88 426.71 C386.69 427.97 386.67 427.59 386.32 429.1 C385.97 430.61 386.04 430.13 384.83 431.24 C383.61 432.36 384.09 431.8 382.67 432.44 C381.24 433.08 382.02 432.85 380.56 433.15 C379.09 433.46 379.74 433.57 378.27 433.35 C376.81 433.13 377.29 433.37 376.16 432.49 C375.03 431.62 375.42 432.04 374.87 430.72 C374.32 429.4 374.38 430.01 374.51 428.52 C374.65 427.04 374.35 427.53 375.28 426.25 C376.21 424.98 375.82 425.3 377.31 424.69 C378.79 424.07 378.24 424.37 379.74 424.4 C381.24 424.44 380.42 424.48 381.81 424.79 C383.19 425.09 382.54 424.68 383.9 425.33 C385.26 425.97 385.08 425.46 385.88 426.71 Z" fill="url(#rg35)" stroke="#c0c0c0" stroke-width="0.9"/>
<path d="M382.85 427.93 C382.92 428.6 382.83 428.33 382.62 428.95 C382.42 429.57 382.53 429.21 382.23 429.79 C381.92 430.37 382.22 430.15 381.72 430.68 C381.21 431.21 381.47 431.18 380.72 431.39 C379.98 431.6 380.18 431.6 379.49 431.31 C378.8 431.03 379.05 431.1 378.65 430.53 C378.25 429.95 378.45 430.22 378.29 429.59 C378.12 428.96 378.12 429.28 378.17 428.64 C378.21 428.01 378.09 428.26 378.43 427.67 C378.76 427.09 378.58 427.3 379.17 426.9 C379.77 426.5 379.47 426.64 380.2 426.48 C380.93 426.32 380.63 426.27 381.36 426.42 C382.09 426.57 381.91 426.42 382.4 426.92 C382.9 427.42 382.77 427.25 382.85 427.93 Z" fill="url(#rg36)" stroke="#c0c0c0" stroke-width="0.9"/>
<path d="M515.3 359 C516.65 355.22 514.54 355.89 519.1 354 C523.66 352.11 522.13 352.91 530.5 352.7 C538.87 352.49 538.27 352.55 547 353.3 C555.73 354.05 553.9 353.49 559.6 355.2 C565.3 356.91 563.33 355.58 566 359 C568.67 362.42 564.69 363.18 568.5 366.6 C572.31 370.02 573.75 367.73 578.7 370.4 C583.65 373.07 582.33 370.91 585 375.5 C587.67 380.09 584.93 381.14 587.6 385.7 C590.27 390.26 588.59 386.89 593.9 390.7 C599.21 394.51 599.96 394.59 605.3 398.4 C610.64 402.21 609.21 398.09 611.7 403.4 C614.19 408.71 614.38 409.23 613.6 416.1 C612.82 422.97 612.73 420.21 609.1 426.3 C605.47 432.39 606.06 430.7 601.5 436.4 C596.94 442.1 598.46 441.88 593.9 445.3 C589.34 448.72 591.64 448.19 586.3 447.8 C580.96 447.41 582.19 447.03 576.1 444 C570.01 440.97 572.09 440.37 566 437.7 C559.91 435.03 564.56 436.24 555.8 435.1 C547.04 433.96 545.17 434.65 536.8 433.9 C528.43 433.15 531.5 434.88 527.9 432.6 C524.3 430.32 525.55 431.25 524.8 426.3 C524.05 421.35 524.47 422.58 525.4 416.1 C526.33 409.62 528.29 410.4 527.9 404.7 C527.51 399 525.99 402.05 524.1 397.1 C522.21 392.15 523.49 393.9 521.6 388.2 C519.71 382.5 519.9 384.58 517.8 378.1 C515.7 371.62 515.35 372.33 514.6 366.6 C513.85 360.87 513.95 362.78 515.3 359 Z" fill="#000" stroke="#000" stroke-width="2" stroke-linejoin="round"/>
<path d="M518.3 360 C519.2 354.3 518.1 357.35 522.3 356 C526.5 354.65 525.1 355.5 532.3 355.5 C539.5 355.5 538.5 355.25 546.3 356 C554.1 356.75 553.2 355.6 558.3 358 C563.4 360.4 561.5 358.3 563.3 364 C565.1 369.7 564.3 368.6 564.3 377 C564.3 385.4 563.3 384.2 563.3 392 C563.3 399.8 568.2 399.4 564.3 403 C560.4 406.6 559.9 404 550.3 404 C540.7 404 539.2 405.1 532.3 403 C525.4 400.9 530 401.8 527.3 397 C524.6 392.2 525.7 393.6 523.3 387 C520.9 380.4 520.8 383.1 519.3 375 C517.8 366.9 517.4 365.7 518.3 360 Z" fill="url(#rg37)" filter="url(#bl2)"/>
<path d="M540.3 389 C543.9 384.8 545.7 387 552.3 387 C558.9 387 558.7 384.8 562.3 389 C565.9 393.2 567.3 396.8 564.3 401 C561.3 405.2 559.5 403 552.3 403 C545.1 403 543.9 405.2 540.3 401 C536.7 396.8 536.7 393.2 540.3 389 Z" fill="#8a8a8a" filter="url(#bl8)"/>
<path d="M566.3 377 C568.1 371.6 570.3 373 573.3 376 C576.3 379 576 381.6 576.3 387 C576.6 392.4 577 391.9 574.3 394 C571.6 396.1 569.7 399.1 567.3 394 C564.9 388.9 564.5 382.4 566.3 377 Z" fill="#999" filter="url(#bl9)"/>
<ellipse cx="577.4" cy="384.4" rx="2.2" ry="3.6" fill="#fff"/>
<ellipse cx="580.6" cy="376.2" rx="1.3" ry="1.3" fill="#ddd"/>
<ellipse cx="541.7" cy="388.8" rx="1.2" ry="1.2" fill="#000"/>
<ellipse cx="563.5" cy="391.5" rx="2.2" ry="1.6" fill="#000"/>
<ellipse cx="533.3" cy="401" rx="3.5" ry="2" fill="#000"/>
<path d="M526.8 407 C536.7 403.1 549.05 406.3 560.3 406 C571.55 405.7 552.3 406 564.3 406 C576.3 406 586.5 405.4 600.3 406 C614.1 406.6 607 404.7 610.3 408 C613.6 411.3 612.5 411.3 611.3 417 C610.1 422.7 610.2 421 606.3 427 C602.4 433 603.1 431.9 598.3 437 C593.5 442.1 594.5 441.6 590.3 444 C586.1 446.4 588.5 445.9 584.3 445 C580.1 444.1 581.7 444 576.3 441 C570.9 438 572.6 437.55 566.3 435 C560 432.45 564.3 433.55 555.3 432.5 C546.3 431.45 544.4 432.55 536.3 431.5 C528.2 430.45 531 432.75 528.3 429 C525.6 425.25 527.75 425.6 527.3 419 C526.85 412.4 516.9 410.9 526.8 407 Z" fill="url(#rg38)" filter="url(#bl3)"/>
<path d="M606.55 417.46 C607.41 422.45 606.59 420.47 605.17 425.31 C603.75 430.15 604.51 427.36 602.29 431.98 C600.08 436.59 602.35 434.68 598.53 439.14 C594.71 443.61 596.72 443.09 590.83 445.38 C584.94 447.66 586.53 447.48 580.86 446.01 C575.19 444.54 577.27 444.88 573.81 440.97 C570.36 437.06 572.04 438.82 570.49 434.28 C568.94 429.74 569.03 432.15 569.15 427.34 C569.28 422.53 568.39 424.5 570.87 419.84 C573.34 415.17 571.97 416.9 576.58 413.34 C581.19 409.79 578.9 411.07 584.7 409.17 C590.5 407.27 588.02 407.24 593.98 407.63 C599.95 408.03 598.4 407.08 602.59 410.36 C606.78 413.63 605.69 412.48 606.55 417.46 Z" fill="url(#rg39)" stroke="#c0c0c0" stroke-width="0.9"/>
<path d="M600.95 420.68 C601.69 423.99 601.19 422.74 600.22 426.01 C599.25 429.28 599.64 427.47 598.04 430.49 C596.44 433.5 597.92 432.13 595.42 435.06 C592.92 438 594.38 437.64 590.54 439.28 C586.7 440.92 587.73 440.9 583.91 439.99 C580.09 439.09 581.37 439.29 579.09 436.56 C576.81 433.84 577.99 434.95 577.07 431.81 C576.16 428.67 576.3 430.37 576.35 427.14 C576.39 423.91 575.73 425.29 577.22 422.12 C578.71 418.96 577.79 420.03 580.81 417.64 C583.82 415.25 582.41 416.09 586.25 414.96 C590.09 413.82 588.42 413.87 592.33 414.24 C596.25 414.61 595.13 413.92 598 416.06 C600.87 418.21 600.21 417.36 600.95 420.68 Z" fill="url(#rg40)" stroke="#c0c0c0" stroke-width="0.9"/>
<path d="M597.12 422.86 C598.7 424.71 598.64 424.01 598.6 426.52 C598.56 429.02 598.62 428.26 597 430.37 C595.37 432.48 595.99 431.58 593.72 432.84 C591.45 434.11 592.59 433.65 590.2 434.16 C587.81 434.67 588.85 434.77 586.54 434.39 C584.23 434 585.1 434.35 583.26 433 C581.43 431.66 582.18 432.37 581.04 430.35 C579.91 428.34 580.11 429.4 579.86 426.96 C579.62 424.52 579.19 425.38 580.31 423.03 C581.43 420.68 580.88 421.2 583.21 419.91 C585.54 418.62 584.8 419.13 587.31 419.16 C589.82 419.19 588.56 419.39 590.74 419.99 C592.93 420.59 591.74 420.01 593.87 420.96 C595.99 421.92 595.54 421.01 597.12 422.86 Z" fill="url(#rg41)" stroke="#c0c0c0" stroke-width="0.9"/>
<path d="M594.88 424.18 C595.8 425.48 595.69 425.06 595.47 426.71 C595.25 428.35 595.3 427.77 594.21 429.11 C593.13 430.45 593.62 429.85 592.21 430.73 C590.81 431.61 591.54 431.36 589.99 431.75 C588.44 432.14 589.09 432.16 587.57 431.9 C586.05 431.65 586.67 431.84 585.44 430.97 C584.21 430.11 584.7 430.62 583.87 429.31 C583.05 428.01 583.11 428.68 582.97 427.07 C582.83 425.45 582.58 425.94 583.46 424.47 C584.34 423 584.03 423.39 585.61 422.67 C587.19 421.94 586.61 422.36 588.2 422.3 C589.79 422.24 588.89 422.32 590.39 422.49 C591.89 422.66 591.2 422.24 592.7 422.81 C594.2 423.37 593.96 422.88 594.88 424.18 Z" fill="url(#rg42)" stroke="#c0c0c0" stroke-width="0.9"/>
<ellipse cx="542.5" cy="422.5" rx="10.8" ry="5" fill="url(#rg43)" stroke="#d0d0d0" stroke-width="0.9" transform="rotate(-3 542.5 422.5)"/>
<ellipse cx="542.5" cy="422.5" rx="9.5" ry="4" fill="#b0b0b0" transform="rotate(-3 542.5 422.5)" filter="url(#bl10)"/>
<path d="M735.4 362.8 C736.75 361.09 735.94 360.9 740.5 360.9 C745.06 360.9 745.86 360.7 750.6 362.8 C755.34 364.9 754.38 363.88 756.3 367.9 C758.22 371.92 759.85 373.92 757 376.2 C754.15 378.48 751.75 377.24 746.8 375.5 C741.85 373.76 743.74 373.07 740.5 370.4 C737.26 367.73 737.53 368.88 736 366.6 C734.47 364.32 734.05 364.51 735.4 362.8 Z" fill="#000" stroke="#000" stroke-width="1" stroke-linejoin="round"/>
<path d="M731.6 421.2 C733.13 418.17 732.14 419.68 736.7 417.4 C741.26 415.12 742.99 415.13 746.8 413.6 C750.61 412.07 744.45 413.83 749.4 412.3 C754.35 410.77 757.99 411.53 763.3 408.5 C768.61 405.47 762.54 406.4 767.1 402.2 C771.66 398 773.55 398.31 778.5 394.5 C783.45 390.69 779.79 389.86 783.6 389.5 C787.41 389.14 787.39 389.49 791.2 393.3 C795.01 397.11 789.82 399.17 796.3 402.2 C802.78 405.23 806.32 401.51 812.8 403.4 C819.28 405.29 816.01 404.69 817.9 408.5 C819.79 412.31 819.88 411.9 819.1 416.1 C818.32 420.3 819.11 418.69 815.3 422.5 C811.49 426.31 810.57 424.63 806.4 428.8 C802.23 432.97 804.43 430.31 801.4 436.4 C798.37 442.49 799.72 442.62 796.3 449.1 C792.88 455.58 794.56 456.11 790 458 C785.44 459.89 786.44 457.68 781.1 455.4 C775.76 453.12 777.15 453.82 772.2 450.4 C767.25 446.98 769.55 448.2 764.6 444 C759.65 439.8 761.4 439.43 755.7 436.4 C750 433.37 751.69 435.04 745.6 433.9 C739.51 432.76 739.6 434.52 735.4 432.6 C731.2 430.68 732.74 430.92 731.6 427.5 C730.46 424.08 730.07 424.23 731.6 421.2 Z" fill="#000" stroke="#000" stroke-width="2.2" stroke-linejoin="round"/>
<path d="M731.6 421.2 C733.13 418.17 732.14 419.68 736.7 417.4 C741.26 415.12 742.99 415.13 746.8 413.6 C750.61 412.07 744.45 413.83 749.4 412.3 C754.35 410.77 757.99 411.53 763.3 408.5 C768.61 405.47 762.54 406.4 767.1 402.2 C771.66 398 773.55 398.31 778.5 394.5 C783.45 390.69 779.79 389.86 783.6 389.5 C787.41 389.14 787.39 389.49 791.2 393.3 C795.01 397.11 789.82 399.17 796.3 402.2 C802.78 405.23 806.32 401.51 812.8 403.4 C819.28 405.29 816.01 404.69 817.9 408.5 C819.79 412.31 819.88 411.9 819.1 416.1 C818.32 420.3 819.11 418.69 815.3 422.5 C811.49 426.31 810.57 424.63 806.4 428.8 C802.23 432.97 804.43 430.31 801.4 436.4 C798.37 442.49 799.72 442.62 796.3 449.1 C792.88 455.58 794.56 456.11 790 458 C785.44 459.89 786.44 457.68 781.1 455.4 C775.76 453.12 777.15 453.82 772.2 450.4 C767.25 446.98 769.55 448.2 764.6 444 C759.65 439.8 761.4 439.43 755.7 436.4 C750 433.37 751.69 435.04 745.6 433.9 C739.51 432.76 739.6 434.52 735.4 432.6 C731.2 430.68 732.74 430.92 731.6 427.5 C730.46 424.08 730.07 424.23 731.6 421.2 Z" fill="#e6e6e6" filter="url(#er0)"/>
<path d="M731.6 421.2 C733.13 418.17 732.14 419.68 736.7 417.4 C741.26 415.12 742.99 415.13 746.8 413.6 C750.61 412.07 744.45 413.83 749.4 412.3 C754.35 410.77 757.99 411.53 763.3 408.5 C768.61 405.47 762.54 406.4 767.1 402.2 C771.66 398 773.55 398.31 778.5 394.5 C783.45 390.69 779.79 389.86 783.6 389.5 C787.41 389.14 787.39 389.49 791.2 393.3 C795.01 397.11 789.82 399.17 796.3 402.2 C802.78 405.23 806.32 401.51 812.8 403.4 C819.28 405.29 816.01 404.69 817.9 408.5 C819.79 412.31 819.88 411.9 819.1 416.1 C818.32 420.3 819.11 418.69 815.3 422.5 C811.49 426.31 810.57 424.63 806.4 428.8 C802.23 432.97 804.43 430.31 801.4 436.4 C798.37 442.49 799.72 442.62 796.3 449.1 C792.88 455.58 794.56 456.11 790 458 C785.44 459.89 786.44 457.68 781.1 455.4 C775.76 453.12 777.15 453.82 772.2 450.4 C767.25 446.98 769.55 448.2 764.6 444 C759.65 439.8 761.4 439.43 755.7 436.4 C750 433.37 751.69 435.04 745.6 433.9 C739.51 432.76 739.6 434.52 735.4 432.6 C731.2 430.68 732.74 430.92 731.6 427.5 C730.46 424.08 730.07 424.23 731.6 421.2 Z" fill="url(#rg44)" filter="url(#er1)"/>
<path d="M735.5 421 C738.2 417.4 740.9 418.8 747.5 417 C754.1 415.2 753 415 757.5 415 C762 415 761.6 413.4 762.5 417 C763.4 420.6 763.5 423.4 760.5 427 C757.5 430.6 759.1 428.4 752.5 429 C745.9 429.6 743.6 431.4 738.5 429 C733.4 426.6 732.8 424.6 735.5 421 Z" fill="#ababab" filter="url(#bl11)"/>
<path d="M768.5 404 C770.3 401.6 773.7 400.7 778.5 398 C783.3 395.3 780.3 394.7 784.5 395 C788.7 395.3 789.2 395.85 792.5 399 C795.8 402.15 801.5 403.4 795.5 405.5 C789.5 407.6 780.6 406.45 772.5 406 C764.4 405.55 766.7 406.4 768.5 404 Z" fill="#000"/>
<path d="M797.49 426.58 C797.19 430.23 797.27 428.22 796.32 431.56 C795.37 434.9 796.6 433.41 794.64 436.6 C792.67 439.79 794 439.14 790.42 441.13 C786.85 443.13 788.13 442.77 783.91 442.58 C779.68 442.38 781.3 442.56 777.75 440.55 C774.21 438.53 775.49 439.63 773.27 436.53 C771.05 433.42 771.46 434.84 771.09 431.24 C770.72 427.63 770.65 429.01 772.16 425.72 C773.67 422.43 773.01 424 775.62 421.37 C778.23 418.75 776.57 419.93 780 417.85 C783.42 415.77 781.6 415.83 785.89 415.13 C790.17 414.43 789.06 413.92 792.84 415.75 C796.61 417.58 795.66 417.01 797.21 420.62 C798.76 424.23 797.79 422.93 797.49 426.58 Z" fill="url(#rg45)" stroke="#c0c0c0" stroke-width="0.9"/>
<path d="M794.27 427.15 C793.92 429.57 793.93 428.31 793.01 430.46 C792.1 432.6 793 431.55 791.52 433.58 C790.05 435.6 791.09 435.15 788.6 436.53 C786.1 437.91 787.02 437.71 784.03 437.72 C781.04 437.73 782.15 437.81 779.62 436.57 C777.1 435.32 778.03 435.98 776.46 433.98 C774.9 431.98 775.18 432.91 774.93 430.56 C774.67 428.21 774.56 429.08 775.7 426.92 C776.85 424.76 776.38 425.73 778.35 424.08 C780.33 422.42 779.17 423.24 781.63 421.96 C784.09 420.67 782.72 420.78 785.73 420.23 C788.75 419.68 787.91 419.31 790.68 420.29 C793.45 421.28 792.86 420.89 794.06 423.18 C795.25 425.46 794.62 424.72 794.27 427.15 Z" fill="url(#rg46)" stroke="#c0c0c0" stroke-width="0.9"/>
<path d="M791.71 427.6 C791.68 429.4 791.84 428.44 791.35 430.14 C790.86 431.84 791.46 431.18 790.24 432.7 C789.03 434.21 789.68 433.81 787.69 434.69 C785.71 435.57 786.54 435.32 784.28 435.34 C782.02 435.35 782.94 435.53 780.91 434.73 C778.89 433.94 779.44 434.47 778.2 432.95 C776.96 431.43 777.17 432 777.19 430.16 C777.21 428.32 777.27 429.02 778.26 427.42 C779.25 425.81 778.8 426.7 780.15 425.34 C781.5 423.98 780.51 424.53 782.31 423.34 C784.11 422.16 783.23 422.15 785.56 421.79 C787.89 421.42 787.34 421.27 789.3 422.25 C791.25 423.24 790.63 422.97 791.44 424.75 C792.24 426.54 791.74 425.8 791.71 427.6 Z" fill="url(#rg47)" stroke="#c0c0c0" stroke-width="0.9"/>
<path d="M790.01 427.9 C790.31 429.21 790.4 428.79 789.83 430.01 C789.27 431.24 789.45 430.82 788.32 431.57 C787.19 432.32 787.67 431.88 786.44 432.26 C785.21 432.65 785.96 432.52 784.63 432.73 C783.29 432.94 783.86 433.19 782.44 432.89 C781.02 432.59 781.28 432.89 780.38 431.83 C779.47 430.77 779.69 431.08 779.73 429.71 C779.76 428.34 779.83 428.88 780.49 427.71 C781.15 426.55 780.79 427.12 781.7 426.21 C782.61 425.3 782.04 425.59 783.21 424.99 C784.37 424.4 783.85 424.47 785.2 424.43 C786.56 424.38 786.02 424.31 787.27 424.87 C788.52 425.42 788.04 425.07 788.95 426.08 C789.87 427.09 789.72 426.59 790.01 427.9 Z" fill="url(#rg48)" stroke="#c0c0c0" stroke-width="0.9"/>
<path d="M786.75 428.47 C786.86 428.96 786.89 428.75 786.75 429.24 C786.61 429.73 786.7 429.53 786.33 429.94 C785.96 430.34 786.17 430.19 785.65 430.46 C785.12 430.73 785.37 430.71 784.76 430.75 C784.14 430.79 784.31 430.87 783.81 430.58 C783.3 430.3 783.44 430.39 783.23 429.9 C783.02 429.41 783.16 429.6 783.17 429.1 C783.19 428.61 783.18 428.9 783.27 428.41 C783.36 427.92 783.18 428.13 783.45 427.65 C783.71 427.16 783.53 427.23 784.07 426.95 C784.6 426.66 784.44 426.7 785.05 426.78 C785.66 426.86 785.43 426.85 785.89 427.18 C786.35 427.52 786.14 427.36 786.43 427.79 C786.72 428.22 786.65 427.99 786.75 428.47 Z" fill="url(#rg49)" stroke="#c0c0c0" stroke-width="0.9"/>
<line x1="154" y1="338" x2="154" y2="485.5" stroke="#2323d8" stroke-width="1.3"/>
<line x1="91.5" y1="405" x2="239.5" y2="405" stroke="#2323d8" stroke-width="1.3"/>
<line x1="359" y1="338" x2="359" y2="485.5" stroke="#2323d8" stroke-width="1.3"/>
<line x1="296.5" y1="405" x2="444.5" y2="405" stroke="#2323d8" stroke-width="1.3"/>
<line x1="563.8" y1="338" x2="563.8" y2="485.5" stroke="#2323d8" stroke-width="1.3"/>
<line x1="501.3" y1="405" x2="649.3" y2="405" stroke="#2323d8" stroke-width="1.3"/>
<line x1="766" y1="338" x2="766" y2="485.5" stroke="#2323d8" stroke-width="1.3"/>
<line x1="703.5" y1="405" x2="851.5" y2="405" stroke="#2323d8" stroke-width="1.3"/>
<text x="198" y="351.3" font-size="14" text-anchor="end">3.23</text>
<text x="207.5" y="351.3" font-size="14">1.70</text>
<text x="198" y="368.4" font-size="14" text-anchor="end">4.07</text>
<text x="207.5" y="368.4" font-size="14">91.0</text>
<line x1="173" y1="354.7" x2="232" y2="354.7" stroke="#000" stroke-width="1.8"/>
<line x1="203" y1="339.6" x2="203" y2="371.4" stroke="#000" stroke-width="1.8"/>
<text x="403" y="351.3" font-size="14" text-anchor="end">5.71</text>
<text x="412.5" y="351.3" font-size="14">1.84</text>
<text x="403" y="368.4" font-size="14" text-anchor="end">4.40</text>
<text x="412.5" y="368.4" font-size="14">88.0</text>
<line x1="378" y1="354.7" x2="437" y2="354.7" stroke="#000" stroke-width="1.8"/>
<line x1="408" y1="339.6" x2="408" y2="371.4" stroke="#000" stroke-width="1.8"/>
<text x="607.8" y="351.3" font-size="14" text-anchor="end" fill="#e020d8">11.3</text>
<text x="617.3" y="351.3" font-size="14">3.97</text>
<text x="607.8" y="368.4" font-size="14" text-anchor="end">11.1</text>
<text x="617.3" y="368.4" font-size="14">73.6</text>
<line x1="582.8" y1="354.7" x2="641.8" y2="354.7" stroke="#000" stroke-width="1.8"/>
<line x1="612.8" y1="339.6" x2="612.8" y2="371.4" stroke="#000" stroke-width="1.8"/>
<text x="810" y="351.3" font-size="14" text-anchor="end">1.40</text>
<text x="819.5" y="351.3" font-size="14">1.24</text>
<text x="810" y="368.4" font-size="14" text-anchor="end">3.33</text>
<text x="819.5" y="368.4" font-size="14">94.0</text>
<line x1="785" y1="354.7" x2="844" y2="354.7" stroke="#000" stroke-width="1.8"/>
<line x1="815" y1="339.6" x2="815" y2="371.4" stroke="#000" stroke-width="1.8"/>
<line x1="52.9" y1="525" x2="52.9" y2="478.3" stroke="#000" stroke-width="4.6"/>
<path d="M52.9 467.8 L58.65 478.8 L47.15 478.8 Z" fill="#000"/>
<line x1="50.6" y1="521.5" x2="97.9" y2="521.5" stroke="#000" stroke-width="4.4"/>
<path d="M108.4 521.5 L97.4 527 L97.4 516 Z" fill="#000"/>
<text x="39.5" y="498.7" font-size="16" text-anchor="middle" transform="rotate(-90 39.5 498.7)">GL-7</text>
<text x="76.5" y="545" font-size="16" text-anchor="middle">CD38</text>
<text x="4.5" y="586" font-size="24" font-weight="bold">c</text>
<line x1="103" y1="617.3" x2="103" y2="758.75" stroke="#000" stroke-width="1.5"/>
<line x1="102.25" y1="758" x2="308" y2="758" stroke="#000" stroke-width="1.5"/>
<line x1="98.2" y1="758" x2="103" y2="758" stroke="#000" stroke-width="1.4"/>
<text x="89" y="763.94" font-size="16.5" text-anchor="end">0</text>
<line x1="98.2" y1="722.95" x2="103" y2="722.95" stroke="#000" stroke-width="1.4"/>
<text x="89" y="728.89" font-size="16.5" text-anchor="end">5,000</text>
<line x1="98.2" y1="687.9" x2="103" y2="687.9" stroke="#000" stroke-width="1.4"/>
<text x="89" y="693.84" font-size="16.5" text-anchor="end">10,000</text>
<line x1="98.2" y1="652.85" x2="103" y2="652.85" stroke="#000" stroke-width="1.4"/>
<text x="89" y="658.79" font-size="16.5" text-anchor="end">15,000</text>
<line x1="98.2" y1="617.8" x2="103" y2="617.8" stroke="#000" stroke-width="1.4"/>
<text x="89" y="623.74" font-size="16.5" text-anchor="end">20,000</text>
<rect x="111.6" y="720" width="36.2" height="38" fill="#000"/>
<line x1="129.7" y1="717.4" x2="129.7" y2="723" stroke="#000" stroke-width="1.5"/>
<line x1="120.7" y1="717.4" x2="138.7" y2="717.4" stroke="#000" stroke-width="1.6"/>
<rect x="163.4" y="716" width="36.2" height="42" fill="#808080"/>
<line x1="181.5" y1="709.3" x2="181.5" y2="723.5" stroke="#000" stroke-width="1.5"/>
<line x1="172.5" y1="709.3" x2="190.5" y2="709.3" stroke="#000" stroke-width="1.6"/>
<line x1="172.5" y1="723.5" x2="190.5" y2="723.5" stroke="#000" stroke-width="1.6"/>
<rect x="215.8" y="661.9" width="36.2" height="96.1" fill="#0a14f0"/>
<line x1="233.9" y1="648.4" x2="233.9" y2="676.8" stroke="#000" stroke-width="1.5"/>
<line x1="224.9" y1="648.4" x2="242.9" y2="648.4" stroke="#000" stroke-width="1.6"/>
<line x1="224.9" y1="676.8" x2="242.9" y2="676.8" stroke="#000" stroke-width="1.6"/>
<rect x="268.3" y="713.3" width="36.2" height="44.7" fill="#ff800a"/>
<line x1="286.4" y1="707.6" x2="286.4" y2="719.4" stroke="#000" stroke-width="1.5"/>
<line x1="277.4" y1="707.6" x2="295.4" y2="707.6" stroke="#000" stroke-width="1.6"/>
<line x1="277.4" y1="719.4" x2="295.4" y2="719.4" stroke="#000" stroke-width="1.6"/>
<text x="210.7" y="781" font-size="16.5" text-anchor="middle">Post-switch B cells</text>
<text x="21.5" y="689.6" font-size="16.5" text-anchor="middle" transform="rotate(-90 21.5 689.6)"><tspan>Number/10</tspan><tspan font-size="11.55" dy="-6.93">6</tspan><tspan dy="6.93"> cells</tspan></text>
<line x1="126.8" y1="600.3" x2="285" y2="600.3" stroke="#000" stroke-width="3.4"/>
<text x="208" y="592.3" font-size="16.5" text-anchor="middle">NS</text>
<line x1="127.9" y1="618.3" x2="229.4" y2="618.3" stroke="#000" stroke-width="3.4"/>
<text x="175.8" y="619.4" font-size="16" text-anchor="middle">**</text>
<line x1="181.7" y1="638.9" x2="229.4" y2="638.9" stroke="#000" stroke-width="3.4"/>
<text x="205.8" y="638.5" font-size="16" text-anchor="middle">**</text>
<line x1="237.8" y1="638.9" x2="284.2" y2="638.9" stroke="#000" stroke-width="3.4"/>
<text x="261" y="638.5" font-size="16" text-anchor="middle">**</text>
<rect x="341.4" y="685" width="19.8" height="11.8" fill="#000"/>
<text x="368.5" y="696" font-size="14.3"><tspan>WT</tspan></text>
<rect x="341.4" y="704" width="19.8" height="11.8" fill="#808080"/>
<text x="368.5" y="715" font-size="14.3"><tspan font-style="italic">lpr</tspan><tspan>/+</tspan></text>
<rect x="341.4" y="722.4" width="19.8" height="11.8" fill="#0a14f0"/>
<text x="368.5" y="733.4" font-size="14.3"><tspan font-style="italic">lpr</tspan><tspan font-style="italic">/</tspan><tspan font-style="italic">lpr</tspan></text>
<rect x="341.4" y="741.3" width="19.8" height="11.8" fill="#ff800a"/>
<text x="373" y="752.3" font-size="14.3"><tspan>FasC194V</tspan><tspan font-size="10.3" dy="-6.01" font-style="italic">lpr/lpr</tspan></text>
<text x="493.5" y="586" font-size="24" font-weight="bold">d</text>
<line x1="596.3" y1="615.6" x2="596.3" y2="757.15" stroke="#000" stroke-width="1.5"/>
<line x1="595.55" y1="756.4" x2="806" y2="756.4" stroke="#000" stroke-width="1.5"/>
<line x1="591.5" y1="756.4" x2="596.3" y2="756.4" stroke="#000" stroke-width="1.4"/>
<text x="581.3" y="762.34" font-size="16.5" text-anchor="end">0</text>
<line x1="591.5" y1="721.33" x2="596.3" y2="721.33" stroke="#000" stroke-width="1.4"/>
<text x="581.3" y="727.27" font-size="16.5" text-anchor="end">5,000</text>
<line x1="591.5" y1="686.25" x2="596.3" y2="686.25" stroke="#000" stroke-width="1.4"/>
<text x="581.3" y="692.19" font-size="16.5" text-anchor="end">10,000</text>
<line x1="591.5" y1="651.17" x2="596.3" y2="651.17" stroke="#000" stroke-width="1.4"/>
<text x="581.3" y="657.12" font-size="16.5" text-anchor="end">15,000</text>
<line x1="591.5" y1="616.1" x2="596.3" y2="616.1" stroke="#000" stroke-width="1.4"/>
<text x="581.3" y="622.04" font-size="16.5" text-anchor="end">20,000</text>
<rect x="604.3" y="726.2" width="36.2" height="30.2" fill="#000"/>
<line x1="622.4" y1="715.7" x2="622.4" y2="727" stroke="#000" stroke-width="1.5"/>
<line x1="613.4" y1="715.7" x2="631.4" y2="715.7" stroke="#000" stroke-width="1.6"/>
<rect x="656.8" y="714.7" width="36.2" height="41.7" fill="#808080"/>
<line x1="674.9" y1="698.1" x2="674.9" y2="732.6" stroke="#000" stroke-width="1.5"/>
<line x1="665.9" y1="698.1" x2="683.9" y2="698.1" stroke="#000" stroke-width="1.6"/>
<line x1="665.9" y1="732.6" x2="683.9" y2="732.6" stroke="#000" stroke-width="1.6"/>
<rect x="709.2" y="669.4" width="36.2" height="87" fill="#0a14f0"/>
<line x1="727.3" y1="634.8" x2="727.3" y2="704.9" stroke="#000" stroke-width="1.5"/>
<line x1="718.3" y1="634.8" x2="736.3" y2="634.8" stroke="#000" stroke-width="1.6"/>
<line x1="718.3" y1="704.9" x2="736.3" y2="704.9" stroke="#000" stroke-width="1.6"/>
<rect x="761.6" y="724.2" width="36.2" height="32.2" fill="#ff800a"/>
<line x1="779.7" y1="710" x2="779.7" y2="739.4" stroke="#000" stroke-width="1.5"/>
<line x1="770.7" y1="710" x2="788.7" y2="710" stroke="#000" stroke-width="1.6"/>
<line x1="770.7" y1="739.4" x2="788.7" y2="739.4" stroke="#000" stroke-width="1.6"/>
<text x="697.5" y="781" font-size="16.5" text-anchor="middle">Germinal center B cells</text>
<text x="514.7" y="688.9" font-size="16.5" text-anchor="middle" transform="rotate(-90 514.7 688.9)"><tspan>Number/10</tspan><tspan font-size="11.55" dy="-6.93">6</tspan><tspan dy="6.93"> cells</tspan></text>
<rect x="824.4" y="685.1" width="19.8" height="11.8" fill="#000"/>
<text x="852.4" y="696.1" font-size="14.3"><tspan>WT</tspan></text>
<rect x="824.4" y="703.8" width="19.8" height="11.8" fill="#808080"/>
<text x="852.4" y="714.8" font-size="14.3"><tspan font-style="italic">lpr</tspan><tspan>/+</tspan></text>
<rect x="824.4" y="722.5" width="19.8" height="11.8" fill="#0a14f0"/>
<text x="852.4" y="733.5" font-size="14.3"><tspan font-style="italic">lpr</tspan><tspan font-style="italic">/</tspan><tspan font-style="italic">lpr</tspan></text>
<rect x="824.4" y="741.2" width="19.8" height="11.8" fill="#ff800a"/>
<text x="852.4" y="752.2" font-size="14.3"><tspan>FasC194V</tspan><tspan font-size="10.3" dy="-6.01" font-style="italic">lpr/lpr</tspan></text>
<text x="4.5" y="825" font-size="24" font-weight="bold">e</text>
<path d="M98 1026.48 L99.66 1025.58 L101.31 1025.97 L102.97 1025.41 L104.63 1024.34 L106.29 1024.16 L107.94 1023.65 L109.6 1023.43 L111.26 1023.13 L112.91 1021.83 L114.57 1021.29 L116.23 1021.8 L117.89 1020.85 L119.54 1020.79 L121.2 1019.41 L122.89 1019.33 L124.58 1019.05 L126.28 1017.84 L127.97 1018.08 L129.66 1017.42 L131.35 1015.75 L133.04 1015.13 L134.73 1015.14 L136.43 1015 L138.12 1013.71 L139.81 1012.9 L141.5 1012.53 L143.19 1011.24 L144.88 1010.65 L146.57 1010.09 L148.26 1009.34 L149.94 1008.2 L151.63 1007.38 L153.32 1006.54 L155.01 1006.01 L156.7 1004.98 L158.38 1002.51 L160.07 1001.33 L161.75 998.84 L163.43 996.79 L165.12 994.08 L166.8 992.9 L168.6 987.66 L170.4 981.69 L172.2 976.87 L174 972.26 L176 967.07 L178 962.17 L180 956.38 L181.97 948.5 L183.93 939.93 L185.9 931.12 L187.87 920.07 L189.83 909.04 L191.8 897.6 L194.05 881.03 L196.3 864.97 L199.2 850.82 L201.5 851.63 L204.5 848.24 L206 850.44 L207.8 859.4 L209.6 868.54 L211.8 881.73 L214 894.66 L217 924.18 L220 953.37 L222.9 983 L225.9 1005.25 L228.1 1012.96 L230.3 1020.04 L232.27 1021.85 L234.23 1023.94 L236.2 1025.36 L238.13 1025.87 L240.07 1026.91 L242 1027.4 L242 1027.4 L98 1027.4 Z" fill="#c9c9c9"/>
<path d="M98 1026.48 L99.66 1025.58 L101.31 1025.97 L102.97 1025.41 L104.63 1024.34 L106.29 1024.16 L107.94 1023.65 L109.6 1023.43 L111.26 1023.13 L112.91 1021.83 L114.57 1021.29 L116.23 1021.8 L117.89 1020.85 L119.54 1020.79 L121.2 1019.41 L122.89 1019.33 L124.58 1019.05 L126.28 1017.84 L127.97 1018.08 L129.66 1017.42 L131.35 1015.75 L133.04 1015.13 L134.73 1015.14 L136.43 1015 L138.12 1013.71 L139.81 1012.9 L141.5 1012.53 L143.19 1011.24 L144.88 1010.65 L146.57 1010.09 L148.26 1009.34 L149.94 1008.2 L151.63 1007.38 L153.32 1006.54 L155.01 1006.01 L156.7 1004.98 L158.38 1002.51 L160.07 1001.33 L161.75 998.84 L163.43 996.79 L165.12 994.08 L166.8 992.9 L168.6 987.66 L170.4 981.69 L172.2 976.87 L174 972.26 L176 967.07 L178 962.17 L180 956.38 L181.97 948.5 L183.93 939.93 L185.9 931.12 L187.87 920.07 L189.83 909.04 L191.8 897.6 L194.05 881.03 L196.3 864.97 L199.2 850.82 L201.5 851.63 L204.5 848.24 L206 850.44 L207.8 859.4 L209.6 868.54 L211.8 881.73 L214 894.66 L217 924.18 L220 953.37 L222.9 983 L225.9 1005.25 L228.1 1012.96 L230.3 1020.04 L232.27 1021.85 L234.23 1023.94 L236.2 1025.36 L238.13 1025.87 L240.07 1026.91 L242 1027.4" fill="none" stroke="#7a7a7a" stroke-width="1.1" stroke-linejoin="round"/>
<path d="M98 1026.48 L99.8 1026.22 L101.6 1025.41 L103.4 1023.54 L105.09 1023.18 L106.79 1023.69 L108.48 1023.18 L110.17 1022.7 L111.87 1021.88 L113.56 1021.84 L115.25 1021.45 L116.95 1021.02 L118.64 1020.12 L120.33 1020.05 L122.03 1019.61 L123.72 1019.61 L125.41 1019.55 L127.11 1019.1 L128.8 1018.22 L130.49 1017.4 L132.19 1016.48 L133.88 1015.5 L135.57 1014.79 L137.27 1014.61 L138.96 1013.74 L140.65 1013.11 L142.35 1013.02 L144.04 1011.88 L145.73 1011.22 L147.43 1010.13 L149.12 1009.17 L150.81 1008.83 L152.51 1007.9 L154.2 1007.65 L156 1006.84 L157.8 1005.05 L159.6 1003.06 L161.4 1002.52 L163.2 1001 L165 999.53 L166.8 998.34 L168.7 995.53 L170.6 992.93 L172.5 989.78 L174.4 987.9 L176.27 984 L178.13 979.16 L180 975.99 L183 965.41 L184.97 956.31 L186.93 947.58 L188.9 938.73 L191.1 924.48 L193.3 909.19 L195.55 894.81 L197.8 879.46 L200 867.36 L202.2 854.63 L204.25 849.86 L206.3 845.66 L207.95 849.34 L209.6 853.36 L211.8 862.82 L214 872.24 L217 894.08 L218.85 908.98 L220.7 924.21 L223.7 953.12 L225.55 968.79 L227.4 982.79 L229.6 998.34 L231.8 1012.4 L233.77 1017.11 L235.73 1020.75 L237.7 1024.45 L239.52 1025.11 L241.35 1025.92 L243.18 1026.49 L245 1027.03 L246.6 1027.03 L248.21 1027.03 L249.81 1027.03 L251.42 1027.03 L253.02 1027.03 L254.62 1027.03 L256.23 1027.03 L257.83 1027.03 L259.44 1027.03 L261.04 1027.03 L262.64 1027.03 L264.25 1027.03 L265.85 1027.03 L267.46 1027.03 L269.06 1027.03 L270.66 1027.03 L272.27 1027.03 L273.87 1027.03 L275.48 1027.03 L277.08 1027.03 L278.68 1027.03 L280.29 1027.03 L281.89 1027.03 L283.5 1027.03 L285.1 1027.03 L286.7 1027.03 L288.31 1027.03 L289.91 1027.03 L291.51 1027.03 L293.12 1027.03 L294.72 1027.03 L296.33 1027.03 L297.93 1027.03 L299.53 1027.03 L301.14 1027.03 L302.74 1027.03 L304.35 1027.03 L305.95 1027.03 L307.55 1027.03 L309.16 1027.03 L310.76 1027.03 L312.37 1027.03 L313.97 1027.03 L315.57 1027.03 L317.18 1027.03 L318.78 1027.03 L320.39 1027.03 L321.99 1027.03 L323.59 1027.03 L325.2 1027.03 L326.8 1027.03 L328.41 1027.03 L330.01 1027.03 L331.61 1027.03 L333.22 1027.03 L334.82 1027.03 L336.43 1027.03 L338.03 1027.03 L339.63 1027.03 L341.24 1027.03 L342.84 1027.03 L344.45 1027.03 L346.05 1027.03 L347.65 1027.03 L349.26 1027.03 L350.86 1027.03 L352.47 1027.03 L354.07 1027.03 L355.67 1027.03 L357.28 1027.03 L358.88 1027.03 L360.49 1027.03 L362.09 1027.03 L363.69 1027.03 L365.3 1027.03 L366.9 1027.03 L368.5 1027.03 L370.11 1027.03 L371.71 1027.03 L373.32 1027.03 L374.92 1027.03 L376.52 1027.03 L378.13 1027.03 L379.73 1027.03 L381.34 1027.03 L382.94 1027.03 L384.54 1027.03 L386.15 1027.03 L387.75 1027.03 L389.36 1027.03 L390.96 1027.03 L392.56 1027.03 L394.17 1027.03 L395.77 1027.03 L397.38 1027.03 L398.98 1027.03 L400.58 1027.03 L402.19 1027.03 L403.79 1027.03 L405.4 1027.03 L407 1027.03" fill="none" stroke="#2828e0" stroke-width="1.3" stroke-linejoin="round"/>
<path d="M98 1027.4 L99.61 1027.39 L101.22 1027.37 L102.82 1027.36 L104.43 1027.34 L106.04 1027.33 L107.65 1027.31 L109.25 1027.3 L110.86 1027.28 L112.47 1027.27 L114.08 1027.26 L115.69 1027.24 L117.29 1027.23 L118.9 1027.21 L120.51 1027.2 L122.12 1027.18 L123.73 1027.17 L125.33 1027.15 L126.94 1027.14 L128.55 1027.12 L130.16 1027.11 L131.76 1027.1 L133.37 1027.08 L134.98 1027.07 L136.59 1027.05 L138.2 1027.04 L139.8 1027.02 L141.41 1027.01 L143.02 1026.99 L144.63 1026.98 L146.24 1026.97 L147.84 1026.95 L149.45 1026.94 L151.06 1026.92 L152.67 1026.91 L154.27 1026.89 L155.88 1026.88 L157.49 1026.86 L159.1 1026.85 L160.71 1026.84 L162.31 1026.82 L163.92 1026.81 L165.53 1026.79 L167.14 1026.78 L168.75 1026.76 L170.35 1026.75 L171.96 1026.73 L173.57 1026.72 L175.18 1026.7 L176.78 1026.69 L178.39 1026.68 L180 1026.66 L181.78 1025.9 L183.56 1025.3 L185.34 1025.21 L187.12 1024.47 L188.9 1023.92 L190.68 1022.85 L192.46 1021.99 L194.24 1020.37 L196.02 1018.85 L197.8 1016.72 L199.56 1014.74 L201.32 1012.06 L203.08 1009.57 L204.84 1007.13 L206.6 1004.89 L208.85 997.62 L211.1 989.38 L213.07 983.44 L215.03 977.52 L217 970.88 L219.2 962.16 L221.4 953.67 L223.65 944.84 L225.9 936.03 L228.1 922.85 L230.3 908.7 L232.55 894.54 L234.8 879.85 L237 868.57 L239.2 853.76 L240.93 851.29 L242.67 847.99 L244.4 845.66 L246 848.24 L248.1 846.02 L250.3 853.66 L252.5 860.69 L254.75 870 L257 879.4 L259.2 891.21 L261.4 901.89 L263.6 917.04 L265.8 931.77 L268.05 946.14 L270.3 960.8 L272.5 975.8 L274.7 990.38 L276.67 995.96 L278.63 1002.05 L280.6 1008.57 L282.38 1010.3 L284.16 1012.97 L285.94 1016.32 L287.72 1018.57 L289.5 1021.53 L291.28 1022.34 L293.06 1023.07 L294.84 1024.75 L296.62 1024.67 L298.4 1025.82 L300.06 1025.78 L301.71 1026.5 L303.37 1026.56 L305.03 1026.77 L306.69 1026.98 L308.34 1027.19 L310 1027.4" fill="none" stroke="#22c422" stroke-width="1.3" stroke-linejoin="round"/>
<path d="M98 1027.4 L99.61 1027.39 L101.22 1027.38 L102.82 1027.37 L104.43 1027.36 L106.04 1027.35 L107.65 1027.33 L109.25 1027.32 L110.86 1027.31 L112.47 1027.3 L114.08 1027.29 L115.69 1027.28 L117.29 1027.27 L118.9 1027.26 L120.51 1027.25 L122.12 1027.24 L123.73 1027.23 L125.33 1027.22 L126.94 1027.2 L128.55 1027.19 L130.16 1027.18 L131.76 1027.17 L133.37 1027.16 L134.98 1027.15 L136.59 1027.14 L138.2 1027.13 L139.8 1027.12 L141.41 1027.11 L143.02 1027.1 L144.63 1027.08 L146.24 1027.07 L147.84 1027.06 L149.45 1027.05 L151.06 1027.04 L152.67 1027.03 L154.27 1027.02 L155.88 1027.01 L157.49 1027 L159.1 1026.99 L160.71 1026.98 L162.31 1026.97 L163.92 1026.95 L165.53 1026.94 L167.14 1026.93 L168.75 1026.92 L170.35 1026.91 L171.96 1026.9 L173.57 1026.89 L175.18 1026.88 L176.78 1026.87 L178.39 1026.86 L180 1026.85 L181.69 1026.44 L183.37 1026.03 L185.06 1025.54 L186.74 1025.16 L188.43 1024.36 L190.11 1024.03 L191.8 1022.4 L193.53 1021.69 L195.27 1021.04 L197 1019.45 L198.73 1018.52 L200.47 1016.35 L202.2 1015.54 L204.05 1012.69 L205.9 1010.46 L207.75 1007.91 L209.6 1004.65 L211.8 998.25 L214 991.67 L216.25 979.05 L218.5 965.47 L220.47 955.94 L222.43 947.9 L224.4 938.31 L226.6 924.11 L228.8 908.74 L231.05 890.12 L233.3 872.7 L235.5 858.97 L237 860.83 L239 858.05 L241.3 852.57 L243.6 846.76 L245.5 848.24 L248.1 851.13 L250.3 862.37 L252.5 872.3 L254.75 889.37 L257 905.7 L259.2 922.93 L261.4 938.97 L263.6 952.51 L265.8 965.63 L267.8 973.35 L269.8 981.86 L271.8 990.06 L273.77 994.96 L275.73 999.79 L277.7 1005 L279.48 1008.02 L281.26 1009.96 L283.04 1013.43 L284.82 1015.68 L286.6 1018.31 L288.36 1020.1 L290.12 1020.88 L291.88 1021.86 L293.64 1023.24 L295.4 1024.69 L297 1024.41 L298.6 1026 L300.2 1025.35 L301.8 1026.71 L303.4 1026.91 L305 1027.4" fill="none" stroke="#111" stroke-width="1.2" stroke-linejoin="round"/>
<path d="M98 1026.85 L99.65 1026.73 L101.29 1026.61 L102.94 1026.49 L104.58 1026.06 L106.23 1026.31 L107.87 1025.98 L109.52 1026.15 L111.16 1026.06 L112.81 1025.27 L114.45 1025.09 L116.1 1025.96 L117.7 1024.92 L119.3 1024.55 L120.9 1025.13 L122.5 1024.16 L124.1 1024.26 L125.7 1023.48 L127.3 1023.34 L128.9 1022.41 L130.5 1022.65 L132.1 1022.59 L133.7 1021.84 L135.3 1021.76 L136.9 1021.34 L138.5 1020.27 L140.1 1020.76 L141.7 1020.22 L143.3 1019.53 L144.9 1018.87 L146.5 1019.53 L148.19 1018.3 L149.88 1017.84 L151.57 1017.28 L153.27 1016.33 L154.96 1015.82 L156.65 1014.44 L158.34 1014.17 L160.03 1012.99 L161.73 1012.82 L163.42 1012 L165.11 1010.31 L166.8 1009.6 L168.44 1008.37 L170.08 1007.94 L171.72 1005.97 L173.36 1004.87 L175 1003.15 L176.67 1002.04 L178.33 1000.54 L180 999.15 L183 989.08 L185 984.1 L187.4 982.08 L189.6 973.59 L191.8 965.67 L193.8 955.73 L195.8 946.04 L197.8 935.81 L200 921.99 L202.2 909.62 L204.4 896.36 L206.6 882.9 L208.85 870.67 L211.1 859.03 L214 846.02 L216.5 847.32 L219.2 848.24 L220.93 853.44 L222.67 859.72 L224.4 864.95 L226.37 870.45 L228.33 876.04 L230.3 882.84 L232.27 891.93 L234.23 899.77 L236.2 909.55 L238.45 920.17 L240.7 930.94 L242.67 938.5 L244.63 946.45 L246.6 953.97 L248.57 960.36 L250.53 968.43 L252.5 975.14 L255 981.49 L257 985.82 L258.97 990.42 L260.93 994.48 L262.9 997.85 L264.87 1003.37 L266.83 1007.47 L268.8 1012.12 L270.49 1014.22 L272.17 1015.02 L273.86 1016.69 L275.54 1018.42 L277.23 1020.14 L278.91 1021.08 L280.6 1022.42 L282.3 1023.83 L284 1023.59 L285.7 1024.78 L287.4 1025.13 L289.1 1024.93 L290.8 1025.45 L292.5 1025.95 L294.12 1026.15 L295.74 1026.15 L297.35 1026.16 L298.97 1026.28 L300.59 1026.72 L302.21 1026.26 L303.82 1026.22 L305.44 1026.62 L307.06 1026.1 L308.68 1026.23 L310.29 1026.52 L311.91 1026.57 L313.53 1026.63 L315.15 1026.68 L316.76 1026.74 L318.38 1026.79 L320 1026.85 L321.61 1026.85 L323.22 1026.85 L324.83 1026.85 L326.44 1026.85 L328.06 1026.85 L329.67 1026.85 L331.28 1026.85 L332.89 1026.85 L334.5 1026.85 L336.11 1026.85 L337.72 1026.85 L339.33 1026.85 L340.94 1026.85 L342.56 1026.85 L344.17 1026.85 L345.78 1026.85 L347.39 1026.85 L349 1026.85 L350.61 1026.85 L352.22 1026.85 L353.83 1026.85 L355.44 1026.85 L357.06 1026.85 L358.67 1026.85 L360.28 1026.85 L361.89 1026.85 L363.5 1026.85 L365.11 1026.85 L366.72 1026.85 L368.33 1026.85 L369.94 1026.85 L371.56 1026.85 L373.17 1026.85 L374.78 1026.85 L376.39 1026.85 L378 1026.85 L379.61 1026.85 L381.22 1026.85 L382.83 1026.85 L384.44 1026.85 L386.06 1026.85 L387.67 1026.85 L389.28 1026.85 L390.89 1026.85 L392.5 1026.85 L394.11 1026.85 L395.72 1026.85 L397.33 1026.85 L398.94 1026.85 L400.56 1026.85 L402.17 1026.85 L403.78 1026.85 L405.39 1026.85 L407 1026.85" fill="none" stroke="#e81010" stroke-width="2.3" stroke-linejoin="round"/>
<line x1="97.1" y1="834.6" x2="97.1" y2="1028.1" stroke="#000" stroke-width="1.5"/>
<line x1="96.4" y1="1027.4" x2="407.6" y2="1027.4" stroke="#000" stroke-width="1.5"/>
<line x1="92" y1="1027.4" x2="97.1" y2="1027.4" stroke="#000" stroke-width="1.4"/>
<text x="82.5" y="1031.74" font-size="16.5" text-anchor="end">0</text>
<line x1="92" y1="990.46" x2="97.1" y2="990.46" stroke="#000" stroke-width="1.4"/>
<text x="82.5" y="994.8" font-size="16.5" text-anchor="end">20</text>
<line x1="92" y1="953.52" x2="97.1" y2="953.52" stroke="#000" stroke-width="1.4"/>
<text x="82.5" y="957.86" font-size="16.5" text-anchor="end">40</text>
<line x1="92" y1="916.58" x2="97.1" y2="916.58" stroke="#000" stroke-width="1.4"/>
<text x="82.5" y="920.92" font-size="16.5" text-anchor="end">60</text>
<line x1="92" y1="879.64" x2="97.1" y2="879.64" stroke="#000" stroke-width="1.4"/>
<text x="82.5" y="883.98" font-size="16.5" text-anchor="end">80</text>
<line x1="92" y1="842.7" x2="97.1" y2="842.7" stroke="#000" stroke-width="1.4"/>
<text x="82.5" y="847.04" font-size="16.5" text-anchor="end">100</text>
<line x1="94" y1="1008.93" x2="97.1" y2="1008.93" stroke="#000" stroke-width="1"/>
<line x1="94" y1="971.99" x2="97.1" y2="971.99" stroke="#000" stroke-width="1"/>
<line x1="94" y1="935.05" x2="97.1" y2="935.05" stroke="#000" stroke-width="1"/>
<line x1="94" y1="898.11" x2="97.1" y2="898.11" stroke="#000" stroke-width="1"/>
<line x1="94" y1="861.17" x2="97.1" y2="861.17" stroke="#000" stroke-width="1"/>
<line x1="95.2" y1="1018.17" x2="97.1" y2="1018.17" stroke="#000" stroke-width="0.8"/>
<line x1="95.2" y1="999.7" x2="97.1" y2="999.7" stroke="#000" stroke-width="0.8"/>
<line x1="95.2" y1="981.23" x2="97.1" y2="981.23" stroke="#000" stroke-width="0.8"/>
<line x1="95.2" y1="962.76" x2="97.1" y2="962.76" stroke="#000" stroke-width="0.8"/>
<line x1="95.2" y1="944.29" x2="97.1" y2="944.29" stroke="#000" stroke-width="0.8"/>
<line x1="95.2" y1="925.82" x2="97.1" y2="925.82" stroke="#000" stroke-width="0.8"/>
<line x1="95.2" y1="907.35" x2="97.1" y2="907.35" stroke="#000" stroke-width="0.8"/>
<line x1="95.2" y1="888.88" x2="97.1" y2="888.88" stroke="#000" stroke-width="0.8"/>
<line x1="95.2" y1="870.41" x2="97.1" y2="870.41" stroke="#000" stroke-width="0.8"/>
<line x1="95.2" y1="851.94" x2="97.1" y2="851.94" stroke="#000" stroke-width="0.8"/>
<line x1="137.6" y1="1027.4" x2="137.6" y2="1032.4" stroke="#000" stroke-width="1.4"/>
<text x="137.6" y="1052.2" font-size="16.5" text-anchor="middle">0</text>
<line x1="191.9" y1="1027.4" x2="191.9" y2="1032.4" stroke="#000" stroke-width="1.4"/>
<text x="194.4" y="1052.2" font-size="16.5" text-anchor="middle"><tspan>10</tspan><tspan font-size="11.88" dy="-7.26">2</tspan></text>
<line x1="256" y1="1027.4" x2="256" y2="1032.4" stroke="#000" stroke-width="1.4"/>
<text x="258.5" y="1052.2" font-size="16.5" text-anchor="middle"><tspan>10</tspan><tspan font-size="11.88" dy="-7.26">3</tspan></text>
<line x1="319.2" y1="1027.4" x2="319.2" y2="1032.4" stroke="#000" stroke-width="1.4"/>
<text x="321.7" y="1052.2" font-size="16.5" text-anchor="middle"><tspan>10</tspan><tspan font-size="11.88" dy="-7.26">4</tspan></text>
<line x1="382.3" y1="1027.4" x2="382.3" y2="1032.4" stroke="#000" stroke-width="1.4"/>
<text x="384.8" y="1052.2" font-size="16.5" text-anchor="middle"><tspan>10</tspan><tspan font-size="11.88" dy="-7.26">5</tspan></text>
<line x1="211.2" y1="1027.4" x2="211.2" y2="1029.9" stroke="#000" stroke-width="0.9"/>
<line x1="222.48" y1="1027.4" x2="222.48" y2="1029.9" stroke="#000" stroke-width="0.9"/>
<line x1="230.49" y1="1027.4" x2="230.49" y2="1029.9" stroke="#000" stroke-width="0.9"/>
<line x1="236.7" y1="1027.4" x2="236.7" y2="1029.9" stroke="#000" stroke-width="0.9"/>
<line x1="241.78" y1="1027.4" x2="241.78" y2="1029.9" stroke="#000" stroke-width="0.9"/>
<line x1="246.07" y1="1027.4" x2="246.07" y2="1029.9" stroke="#000" stroke-width="0.9"/>
<line x1="249.79" y1="1027.4" x2="249.79" y2="1029.9" stroke="#000" stroke-width="0.9"/>
<line x1="253.07" y1="1027.4" x2="253.07" y2="1029.9" stroke="#000" stroke-width="0.9"/>
<line x1="275.03" y1="1027.4" x2="275.03" y2="1029.9" stroke="#000" stroke-width="0.9"/>
<line x1="286.15" y1="1027.4" x2="286.15" y2="1029.9" stroke="#000" stroke-width="0.9"/>
<line x1="294.05" y1="1027.4" x2="294.05" y2="1029.9" stroke="#000" stroke-width="0.9"/>
<line x1="300.17" y1="1027.4" x2="300.17" y2="1029.9" stroke="#000" stroke-width="0.9"/>
<line x1="305.18" y1="1027.4" x2="305.18" y2="1029.9" stroke="#000" stroke-width="0.9"/>
<line x1="309.41" y1="1027.4" x2="309.41" y2="1029.9" stroke="#000" stroke-width="0.9"/>
<line x1="313.08" y1="1027.4" x2="313.08" y2="1029.9" stroke="#000" stroke-width="0.9"/>
<line x1="316.31" y1="1027.4" x2="316.31" y2="1029.9" stroke="#000" stroke-width="0.9"/>
<line x1="338.19" y1="1027.4" x2="338.19" y2="1029.9" stroke="#000" stroke-width="0.9"/>
<line x1="349.31" y1="1027.4" x2="349.31" y2="1029.9" stroke="#000" stroke-width="0.9"/>
<line x1="357.19" y1="1027.4" x2="357.19" y2="1029.9" stroke="#000" stroke-width="0.9"/>
<line x1="363.31" y1="1027.4" x2="363.31" y2="1029.9" stroke="#000" stroke-width="0.9"/>
<line x1="368.3" y1="1027.4" x2="368.3" y2="1029.9" stroke="#000" stroke-width="0.9"/>
<line x1="372.53" y1="1027.4" x2="372.53" y2="1029.9" stroke="#000" stroke-width="0.9"/>
<line x1="376.18" y1="1027.4" x2="376.18" y2="1029.9" stroke="#000" stroke-width="0.9"/>
<line x1="379.41" y1="1027.4" x2="379.41" y2="1029.9" stroke="#000" stroke-width="0.9"/>
<line x1="401.29" y1="1027.4" x2="401.29" y2="1029.9" stroke="#000" stroke-width="0.9"/>
<line x1="104" y1="1027.4" x2="104" y2="1029.9" stroke="#000" stroke-width="0.9"/>
<line x1="111" y1="1027.4" x2="111" y2="1029.9" stroke="#000" stroke-width="0.9"/>
<line x1="118" y1="1027.4" x2="118" y2="1029.9" stroke="#000" stroke-width="0.9"/>
<line x1="124" y1="1027.4" x2="124" y2="1029.9" stroke="#000" stroke-width="0.9"/>
<line x1="130" y1="1027.4" x2="130" y2="1029.9" stroke="#000" stroke-width="0.9"/>
<line x1="145" y1="1027.4" x2="145" y2="1029.9" stroke="#000" stroke-width="0.9"/>
<line x1="152" y1="1027.4" x2="152" y2="1029.9" stroke="#000" stroke-width="0.9"/>
<line x1="160" y1="1027.4" x2="160" y2="1029.9" stroke="#000" stroke-width="0.9"/>
<line x1="168" y1="1027.4" x2="168" y2="1029.9" stroke="#000" stroke-width="0.9"/>
<line x1="176" y1="1027.4" x2="176" y2="1029.9" stroke="#000" stroke-width="0.9"/>
<line x1="183" y1="1027.4" x2="183" y2="1029.9" stroke="#000" stroke-width="0.9"/>
<text x="41.5" y="932" font-size="16.5" text-anchor="middle" transform="rotate(-90 41.5 932)">% of max</text>
<text x="90.2" y="1071.5" font-size="16.5">Fas</text>
<line x1="126.4" y1="1066" x2="243.5" y2="1066" stroke="#000" stroke-width="1.9"/>
<path d="M251 1066 L243 1070 L243 1062 Z" fill="#000"/>
<rect x="308.4" y="843" width="10.8" height="13.2" fill="#cc0000" stroke="#666" stroke-width="0.6" rx="1.5"/>
<rect x="321.2" y="843.3" width="11" height="12.8" fill="#fff" stroke="#777" stroke-width="1.1" rx="1.8"/>
<line x1="322" y1="849.6" x2="332" y2="849.6" stroke="#000" stroke-width="1.8"/>
<text x="338" y="854.5" font-size="14.2"><tspan>FasC194V</tspan><tspan font-size="10.22" dy="-5.96" font-style="italic">lpr/lpr</tspan></text>
<rect x="308.4" y="860.4" width="10.8" height="13.2" fill="#0000ee" stroke="#666" stroke-width="0.6" rx="1.5"/>
<rect x="321.2" y="860.7" width="11" height="12.8" fill="#fff" stroke="#777" stroke-width="1.1" rx="1.8"/>
<line x1="322" y1="867" x2="332" y2="867" stroke="#444" stroke-width="1.1"/>
<text x="338" y="871.9" font-size="14.2"><tspan font-style="italic">lpr</tspan><tspan font-style="italic">/</tspan><tspan font-style="italic">lpr</tspan></text>
<rect x="308.4" y="877.8" width="10.8" height="13.2" fill="#22cc22" stroke="#666" stroke-width="0.6" rx="1.5"/>
<rect x="321.2" y="878.1" width="11" height="12.8" fill="#fff" stroke="#777" stroke-width="1.1" rx="1.8"/>
<line x1="322" y1="884.4" x2="332" y2="884.4" stroke="#444" stroke-width="1.1"/>
<text x="338" y="889.3" font-size="14.2"><tspan font-style="italic">lpr</tspan><tspan>/+</tspan></text>
<rect x="308.4" y="895.3" width="10.8" height="13.2" fill="#000" stroke="#666" stroke-width="0.6" rx="1.5"/>
<rect x="321.2" y="895.6" width="11" height="12.8" fill="#fff" stroke="#777" stroke-width="1.1" rx="1.8"/>
<line x1="322" y1="901.9" x2="332" y2="901.9" stroke="#444" stroke-width="1.1"/>
<text x="338" y="906.8" font-size="14.2"><tspan>WT</tspan></text>
<rect x="308.4" y="912.7" width="10.8" height="13.2" fill="#444" stroke="#666" stroke-width="0.6" rx="1.5"/>
<rect x="321.2" y="913" width="11" height="12.8" fill="#fff" stroke="#777" stroke-width="1.1" rx="1.8"/>
<rect x="321.8" y="919.3" width="9.8" height="6" fill="#000" rx="1"/>
<text x="338" y="924.2" font-size="14.2"><tspan>Isotype</tspan></text>
<text x="496.5" y="824.8" font-size="24" font-weight="bold">f</text>
<line x1="594.1" y1="835.5" x2="594.1" y2="1018" stroke="#000" stroke-width="1.5"/>
<line x1="593.4" y1="1017.2" x2="864" y2="1017.2" stroke="#000" stroke-width="1.5"/>
<line x1="587.6" y1="837.2" x2="594.1" y2="837.2" stroke="#000" stroke-width="1.4"/>
<text x="580.5" y="841.74" font-size="16.5" text-anchor="end">60</text>
<line x1="587.6" y1="882.2" x2="594.1" y2="882.2" stroke="#000" stroke-width="1.4"/>
<text x="580.5" y="886.74" font-size="16.5" text-anchor="end">40</text>
<line x1="587.6" y1="927.2" x2="594.1" y2="927.2" stroke="#000" stroke-width="1.4"/>
<text x="580.5" y="931.74" font-size="16.5" text-anchor="end">20</text>
<line x1="587.6" y1="972.2" x2="594.1" y2="972.2" stroke="#000" stroke-width="1.4"/>
<text x="580.5" y="976.74" font-size="16.5" text-anchor="end">0</text>
<line x1="587.6" y1="1017.2" x2="594.1" y2="1017.2" stroke="#000" stroke-width="1.4"/>
<text x="580.5" y="1021.74" font-size="16.5" text-anchor="end">−20</text>
<line x1="611" y1="1017.2" x2="611" y2="1024.5" stroke="#000" stroke-width="1.4"/>
<text x="611" y="1045.4" font-size="16.5" text-anchor="middle">0</text>
<line x1="645.2" y1="1017.2" x2="645.2" y2="1024.5" stroke="#000" stroke-width="1.4"/>
<text x="645.2" y="1045.4" font-size="16.5" text-anchor="middle">5</text>
<line x1="679.4" y1="1017.2" x2="679.4" y2="1024.5" stroke="#000" stroke-width="1.4"/>
<text x="679.4" y="1045.4" font-size="16.5" text-anchor="middle">10</text>
<line x1="713.6" y1="1017.2" x2="713.6" y2="1024.5" stroke="#000" stroke-width="1.4"/>
<text x="713.6" y="1045.4" font-size="16.5" text-anchor="middle">25</text>
<line x1="747.8" y1="1017.2" x2="747.8" y2="1024.5" stroke="#000" stroke-width="1.4"/>
<text x="747.8" y="1045.4" font-size="16.5" text-anchor="middle">50</text>
<line x1="782" y1="1017.2" x2="782" y2="1024.5" stroke="#000" stroke-width="1.4"/>
<text x="782" y="1045.4" font-size="16.5" text-anchor="middle">100</text>
<line x1="816.2" y1="1017.2" x2="816.2" y2="1024.5" stroke="#000" stroke-width="1.4"/>
<text x="816.2" y="1045.4" font-size="16.5" text-anchor="middle">250</text>
<line x1="850.4" y1="1017.2" x2="850.4" y2="1024.5" stroke="#000" stroke-width="1.4"/>
<text x="850.4" y="1045.4" font-size="16.5" text-anchor="middle">500</text>
<text x="566" y="1073.3" font-size="16.5"><tspan>FasL-LZ (ng ml</tspan><tspan font-size="11.88" dy="-6.93">−1</tspan><tspan dy="6.93">)</tspan></text>
<line x1="707.6" y1="1069.8" x2="773.5" y2="1069.8" stroke="#000" stroke-width="4.6"/>
<path d="M785 1069.8 L773 1075.8 L773 1063.8 Z" fill="#000"/>
<text x="536" y="926.4" font-size="16.5" text-anchor="middle" transform="rotate(-90 536 926.4)">% Specific cell death</text>
<path d="M611 972.2 L645.2 974.45 L679.4 973.33 L713.6 973.33 L747.8 969.95 L782 959.38 L816.2 945.88 L850.4 929.9" fill="none" stroke="#f08a2a" stroke-width="1.8" stroke-linejoin="round"/>
<line x1="611" y1="971.08" x2="611" y2="973.33" stroke="#111" stroke-width="1.6"/>
<line x1="605.5" y1="971.08" x2="616.5" y2="971.08" stroke="#111" stroke-width="1.6"/>
<line x1="605.5" y1="973.33" x2="616.5" y2="973.33" stroke="#111" stroke-width="1.6"/>
<line x1="645.2" y1="972.2" x2="645.2" y2="976.7" stroke="#111" stroke-width="1.6"/>
<line x1="639.7" y1="972.2" x2="650.7" y2="972.2" stroke="#111" stroke-width="1.6"/>
<line x1="639.7" y1="976.7" x2="650.7" y2="976.7" stroke="#111" stroke-width="1.6"/>
<line x1="679.4" y1="971.08" x2="679.4" y2="975.58" stroke="#111" stroke-width="1.6"/>
<line x1="673.9" y1="971.08" x2="684.9" y2="971.08" stroke="#111" stroke-width="1.6"/>
<line x1="673.9" y1="975.58" x2="684.9" y2="975.58" stroke="#111" stroke-width="1.6"/>
<line x1="713.6" y1="971.08" x2="713.6" y2="975.58" stroke="#111" stroke-width="1.6"/>
<line x1="708.1" y1="971.08" x2="719.1" y2="971.08" stroke="#111" stroke-width="1.6"/>
<line x1="708.1" y1="975.58" x2="719.1" y2="975.58" stroke="#111" stroke-width="1.6"/>
<line x1="747.8" y1="967.7" x2="747.8" y2="972.2" stroke="#111" stroke-width="1.6"/>
<line x1="742.3" y1="967.7" x2="753.3" y2="967.7" stroke="#111" stroke-width="1.6"/>
<line x1="742.3" y1="972.2" x2="753.3" y2="972.2" stroke="#111" stroke-width="1.6"/>
<line x1="782" y1="954.88" x2="782" y2="963.88" stroke="#111" stroke-width="1.6"/>
<line x1="776.5" y1="954.88" x2="787.5" y2="954.88" stroke="#111" stroke-width="1.6"/>
<line x1="776.5" y1="963.88" x2="787.5" y2="963.88" stroke="#111" stroke-width="1.6"/>
<line x1="816.2" y1="940.93" x2="816.2" y2="950.83" stroke="#111" stroke-width="1.6"/>
<line x1="810.7" y1="940.93" x2="821.7" y2="940.93" stroke="#111" stroke-width="1.6"/>
<line x1="810.7" y1="950.83" x2="821.7" y2="950.83" stroke="#111" stroke-width="1.6"/>
<line x1="850.4" y1="924.5" x2="850.4" y2="935.3" stroke="#111" stroke-width="1.6"/>
<line x1="844.9" y1="924.5" x2="855.9" y2="924.5" stroke="#111" stroke-width="1.6"/>
<line x1="844.9" y1="935.3" x2="855.9" y2="935.3" stroke="#111" stroke-width="1.6"/>
<path d="M611 968.02 L607.25 974.77 L614.75 974.77 Z" fill="#111"/>
<path d="M645.2 970.27 L641.45 977.02 L648.95 977.02 Z" fill="#111"/>
<path d="M679.4 969.14 L675.65 975.89 L683.15 975.89 Z" fill="#111"/>
<path d="M713.6 969.14 L709.85 975.89 L717.35 975.89 Z" fill="#111"/>
<path d="M747.8 965.77 L744.05 972.52 L751.55 972.52 Z" fill="#111"/>
<path d="M782 955.19 L778.25 961.94 L785.75 961.94 Z" fill="#111"/>
<path d="M816.2 941.69 L812.45 948.44 L819.95 948.44 Z" fill="#111"/>
<path d="M850.4 925.72 L846.65 932.47 L854.15 932.47 Z" fill="#111"/>
<path d="M611 972.2 L645.2 973.78 L679.4 972.2 L713.6 973.33 L747.8 971.08 L782 968.83 L816.2 968.83 L850.4 953.53" fill="none" stroke="#1414e6" stroke-width="2.2" stroke-linejoin="round"/>
<line x1="611" y1="971.08" x2="611" y2="973.33" stroke="#111" stroke-width="1.6"/>
<line x1="605.5" y1="971.08" x2="616.5" y2="971.08" stroke="#111" stroke-width="1.6"/>
<line x1="605.5" y1="973.33" x2="616.5" y2="973.33" stroke="#111" stroke-width="1.6"/>
<line x1="645.2" y1="970.4" x2="645.2" y2="977.15" stroke="#111" stroke-width="1.6"/>
<line x1="639.7" y1="970.4" x2="650.7" y2="970.4" stroke="#111" stroke-width="1.6"/>
<line x1="639.7" y1="977.15" x2="650.7" y2="977.15" stroke="#111" stroke-width="1.6"/>
<line x1="679.4" y1="966.58" x2="679.4" y2="977.83" stroke="#111" stroke-width="1.6"/>
<line x1="673.9" y1="966.58" x2="684.9" y2="966.58" stroke="#111" stroke-width="1.6"/>
<line x1="673.9" y1="977.83" x2="684.9" y2="977.83" stroke="#111" stroke-width="1.6"/>
<line x1="713.6" y1="969.95" x2="713.6" y2="976.7" stroke="#111" stroke-width="1.6"/>
<line x1="708.1" y1="969.95" x2="719.1" y2="969.95" stroke="#111" stroke-width="1.6"/>
<line x1="708.1" y1="976.7" x2="719.1" y2="976.7" stroke="#111" stroke-width="1.6"/>
<line x1="747.8" y1="968.38" x2="747.8" y2="973.78" stroke="#111" stroke-width="1.6"/>
<line x1="742.3" y1="968.38" x2="753.3" y2="968.38" stroke="#111" stroke-width="1.6"/>
<line x1="742.3" y1="973.78" x2="753.3" y2="973.78" stroke="#111" stroke-width="1.6"/>
<line x1="782" y1="965.45" x2="782" y2="972.2" stroke="#111" stroke-width="1.6"/>
<line x1="776.5" y1="965.45" x2="787.5" y2="965.45" stroke="#111" stroke-width="1.6"/>
<line x1="776.5" y1="972.2" x2="787.5" y2="972.2" stroke="#111" stroke-width="1.6"/>
<line x1="816.2" y1="966.12" x2="816.2" y2="971.53" stroke="#111" stroke-width="1.6"/>
<line x1="810.7" y1="966.12" x2="821.7" y2="966.12" stroke="#111" stroke-width="1.6"/>
<line x1="810.7" y1="971.53" x2="821.7" y2="971.53" stroke="#111" stroke-width="1.6"/>
<line x1="850.4" y1="950.15" x2="850.4" y2="956.9" stroke="#111" stroke-width="1.6"/>
<line x1="844.9" y1="950.15" x2="855.9" y2="950.15" stroke="#111" stroke-width="1.6"/>
<line x1="844.9" y1="956.9" x2="855.9" y2="956.9" stroke="#111" stroke-width="1.6"/>
<rect x="607.4" y="968.6" width="7.2" height="7.2" fill="#1414d0"/>
<rect x="641.6" y="970.18" width="7.2" height="7.2" fill="#1414d0"/>
<rect x="675.8" y="968.6" width="7.2" height="7.2" fill="#1414d0"/>
<rect x="710" y="969.73" width="7.2" height="7.2" fill="#1414d0"/>
<rect x="744.2" y="967.48" width="7.2" height="7.2" fill="#1414d0"/>
<rect x="778.4" y="965.23" width="7.2" height="7.2" fill="#1414d0"/>
<rect x="812.6" y="965.23" width="7.2" height="7.2" fill="#1414d0"/>
<rect x="846.8" y="949.93" width="7.2" height="7.2" fill="#1414d0"/>
<path d="M611 972.2 L645.2 968.83 L679.4 969.5 L713.6 967.7 L747.8 953.53 L782 939.12 L816.2 911.45 L850.4 884.45" fill="none" stroke="#000" stroke-width="2.2" stroke-linejoin="round" stroke-dasharray="8 4"/>
<line x1="645.2" y1="965.45" x2="645.2" y2="972.2" stroke="#000" stroke-width="1.6"/>
<line x1="639.7" y1="965.45" x2="650.7" y2="965.45" stroke="#000" stroke-width="1.6"/>
<line x1="639.7" y1="972.2" x2="650.7" y2="972.2" stroke="#000" stroke-width="1.6"/>
<line x1="679.4" y1="966.12" x2="679.4" y2="972.88" stroke="#000" stroke-width="1.6"/>
<line x1="673.9" y1="966.12" x2="684.9" y2="966.12" stroke="#000" stroke-width="1.6"/>
<line x1="673.9" y1="972.88" x2="684.9" y2="972.88" stroke="#000" stroke-width="1.6"/>
<line x1="713.6" y1="964.33" x2="713.6" y2="971.08" stroke="#000" stroke-width="1.6"/>
<line x1="708.1" y1="964.33" x2="719.1" y2="964.33" stroke="#000" stroke-width="1.6"/>
<line x1="708.1" y1="971.08" x2="719.1" y2="971.08" stroke="#000" stroke-width="1.6"/>
<line x1="747.8" y1="947.9" x2="747.8" y2="959.15" stroke="#000" stroke-width="1.6"/>
<line x1="742.3" y1="947.9" x2="753.3" y2="947.9" stroke="#000" stroke-width="1.6"/>
<line x1="742.3" y1="959.15" x2="753.3" y2="959.15" stroke="#000" stroke-width="1.6"/>
<line x1="782" y1="934.62" x2="782" y2="943.62" stroke="#000" stroke-width="1.6"/>
<line x1="776.5" y1="934.62" x2="787.5" y2="934.62" stroke="#000" stroke-width="1.6"/>
<line x1="776.5" y1="943.62" x2="787.5" y2="943.62" stroke="#000" stroke-width="1.6"/>
<line x1="816.2" y1="904.7" x2="816.2" y2="918.2" stroke="#000" stroke-width="1.6"/>
<line x1="810.7" y1="904.7" x2="821.7" y2="904.7" stroke="#000" stroke-width="1.6"/>
<line x1="810.7" y1="918.2" x2="821.7" y2="918.2" stroke="#000" stroke-width="1.6"/>
<line x1="850.4" y1="874.55" x2="850.4" y2="894.35" stroke="#000" stroke-width="1.6"/>
<line x1="844.9" y1="874.55" x2="855.9" y2="874.55" stroke="#000" stroke-width="1.6"/>
<line x1="844.9" y1="894.35" x2="855.9" y2="894.35" stroke="#000" stroke-width="1.6"/>
<path d="M611 968.02 L607.25 974.77 L614.75 974.77 Z" fill="#000"/>
<path d="M645.2 964.64 L641.45 971.39 L648.95 971.39 Z" fill="#000"/>
<path d="M679.4 965.32 L675.65 972.07 L683.15 972.07 Z" fill="#000"/>
<path d="M713.6 963.52 L709.85 970.27 L717.35 970.27 Z" fill="#000"/>
<path d="M747.8 949.34 L744.05 956.09 L751.55 956.09 Z" fill="#000"/>
<path d="M782 934.94 L778.25 941.69 L785.75 941.69 Z" fill="#000"/>
<path d="M816.2 907.27 L812.45 914.02 L819.95 914.02 Z" fill="#000"/>
<path d="M850.4 880.27 L846.65 887.02 L854.15 887.02 Z" fill="#000"/>
<path d="M611 972.2 L645.2 968.15 L679.4 967.25 L713.6 956.9 L747.8 942.5 L782 924.95 L816.2 896.15 L850.4 865.33" fill="none" stroke="#000" stroke-width="2.3" stroke-linejoin="round"/>
<line x1="645.2" y1="961.4" x2="645.2" y2="974.9" stroke="#000" stroke-width="1.6"/>
<line x1="639.7" y1="961.4" x2="650.7" y2="961.4" stroke="#000" stroke-width="1.6"/>
<line x1="639.7" y1="974.9" x2="650.7" y2="974.9" stroke="#000" stroke-width="1.6"/>
<line x1="679.4" y1="965" x2="679.4" y2="969.5" stroke="#000" stroke-width="1.6"/>
<line x1="673.9" y1="965" x2="684.9" y2="965" stroke="#000" stroke-width="1.6"/>
<line x1="673.9" y1="969.5" x2="684.9" y2="969.5" stroke="#000" stroke-width="1.6"/>
<line x1="713.6" y1="954.2" x2="713.6" y2="959.6" stroke="#000" stroke-width="1.6"/>
<line x1="708.1" y1="954.2" x2="719.1" y2="954.2" stroke="#000" stroke-width="1.6"/>
<line x1="708.1" y1="959.6" x2="719.1" y2="959.6" stroke="#000" stroke-width="1.6"/>
<line x1="747.8" y1="938.9" x2="747.8" y2="946.1" stroke="#000" stroke-width="1.6"/>
<line x1="742.3" y1="938.9" x2="753.3" y2="938.9" stroke="#000" stroke-width="1.6"/>
<line x1="742.3" y1="946.1" x2="753.3" y2="946.1" stroke="#000" stroke-width="1.6"/>
<line x1="782" y1="919.33" x2="782" y2="930.58" stroke="#000" stroke-width="1.6"/>
<line x1="776.5" y1="919.33" x2="787.5" y2="919.33" stroke="#000" stroke-width="1.6"/>
<line x1="776.5" y1="930.58" x2="787.5" y2="930.58" stroke="#000" stroke-width="1.6"/>
<line x1="816.2" y1="889.4" x2="816.2" y2="902.9" stroke="#000" stroke-width="1.6"/>
<line x1="810.7" y1="889.4" x2="821.7" y2="889.4" stroke="#000" stroke-width="1.6"/>
<line x1="810.7" y1="902.9" x2="821.7" y2="902.9" stroke="#000" stroke-width="1.6"/>
<line x1="850.4" y1="855.88" x2="850.4" y2="874.78" stroke="#000" stroke-width="1.6"/>
<line x1="844.9" y1="855.88" x2="855.9" y2="855.88" stroke="#000" stroke-width="1.6"/>
<line x1="844.9" y1="874.78" x2="855.9" y2="874.78" stroke="#000" stroke-width="1.6"/>
<circle cx="611" cy="972.2" r="3.9" fill="#000"/>
<circle cx="645.2" cy="968.15" r="3.9" fill="#000"/>
<circle cx="679.4" cy="967.25" r="3.9" fill="#000"/>
<circle cx="713.6" cy="956.9" r="3.9" fill="#000"/>
<circle cx="747.8" cy="942.5" r="3.9" fill="#000"/>
<circle cx="782" cy="924.95" r="3.9" fill="#000"/>
<circle cx="816.2" cy="896.15" r="3.9" fill="#000"/>
<circle cx="850.4" cy="865.33" r="3.9" fill="#000"/>
<rect x="607.2" y="968.4" width="7.6" height="7.6" fill="#111"/>
<text x="713.6" y="939" font-size="13.5" text-anchor="middle">+</text>
<text x="713.6" y="952.5" font-size="15" text-anchor="middle">*</text>
<text x="747.8" y="922.8" font-size="13.5" text-anchor="middle">+</text>
<text x="747.8" y="935.5" font-size="15" text-anchor="middle">*</text>
<text x="782" y="885" font-size="13.5" text-anchor="middle">+</text>
<text x="782" y="898.5" font-size="15" text-anchor="middle">*</text>
<path d="M777.8 897.7 L786.2 897.7 L782 905 Z" fill="none" stroke="#000" stroke-width="1.3"/>
<circle cx="782" cy="910.7" r="2.6" fill="none" stroke="#000" stroke-width="1.3"/>
<text x="816.2" y="852" font-size="13.5" text-anchor="middle">+</text>
<text x="816.2" y="865.5" font-size="15" text-anchor="middle">*</text>
<path d="M812 865.7 L820.4 865.7 L816.2 873 Z" fill="none" stroke="#000" stroke-width="1.3"/>
<circle cx="816.2" cy="878.5" r="2.6" fill="none" stroke="#000" stroke-width="1.3"/>
<path d="M812.9 935.4 L819.5 935.4 L816.2 929.4 Z" fill="#000"/>
<text x="850.4" y="817.8" font-size="13.5" text-anchor="middle">+</text>
<text x="850.4" y="831.5" font-size="15" text-anchor="middle">*</text>
<path d="M846.2 831.2 L854.6 831.2 L850.4 838.5 Z" fill="none" stroke="#000" stroke-width="1.3"/>
<circle cx="850.4" cy="845.3" r="2.6" fill="none" stroke="#000" stroke-width="1.3"/>
<path d="M847.1 918.2 L853.7 918.2 L850.4 912.2 Z" fill="#000"/>
<circle cx="603.5" cy="838.6" r="2.6" fill="#000"/>
<text x="611.7" y="842" font-size="12.3">WT</text>
<path d="M601 850.6 L606 850.6 L603.5 855.4 Z" fill="#000"/>
<text x="611.7" y="857.3" font-size="12.3"><tspan font-style="italic">lpr</tspan><tspan>/+</tspan></text>
<rect x="600.8" y="866" width="5.4" height="5.4" fill="#1414e6"/>
<text x="611.7" y="872.7" font-size="12.3"><tspan font-style="italic">lpr</tspan><tspan font-style="italic">/</tspan><tspan font-style="italic">lpr</tspan></text>
<path d="M601 886.4 L606 886.4 L603.5 881.6 Z" fill="#f08a2a"/>
<text x="611.7" y="887.9" font-size="12.3"><tspan>FasC194V</tspan><tspan font-size="8.86" dy="-5.17" font-style="italic">lpr/lpr</tspan></text>
<line x1="659" y1="834.5" x2="659" y2="874" stroke="#000" stroke-width="2.6"/>
<line x1="683.1" y1="850.4" x2="683.1" y2="874" stroke="#000" stroke-width="2.6"/>
<line x1="706.8" y1="864" x2="706.8" y2="887" stroke="#000" stroke-width="2.6"/>
<line x1="731.8" y1="834.5" x2="731.8" y2="887" stroke="#000" stroke-width="2.6"/>
<line x1="755.8" y1="850.4" x2="755.8" y2="887" stroke="#000" stroke-width="2.6"/>
<text x="666.9" y="859.8" font-size="15" text-anchor="middle">*</text>
<circle cx="688.8" cy="863" r="2.6" fill="none" stroke="#000" stroke-width="1.3"/>
<path d="M710.9 878.6 L717.5 878.6 L714.2 872.6 Z" fill="#000"/>
<text x="739.6" y="866.3" font-size="13.5" text-anchor="middle">+</text>
<path d="M759.8 865.7 L768.2 865.7 L764 873 Z" fill="none" stroke="#000" stroke-width="1.3"/>
<text x="4.5" y="1119" font-size="24" font-weight="bold">g</text>
<line x1="102.2" y1="1163.7" x2="102.2" y2="1351.15" stroke="#000" stroke-width="1.5"/>
<line x1="101.45" y1="1350.4" x2="380.5" y2="1350.4" stroke="#000" stroke-width="1.5"/>
<line x1="97.2" y1="1350.4" x2="102.2" y2="1350.4" stroke="#000" stroke-width="1.4"/>
<text x="89.5" y="1356.34" font-size="16.5" text-anchor="end">0</text>
<line x1="97.2" y1="1303.88" x2="102.2" y2="1303.88" stroke="#000" stroke-width="1.4"/>
<text x="89.5" y="1309.82" font-size="16.5" text-anchor="end">1</text>
<line x1="97.2" y1="1257.35" x2="102.2" y2="1257.35" stroke="#000" stroke-width="1.4"/>
<text x="89.5" y="1263.29" font-size="16.5" text-anchor="end">2</text>
<line x1="97.2" y1="1210.83" x2="102.2" y2="1210.83" stroke="#000" stroke-width="1.4"/>
<text x="89.5" y="1216.77" font-size="16.5" text-anchor="end">3</text>
<line x1="97.2" y1="1164.3" x2="102.2" y2="1164.3" stroke="#000" stroke-width="1.4"/>
<text x="89.5" y="1170.24" font-size="16.5" text-anchor="end">4</text>
<line x1="137.1" y1="1350.4" x2="137.1" y2="1359.4" stroke="#000" stroke-width="1.4"/>
<line x1="206.9" y1="1350.4" x2="206.9" y2="1359.4" stroke="#000" stroke-width="1.4"/>
<line x1="276.6" y1="1350.4" x2="276.6" y2="1359.4" stroke="#000" stroke-width="1.4"/>
<line x1="346.4" y1="1350.4" x2="346.4" y2="1359.4" stroke="#000" stroke-width="1.4"/>
<text x="126" y="1380.3" font-size="16.5"><tspan>WT</tspan></text>
<text x="194.2" y="1380.3" font-size="16.5"><tspan font-style="italic">lpr</tspan><tspan>/+</tspan></text>
<text x="257" y="1380.3" font-size="16.5"><tspan font-style="italic">lpr</tspan><tspan font-style="italic">/</tspan><tspan font-style="italic">lpr</tspan></text>
<text x="324.2" y="1380.3" font-size="16.5"><tspan>FasC194V</tspan><tspan font-size="11.88" dy="-6.93" font-style="italic">lpr/lpr</tspan></text>
<text x="45.5" y="1258.7" font-size="16.5" text-anchor="middle" transform="rotate(-90 45.5 1258.7)"><tspan>Anti-nuclear antibodies (ANA)</tspan></text>
<text x="65.3" y="1261.2" font-size="16.5" text-anchor="middle" transform="rotate(-90 65.3 1261.2)"><tspan>positive index</tspan></text>
<line x1="131.9" y1="1132.9" x2="354.1" y2="1132.9" stroke="#000" stroke-width="3.2"/>
<text x="243.5" y="1128.1" font-size="16.5" text-anchor="middle">NS</text>
<line x1="131.7" y1="1156.2" x2="271.9" y2="1156.2" stroke="#000" stroke-width="3.2"/>
<text x="195.3" y="1151.9" font-size="16" text-anchor="middle">***</text>
<line x1="203" y1="1179.2" x2="271.2" y2="1179.2" stroke="#000" stroke-width="3.2"/>
<text x="237.6" y="1176.7" font-size="16" text-anchor="middle">***</text>
<line x1="287.7" y1="1179.2" x2="355" y2="1179.2" stroke="#000" stroke-width="3.2"/>
<text x="322.6" y="1176.7" font-size="16" text-anchor="middle">***</text>
<line x1="136.5" y1="1270.5" x2="203.7" y2="1270.5" stroke="#000" stroke-width="4.4"/>
<text x="170.4" y="1259" font-size="16.5" text-anchor="middle">NS</text>
<circle cx="131.8" cy="1300.4" r="3.4" fill="#000"/>
<circle cx="142.9" cy="1302.9" r="3.4" fill="#000"/>
<circle cx="120.7" cy="1316.7" r="3.4" fill="#000"/>
<circle cx="154" cy="1315.8" r="3.4" fill="#000"/>
<circle cx="131.8" cy="1322.9" r="3.4" fill="#000"/>
<circle cx="142.9" cy="1320.7" r="3.4" fill="#000"/>
<circle cx="154.8" cy="1324.1" r="3.4" fill="#000"/>
<circle cx="120.7" cy="1326.6" r="3.4" fill="#000"/>
<circle cx="126.6" cy="1329.6" r="3.4" fill="#000"/>
<circle cx="134" cy="1330.3" r="3.4" fill="#000"/>
<circle cx="141.4" cy="1328.8" r="3.4" fill="#000"/>
<circle cx="148.8" cy="1328.1" r="3.4" fill="#000"/>
<circle cx="129.6" cy="1333.3" r="3.4" fill="#000"/>
<circle cx="137" cy="1334.8" r="3.4" fill="#000"/>
<circle cx="144.4" cy="1332.5" r="3.4" fill="#000"/>
<circle cx="125.9" cy="1339.2" r="3.4" fill="#000"/>
<circle cx="137" cy="1347.3" r="3.4" fill="#000"/>
<circle cx="148.5" cy="1345.9" r="3.4" fill="#000"/>
<circle cx="124" cy="1325" r="3.4" fill="#000"/>
<circle cx="131" cy="1326.5" r="3.4" fill="#000"/>
<circle cx="138" cy="1327.5" r="3.4" fill="#000"/>
<circle cx="145" cy="1326" r="3.4" fill="#000"/>
<circle cx="152" cy="1327" r="3.4" fill="#000"/>
<circle cx="128" cy="1331" r="3.4" fill="#000"/>
<circle cx="135" cy="1332" r="3.4" fill="#000"/>
<circle cx="142" cy="1331" r="3.4" fill="#000"/>
<circle cx="149" cy="1330" r="3.4" fill="#000"/>
<line x1="114" y1="1327.1" x2="160.7" y2="1327.1" stroke="#000" stroke-width="2"/>
<rect x="186.9" y="1313.6" width="6.8" height="6.8" fill="#000"/>
<rect x="220.2" y="1317.3" width="6.8" height="6.8" fill="#000"/>
<rect x="198" y="1321" width="6.8" height="6.8" fill="#000"/>
<rect x="209.1" y="1321.7" width="6.8" height="6.8" fill="#000"/>
<rect x="186.1" y="1324" width="6.8" height="6.8" fill="#000"/>
<rect x="191.3" y="1326.2" width="6.8" height="6.8" fill="#000"/>
<rect x="198.7" y="1326.9" width="6.8" height="6.8" fill="#000"/>
<rect x="203.2" y="1328.4" width="6.8" height="6.8" fill="#000"/>
<rect x="209.1" y="1327.7" width="6.8" height="6.8" fill="#000"/>
<rect x="215" y="1326.2" width="6.8" height="6.8" fill="#000"/>
<rect x="220.9" y="1324" width="6.8" height="6.8" fill="#000"/>
<rect x="192.8" y="1329.1" width="6.8" height="6.8" fill="#000"/>
<rect x="204.6" y="1334.3" width="6.8" height="6.8" fill="#000"/>
<rect x="200.2" y="1332.1" width="6.8" height="6.8" fill="#000"/>
<rect x="210.6" y="1331.4" width="6.8" height="6.8" fill="#000"/>
<rect x="195.6" y="1330.6" width="6.8" height="6.8" fill="#000"/>
<rect x="213.6" y="1329.6" width="6.8" height="6.8" fill="#000"/>
<rect x="206.6" y="1332.6" width="6.8" height="6.8" fill="#000"/>
<line x1="184.4" y1="1330.3" x2="230.2" y2="1330.3" stroke="#000" stroke-width="2"/>
<path d="M265.5 1198.52 L261.8 1205.32 L269.2 1205.32 Z" fill="#000"/>
<path d="M287.7 1200.72 L284 1207.52 L291.4 1207.52 Z" fill="#000"/>
<path d="M276.7 1204.02 L273 1210.82 L280.4 1210.82 Z" fill="#000"/>
<path d="M271.1 1213.72 L267.4 1220.52 L274.8 1220.52 Z" fill="#000"/>
<path d="M282.2 1220.22 L278.5 1227.02 L285.9 1227.02 Z" fill="#000"/>
<path d="M260 1283.62 L256.3 1290.42 L263.7 1290.42 Z" fill="#000"/>
<path d="M293.3 1284.32 L289.6 1291.12 L297 1291.12 Z" fill="#000"/>
<path d="M271.1 1292.52 L267.4 1299.32 L274.8 1299.32 Z" fill="#000"/>
<path d="M282.2 1293.22 L278.5 1300.02 L285.9 1300.02 Z" fill="#000"/>
<path d="M257.5 1306.52 L253.8 1313.32 L261.2 1313.32 Z" fill="#000"/>
<path d="M265.2 1308.72 L261.5 1315.52 L268.9 1315.52 Z" fill="#000"/>
<path d="M272.9 1310.22 L269.2 1317.02 L276.6 1317.02 Z" fill="#000"/>
<path d="M280.7 1309.52 L277 1316.32 L284.4 1316.32 Z" fill="#000"/>
<path d="M288.1 1307.02 L284.4 1313.82 L291.8 1313.82 Z" fill="#000"/>
<path d="M296 1305.52 L292.3 1312.32 L299.7 1312.32 Z" fill="#000"/>
<path d="M276.3 1268.92 L272.6 1275.72 L280 1275.72 Z" fill="#000"/>
<line x1="253.6" y1="1272.4" x2="300" y2="1272.4" stroke="#000" stroke-width="2"/>
<line x1="276.3" y1="1261.3" x2="276.3" y2="1283.5" stroke="#000" stroke-width="2"/>
<line x1="264.1" y1="1261.3" x2="288.5" y2="1261.3" stroke="#000" stroke-width="2"/>
<line x1="264.1" y1="1283.5" x2="288.5" y2="1283.5" stroke="#000" stroke-width="2"/>
<path d="M346.6 1294.68 L342.9 1287.88 L350.3 1287.88 Z" fill="#000"/>
<path d="M352 1297.68 L348.3 1290.88 L355.7 1290.88 Z" fill="#000"/>
<path d="M335.2 1308.38 L331.5 1301.58 L338.9 1301.58 Z" fill="#000"/>
<path d="M328.5 1319.88 L324.8 1313.08 L332.2 1313.08 Z" fill="#000"/>
<path d="M340.6 1319.08 L336.9 1312.28 L344.3 1312.28 Z" fill="#000"/>
<path d="M352 1319.08 L348.3 1312.28 L355.7 1312.28 Z" fill="#000"/>
<path d="M363.6 1320.58 L359.9 1313.78 L367.3 1313.78 Z" fill="#000"/>
<path d="M326.5 1323.08 L322.8 1316.28 L330.2 1316.28 Z" fill="#000"/>
<path d="M332 1325.08 L328.3 1318.28 L335.7 1318.28 Z" fill="#000"/>
<path d="M338 1326.08 L334.3 1319.28 L341.7 1319.28 Z" fill="#000"/>
<path d="M344 1327.08 L340.3 1320.28 L347.7 1320.28 Z" fill="#000"/>
<path d="M350 1326.08 L346.3 1319.28 L353.7 1319.28 Z" fill="#000"/>
<path d="M356 1325.08 L352.3 1318.28 L359.7 1318.28 Z" fill="#000"/>
<path d="M362 1323.58 L358.3 1316.78 L365.7 1316.78 Z" fill="#000"/>
<path d="M367 1322.58 L363.3 1315.78 L370.7 1315.78 Z" fill="#000"/>
<path d="M330 1330.08 L326.3 1323.28 L333.7 1323.28 Z" fill="#000"/>
<path d="M336 1332.08 L332.3 1325.28 L339.7 1325.28 Z" fill="#000"/>
<path d="M342 1333.08 L338.3 1326.28 L345.7 1326.28 Z" fill="#000"/>
<path d="M348 1333.08 L344.3 1326.28 L351.7 1326.28 Z" fill="#000"/>
<path d="M354 1331.58 L350.3 1324.78 L357.7 1324.78 Z" fill="#000"/>
<path d="M360 1329.58 L356.3 1322.78 L363.7 1322.78 Z" fill="#000"/>
<path d="M334 1336.08 L330.3 1329.28 L337.7 1329.28 Z" fill="#000"/>
<path d="M340 1338.08 L336.3 1331.28 L343.7 1331.28 Z" fill="#000"/>
<path d="M346 1339.08 L342.3 1332.28 L349.7 1332.28 Z" fill="#000"/>
<path d="M352 1337.58 L348.3 1330.78 L355.7 1330.78 Z" fill="#000"/>
<path d="M358 1335.08 L354.3 1328.28 L361.7 1328.28 Z" fill="#000"/>
<path d="M343 1343.08 L339.3 1336.28 L346.7 1336.28 Z" fill="#000"/>
<path d="M349 1342.08 L345.3 1335.28 L352.7 1335.28 Z" fill="#000"/>
<path d="M346 1345.08 L342.3 1338.28 L349.7 1338.28 Z" fill="#000"/>
<line x1="323.2" y1="1322.7" x2="369.8" y2="1322.7" stroke="#000" stroke-width="2"/>
<line x1="333" y1="1326.5" x2="341" y2="1326.5" stroke="#fff" stroke-width="1.2"/>
<line x1="351" y1="1327.5" x2="358" y2="1327.5" stroke="#fff" stroke-width="1.2"/>
<text x="494" y="1124.4" font-size="24" font-weight="bold">h</text>
<line x1="590.3" y1="1164.3" x2="590.3" y2="1352.15" stroke="#000" stroke-width="1.5"/>
<line x1="589.55" y1="1351.4" x2="868.5" y2="1351.4" stroke="#000" stroke-width="1.5"/>
<line x1="585.3" y1="1351.4" x2="590.3" y2="1351.4" stroke="#000" stroke-width="1.4"/>
<text x="576.2" y="1357.34" font-size="16.5" text-anchor="end">0</text>
<line x1="585.3" y1="1304.78" x2="590.3" y2="1304.78" stroke="#000" stroke-width="1.4"/>
<text x="576.2" y="1310.72" font-size="16.5" text-anchor="end">1</text>
<line x1="585.3" y1="1258.15" x2="590.3" y2="1258.15" stroke="#000" stroke-width="1.4"/>
<text x="576.2" y="1264.09" font-size="16.5" text-anchor="end">2</text>
<line x1="585.3" y1="1211.53" x2="590.3" y2="1211.53" stroke="#000" stroke-width="1.4"/>
<text x="576.2" y="1217.47" font-size="16.5" text-anchor="end">3</text>
<line x1="585.3" y1="1164.9" x2="590.3" y2="1164.9" stroke="#000" stroke-width="1.4"/>
<text x="576.2" y="1170.84" font-size="16.5" text-anchor="end">4</text>
<line x1="625" y1="1351.4" x2="625" y2="1360.4" stroke="#000" stroke-width="1.4"/>
<line x1="694.8" y1="1351.4" x2="694.8" y2="1360.4" stroke="#000" stroke-width="1.4"/>
<line x1="764" y1="1351.4" x2="764" y2="1360.4" stroke="#000" stroke-width="1.4"/>
<line x1="833.7" y1="1351.4" x2="833.7" y2="1360.4" stroke="#000" stroke-width="1.4"/>
<text x="611.7" y="1380.8" font-size="16.5"><tspan>WT</tspan></text>
<text x="678.9" y="1380.8" font-size="16.5"><tspan font-style="italic">lpr</tspan><tspan>/+</tspan></text>
<text x="742.4" y="1380.8" font-size="16.5"><tspan font-style="italic">lpr</tspan><tspan font-style="italic">/</tspan><tspan font-style="italic">lpr</tspan></text>
<text x="809" y="1380.8" font-size="16.5"><tspan>FasC194V</tspan><tspan font-size="11.88" dy="-6.93" font-style="italic">lpr/lpr</tspan></text>
<text x="531.2" y="1262.4" font-size="16.5" text-anchor="middle" transform="rotate(-90 531.2 1262.4)"><tspan>Anti-dsDNA</tspan></text>
<text x="550.9" y="1264.8" font-size="16.5" text-anchor="middle" transform="rotate(-90 550.9 1264.8)"><tspan>positive index</tspan></text>
<line x1="615.5" y1="1127.8" x2="838" y2="1127.8" stroke="#000" stroke-width="3.2"/>
<text x="726.8" y="1125.7" font-size="16" text-anchor="middle">*</text>
<line x1="615.5" y1="1154.8" x2="754.4" y2="1154.8" stroke="#000" stroke-width="3.2"/>
<text x="687" y="1147.1" font-size="16" text-anchor="middle">***</text>
<line x1="686" y1="1178.4" x2="754.4" y2="1178.4" stroke="#000" stroke-width="3.2"/>
<text x="721.4" y="1173" font-size="16" text-anchor="middle">***</text>
<line x1="770.6" y1="1178.4" x2="838" y2="1178.4" stroke="#000" stroke-width="3.2"/>
<text x="805" y="1173" font-size="16" text-anchor="middle">***</text>
<line x1="620.3" y1="1269.6" x2="687.8" y2="1269.6" stroke="#000" stroke-width="4.4"/>
<text x="653.6" y="1259" font-size="16.5" text-anchor="middle">NS</text>
<circle cx="625.2" cy="1291" r="3.4" fill="#000"/>
<circle cx="607.5" cy="1300.3" r="3.4" fill="#000"/>
<circle cx="643" cy="1298.9" r="3.4" fill="#000"/>
<circle cx="637.1" cy="1301.4" r="3.4" fill="#000"/>
<circle cx="612.9" cy="1305.5" r="3.4" fill="#000"/>
<circle cx="619.3" cy="1308.2" r="3.4" fill="#000"/>
<circle cx="625.2" cy="1308.2" r="3.4" fill="#000"/>
<circle cx="631.1" cy="1308.2" r="3.4" fill="#000"/>
<circle cx="607" cy="1309.2" r="3.4" fill="#000"/>
<circle cx="642.5" cy="1309.2" r="3.4" fill="#000"/>
<circle cx="613.7" cy="1312.9" r="3.4" fill="#000"/>
<circle cx="619.6" cy="1314.4" r="3.4" fill="#000"/>
<circle cx="625.5" cy="1315.9" r="3.4" fill="#000"/>
<circle cx="631.4" cy="1315.1" r="3.4" fill="#000"/>
<circle cx="637.4" cy="1314.4" r="3.4" fill="#000"/>
<circle cx="624.8" cy="1320.3" r="3.4" fill="#000"/>
<circle cx="608.5" cy="1326.2" r="3.4" fill="#000"/>
<circle cx="641.8" cy="1327" r="3.4" fill="#000"/>
<circle cx="619.6" cy="1332.2" r="3.4" fill="#000"/>
<circle cx="630.7" cy="1332.5" r="3.4" fill="#000"/>
<circle cx="625.2" cy="1351.1" r="3.4" fill="#000"/>
<circle cx="613" cy="1310" r="3.4" fill="#000"/>
<circle cx="620" cy="1311" r="3.4" fill="#000"/>
<circle cx="628" cy="1311.5" r="3.4" fill="#000"/>
<circle cx="635" cy="1311" r="3.4" fill="#000"/>
<circle cx="641" cy="1312" r="3.4" fill="#000"/>
<circle cx="616" cy="1318" r="3.4" fill="#000"/>
<circle cx="623" cy="1318.5" r="3.4" fill="#000"/>
<circle cx="630" cy="1318" r="3.4" fill="#000"/>
<line x1="602.1" y1="1314.4" x2="648" y2="1314.4" stroke="#000" stroke-width="2"/>
<rect x="672.4" y="1301.4" width="6.8" height="6.8" fill="#000"/>
<rect x="685.8" y="1299.9" width="6.8" height="6.8" fill="#000"/>
<rect x="696.9" y="1300.3" width="6.8" height="6.8" fill="#000"/>
<rect x="710.2" y="1304.3" width="6.8" height="6.8" fill="#000"/>
<rect x="675.4" y="1306.6" width="6.8" height="6.8" fill="#000"/>
<rect x="681.3" y="1308" width="6.8" height="6.8" fill="#000"/>
<rect x="688.7" y="1308.8" width="6.8" height="6.8" fill="#000"/>
<rect x="694.6" y="1309.5" width="6.8" height="6.8" fill="#000"/>
<rect x="702" y="1308.8" width="6.8" height="6.8" fill="#000"/>
<rect x="708" y="1308" width="6.8" height="6.8" fill="#000"/>
<rect x="672.4" y="1312.5" width="6.8" height="6.8" fill="#000"/>
<rect x="681.3" y="1314.7" width="6.8" height="6.8" fill="#000"/>
<rect x="700.6" y="1315.4" width="6.8" height="6.8" fill="#000"/>
<rect x="709.4" y="1314" width="6.8" height="6.8" fill="#000"/>
<rect x="690.9" y="1322.8" width="6.8" height="6.8" fill="#000"/>
<line x1="671.4" y1="1312.9" x2="717.6" y2="1312.9" stroke="#000" stroke-width="2"/>
<path d="M753.4 1184.82 L749.7 1191.62 L757.1 1191.62 Z" fill="#000"/>
<path d="M764.3 1185.12 L760.6 1191.92 L768 1191.92 Z" fill="#000"/>
<path d="M775.6 1185.12 L771.9 1191.92 L779.3 1191.92 Z" fill="#000"/>
<path d="M782.5 1203.32 L778.8 1210.12 L786.2 1210.12 Z" fill="#000"/>
<path d="M746.6 1211.42 L742.9 1218.22 L750.3 1218.22 Z" fill="#000"/>
<path d="M755.5 1211.72 L751.8 1218.52 L759.2 1218.52 Z" fill="#000"/>
<path d="M764.3 1211.92 L760.6 1218.72 L768 1218.72 Z" fill="#000"/>
<path d="M773.4 1211.42 L769.7 1218.22 L777.1 1218.22 Z" fill="#000"/>
<path d="M764.3 1230.72 L760.6 1237.52 L768 1237.52 Z" fill="#000"/>
<path d="M747.5 1246.62 L743.8 1253.42 L751.2 1253.42 Z" fill="#000"/>
<path d="M781.1 1247.72 L777.4 1254.52 L784.8 1254.52 Z" fill="#000"/>
<path d="M758.9 1252.92 L755.2 1259.72 L762.6 1259.72 Z" fill="#000"/>
<path d="M770 1254.02 L766.3 1260.82 L773.7 1260.82 Z" fill="#000"/>
<path d="M753.4 1264.72 L749.7 1271.52 L757.1 1271.52 Z" fill="#000"/>
<path d="M775.6 1266.52 L771.9 1273.32 L779.3 1273.32 Z" fill="#000"/>
<path d="M764.3 1272.82 L760.6 1279.62 L768 1279.62 Z" fill="#000"/>
<line x1="741.1" y1="1231.1" x2="787.7" y2="1231.1" stroke="#000" stroke-width="2"/>
<line x1="764.5" y1="1223.2" x2="764.5" y2="1238.8" stroke="#000" stroke-width="2"/>
<line x1="752.1" y1="1223.2" x2="776.9" y2="1223.2" stroke="#000" stroke-width="2"/>
<line x1="752.1" y1="1238.8" x2="776.9" y2="1238.8" stroke="#000" stroke-width="2"/>
<path d="M834 1246.28 L830.3 1239.48 L837.7 1239.48 Z" fill="#000"/>
<path d="M834 1263.98 L830.3 1257.18 L837.7 1257.18 Z" fill="#000"/>
<path d="M845.1 1272.58 L841.4 1265.78 L848.8 1265.78 Z" fill="#000"/>
<path d="M822.9 1276.58 L819.2 1269.78 L826.6 1269.78 Z" fill="#000"/>
<path d="M834 1283.98 L830.3 1277.18 L837.7 1277.18 Z" fill="#000"/>
<path d="M814.4 1295.78 L810.7 1288.98 L818.1 1288.98 Z" fill="#000"/>
<path d="M822.5 1298.08 L818.8 1291.28 L826.2 1291.28 Z" fill="#000"/>
<path d="M834 1298.78 L830.3 1291.98 L837.7 1291.98 Z" fill="#000"/>
<path d="M845.4 1296.58 L841.7 1289.78 L849.1 1289.78 Z" fill="#000"/>
<path d="M853.6 1294.38 L849.9 1287.58 L857.3 1287.58 Z" fill="#000"/>
<path d="M818.1 1303.98 L814.4 1297.18 L821.8 1297.18 Z" fill="#000"/>
<path d="M826.2 1305.48 L822.5 1298.68 L829.9 1298.68 Z" fill="#000"/>
<path d="M833.6 1304.68 L829.9 1297.88 L837.3 1297.88 Z" fill="#000"/>
<path d="M841 1304.68 L837.3 1297.88 L844.7 1297.88 Z" fill="#000"/>
<path d="M848.4 1303.98 L844.7 1297.18 L852.1 1297.18 Z" fill="#000"/>
<path d="M820.3 1309.88 L816.6 1303.08 L824 1303.08 Z" fill="#000"/>
<path d="M827.7 1311.38 L824 1304.58 L831.4 1304.58 Z" fill="#000"/>
<path d="M835.1 1310.58 L831.4 1303.78 L838.8 1303.78 Z" fill="#000"/>
<path d="M842.5 1309.88 L838.8 1303.08 L846.2 1303.08 Z" fill="#000"/>
<path d="M818.8 1316.58 L815.1 1309.78 L822.5 1309.78 Z" fill="#000"/>
<path d="M825.5 1320.98 L821.8 1314.18 L829.2 1314.18 Z" fill="#000"/>
<path d="M832.1 1323.98 L828.4 1317.18 L835.8 1317.18 Z" fill="#000"/>
<path d="M837.3 1322.48 L833.6 1315.68 L841 1315.68 Z" fill="#000"/>
<path d="M842.5 1317.28 L838.8 1310.48 L846.2 1310.48 Z" fill="#000"/>
<path d="M848.4 1315.78 L844.7 1308.98 L852.1 1308.98 Z" fill="#000"/>
<path d="M830.6 1314.28 L826.9 1307.48 L834.3 1307.48 Z" fill="#000"/>
<path d="M815 1301.08 L811.3 1294.28 L818.7 1294.28 Z" fill="#000"/>
<path d="M821 1302.08 L817.3 1295.28 L824.7 1295.28 Z" fill="#000"/>
<path d="M828 1300.58 L824.3 1293.78 L831.7 1293.78 Z" fill="#000"/>
<path d="M839 1301.08 L835.3 1294.28 L842.7 1294.28 Z" fill="#000"/>
<path d="M846 1300.08 L842.3 1293.28 L849.7 1293.28 Z" fill="#000"/>
<path d="M852 1301.58 L848.3 1294.78 L855.7 1294.78 Z" fill="#000"/>
<path d="M824 1307.08 L820.3 1300.28 L827.7 1300.28 Z" fill="#000"/>
<path d="M831 1308.08 L827.3 1301.28 L834.7 1301.28 Z" fill="#000"/>
<path d="M838 1307.08 L834.3 1300.28 L841.7 1300.28 Z" fill="#000"/>
<path d="M845 1306.58 L841.3 1299.78 L848.7 1299.78 Z" fill="#000"/>
<path d="M827 1317.08 L823.3 1310.28 L830.7 1310.28 Z" fill="#000"/>
<path d="M834 1318.08 L830.3 1311.28 L837.7 1311.28 Z" fill="#000"/>
<path d="M840 1316.08 L836.3 1309.28 L843.7 1309.28 Z" fill="#000"/>
<line x1="811.1" y1="1298.4" x2="857" y2="1298.4" stroke="#000" stroke-width="2"/></svg></body></html>
